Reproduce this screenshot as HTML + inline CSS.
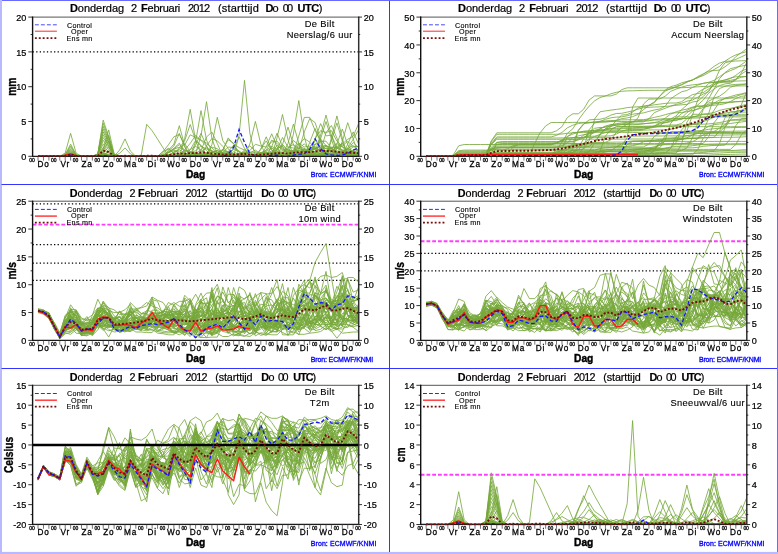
<!DOCTYPE html>
<html lang="nl"><head><meta charset="utf-8">
<title>ECMWF ensemble pluim De Bilt</title>
<style>
html,body{margin:0;padding:0;background:#fff;}
body{width:778px;height:554px;overflow:hidden;}
svg{display:block;font-family:"Liberation Sans", Arial, Helvetica, sans-serif;will-change:transform;}
text{fill:#000;}
.ttl{font-size:10.6px;stroke:#000;stroke-width:0.2px;}
.b{font-weight:bold;}
.sb{font-weight:bold;}
.yt{font-size:9.1px;stroke:#000;stroke-width:0.22px;}
.z{font-size:5px;letter-spacing:-0.15px;stroke:#000;stroke-width:0.3px;}
.dy{font-size:8.2px;letter-spacing:0.9px;stroke:#000;stroke-width:0.28px;}
.xl{font-size:10.2px;font-weight:bold;stroke:#000;stroke-width:0.4px;}
.yl{font-size:10.2px;font-weight:bold;stroke:#000;stroke-width:0.3px;}
.lg{font-size:7.2px;letter-spacing:0.3px;}
text.lg{stroke:#000;stroke-width:0.12px;}
.st{font-size:9.3px;letter-spacing:0.35px;stroke:#000;stroke-width:0.12px;}
.br{font-size:7px;fill:#0000ff;stroke:#0000ff;stroke-width:0.3px;}
.ax{fill:none;stroke:#222;stroke-width:1.2px;}
.tk{fill:none;stroke:#111;stroke-width:0.85px;}
.xtk{fill:none;stroke:#3a3a3a;stroke-width:0.7px;}
.hdot{stroke:#000;stroke-width:1.25px;stroke-dasharray:1.3 2.27;}
.hmag{stroke:#ff3cff;stroke-width:1.9px;stroke-dasharray:3.8 1.95;}
.hzero{stroke:#000;stroke-width:2.5px;}
.mem{fill:none;stroke:#76a83a;stroke-width:0.82px;stroke-linejoin:round;}
.oper{fill:none;stroke:#ff1a1a;stroke-width:1.4px;stroke-linejoin:round;}
.ctrl{fill:none;stroke:#1414ff;stroke-width:1.3px;stroke-dasharray:3.8 2.2;}
.mean{fill:none;stroke:#780c0c;stroke-width:1.9px;stroke-dasharray:1.9 1.87;}
line.ctrl.lg{stroke-dasharray:3.4 2.4;stroke-width:1px;}
line.oper.lg{stroke-width:1.1px;}
line.mean.lg{stroke-dasharray:1.9 2.0;stroke-width:1.75px;}
</style></head><body>
<svg width="778" height="554" viewBox="0 0 778 554">
<rect x="0" y="0" width="778" height="554" fill="#fff"/>
<rect x="1" y="0" width="777" height="1" fill="#6a6aff"/>
<rect x="777" y="0" width="1" height="552" fill="#6a6aff"/>
<rect x="0" y="0" width="2" height="554" fill="#b9b9ff"/>
<rect x="0" y="551.9" width="778" height="2.1" fill="#b9b9ff"/>
<path fill="none" stroke="#3434ff" stroke-width="1" d="M1.5,184.5 H777 M1.5,368.5 H777 M389.5,1 V552"/>
<g>
<text class="ttl" style="font-size:11px" y="12.1"><tspan x="69.9" textLength="54.2" lengthAdjust="spacing"><tspan class="b">D</tspan>onderdag</tspan> <tspan x="131" textLength="5" lengthAdjust="spacing">2</tspan> <tspan x="141.1" textLength="39.2" lengthAdjust="spacing"><tspan class="b">F</tspan>ebruari</tspan> <tspan x="188" textLength="22.2" lengthAdjust="spacing">2012</tspan> <tspan x="217.9" textLength="41" lengthAdjust="spacing">(starttijd</tspan> <tspan x="265.6" textLength="12.9" lengthAdjust="spacing"><tspan class="b">D</tspan>o</tspan> <tspan x="282.8" textLength="10.2" lengthAdjust="spacing">00</tspan> <tspan x="297.6" textLength="24.8" lengthAdjust="spacing"><tspan class="b">UTC</tspan>)</tspan></text>
<clipPath id="c0"><rect x="32.6" y="16.6" width="326.6" height="140.4"/></clipPath>
<line class="hdot" x1="32.6" x2="358.6" y1="51.9" y2="51.9"/>
<g clip-path="url(#c0)">
<path class="mem" d="M38,156.3L43.5,156.3L48.9,156.3L54.3,156.3L59.8,156.3L65.2,156L70.6,154.2L76.1,156L81.5,156.3L86.9,156.3L92.4,156.3L97.8,156.3L103.2,150L108.7,135.4L114.1,154.2L119.5,156.3L125,156.3L130.4,156.3L135.8,156.3L141.3,156.3L146.7,156.3L152.1,156.3L157.6,156.3L163,156.3L168.4,156.3L173.9,156.3L179.3,156.3L184.7,156.3L190.2,156.3L195.6,156.3L201,156.3L206.5,156.3L211.9,156.3L217.3,156.3L222.8,156.3L228.2,156.3L233.6,156.3L239.1,156.3L244.5,156.3L249.9,156.3L255.4,156.3L260.8,156.3L266.2,156.3L271.7,156.3L277.1,156.3L282.5,156.3L288,156.3L293.4,156.3L298.8,156.3L304.3,156.3L309.7,156.3L315.1,156.3L320.6,138.9L326,121.5L331.4,138.9L336.9,156.3L342.3,156.3L347.7,156.3L353.2,156.3L358.6,156.3M38,156.3L43.5,156.3L48.9,156.3L54.3,156.3L59.8,156.3L65.2,156.3L70.6,156.3L76.1,156.3L81.5,156.3L86.9,156.3L92.4,156.3L97.8,156.3L103.2,156.3L108.7,156.3L114.1,156.3L119.5,156.3L125,156.3L130.4,156.3L135.8,156.3L141.3,156.3L146.7,156.3L152.1,156.3L157.6,156.3L163,156.3L168.4,156.3L173.9,155.6L179.3,156.3L184.7,138.4L190.2,109.3L195.6,140.4L201,153.9L206.5,154.8L211.9,154.3L217.3,155.3L222.8,155.4L228.2,155.5L233.6,155.4L239.1,156.2L244.5,156.1L249.9,156.2L255.4,156.3L260.8,153.8L266.2,153.1L271.7,153.2L277.1,152.5L282.5,152.5L288,155.4L293.4,155.5L298.8,154.3L304.3,153.3L309.7,153L315.1,152.1L320.6,152.2L326,151.4L331.4,154L336.9,155.8L342.3,155.8L347.7,154.7L353.2,155.5L358.6,155.8M38,156.3L43.5,156.3L48.9,156.3L54.3,156.3L59.8,156.3L65.2,155.6L70.6,151.4L76.1,155.6L81.5,156.3L86.9,156.3L92.4,156.3L97.8,156.3L103.2,156.3L108.7,156.3L114.1,156.3L119.5,156.3L125,156.3L130.4,156.3L135.8,156.3L141.3,156.3L146.7,156.3L152.1,156.3L157.6,156.3L163,156.3L168.4,156.2L173.9,156.3L179.3,156.3L184.7,156.3L190.2,156.3L195.6,156.3L201,156.3L206.5,156.3L211.9,155.9L217.3,156.2L222.8,156.2L228.2,156.1L233.6,156.2L239.1,153.8L244.5,151.7L249.9,153.8L255.4,154.6L260.8,155.4L266.2,156.2L271.7,156L277.1,155.8L282.5,156.1L288,156.3L293.4,155.8L298.8,156.2L304.3,156.2L309.7,155L315.1,153.8L320.6,155.2L326,155.2L331.4,156.2L336.9,155.5L342.3,141.5L347.7,122.7L353.2,138.8L358.6,155.6M38,156.3L43.5,156.3L48.9,156.3L54.3,156.3L59.8,156.3L65.2,155.8L70.6,152.8L76.1,155.8L81.5,156.3L86.9,156.3L92.4,156.3L97.8,156.3L103.2,156.3L108.7,156.3L114.1,156.3L119.5,156.3L125,156.3L130.4,156.3L135.8,156.3L141.3,156.3L146.7,156.3L152.1,156.3L157.6,156.3L163,156.3L168.4,155L173.9,153.8L179.3,148L184.7,140.7L190.2,124.5L195.6,140.2L201,145.3L206.5,155L211.9,156L217.3,152.8L222.8,149.4L228.2,152.4L233.6,155.7L239.1,153.3L244.5,153.3L249.9,152L255.4,152.5L260.8,155.4L266.2,155.5L271.7,155.7L277.1,155.3L282.5,155.3L288,154.6L293.4,155.1L298.8,155.1L304.3,150.4L309.7,154.4L315.1,144.7L320.6,141.4L326,141.1L331.4,148.1L336.9,153.1L342.3,152.8L347.7,148.5L353.2,145.7L358.6,150.6M38,156.3L43.5,156.3L48.9,156.3L54.3,156.3L59.8,156.3L65.2,156L70.6,153.9L76.1,156L81.5,156.3L86.9,156.3L92.4,156.3L97.8,154.6L103.2,131.9L108.7,142.9L114.1,156.3L119.5,156.3L125,156.3L130.4,156.3L135.8,156.3L141.3,156.3L146.7,156.3L152.1,156.3L157.6,156.3L163,156.3L168.4,156.3L173.9,156.2L179.3,156.3L184.7,156.3L190.2,156.3L195.6,156.2L201,156.3L206.5,156.3L211.9,156.3L217.3,156.3L222.8,156.3L228.2,156.3L233.6,156.3L239.1,156.2L244.5,156.1L249.9,156.2L255.4,156.3L260.8,156.2L266.2,156.3L271.7,156.3L277.1,156.3L282.5,156.3L288,156.1L293.4,156L298.8,155.8L304.3,155.8L309.7,155.9L315.1,155.8L320.6,155.5L326,155.9L331.4,156L336.9,156.1L342.3,156.1L347.7,156.1L353.2,155.8L358.6,155.7M38,156.3L43.5,156.3L48.9,156.3L54.3,156.3L59.8,156.3L65.2,156.1L70.6,154.9L76.1,156.1L81.5,156.3L86.9,156.3L92.4,156.3L97.8,156.3L103.2,156.3L108.7,156.3L114.1,156.3L119.5,156.3L125,156.3L130.4,156.3L135.8,156.3L141.3,156.3L146.7,156.3L152.1,156.3L157.6,156.3L163,156.3L168.4,156.3L173.9,155.8L179.3,156L184.7,155.1L190.2,156.2L195.6,155.8L201,154.7L206.5,153.9L211.9,152.2L217.3,152.8L222.8,155.4L228.2,155.6L233.6,156L239.1,156L244.5,156.3L249.9,156.1L255.4,155.7L260.8,155L266.2,152.7L271.7,153.3L277.1,153.7L282.5,155.1L288,156L293.4,156.2L298.8,154.4L304.3,153.6L309.7,148.2L315.1,146.5L320.6,151.6L326,155L331.4,155.2L336.9,143.9L342.3,129.1L347.7,144.4L353.2,154.1L358.6,155.3M38,156.3L43.5,156.3L48.9,156.3L54.3,156.3L59.8,156.3L65.2,154.8L70.6,145.9L76.1,154.8L81.5,156.3L86.9,156.3L92.4,156.3L97.8,155.8L103.2,153.9L108.7,155.3L114.1,156.3L119.5,156.3L125,156.3L130.4,156.3L135.8,156.3L141.3,156.3L146.7,156.3L152.1,156.3L157.6,156.3L163,156.3L168.4,156.3L173.9,156.3L179.3,156.3L184.7,156.3L190.2,156.3L195.6,156.3L201,156.3L206.5,156.3L211.9,156.3L217.3,156.3L222.8,156.3L228.2,156.3L233.6,156.3L239.1,156.3L244.5,156.3L249.9,156.3L255.4,156.3L260.8,156.3L266.2,156.3L271.7,156.3L277.1,156.3L282.5,156.3L288,156.3L293.4,156.3L298.8,156.3L304.3,156.3L309.7,156.3L315.1,156.3L320.6,156.3L326,156.3L331.4,156.3L336.9,156.3L342.3,156.3L347.7,144.1L353.2,131.9L358.6,144.1M38,156.3L43.5,156.3L48.9,156.3L54.3,156.3L59.8,156.3L65.2,156.3L70.6,156.3L76.1,156.3L81.5,156.3L86.9,156.3L92.4,156.3L97.8,156.3L103.2,156.3L108.7,156.3L114.1,156.3L119.5,156.3L125,156.3L130.4,156.3L135.8,156.3L141.3,156.3L146.7,156.3L152.1,156.3L157.6,156.3L163,156.3L168.4,156.3L173.9,156.3L179.3,156.3L184.7,156.2L190.2,156.3L195.6,156.3L201,156.2L206.5,156.2L211.9,156.3L217.3,156.2L222.8,156L228.2,155.9L233.6,156L239.1,156.1L244.5,156.1L249.9,156.1L255.4,156.3L260.8,156.2L266.2,156.1L271.7,156.3L277.1,156.3L282.5,156.2L288,155.2L293.4,154.5L298.8,155.4L304.3,155.7L309.7,156L315.1,156.2L320.6,156.3L326,155.7L331.4,155.9L336.9,155.6L342.3,155.7L347.7,156.1L353.2,156.1L358.6,156M38,156.3L43.5,156.3L48.9,156.3L54.3,156.3L59.8,156.3L65.2,156.3L70.6,156.3L76.1,156.3L81.5,156.3L86.9,156.3L92.4,156.3L97.8,156.3L103.2,151.7L108.7,141L114.1,154.8L119.5,156.3L125,156.3L130.4,156.3L135.8,156.3L141.3,156.3L146.7,156.3L152.1,156.3L157.6,156.3L163,156.3L168.4,156.1L173.9,156.1L179.3,154.8L184.7,154.1L190.2,152.3L195.6,154.5L201,155.3L206.5,156.1L211.9,155.8L217.3,155.2L222.8,155.4L228.2,156L233.6,156.3L239.1,156.3L244.5,154.9L249.9,155.5L255.4,156.1L260.8,156.2L266.2,156.3L271.7,156.2L277.1,156.3L282.5,156.2L288,154.8L293.4,154L298.8,154.4L304.3,155.8L309.7,155.9L315.1,139L320.6,123.6L326,135.9L331.4,135.1L336.9,147.5L342.3,152.5L347.7,152.1L353.2,153.6L358.6,153M38,156.3L43.5,156.3L48.9,156.3L54.3,156.3L59.8,156.3L65.2,156.3L70.6,156.3L76.1,156.3L81.5,156.3L86.9,156.3L92.4,156.3L97.8,155.9L103.2,154.2L108.7,155.5L114.1,156.3L119.5,156.3L125,156.3L130.4,156.3L135.8,156.3L141.3,156.3L146.7,156.3L152.1,156.3L157.6,156.3L163,156.3L168.4,156.3L173.9,156.3L179.3,156.3L184.7,156.3L190.2,156.3L195.6,156.3L201,156.3L206.5,156.3L211.9,156.3L217.3,156.3L222.8,156.3L228.2,156.3L233.6,156.3L239.1,156.3L244.5,156.3L249.9,156.3L255.4,156.3L260.8,156.3L266.2,156.3L271.7,156.3L277.1,156.3L282.5,156.3L288,156.3L293.4,156.3L298.8,156.3L304.3,156.3L309.7,142.4L315.1,128.5L320.6,142.4L326,156.3L331.4,156.3L336.9,156.3L342.3,156.3L347.7,156.3L353.2,156.3L358.6,156.3M38,156.3L43.5,156.3L48.9,156.3L54.3,156.3L59.8,156.3L65.2,156.3L70.6,156.3L76.1,156.3L81.5,156.3L86.9,156.3L92.4,156.3L97.8,155L103.2,137.5L108.7,146L114.1,156.3L119.5,156.3L125,156.3L130.4,156.3L135.8,156.3L141.3,156.3L146.7,156.3L152.1,156.3L157.6,156.3L163,156.3L168.4,156.2L173.9,156.3L179.3,156.2L184.7,156.1L190.2,155.5L195.6,155.2L201,154.8L206.5,155.9L211.9,156.2L217.3,156.1L222.8,150L228.2,137.9L233.6,144.1L239.1,147.6L244.5,150.1L249.9,153.8L255.4,155.8L260.8,155.6L266.2,156.3L271.7,156.2L277.1,155.7L282.5,155.3L288,155.3L293.4,155.4L298.8,155.6L304.3,153.6L309.7,153.1L315.1,152L320.6,154.6L326,153.9L331.4,150.9L336.9,153.1L342.3,154.3L347.7,153.9L353.2,155.2L358.6,154M38,156.3L43.5,156.3L48.9,156.3L54.3,156.3L59.8,156.3L65.2,156.3L70.6,156.3L76.1,156.3L81.5,156.3L86.9,156.3L92.4,156.3L97.8,156.3L103.2,156.3L108.7,156.3L114.1,156.3L119.5,156.3L125,156.3L130.4,156.3L135.8,156.3L141.3,156.3L146.7,156.3L152.1,156.3L157.6,156.3L163,156.3L168.4,156.2L173.9,151.8L179.3,149.9L184.7,152.6L190.2,155.4L195.6,154L201,135.7L206.5,101.7L211.9,138.3L217.3,154.1L222.8,154.1L228.2,154.7L233.6,154.6L239.1,153.4L244.5,155L249.9,155.7L255.4,155.7L260.8,154.2L266.2,154L271.7,154.4L277.1,154.7L282.5,155.2L288,156.3L293.4,153.4L298.8,146.4L304.3,148.4L309.7,153.2L315.1,154.1L320.6,147.2L326,145.2L331.4,152L336.9,152.7L342.3,154L347.7,153.3L353.2,151.4L358.6,153.8M38,156.3L43.5,156.3L48.9,156.3L54.3,156.3L59.8,156.3L65.2,156.3L70.6,156.3L76.1,156.3L81.5,156.3L86.9,156.3L92.4,156.3L97.8,156.3L103.2,148.4L108.7,129.9L114.1,153.7L119.5,156.3L125,156.3L130.4,156.3L135.8,156.3L141.3,156.3L146.7,156.3L152.1,156.3L157.6,156.3L163,156.3L168.4,156.2L173.9,156.3L179.3,156.3L184.7,156.2L190.2,152.7L195.6,150.7L201,145.8L206.5,150.5L211.9,156.2L217.3,156L222.8,156.1L228.2,156.3L233.6,156.2L239.1,156.1L244.5,156.3L249.9,155.9L255.4,155L260.8,155.8L266.2,156L271.7,156.2L277.1,156.3L282.5,154.5L288,153.9L293.4,151.9L298.8,153.6L304.3,154.6L309.7,153.9L315.1,151.6L320.6,135.1L326,115.1L331.4,135.4L336.9,150.9L342.3,152.7L347.7,155L353.2,155.9L358.6,156.2M38,156.3L43.5,156.3L48.9,156.3L54.3,156.3L59.8,156.3L65.2,156.3L70.6,156.3L76.1,156.3L81.5,156.3L86.9,156.3L92.4,156.3L97.8,156.3L103.2,156.3L108.7,156.3L114.1,156.3L119.5,156.3L125,156.3L130.4,156.3L135.8,156.3L141.3,156.3L146.7,156.3L152.1,156.3L157.6,156.3L163,151.5L168.4,149L173.9,153.4L179.3,153.7L184.7,153L190.2,154.5L195.6,156.2L201,154.3L206.5,145.8L211.9,138.5L217.3,140.8L222.8,146.4L228.2,153.4L233.6,154.1L239.1,155.4L244.5,155.6L249.9,155.8L255.4,156.2L260.8,148.8L266.2,140.9L271.7,150.3L277.1,151.3L282.5,151L288,151.7L293.4,153.8L298.8,151L304.3,153.4L309.7,149.1L315.1,148.3L320.6,150.9L326,132.7L331.4,125.5L336.9,138L342.3,153.2L347.7,154.9L353.2,155.8L358.6,155.8M38,156.3L43.5,156.3L48.9,156.3L54.3,156.3L59.8,156.3L65.2,156.3L70.6,156.3L76.1,156.3L81.5,156.3L86.9,156.3L92.4,156.3L97.8,156.3L103.2,156.3L108.7,156.3L114.1,156.3L119.5,156.3L125,156.3L130.4,156.3L135.8,156.3L141.3,156.3L146.7,156.3L152.1,156.3L157.6,156.3L163,153.8L168.4,147.9L173.9,153.8L179.3,156.3L184.7,156.3L190.2,156.3L195.6,156.3L201,156.3L206.5,156.3L211.9,156.3L217.3,156.3L222.8,156.3L228.2,156.3L233.6,156.3L239.1,156.3L244.5,156.3L249.9,156.3L255.4,156.3L260.8,156.3L266.2,156.3L271.7,156.3L277.1,156.3L282.5,156.3L288,156.3L293.4,156.3L298.8,156.3L304.3,156.3L309.7,156.3L315.1,156.3L320.6,156.3L326,156.3L331.4,156.3L336.9,156.3L342.3,156.3L347.7,156.3L353.2,156.3L358.6,156.3M38,156.3L43.5,156.3L48.9,156.3L54.3,156.3L59.8,156.3L65.2,156.3L70.6,156.3L76.1,156.3L81.5,156.3L86.9,156.3L92.4,156.3L97.8,155.7L103.2,153.5L108.7,155.2L114.1,156.3L119.5,156.3L125,156.3L130.4,156.3L135.8,156.3L141.3,156.3L146.7,156.3L152.1,156.3L157.6,156.3L163,156.3L168.4,156.3L173.9,156L179.3,156.2L184.7,151.7L190.2,149.8L195.6,140.4L201,146.2L206.5,149L211.9,150.9L217.3,152L222.8,153.1L228.2,155.8L233.6,155.4L239.1,156.3L244.5,155.3L249.9,154.7L255.4,155.1L260.8,152.8L266.2,151.6L271.7,148.1L277.1,151.2L282.5,156.3L288,156.1L293.4,149.8L298.8,143L304.3,147L309.7,146.1L315.1,144.3L320.6,139L326,145.6L331.4,147.9L336.9,151.9L342.3,154.9L347.7,147.9L353.2,139.2L358.6,129.8M38,156.3L43.5,156.3L48.9,156.3L54.3,156.3L59.8,156.3L65.2,156.3L70.6,156.3L76.1,156.3L81.5,156.3L86.9,156.3L92.4,156.3L97.8,156L103.2,154.9L108.7,155.7L114.1,156.3L119.5,156.3L125,156.3L130.4,156.3L135.8,156.3L141.3,156.3L146.7,156.3L152.1,156.3L157.6,156.3L163,156.3L168.4,155.7L173.9,155.6L179.3,156.3L184.7,149.9L190.2,143.4L195.6,135.3L201,140.4L206.5,146.1L211.9,154.2L217.3,155.8L222.8,154L228.2,153.4L233.6,155L239.1,155.7L244.5,155.2L249.9,156.2L255.4,155.7L260.8,155.4L266.2,155.2L271.7,156.2L277.1,155.5L282.5,152.4L288,153.9L293.4,155.1L298.8,148.3L304.3,143.8L309.7,149.6L315.1,149.2L320.6,145.3L326,148.5L331.4,151.3L336.9,146.5L342.3,143.4L347.7,152.4L353.2,154L358.6,153.9M38,156.3L43.5,156.3L48.9,156.3L54.3,156.3L59.8,156.3L65.2,155.5L70.6,150.4L76.1,155.5L81.5,156.3L86.9,156.3L92.4,156.3L97.8,156.3L103.2,156.3L108.7,156.3L114.1,156.3L119.5,156.3L125,156.3L130.4,156.3L135.8,156.3L141.3,156.3L146.7,156.3L152.1,156.3L157.6,156.3L163,156.3L168.4,156.3L173.9,156.3L179.3,156.3L184.7,156.3L190.2,156.3L195.6,156.3L201,156.3L206.5,156.3L211.9,156.3L217.3,156.3L222.8,156.3L228.2,156.3L233.6,156.3L239.1,156.3L244.5,156.3L249.9,156.3L255.4,156.3L260.8,156.3L266.2,156.3L271.7,156.3L277.1,156.3L282.5,156.3L288,156.3L293.4,134L298.8,100.6L304.3,136.8L309.7,156.3L315.1,156.3L320.6,156.3L326,156.3L331.4,156.3L336.9,156.3L342.3,156.3L347.7,156.3L353.2,156.3L358.6,156.3M38,156.3L43.5,156.3L48.9,156.3L54.3,156.3L59.8,156.3L65.2,156.3L70.6,156.3L76.1,156.3L81.5,156.3L86.9,156.3L92.4,156.3L97.8,155.2L103.2,140.3L108.7,147.5L114.1,156.3L119.5,156.3L125,156.3L130.4,156.3L135.8,156.3L141.3,156.3L146.7,156.3L152.1,156.3L157.6,156.3L163,156.3L168.4,156.3L173.9,156.3L179.3,156.3L184.7,156.3L190.2,156.3L195.6,156.3L201,156.3L206.5,156.3L211.9,156.3L217.3,156.3L222.8,156.3L228.2,156.3L233.6,156.3L239.1,135.1L244.5,80.4L249.9,133.5L255.4,156.3L260.8,156.3L266.2,156.3L271.7,156.3L277.1,156.3L282.5,156.3L288,156.3L293.4,156.3L298.8,156.3L304.3,156.3L309.7,156.3L315.1,156.3L320.6,156.3L326,156.3L331.4,156.3L336.9,156.3L342.3,156.3L347.7,156.3L353.2,156.3L358.6,156.3M38,156.3L43.5,156.3L48.9,156.3L54.3,156.3L59.8,156.3L65.2,155.1L70.6,147.6L76.1,155.1L81.5,156.3L86.9,156.3L92.4,156.3L97.8,155.9L103.2,150L108.7,152.9L114.1,156.3L119.5,156.3L125,156.3L130.4,156.3L135.8,156.3L141.3,156.3L146.7,156.3L152.1,156.3L157.6,156.3L163,156.3L168.4,156.3L173.9,156.3L179.3,156.3L184.7,156.3L190.2,156.3L195.6,156.3L201,156.3L206.5,156.3L211.9,156.3L217.3,156.3L222.8,156.3L228.2,156.3L233.6,156.3L239.1,156.3L244.5,156.3L249.9,156.3L255.4,156.3L260.8,156.3L266.2,156.3L271.7,156.3L277.1,137.5L282.5,114.5L288,139.6L293.4,156.3L298.8,156.3L304.3,156.3L309.7,156.3L315.1,156.3L320.6,156.3L326,156.3L331.4,156.3L336.9,156.3L342.3,156.3L347.7,156.3L353.2,156.3L358.6,156.3M38,156.3L43.5,156.3L48.9,156.3L54.3,156.3L59.8,156.3L65.2,156.3L70.6,156.3L76.1,156.3L81.5,156.3L86.9,156.3L92.4,156.3L97.8,154.8L103.2,134.7L108.7,144.4L114.1,156.3L119.5,156.3L125,156.3L130.4,156.3L135.8,156.3L141.3,156.3L146.7,156.3L152.1,156.3L157.6,156.3L163,156.3L168.4,156.1L173.9,156.3L179.3,156.1L184.7,155.6L190.2,149.5L195.6,146.4L201,149.8L206.5,153.6L211.9,154.3L217.3,154.8L222.8,152.9L228.2,151.8L233.6,155.3L239.1,155.9L244.5,156L249.9,156.2L255.4,156.3L260.8,156L266.2,156L271.7,155.4L277.1,155.7L282.5,155.3L288,156.3L293.4,152.6L298.8,144.4L304.3,151.6L309.7,153.7L315.1,138.5L320.6,130.7L326,132.5L331.4,130.6L336.9,141.2L342.3,146.3L347.7,153L353.2,153.1L358.6,154M38,156.3L43.5,156.3L48.9,156.3L54.3,156.3L59.8,156.3L65.2,155.9L70.6,153.2L76.1,155.9L81.5,156.3L86.9,156.3L92.4,156.3L97.8,156.2L103.2,155.6L108.7,156L114.1,156.3L119.5,156.3L125,156.3L130.4,156.3L135.8,156.3L141.3,156.3L146.7,156.3L152.1,156.3L157.6,156.3L163,156.3L168.4,156.2L173.9,156.3L179.3,155.9L184.7,156.2L190.2,156.3L195.6,154.7L201,153.6L206.5,155.3L211.9,156.2L217.3,156.1L222.8,156.3L228.2,156.3L233.6,156.3L239.1,156.2L244.5,156.3L249.9,155.7L255.4,155L260.8,154.3L266.2,155.1L271.7,154.6L277.1,154.4L282.5,153.3L288,154.8L293.4,156.1L298.8,156.1L304.3,155.1L309.7,153.9L315.1,154.9L320.6,155.8L326,156.1L331.4,156L336.9,156.1L342.3,156.2L347.7,156.2L353.2,156.3L358.6,156.2M38,156.3L43.5,156.3L48.9,156.3L54.3,156.3L59.8,156.3L65.2,156.3L70.6,156.3L76.1,156.3L81.5,156.3L86.9,156.3L92.4,156.3L97.8,156.3L103.2,156.3L108.7,156.3L114.1,156.3L119.5,156.3L125,156.3L130.4,156.3L135.8,156.3L141.3,156.3L146.7,156.3L152.1,156.3L157.6,156.3L163,155.4L168.4,154.9L173.9,155.6L179.3,156.2L184.7,156.2L190.2,156.1L195.6,156L201,155.3L206.5,155.5L211.9,155.7L217.3,156.2L222.8,156.3L228.2,156.2L233.6,156.1L239.1,156.1L244.5,156L249.9,156.2L255.4,154.9L260.8,152.9L266.2,155.1L271.7,153.4L277.1,152.8L282.5,154.6L288,143.4L293.4,124.2L298.8,143.2L304.3,155.9L309.7,156.2L315.1,155.9L320.6,155.5L326,154.7L331.4,154.7L336.9,153.5L342.3,152.9L347.7,154.8L353.2,155.3L358.6,155.7M38,156.3L43.5,156.3L48.9,156.3L54.3,156.3L59.8,156.3L65.2,156.1L70.6,154.6L76.1,156.1L81.5,156.3L86.9,156.3L92.4,156.3L97.8,156.3L103.2,156.3L108.7,156.3L114.1,156.3L119.5,156.3L125,156.3L130.4,156.3L135.8,156.3L141.3,156.3L146.7,156.3L152.1,156.3L157.6,156.3L163,156.3L168.4,156.3L173.9,156.3L179.3,156.1L184.7,155.6L190.2,156.1L195.6,156.2L201,156.1L206.5,155.9L211.9,155.7L217.3,154.6L222.8,155.8L228.2,156.2L233.6,156.1L239.1,156.3L244.5,155.7L249.9,155L255.4,154L260.8,152.7L266.2,150.3L271.7,146.4L277.1,149.4L282.5,155.7L288,154.6L293.4,153.2L298.8,136L304.3,117.4L309.7,117.4L315.1,130.4L320.6,140.8L326,153.5L331.4,153.8L336.9,153.4L342.3,151.4L347.7,153.2L353.2,155.9L358.6,156.2M38,156.3L43.5,156.3L48.9,156.3L54.3,156.3L59.8,156.3L65.2,156.3L70.6,156.3L76.1,156.3L81.5,156.3L86.9,156.3L92.4,156.3L97.8,156.3L103.2,156.3L108.7,156.3L114.1,156.3L119.5,156.3L125,156.3L130.4,156.3L135.8,156.3L141.3,156.3L146.7,156.3L152.1,156.3L157.6,156.3L163,156L168.4,155.6L173.9,155.1L179.3,155.5L184.7,156L190.2,156L195.6,156.3L201,156.3L206.5,156.2L211.9,156L217.3,155.8L222.8,155.9L228.2,156.2L233.6,155.4L239.1,155.6L244.5,155.4L249.9,155.5L255.4,155.9L260.8,156.1L266.2,156.2L271.7,156L277.1,156.1L282.5,156.1L288,155.3L293.4,152.2L298.8,150.1L304.3,131.9L309.7,118.7L315.1,122.5L320.6,139.3L326,156.1L331.4,156L336.9,155.6L342.3,155.3L347.7,155.4L353.2,155.7L358.6,156M38,156.3L43.5,156.3L48.9,156.3L54.3,156.3L59.8,156.3L65.2,156.3L70.6,156.3L76.1,156.3L81.5,156.3L86.9,156.3L92.4,156.3L97.8,156.3L103.2,156.3L108.7,156.3L114.1,156.3L119.5,156.3L125,156.3L130.4,156.3L135.8,156.3L141.3,156.3L146.7,156.3L152.1,156.3L157.6,156.3L163,156.3L168.4,156.3L173.9,156.3L179.3,156.2L184.7,156.2L190.2,156.2L195.6,156.1L201,156.2L206.5,156.3L211.9,156.3L217.3,156.1L222.8,156.3L228.2,156.2L233.6,156.3L239.1,156.2L244.5,156.3L249.9,156.3L255.4,156.2L260.8,156.3L266.2,156.3L271.7,156.2L277.1,156.2L282.5,156.2L288,156.1L293.4,156L298.8,156.3L304.3,156.2L309.7,156.2L315.1,156.2L320.6,155.8L326,155.5L331.4,155.8L336.9,156.1L342.3,155.9L347.7,156.2L353.2,155.7L358.6,156.3M38,156.3L43.5,156.3L48.9,156.3L54.3,156.3L59.8,156.3L65.2,156.2L70.6,155.6L76.1,156.2L81.5,156.3L86.9,156.3L92.4,156.3L97.8,155.9L103.2,154.2L108.7,155.5L114.1,156.3L119.5,156.3L125,156.3L130.4,156.3L135.8,156.3L141.3,156.3L146.7,156.3L152.1,156.3L157.6,156.3L163,156.3L168.4,156.2L173.9,156.1L179.3,156.2L184.7,156.2L190.2,156.3L195.6,156.3L201,156.3L206.5,156.2L211.9,155.9L217.3,155.7L222.8,156L228.2,156.3L233.6,156.3L239.1,156.2L244.5,156.2L249.9,156.1L255.4,156.2L260.8,156.1L266.2,156L271.7,155.8L277.1,156.1L282.5,144.6L288,127.1L293.4,144.6L298.8,156L304.3,155.8L309.7,155.7L315.1,156L320.6,156.1L326,156.2L331.4,156.2L336.9,156.3L342.3,156.2L347.7,155.9L353.2,156.2L358.6,156.1M38,156.3L43.5,156.3L48.9,156.3L54.3,156.3L59.8,156.3L65.2,156.3L70.6,156.3L76.1,156.3L81.5,156.3L86.9,156.3L92.4,156.3L97.8,156.3L103.2,156.3L108.7,156.3L114.1,156.3L119.5,156.3L125,156.3L130.4,156.3L135.8,156.3L141.3,156.3L146.7,156.3L152.1,156.3L157.6,156.3L163,156.3L168.4,152.3L173.9,148.4L179.3,143.1L184.7,152.3L190.2,156.3L195.6,156.3L201,156.3L206.5,156.3L211.9,156.3L217.3,156.3L222.8,156.3L228.2,156.3L233.6,156.3L239.1,156.3L244.5,156.3L249.9,156.3L255.4,156.3L260.8,156.3L266.2,156.3L271.7,156.3L277.1,156.3L282.5,156.3L288,156.3L293.4,156.3L298.8,156.3L304.3,156.3L309.7,156.3L315.1,156.3L320.6,156.3L326,156.3L331.4,156.3L336.9,156.3L342.3,156.3L347.7,156.3L353.2,156.3L358.6,156.3M38,156.3L43.5,156.3L48.9,156.3L54.3,156.3L59.8,156.3L65.2,155.3L70.6,149.3L76.1,155.3L81.5,156.3L86.9,156.3L92.4,156.3L97.8,155.7L103.2,147.3L108.7,151.3L114.1,156.3L119.5,156.3L125,156.3L130.4,156.3L135.8,156.3L141.3,156.3L146.7,156.3L152.1,156.3L157.6,156.3L163,156.3L168.4,156.3L173.9,156.3L179.3,156.3L184.7,156.3L190.2,156.3L195.6,156.3L201,156.3L206.5,156.3L211.9,156.3L217.3,156.3L222.8,156.3L228.2,156.3L233.6,156.3L239.1,156.3L244.5,156.3L249.9,156.3L255.4,156.3L260.8,149.5L266.2,136.8L271.7,149.5L277.1,156.3L282.5,156.3L288,156.3L293.4,156.3L298.8,156.3L304.3,156.3L309.7,156.3L315.1,156.3L320.6,156.3L326,156.3L331.4,156.3L336.9,156.3L342.3,156.3L347.7,156.3L353.2,156.3L358.6,156.3M38,156.3L43.5,156.3L48.9,156.3L54.3,156.3L59.8,156.3L65.2,154.6L70.6,144.1L76.1,154.6L81.5,156.3L86.9,156.3L92.4,156.3L97.8,156.3L103.2,156.3L108.7,156.3L114.1,156.3L119.5,153.4L125,147.9L130.4,153.8L135.8,156.3L141.3,156.3L146.7,156.3L152.1,156.3L157.6,156.3L163,156.3L168.4,152.2L173.9,149L179.3,147.3L184.7,150.6L190.2,152.2L195.6,153.8L201,155.5L206.5,154.4L211.9,152.6L217.3,150.3L222.8,154.2L228.2,154.8L233.6,155.4L239.1,156.2L244.5,156.2L249.9,155.8L255.4,154.8L260.8,154.7L266.2,154.4L271.7,153.5L277.1,148.2L282.5,146.3L288,150.5L293.4,152.4L298.8,153.6L304.3,151.3L309.7,153.3L315.1,156.2L320.6,152.8L326,152.5L331.4,149.2L336.9,153L342.3,154.4L347.7,152.4L353.2,151.2L358.6,153.4M38,156.3L43.5,156.3L48.9,156.3L54.3,156.3L59.8,156.3L65.2,156.3L70.6,156.3L76.1,156.3L81.5,156.3L86.9,156.3L92.4,156.3L97.8,156.3L103.2,156.3L108.7,156.3L114.1,156.3L119.5,156.3L125,156.3L130.4,156.3L135.8,156.3L141.3,156.3L146.7,156.3L152.1,156.3L157.6,156.3L163,156.3L168.4,156.3L173.9,156.3L179.3,156.3L184.7,156.3L190.2,156.3L195.6,156.3L201,156.3L206.5,156.3L211.9,144.6L217.3,117.3L222.8,140.7L228.2,148.5L233.6,156.3L239.1,156.3L244.5,156.3L249.9,156.3L255.4,156.3L260.8,156.3L266.2,156.3L271.7,156.3L277.1,156.3L282.5,156.3L288,156.3L293.4,156.3L298.8,156.3L304.3,156.3L309.7,156.3L315.1,156.3L320.6,156.3L326,156.3L331.4,156.3L336.9,156.3L342.3,156.3L347.7,156.3L353.2,156.3L358.6,156.3M38,156.3L43.5,156.3L48.9,156.3L54.3,156.3L59.8,156.3L65.2,155.9L70.6,153.5L76.1,155.9L81.5,156.3L86.9,156.3L92.4,156.3L97.8,155.6L103.2,152.8L108.7,154.9L114.1,156.3L119.5,156.3L125,156.3L130.4,156.3L135.8,156.3L141.3,156.3L146.7,156.3L152.1,156.3L157.6,156.3L163,156.3L168.4,156.3L173.9,156.2L179.3,156L184.7,155.8L190.2,155.1L195.6,155.7L201,155L206.5,154L211.9,152.2L217.3,154.9L222.8,155L228.2,154.6L233.6,155.7L239.1,155.8L244.5,154.9L249.9,152.9L255.4,150.1L260.8,154.1L266.2,156L271.7,155.5L277.1,155.5L282.5,156.1L288,155.4L293.4,155.1L298.8,152.7L304.3,149.2L309.7,152.5L315.1,156L320.6,155.9L326,152L331.4,148.1L336.9,147.5L342.3,143.9L347.7,139.3L353.2,136.3L358.6,123.6M38,156.3L43.5,156.3L48.9,156.3L54.3,156.3L59.8,156.3L65.2,156L70.6,154.2L76.1,156L81.5,156.3L86.9,156.3L92.4,156.3L97.8,156.1L103.2,152.8L108.7,154.4L114.1,156.3L119.5,156.3L125,156.3L130.4,156.3L135.8,156.3L141.3,156.3L146.7,156.3L152.1,156.3L157.6,156.3L163,156.3L168.4,156.3L173.9,156.3L179.3,156L184.7,156.2L190.2,156L195.6,155.6L201,155.2L206.5,155.9L211.9,155.9L217.3,155.8L222.8,156L228.2,156.2L233.6,155.6L239.1,153.8L244.5,153.9L249.9,155.8L255.4,156.1L260.8,156.2L266.2,156.2L271.7,146.7L277.1,133.2L282.5,146.5L288,155.9L293.4,155.9L298.8,156L304.3,155.7L309.7,155.3L315.1,155.4L320.6,153.9L326,154.6L331.4,155.1L336.9,155.4L342.3,156L347.7,155.6L353.2,156.1L358.6,156.3M38,156.3L43.5,156.3L48.9,156.3L54.3,156.3L59.8,156.3L65.2,156.3L70.6,156.3L76.1,156.3L81.5,156.3L86.9,156.3L92.4,156.3L97.8,156.3L103.2,156.3L108.7,156.3L114.1,156.3L119.5,150.2L125,138.9L130.4,151.1L135.8,156.3L141.3,156.3L146.7,156.3L152.1,156.3L157.6,156.3L163,156.3L168.4,152.5L173.9,149.5L179.3,154.2L184.7,156.2L190.2,154.2L195.6,152.4L201,154L206.5,156L211.9,156L217.3,156.2L222.8,155.6L228.2,152.2L233.6,149.4L239.1,151.7L244.5,156.3L249.9,155.7L255.4,155.6L260.8,154.6L266.2,153.7L271.7,152.5L277.1,145.3L282.5,150.2L288,149L293.4,140.5L298.8,145.1L304.3,138.6L309.7,142.1L315.1,148.3L320.6,150.4L326,146.2L331.4,153.5L336.9,155.4L342.3,156.3L347.7,155.5L353.2,155.9L358.6,156M38,156.3L43.5,156.3L48.9,156.3L54.3,156.3L59.8,156.3L65.2,156.2L70.6,155.3L76.1,156.2L81.5,156.3L86.9,156.3L92.4,156.3L97.8,155.4L103.2,143.8L108.7,149.4L114.1,156.3L119.5,156.3L125,156.3L130.4,156.3L135.8,156.3L141.3,156.3L146.7,156.3L152.1,156.3L157.6,156.3L163,156.3L168.4,154.9L173.9,152.5L179.3,149.4L184.7,143.9L190.2,151.5L195.6,153.4L201,154.6L206.5,152.8L211.9,147.1L217.3,148.8L222.8,152.9L228.2,155.6L233.6,155.3L239.1,154.6L244.5,155.4L249.9,143.9L255.4,121.4L260.8,144L266.2,156.2L271.7,155.8L277.1,149.7L282.5,144.4L288,150.6L293.4,151.4L298.8,152.6L304.3,154.3L309.7,154.7L315.1,154L320.6,153.8L326,156.2L331.4,156.2L336.9,156.3L342.3,156L347.7,149.8L353.2,142.5L358.6,147.5M38,156.3L43.5,156.3L48.9,156.3L54.3,156.3L59.8,156.3L65.2,156.3L70.6,156.3L76.1,156.3L81.5,156.3L86.9,156.3L92.4,156.3L97.8,156.3L103.2,154.8L108.7,151.4L114.1,155.8L119.5,156.3L125,156.3L130.4,156.3L135.8,156.3L141.3,156.3L146.7,156.3L152.1,156.3L157.6,156.3L163,156.3L168.4,156.2L173.9,156.2L179.3,156.3L184.7,156.1L190.2,155.8L195.6,156.2L201,156.3L206.5,155.9L211.9,156.2L217.3,154.3L222.8,152.6L228.2,147L233.6,147.6L239.1,151L244.5,154.9L249.9,156.3L255.4,156.2L260.8,156.2L266.2,155.3L271.7,153.8L277.1,155.2L282.5,155.9L288,155.9L293.4,154.9L298.8,156.2L304.3,156.1L309.7,155.9L315.1,155.5L320.6,156.3L326,156L331.4,140.8L336.9,122.9L342.3,141.1L347.7,155.9L353.2,153.3L358.6,149.3M38,156.3L43.5,156.3L48.9,156.3L54.3,156.3L59.8,156.3L65.2,156.3L70.6,156.3L76.1,156.3L81.5,156.3L86.9,156.3L92.4,156.3L97.8,156.3L103.2,156.3L108.7,156.3L114.1,156.3L119.5,156.3L125,156.3L130.4,156.3L135.8,156.3L141.3,156.3L146.7,156.3L152.1,156.3L157.6,156.3L163,151.7L168.4,144.8L173.9,136.8L179.3,134.4L184.7,145.1L190.2,134.8L195.6,137.4L201,140L206.5,143.1L211.9,147.9L217.3,152.6L222.8,150.8L228.2,152.4L233.6,153.8L239.1,155.4L244.5,155.9L249.9,155.9L255.4,155.8L260.8,156.1L266.2,156.3L271.7,156.1L277.1,156.3L282.5,153.5L288,149.4L293.4,151.8L298.8,150.4L304.3,150.2L309.7,151.2L315.1,147.7L320.6,147L326,145.7L331.4,148.2L336.9,151.9L342.3,155.6L347.7,152.2L353.2,150.1L358.6,149.8M38,156.3L43.5,156.3L48.9,156.3L54.3,156.3L59.8,156.3L65.2,156.2L70.6,155.3L76.1,156.2L81.5,156.3L86.9,156.3L92.4,156.3L97.8,154L103.2,123.2L108.7,138.1L114.1,156.3L119.5,156.3L125,156.3L130.4,156.3L135.8,156.3L141.3,156.3L146.7,156.3L152.1,156.3L157.6,156.3L163,156.3L168.4,156.2L173.9,155.4L179.3,154.7L184.7,155.4L190.2,154.7L195.6,153.6L201,155.2L206.5,155.4L211.9,155.8L217.3,155.8L222.8,156.2L228.2,155.8L233.6,153.8L239.1,155.9L244.5,155.8L249.9,155.8L255.4,155.2L260.8,155.3L266.2,153L271.7,151.1L277.1,153.4L282.5,153.8L288,147.3L293.4,144.5L298.8,148.6L304.3,149.5L309.7,153.2L315.1,155.8L320.6,155.4L326,154.5L331.4,155L336.9,153.8L342.3,150.8L347.7,148.7L353.2,151L358.6,154.7M38,156.3L43.5,156.3L48.9,156.3L54.3,156.3L59.8,156.3L65.2,156.3L70.6,156.3L76.1,156.3L81.5,156.3L86.9,156.3L92.4,156.3L97.8,156L103.2,154.6L108.7,155.6L114.1,156.3L119.5,156.3L125,156.3L130.4,156.3L135.8,156.3L141.3,156.3L146.7,156.3L152.1,156.3L157.6,156.3L163,156.3L168.4,156.3L173.9,156.3L179.3,156.2L184.7,156.3L190.2,156.2L195.6,156.3L201,156.3L206.5,156.1L211.9,156.3L217.3,156.3L222.8,156L228.2,156.1L233.6,156.3L239.1,156.2L244.5,156.1L249.9,156L255.4,156.3L260.8,156.2L266.2,146.7L271.7,133.8L277.1,147.1L282.5,156.2L288,155.3L293.4,154.4L298.8,153L304.3,154.4L309.7,150.9L315.1,148.8L320.6,147.3L326,152.9L331.4,154.6L336.9,156.3L342.3,155L347.7,154.4L353.2,154.5L358.6,154.5M38,156.3L43.5,156.3L48.9,156.3L54.3,156.3L59.8,156.3L65.2,156.3L70.6,156.3L76.1,156.3L81.5,156.3L86.9,156.3L92.4,156.3L97.8,156.3L103.2,156.3L108.7,156.3L114.1,156.3L119.5,156.3L125,156.3L130.4,156.3L135.8,156.3L141.3,155L146.7,124.3L152.1,130.7L157.6,139.2L163,147.8L168.4,156.3L173.9,156.3L179.3,156.3L184.7,156.2L190.2,156.3L195.6,156.3L201,156L206.5,156L211.9,155.5L217.3,156L222.8,155.9L228.2,156.2L233.6,156.1L239.1,156.2L244.5,156.3L249.9,156.3L255.4,156L260.8,155.1L266.2,153.2L271.7,154.8L277.1,155.4L282.5,156.3L288,156.3L293.4,156.2L298.8,156L304.3,155.5L309.7,155.8L315.1,155.2L320.6,153.5L326,152.9L331.4,153.9L336.9,153.6L342.3,154.4L347.7,155.9L353.2,156.3L358.6,156.3M38,156.3L43.5,156.3L48.9,156.3L54.3,156.3L59.8,156.3L65.2,156.3L70.6,156.3L76.1,156.3L81.5,156.3L86.9,156.3L92.4,156.3L97.8,153.8L103.2,120.1L108.7,136.4L114.1,156.3L119.5,156.3L125,156.3L130.4,156.3L135.8,156.3L141.3,156.3L146.7,156.3L152.1,156.3L157.6,156.3L163,156.3L168.4,151.1L173.9,146L179.3,133.3L184.7,147.1L190.2,156.3L195.6,144.8L201,133.3L206.5,146L211.9,156.3L217.3,156.3L222.8,156.3L228.2,151.8L233.6,145.2L239.1,151.8L244.5,156.3L249.9,156.3L255.4,156.3L260.8,156.3L266.2,156.3L271.7,156.3L277.1,156.3L282.5,156.1L288,156.2L293.4,156.3L298.8,155.9L304.3,155.6L309.7,155.2L315.1,155.5L320.6,155.8L326,156.1L331.4,156.1L336.9,156.2L342.3,156.2L347.7,156.2L353.2,156.1L358.6,156.1M38,156.3L43.5,156.3L48.9,156.3L54.3,156.3L59.8,156.3L65.2,156.3L70.6,156.3L76.1,156.3L81.5,156.3L86.9,156.3L92.4,156.3L97.8,154.2L103.2,126.4L108.7,139.8L114.1,156.3L119.5,156.3L125,156.3L130.4,156.3L135.8,156.3L141.3,156.3L146.7,156.3L152.1,156.3L157.6,156.3L163,156.3L168.4,152.6L173.9,148.7L179.3,144.8L184.7,149.9L190.2,152.2L195.6,154.4L201,156.2L206.5,155L211.9,156.1L217.3,156.2L222.8,154.5L228.2,153.9L233.6,151.9L239.1,154.4L244.5,153.2L249.9,150.5L255.4,144.3L260.8,146L266.2,147.1L271.7,142L277.1,141.1L282.5,148.3L288,152.3L293.4,150.6L298.8,152.6L304.3,153.5L309.7,146.8L315.1,149.9L320.6,149.6L326,154.6L331.4,155.1L336.9,148.3L342.3,145.8L347.7,141.3L353.2,146.5L358.6,146.6M38,156.3L43.5,156.3L48.9,156.3L54.3,156.3L59.8,156.3L65.2,153.1L70.6,133.3L76.1,153.1L81.5,156.3L86.9,156.3L92.4,156.3L97.8,156.3L103.2,156.3L108.7,156.3L114.1,156.3L119.5,156.3L125,156.3L130.4,156.3L135.8,156.3L141.3,156.3L146.7,156.3L152.1,156.3L157.6,156.3L163,154.6L168.4,152.8L173.9,150.7L179.3,151.9L184.7,154.5L190.2,156.2L195.6,154.9L201,152.3L206.5,147.8L211.9,150.8L217.3,155.3L222.8,149.8L228.2,139.7L233.6,143.3L239.1,155.2L244.5,150L249.9,145.7L255.4,151.5L260.8,154.3L266.2,150.3L271.7,140.1L277.1,143.4L282.5,149.4L288,153.1L293.4,150.9L298.8,147.9L304.3,152L309.7,150L315.1,151.6L320.6,148.8L326,148.6L331.4,148.5L336.9,143.5L342.3,147.2L347.7,149.5L353.2,151.9L358.6,152.5M38,156.3L43.5,156.3L48.9,156.3L54.3,156.3L59.8,156.3L65.2,155.7L70.6,152.1L76.1,155.7L81.5,156.3L86.9,156.3L92.4,156.3L97.8,156.3L103.2,156.3L108.7,156.3L114.1,156.3L119.5,156.3L125,156.3L130.4,156.3L135.8,156.3L141.3,156.3L146.7,156.3L152.1,156.3L157.6,156.3L163,156.3L168.4,156.3L173.9,156.3L179.3,156.2L184.7,156.3L190.2,155.5L195.6,141.9L201,110.6L206.5,140L211.9,152L217.3,150.7L222.8,152.7L228.2,154.5L233.6,155.9L239.1,153.4L244.5,152.3L249.9,154.5L255.4,154.8L260.8,152.6L266.2,152.8L271.7,154L277.1,149.4L282.5,137.5L288,147.1L293.4,148L298.8,153.1L304.3,148.7L309.7,150.2L315.1,151.9L320.6,153.7L326,151.5L331.4,147.1L336.9,147L342.3,150.3L347.7,151L353.2,146.9L358.6,146.5M38,156.3L43.5,156.3L48.9,156.3L54.3,156.3L59.8,156.3L65.2,156.3L70.6,156.3L76.1,156.3L81.5,156.3L86.9,156.3L92.4,156.3L97.8,156.3L103.2,156.3L108.7,156.3L114.1,156.3L119.5,156.3L125,156.3L130.4,156.3L135.8,156.3L141.3,156.3L146.7,156.3L152.1,156.3L157.6,156.3L163,156.3L168.4,156.3L173.9,156.3L179.3,156.3L184.7,156.2L190.2,156.3L195.6,156.2L201,156.2L206.5,156.3L211.9,156.2L217.3,156.3L222.8,156.3L228.2,156.3L233.6,156.3L239.1,156.3L244.5,156L249.9,156.2L255.4,156.1L260.8,155.1L266.2,154.2L271.7,155.3L277.1,155.6L282.5,156L288,156.3L293.4,156.3L298.8,156.1L304.3,155.8L309.7,155.1L315.1,155.5L320.6,154.7L326,155L331.4,155L336.9,155.7L342.3,156.1L347.7,155.7L353.2,155.4L358.6,155.8M38,156.3L43.5,156.3L48.9,156.3L54.3,156.3L59.8,156.3L65.2,156.3L70.6,156.3L76.1,156.3L81.5,156.3L86.9,156.3L92.4,156.3L97.8,156.3L103.2,156.3L108.7,156.3L114.1,156.3L119.5,156.3L125,156.3L130.4,156.3L135.8,156.3L141.3,156.3L146.7,156.3L152.1,156.3L157.6,156.3L163,156.3L168.4,150.2L173.9,144.1L179.3,125.7L184.7,145.6L190.2,156.3L195.6,156.3L201,156.3L206.5,156.3L211.9,156.3L217.3,156.3L222.8,156.3L228.2,156.3L233.6,156.3L239.1,156.3L244.5,156.3L249.9,156.3L255.4,156.3L260.8,156.3L266.2,156.3L271.7,156.3L277.1,156.3L282.5,156.3L288,156.3L293.4,156.3L298.8,156.3L304.3,156.3L309.7,156.3L315.1,156.3L320.6,156.3L326,156.3L331.4,156.3L336.9,156.3L342.3,156.3L347.7,156.3L353.2,156.3L358.6,156.3M38,156.3L43.5,156.3L48.9,156.3L54.3,156.3L59.8,156.3L65.2,156.3L70.6,156.3L76.1,156.3L81.5,156.3L86.9,156.3L92.4,156.3L97.8,156L103.2,154.9L108.7,155.7L114.1,156.3L119.5,156.3L125,156.3L130.4,156.3L135.8,156.3L141.3,156.3L146.7,156.3L152.1,156.3L157.6,156.3L163,156.3L168.4,156.3L173.9,156.3L179.3,156.3L184.7,156.3L190.2,156.3L195.6,156.3L201,156.3L206.5,156.3L211.9,156.3L217.3,156.3L222.8,156.3L228.2,156.3L233.6,148.5L239.1,136.8L244.5,148.5L249.9,156.3L255.4,156.3L260.8,156.3L266.2,156.3L271.7,156.3L277.1,156.3L282.5,156.3L288,156.3L293.4,156.3L298.8,156.3L304.3,156.3L309.7,156.3L315.1,156.3L320.6,156.3L326,156.3L331.4,156.3L336.9,156.3L342.3,156.3L347.7,156.3L353.2,156.3L358.6,156.3M38,156.3L43.5,156.3L48.9,156.3L54.3,156.3L59.8,156.3L65.2,156.3L70.6,156.3L76.1,156.3L81.5,156.3L86.9,156.3L92.4,156.3L97.8,156.3L103.2,153.4L108.7,146.6L114.1,155.3L119.5,156.3L125,156.3L130.4,156.3L135.8,156.3L141.3,156.3L146.7,156.3L152.1,156.3L157.6,156.3L163,156.3L168.4,156.3L173.9,156.3L179.3,156.3L184.7,156.3L190.2,156.3L195.6,156.3L201,156.3L206.5,156.3L211.9,156.3L217.3,156.3L222.8,156.3L228.2,156.3L233.6,156.3L239.1,156.3L244.5,156.3L249.9,156.3L255.4,156.3L260.8,156.3L266.2,156.3L271.7,156.3L277.1,156.3L282.5,156.3L288,156.3L293.4,156.3L298.8,156.3L304.3,156.3L309.7,156.3L315.1,156.3L320.6,156.3L326,156.3L331.4,138.1L336.9,115.9L342.3,138.1L347.7,156.3L353.2,156.3L358.6,156.3M38,156.3L43.5,156.3L48.9,156.3L54.3,156.3L59.8,156.3L65.2,156.1L70.6,154.9L76.1,156.1L81.5,156.3L86.9,156.3L92.4,156.3L97.8,154.4L103.2,129.2L108.7,141.4L114.1,156.3L119.5,156.3L125,156.3L130.4,156.3L135.8,156.3L141.3,156.3L146.7,156.3L152.1,156.3L157.6,156.3L163,156.3L168.4,156.3L173.9,156.1L179.3,156L184.7,155.8L190.2,156.1L195.6,156.2L201,156.3L206.5,156.2L211.9,156.3L217.3,156.3L222.8,156.3L228.2,156.3L233.6,155.5L239.1,155L244.5,155.4L249.9,155.9L255.4,156.1L260.8,156.3L266.2,156.3L271.7,156.3L277.1,156.2L282.5,156.3L288,156.2L293.4,156.3L298.8,156.3L304.3,156.2L309.7,156.2L315.1,155.7L320.6,155.9L326,156.2L331.4,155.9L336.9,156.3L342.3,156L347.7,156.1L353.2,156.2L358.6,156.2M38,156.3L43.5,156.3L48.9,156.3L54.3,156.3L59.8,156.3L65.2,156.3L70.6,156.3L76.1,156.3L81.5,156.3L86.9,156.3L92.4,156.3L97.8,156.1L103.2,155.3L108.7,155.9L114.1,156.3L119.5,156.3L125,156.3L130.4,156.3L135.8,156.3L141.3,156.3L146.7,156.3L152.1,156.3L157.6,156.3L163,156.3L168.4,156.3L173.9,156.2L179.3,155.6L184.7,155.4L190.2,156.3L195.6,153L201,150.4L206.5,137L211.9,132L217.3,143.5L222.8,156.2L228.2,156.3L233.6,154.8L239.1,155.6L244.5,156.3L249.9,155.7L255.4,156.1L260.8,155.9L266.2,155.4L271.7,156L277.1,155.6L282.5,155.9L288,154.7L293.4,154.8L298.8,155.6L304.3,153.7L309.7,153.9L315.1,153.4L320.6,151.2L326,150.5L331.4,150.1L336.9,148.3L342.3,149.7L347.7,151.9L353.2,152.4L358.6,153.4"/>
<path class="oper" d="M38.03,156.3L43.47,156.3L48.9,156.3L54.33,156.3L59.77,156.3L65.2,155.26L70.63,153.86L76.07,155.6L81.5,156.3L86.93,156.3L92.37,156.3L97.8,156.3L103.23,155.95L108.67,156.3L114.1,156.3L119.53,156.3L124.97,156.3L130.4,156.3L135.83,156.3L141.27,156.3L146.7,156.3L152.13,156.3L157.57,156.3L163,156.3L168.43,156.3L173.87,156.3L179.3,156.3L184.73,156.3L190.17,156.3L195.6,156.3L201.03,156.3L206.47,156.3L211.9,156.3L217.33,156.3L222.77,156.3L228.2,156.3L233.63,156.3L239.07,156.3L244.5,156.3L249.93,156.3"/>
<path class="ctrl" d="M38.03,156.3L43.47,156.3L48.9,156.3L54.33,156.3L59.77,156.3L65.2,156.3L70.63,155.26L76.07,156.3L81.5,156.3L86.93,156.3L92.37,156.3L97.8,156.3L103.23,155.6L108.67,156.3L114.1,156.3L119.53,156.3L124.97,156.3L130.4,156.3L135.83,156.3L141.27,156.3L146.7,156.3L152.13,156.3L157.57,156.3L163,156.3L168.43,156.3L173.87,156.3L179.3,156.3L184.73,156.3L190.17,156.3L195.6,156.3L201.03,156.3L206.47,156.3L211.9,156.3L217.33,156.3L222.77,156.3L228.2,154.21L233.63,147.25L239.07,129.5L244.5,142.38L249.93,153.86L255.37,155.6L260.8,156.3L266.23,156.3L271.67,155.26L277.1,155.26L282.53,156.3L287.97,156.3L293.4,155.26L298.83,154.21L304.27,153.86L309.7,149.34L315.13,138.9L320.57,148.64L326,153.86L331.43,154.91L336.87,155.26L342.3,154.91L347.73,153.52L353.17,150.04L358.6,147.95"/>
<path class="ax" style="stroke:#1c1c1c;stroke-width:1.3px" d="M32.1,156.3H359.1"/>
<path class="mean" d="M38.03,156.3L43.47,156.3L48.9,156.3L54.33,156.3L59.77,156.3L65.2,156.02L70.63,154.31L76.07,156.02L81.5,156.3L86.93,156.3L92.37,156.3L97.8,155.89L103.23,150.69L108.67,151.98L114.1,156.15L119.53,156.12L124.97,155.78L130.4,156.15L135.83,156.3L141.27,156.27L146.7,155.66L152.13,155.79L157.57,155.96L163,155.83L168.43,155.02L173.87,154.3L179.3,153.35L184.73,153.86L190.17,153.12L195.6,153.15L201.03,152.48L206.47,152.72L211.9,153.73L217.33,153.95L222.77,154.62L228.2,154.44L233.63,154.58L239.07,154.5L244.5,153.75L249.93,154.74L255.37,154.68L260.8,154.79L266.23,154.22L271.67,153.7L277.1,153.23L282.53,153.14L287.97,153.6L293.4,152.91L298.83,152.07L304.27,152.16L309.7,152.11L315.13,151.45L320.57,150.77L326,150.98L331.43,151.3L336.87,151.71L342.3,152.57L347.73,152.76L353.17,152.79L358.6,153.28"/>
</g>
<path class="ax" style="stroke:#555;stroke-width:1px" d="M32.1,17.1H359.1"/>
<path class="ax" style="stroke:#303030;stroke-width:1.5px" d="M358.7,16.6V156.9"/>
<path class="ax" style="stroke:#111;stroke-width:1.4px" d="M32.6,16.6V156.9"/>
<text class="yt" transform="translate(26.4,160.05) scale(1,1.05)" text-anchor="end">0</text>
<text class="yt" transform="translate(363.7,160.05) scale(1,1.05)">0</text>
<text class="yt" transform="translate(26.4,125.25) scale(1,1.05)" text-anchor="end">5</text>
<text class="yt" transform="translate(363.7,125.25) scale(1,1.05)">5</text>
<text class="yt" transform="translate(26.4,90.45) scale(1,1.05)" text-anchor="end">10</text>
<text class="yt" transform="translate(363.7,90.45) scale(1,1.05)">10</text>
<text class="yt" transform="translate(26.4,55.65) scale(1,1.05)" text-anchor="end">15</text>
<text class="yt" transform="translate(363.7,55.65) scale(1,1.05)">15</text>
<text class="yt" transform="translate(26.4,20.85) scale(1,1.05)" text-anchor="end">20</text>
<text class="yt" transform="translate(363.7,20.85) scale(1,1.05)">20</text>
<path class="tk" d="M32.6,156.3h-4.3M358.6,156.3h3.44M32.6,138.9h-2M358.6,138.9h1.6M32.6,121.5h-4.3M358.6,121.5h3.44M32.6,104.1h-2M358.6,104.1h1.6M32.6,86.7h-4.3M358.6,86.7h3.44M32.6,69.3h-2M358.6,69.3h1.6M32.6,51.9h-4.3M358.6,51.9h3.44M32.6,34.5h-2M358.6,34.5h1.6M32.6,17.1h-4.3M358.6,17.1h3.44"/>
<path class="xtk" d="M38.03,156.3v4.3M43.47,156.3v4.3M48.9,156.3v4.3M59.77,156.3v4.3M65.2,156.3v4.3M70.63,156.3v4.3M81.5,156.3v4.3M86.93,156.3v4.3M92.37,156.3v4.3M103.23,156.3v4.3M108.67,156.3v4.3M114.1,156.3v4.3M124.97,156.3v4.3M130.4,156.3v4.3M135.83,156.3v4.3M146.7,156.3v4.3M152.13,156.3v4.3M157.57,156.3v4.3M168.43,156.3v4.3M173.87,156.3v4.3M179.3,156.3v4.3M190.17,156.3v4.3M195.6,156.3v4.3M201.03,156.3v4.3M211.9,156.3v4.3M217.33,156.3v4.3M222.77,156.3v4.3M233.63,156.3v4.3M239.07,156.3v4.3M244.5,156.3v4.3M255.37,156.3v4.3M260.8,156.3v4.3M266.23,156.3v4.3M277.1,156.3v4.3M282.53,156.3v4.3M287.97,156.3v4.3M298.83,156.3v4.3M304.27,156.3v4.3M309.7,156.3v4.3M320.57,156.3v4.3M326,156.3v4.3M331.43,156.3v4.3M342.3,156.3v4.3M347.73,156.3v4.3M353.17,156.3v4.3"/>
<text class="z" x="32" y="161.5" text-anchor="middle">00</text>
<text class="z" x="53.73" y="161.5" text-anchor="middle">00</text>
<text class="z" x="75.47" y="161.5" text-anchor="middle">00</text>
<text class="z" x="97.2" y="161.5" text-anchor="middle">00</text>
<text class="z" x="118.93" y="161.5" text-anchor="middle">00</text>
<text class="z" x="140.67" y="161.5" text-anchor="middle">00</text>
<text class="z" x="162.4" y="161.5" text-anchor="middle">00</text>
<text class="z" x="184.13" y="161.5" text-anchor="middle">00</text>
<text class="z" x="205.87" y="161.5" text-anchor="middle">00</text>
<text class="z" x="227.6" y="161.5" text-anchor="middle">00</text>
<text class="z" x="249.33" y="161.5" text-anchor="middle">00</text>
<text class="z" x="271.07" y="161.5" text-anchor="middle">00</text>
<text class="z" x="292.8" y="161.5" text-anchor="middle">00</text>
<text class="z" x="314.53" y="161.5" text-anchor="middle">00</text>
<text class="z" x="336.27" y="161.5" text-anchor="middle">00</text>
<text class="z" x="358" y="161.5" text-anchor="middle">00</text>
<text class="dy" x="43.67" y="166.7" text-anchor="middle">Do</text>
<text class="dy" x="65.4" y="166.7" text-anchor="middle">Vr</text>
<text class="dy" x="87.13" y="166.7" text-anchor="middle">Za</text>
<text class="dy" x="108.87" y="166.7" text-anchor="middle">Zo</text>
<text class="dy" x="130.6" y="166.7" text-anchor="middle">Ma</text>
<text class="dy" x="152.33" y="166.7" text-anchor="middle">Di</text>
<text class="dy" x="174.07" y="166.7" text-anchor="middle">Wo</text>
<text class="dy" x="195.8" y="166.7" text-anchor="middle">Do</text>
<text class="dy" x="217.53" y="166.7" text-anchor="middle">Vr</text>
<text class="dy" x="239.27" y="166.7" text-anchor="middle">Za</text>
<text class="dy" x="261" y="166.7" text-anchor="middle">Zo</text>
<text class="dy" x="282.73" y="166.7" text-anchor="middle">Ma</text>
<text class="dy" x="304.47" y="166.7" text-anchor="middle">Di</text>
<text class="dy" x="326.2" y="166.7" text-anchor="middle">Wo</text>
<text class="dy" x="347.93" y="166.7" text-anchor="middle">Do</text>
<text class="xl" x="195.6" y="177.6" text-anchor="middle">Dag</text>
<text class="yl" transform="translate(15.7,86.7) scale(1.2,1) rotate(-90)" text-anchor="middle">mm</text>
<line class="ctrl" style="stroke:#4a4aff;stroke-width:1px;stroke-dasharray:3.9 2.1" x1="34.9" x2="56.9" y1="24.8" y2="24.8"/>
<line class="oper" style="stroke:#ff1010;stroke-width:0.9px" x1="34.9" x2="56.9" y1="31.2" y2="31.2"/>
<line class="mean lg" x1="34.9" x2="56.9" y1="38.1" y2="38.1"/>
<text class="lg" x="79.6" y="27.9" text-anchor="middle">Control</text>
<text class="lg" x="79.6" y="34.3" text-anchor="middle">Oper</text>
<text class="lg" x="79.6" y="41" text-anchor="middle">Ens mn</text>
<text class="st" x="319.7" y="27.1" text-anchor="middle">De Bilt</text>
<text class="st" x="319.7" y="37.9" text-anchor="middle">Neerslag/6 uur</text>
<text class="br" x="310.8" y="176.9" textLength="65.6" lengthAdjust="spacing">Bron: ECMWF/KNMI</text>
</g>
<g>
<text class="ttl" style="font-size:11px" y="12.1"><tspan x="458" textLength="54.2" lengthAdjust="spacing"><tspan class="b">D</tspan>onderdag</tspan> <tspan x="519.1" textLength="5" lengthAdjust="spacing">2</tspan> <tspan x="529.2" textLength="39.2" lengthAdjust="spacing"><tspan class="b">F</tspan>ebruari</tspan> <tspan x="576.1" textLength="22.2" lengthAdjust="spacing">2012</tspan> <tspan x="606" textLength="41" lengthAdjust="spacing">(starttijd</tspan> <tspan x="653.7" textLength="12.9" lengthAdjust="spacing"><tspan class="b">D</tspan>o</tspan> <tspan x="670.9" textLength="10.2" lengthAdjust="spacing">00</tspan> <tspan x="685.7" textLength="24.8" lengthAdjust="spacing"><tspan class="b">UTC</tspan>)</tspan></text>
<clipPath id="c1"><rect x="420.7" y="16.6" width="326.6" height="140.4"/></clipPath>
<g clip-path="url(#c1)">
<path class="mem" d="M426.1,156.3L431.6,156.3L437,156.3L442.4,156.3L447.9,156.3L453.3,156.2L458.7,155.3L464.2,155.2L469.6,155.2L475,155.2L480.5,155.2L485.9,155.2L491.3,152.7L496.8,144.4L502.2,143.5L507.6,143.5L513.1,143.5L518.5,143.5L523.9,143.5L529.4,143.5L534.8,143.5L540.2,143.5L545.7,143.5L551.1,143.5L556.5,143.5L562,143.5L567.4,143.5L572.8,143.5L578.3,143.5L583.7,143.5L589.1,143.5L594.6,143.5L600,143.5L605.4,143.5L610.9,143.5L616.3,143.5L621.7,143.5L627.2,143.5L632.6,143.5L638,143.5L643.5,143.5L648.9,143.5L654.3,143.5L659.8,143.5L665.2,143.5L670.6,143.5L676.1,143.5L681.5,143.5L686.9,143.5L692.4,143.5L697.8,143.5L703.2,143.5L708.7,136.6L714.1,122.7L719.5,115.7L725,115.7L730.4,115.7L735.8,115.7L741.3,115.7L746.7,115.7M426.1,156.3L431.6,156.3L437,156.3L442.4,156.3L447.9,156.3L453.3,156.3L458.7,156.3L464.2,156.3L469.6,156.3L475,156.3L480.5,156.3L485.9,156.3L491.3,156.3L496.8,156.3L502.2,156.3L507.6,156.3L513.1,156.3L518.5,156.3L523.9,156.3L529.4,156.3L534.8,156.3L540.2,156.3L545.7,156.3L551.1,156.3L556.5,156.3L562,156L567.4,156L572.8,148.9L578.3,130.1L583.7,123.7L589.1,122.7L594.6,122.1L600,121.3L605.4,120.9L610.9,120.6L616.3,120.3L621.7,119.9L627.2,119.8L632.6,119.8L638,119.7L643.5,119.7L648.9,118.7L654.3,117.4L659.8,116.2L665.2,114.7L670.6,113.2L676.1,112.8L681.5,112.5L686.9,111.7L692.4,110.5L697.8,109.2L703.2,107.5L708.7,105.9L714.1,103.9L719.5,103L725,102.8L730.4,102.6L735.8,101.9L741.3,101.6L746.7,101.4M426.1,156.3L431.6,156.3L437,156.3L442.4,156.3L447.9,156.3L453.3,156L458.7,154.1L464.2,153.8L469.6,153.8L475,153.8L480.5,153.8L485.9,153.8L491.3,153.8L496.8,153.8L502.2,153.8L507.6,153.8L513.1,153.8L518.5,153.8L523.9,153.8L529.4,153.8L534.8,153.8L540.2,153.8L545.7,153.8L551.1,153.8L556.5,153.8L562,153.8L567.4,153.8L572.8,153.8L578.3,153.8L583.7,153.7L589.1,153.7L594.6,153.7L600,153.6L605.4,153.5L610.9,153.5L616.3,153.4L621.7,153.4L627.2,152.4L632.6,150.6L638,149.6L643.5,148.9L648.9,148.5L654.3,148.5L659.8,148.4L665.2,148.2L670.6,148.1L676.1,148.1L681.5,147.9L686.9,147.8L692.4,147.8L697.8,147.3L703.2,146.3L708.7,145.8L714.1,145.4L719.5,145.4L725,145L730.4,139.1L735.8,125.7L741.3,118.7L746.7,118.4M426.1,156.3L431.6,156.3L437,156.3L442.4,156.3L447.9,156.3L453.3,156.1L458.7,154.7L464.2,154.5L469.6,154.5L475,154.5L480.5,154.5L485.9,154.5L491.3,154.5L496.8,154.5L502.2,154.5L507.6,154.5L513.1,154.5L518.5,154.5L523.9,154.5L529.4,154.5L534.8,154.5L540.2,154.5L545.7,154.5L551.1,154.5L556.5,154L562,153L567.4,149.7L572.8,143.5L578.3,130.7L583.7,124.3L589.1,119.9L594.6,119.4L600,119.3L605.4,117.9L610.9,115.1L616.3,113.5L621.7,113.3L627.2,112.1L632.6,110.9L638,109.2L643.5,107.7L648.9,107.3L654.3,107L659.8,106.8L665.2,106.4L670.6,106L676.1,105.3L681.5,104.8L686.9,104.4L692.4,102L697.8,101.2L703.2,96.6L708.7,90.6L714.1,84.5L719.5,81.3L725,80L730.4,78.6L735.8,75.4L741.3,71.2L746.7,68.9M426.1,156.3L431.6,156.3L437,156.3L442.4,156.3L447.9,156.3L453.3,156.2L458.7,155.2L464.2,155.1L469.6,155.1L475,155.1L480.5,155.1L485.9,154.4L491.3,144.6L496.8,139.3L502.2,139.3L507.6,139.3L513.1,139.3L518.5,139.3L523.9,139.3L529.4,139.3L534.8,139.3L540.2,139.3L545.7,139.3L551.1,139.3L556.5,139.3L562,139.2L567.4,139.2L572.8,139.2L578.3,139.2L583.7,139.2L589.1,139.2L594.6,139.2L600,139.2L605.4,139.2L610.9,139.2L616.3,139.2L621.7,139.1L627.2,139.1L632.6,139L638,139L643.5,139L648.9,139L654.3,139L659.8,139L665.2,139L670.6,138.9L676.1,138.9L681.5,138.8L686.9,138.6L692.4,138.4L697.8,138.2L703.2,138L708.7,137.7L714.1,137.5L719.5,137.4L725,137.3L730.4,137.3L735.8,137.2L741.3,137L746.7,136.7M426.1,156.3L431.6,156.3L437,156.3L442.4,156.3L447.9,156.3L453.3,156.2L458.7,155.7L464.2,155.6L469.6,155.6L475,155.6L480.5,155.6L485.9,155.6L491.3,155.6L496.8,155.6L502.2,155.6L507.6,155.6L513.1,155.6L518.5,155.6L523.9,155.6L529.4,155.6L534.8,155.6L540.2,155.6L545.7,155.6L551.1,155.6L556.5,155.6L562,155.4L567.4,155.3L572.8,154.8L578.3,154.7L583.7,154.5L589.1,153.9L594.6,152.9L600,151.3L605.4,149.9L610.9,149.5L616.3,149.3L621.7,149.1L627.2,149L632.6,149L638,148.9L643.5,148.6L648.9,148.1L654.3,146.7L659.8,145.4L665.2,144.4L670.6,143.9L676.1,143.8L681.5,143.8L686.9,143L692.4,141.9L697.8,138.7L703.2,134.8L708.7,132.9L714.1,132.4L719.5,131.9L725,127L730.4,116.1L735.8,111.3L741.3,110.4L746.7,110M426.1,156.3L431.6,156.3L437,156.3L442.4,156.3L447.9,156.3L453.3,155.7L458.7,151.5L464.2,151L469.6,151L475,151L480.5,151L485.9,150.8L491.3,149.8L496.8,149.4L502.2,149.4L507.6,149.4L513.1,149.4L518.5,149.4L523.9,149.4L529.4,149.4L534.8,149.4L540.2,149.4L545.7,149.4L551.1,149.4L556.5,149.4L562,149.4L567.4,149.4L572.8,149.4L578.3,149.4L583.7,149.4L589.1,149.4L594.6,149.4L600,149.4L605.4,149.4L610.9,149.4L616.3,149.4L621.7,149.4L627.2,149.4L632.6,149.4L638,149.4L643.5,149.4L648.9,149.4L654.3,149.4L659.8,149.4L665.2,149.4L670.6,149.4L676.1,149.4L681.5,149.4L686.9,149.4L692.4,149.4L697.8,149.4L703.2,149.4L708.7,149.4L714.1,149.4L719.5,149.4L725,149.4L730.4,149.4L735.8,144.5L741.3,134.8L746.7,129.9M426.1,156.3L431.6,156.3L437,156.3L442.4,156.3L447.9,156.3L453.3,156.3L458.7,156.3L464.2,156.3L469.6,156.3L475,156.3L480.5,156.3L485.9,156.3L491.3,156.3L496.8,156.3L502.2,156.3L507.6,156.3L513.1,156.3L518.5,156.3L523.9,156.3L529.4,156.3L534.8,156.3L540.2,156.3L545.7,156.3L551.1,156.3L556.5,156.3L562,156.3L567.4,156.3L572.8,156.2L578.3,156.2L583.7,156.2L589.1,156.2L594.6,156.1L600,156.1L605.4,156.1L610.9,155.9L616.3,155.8L621.7,155.7L627.2,155.6L632.6,155.5L638,155.4L643.5,155.4L648.9,155.4L654.3,155.3L659.8,155.3L665.2,155.3L670.6,155.3L676.1,154.8L681.5,154.1L686.9,153.8L692.4,153.5L697.8,153.4L703.2,153.4L708.7,153.4L714.1,153.1L719.5,153L725,152.7L730.4,152.4L735.8,152.4L741.3,152.3L746.7,152.2M426.1,156.3L431.6,156.3L437,156.3L442.4,156.3L447.9,156.3L453.3,156.3L458.7,156.3L464.2,156.3L469.6,156.3L475,156.3L480.5,156.3L485.9,156.3L491.3,154.5L496.8,148.3L502.2,147.7L507.6,147.7L513.1,147.7L518.5,147.7L523.9,147.7L529.4,147.7L534.8,147.7L540.2,147.7L545.7,147.7L551.1,147.7L556.5,147.6L562,147.5L567.4,146.9L572.8,146.1L578.3,144.4L583.7,143.7L589.1,143.3L594.6,143.3L600,143.1L605.4,142.6L610.9,142.2L616.3,142.1L621.7,142.1L627.2,142.1L632.6,141.6L638,141.2L643.5,141.1L648.9,141.1L654.3,141.1L659.8,141L665.2,141L670.6,141L676.1,140.4L681.5,139.5L686.9,138.7L692.4,138.5L697.8,138.3L703.2,131.4L708.7,118.4L714.1,110.2L719.5,101.7L725,98.2L730.4,96.6L735.8,95L741.3,93.9L746.7,92.5M426.1,156.3L431.6,156.3L437,156.3L442.4,156.3L447.9,156.3L453.3,156.3L458.7,156.3L464.2,156.3L469.6,156.3L475,156.3L480.5,156.3L485.9,156.1L491.3,155.3L496.8,155L502.2,155L507.6,155L513.1,155L518.5,155L523.9,155L529.4,155L534.8,155L540.2,155L545.7,155L551.1,155L556.5,155L562,155L567.4,155L572.8,155L578.3,155L583.7,155L589.1,155L594.6,155L600,155L605.4,155L610.9,155L616.3,155L621.7,155L627.2,155L632.6,155L638,155L643.5,155L648.9,155L654.3,155L659.8,155L665.2,155L670.6,155L676.1,155L681.5,155L686.9,155L692.4,155L697.8,149.4L703.2,138.3L708.7,132.7L714.1,132.7L719.5,132.7L725,132.7L730.4,132.7L735.8,132.7L741.3,132.7L746.7,132.7M426.1,156.3L431.6,156.3L437,156.3L442.4,156.3L447.9,156.3L453.3,156.3L458.7,156.3L464.2,156.3L469.6,156.3L475,156.3L480.5,156.3L485.9,155.8L491.3,148.3L496.8,144.1L502.2,144.1L507.6,144.1L513.1,144.1L518.5,144.1L523.9,144.1L529.4,144.1L534.8,144.1L540.2,144.1L545.7,144.1L551.1,144.1L556.5,144.1L562,144.1L567.4,144.1L572.8,144L578.3,143.6L583.7,143.2L589.1,142.6L594.6,142.4L600,142.4L605.4,142.3L610.9,139.8L616.3,132.4L621.7,127.5L627.2,124L632.6,121.5L638,120.6L643.5,120.3L648.9,120L654.3,120L659.8,120L665.2,119.7L670.6,119.3L676.1,118.9L681.5,118.5L686.9,118.3L692.4,117.2L697.8,115.9L703.2,114.2L708.7,113.5L714.1,112.5L719.5,110.4L725,109.1L730.4,108.3L735.8,107.3L741.3,106.9L746.7,106M426.1,156.3L431.6,156.3L437,156.3L442.4,156.3L447.9,156.3L453.3,156.3L458.7,156.3L464.2,156.3L469.6,156.3L475,156.3L480.5,156.3L485.9,156.3L491.3,156.3L496.8,156.3L502.2,156.3L507.6,156.3L513.1,156.3L518.5,156.3L523.9,156.3L529.4,156.3L534.8,156.3L540.2,156.3L545.7,156.3L551.1,156.3L556.5,156.3L562,154.5L567.4,151.9L572.8,150.4L578.3,150L583.7,149.1L589.1,140.9L594.6,119L600,111.8L605.4,110.9L610.9,110.1L616.3,109.4L621.7,108.7L627.2,107.6L632.6,107.1L638,106.8L643.5,106.6L648.9,105.7L654.3,104.8L659.8,104.1L665.2,103.4L670.6,103L676.1,103L681.5,101.8L686.9,97.9L692.4,94.7L697.8,93.5L703.2,92.6L708.7,88.9L714.1,84.5L719.5,82.8L725,81.3L730.4,80.4L735.8,79.2L741.3,77.3L746.7,76.3M426.1,156.3L431.6,156.3L437,156.3L442.4,156.3L447.9,156.3L453.3,156.3L458.7,156.3L464.2,156.3L469.6,156.3L475,156.3L480.5,156.3L485.9,156.3L491.3,153.1L496.8,142.5L502.2,141.5L507.6,141.5L513.1,141.5L518.5,141.5L523.9,141.5L529.4,141.5L534.8,141.5L540.2,141.5L545.7,141.5L551.1,141.5L556.5,141.5L562,141.4L567.4,141.4L572.8,141.4L578.3,140L583.7,137.8L589.1,133.6L594.6,131.2L600,131.2L605.4,131.1L610.9,131L616.3,131L621.7,130.9L627.2,130.9L632.6,130.9L638,130.7L643.5,130.2L648.9,130L654.3,129.9L659.8,129.9L665.2,129.9L670.6,129.2L676.1,128.2L681.5,126.5L686.9,125.4L692.4,124.7L697.8,123.7L703.2,121.8L708.7,113.3L714.1,96.9L719.5,88.5L725,86.3L730.4,84.9L735.8,84.4L741.3,84.2L746.7,84.2M426.1,156.3L431.6,156.3L437,156.3L442.4,156.3L447.9,156.3L453.3,156.3L458.7,156.3L464.2,156.3L469.6,156.3L475,156.3L480.5,156.3L485.9,156.3L491.3,156.3L496.8,156.3L502.2,156.3L507.6,156.3L513.1,156.3L518.5,156.3L523.9,156.3L529.4,156.3L534.8,156.3L540.2,156.3L545.7,156.3L551.1,154.4L556.5,151.4L562,150.3L567.4,149.2L572.8,147.9L578.3,147.2L583.7,147.2L589.1,146.4L594.6,142.2L600,135L605.4,128.8L610.9,124.9L616.3,123.7L621.7,122.8L627.2,122.4L632.6,122.1L638,121.9L643.5,121.9L648.9,118.9L654.3,112.7L659.8,110.3L665.2,108.3L670.6,106.2L676.1,104.4L681.5,103.4L686.9,101.2L692.4,100.1L697.8,97.2L703.2,94L708.7,91.8L714.1,82.4L719.5,70.1L725,62.8L730.4,61.5L735.8,61L741.3,60.8L746.7,60.6M426.1,156.3L431.6,156.3L437,156.3L442.4,156.3L447.9,156.3L453.3,156.3L458.7,156.3L464.2,156.3L469.6,156.3L475,156.3L480.5,156.3L485.9,156.3L491.3,156.3L496.8,156.3L502.2,156.3L507.6,156.3L513.1,156.3L518.5,156.3L523.9,156.3L529.4,156.3L534.8,156.3L540.2,156.3L545.7,156.3L551.1,155.3L556.5,152L562,151L567.4,151L572.8,151L578.3,151L583.7,151L589.1,151L594.6,151L600,151L605.4,151L610.9,151L616.3,151L621.7,151L627.2,151L632.6,151L638,151L643.5,151L648.9,151L654.3,151L659.8,151L665.2,151L670.6,151L676.1,151L681.5,151L686.9,151L692.4,151L697.8,151L703.2,151L708.7,151L714.1,151L719.5,151L725,151L730.4,151L735.8,151L741.3,151L746.7,151M426.1,156.3L431.6,156.3L437,156.3L442.4,156.3L447.9,156.3L453.3,156.3L458.7,156.3L464.2,156.3L469.6,156.3L475,156.3L480.5,156.3L485.9,156.1L491.3,155L496.8,154.5L502.2,154.5L507.6,154.5L513.1,154.5L518.5,154.5L523.9,154.5L529.4,154.5L534.8,154.5L540.2,154.5L545.7,154.5L551.1,154.5L556.5,154.5L562,154.4L567.4,154.3L572.8,152.5L578.3,149.9L583.7,143.5L589.1,139.5L594.6,136.5L600,134.4L605.4,132.7L610.9,131.4L616.3,131.2L621.7,130.8L627.2,130.8L632.6,130.4L638,129.8L643.5,129.3L648.9,127.9L654.3,126L659.8,122.8L665.2,120.7L670.6,120.7L676.1,120.6L681.5,118.1L686.9,112.7L692.4,109L697.8,104.9L703.2,100.1L708.7,93.2L714.1,88.9L719.5,85.6L725,83.9L730.4,83.3L735.8,79.9L741.3,73.1L746.7,62.5M426.1,156.3L431.6,156.3L437,156.3L442.4,156.3L447.9,156.3L453.3,156.3L458.7,156.3L464.2,156.3L469.6,156.3L475,156.3L480.5,156.3L485.9,156.2L491.3,155.6L496.8,155.4L502.2,155.4L507.6,155.4L513.1,155.4L518.5,155.4L523.9,155.4L529.4,155.4L534.8,155.4L540.2,155.4L545.7,155.4L551.1,155.4L556.5,155.2L562,154.9L567.4,154.9L572.8,152.3L578.3,147.2L583.7,138.8L589.1,132.4L594.6,128.3L600,127.5L605.4,127.3L610.9,126.3L616.3,125.2L621.7,124.6L627.2,124.4L632.6,123.9L638,123.9L643.5,123.6L648.9,123.3L654.3,122.8L659.8,122.8L665.2,122.5L670.6,120.9L676.1,119.9L681.5,119.5L686.9,116.2L692.4,111.2L697.8,108.6L703.2,105.7L708.7,101.3L714.1,98.2L719.5,96.2L725,92.3L730.4,87.2L735.8,85.6L741.3,84.7L746.7,83.7M426.1,156.3L431.6,156.3L437,156.3L442.4,156.3L447.9,156.3L453.3,156L458.7,153.6L464.2,153.3L469.6,153.3L475,153.3L480.5,153.3L485.9,153.3L491.3,153.3L496.8,153.3L502.2,153.3L507.6,153.3L513.1,153.3L518.5,153.3L523.9,153.3L529.4,153.3L534.8,153.3L540.2,153.3L545.7,153.3L551.1,153.3L556.5,153.3L562,153.3L567.4,153.3L572.8,153.3L578.3,153.3L583.7,153.3L589.1,153.3L594.6,153.3L600,153.3L605.4,153.3L610.9,153.3L616.3,153.3L621.7,153.3L627.2,153.3L632.6,153.3L638,153.3L643.5,153.3L648.9,153.3L654.3,153.3L659.8,153.3L665.2,153.3L670.6,153.3L676.1,153.3L681.5,144.4L686.9,122.1L692.4,114.3L697.8,114.3L703.2,114.3L708.7,114.3L714.1,114.3L719.5,114.3L725,114.3L730.4,114.3L735.8,114.3L741.3,114.3L746.7,114.3M426.1,156.3L431.6,156.3L437,156.3L442.4,156.3L447.9,156.3L453.3,156.3L458.7,156.3L464.2,156.3L469.6,156.3L475,156.3L480.5,156.3L485.9,155.9L491.3,149.4L496.8,145.9L502.2,145.9L507.6,145.9L513.1,145.9L518.5,145.9L523.9,145.9L529.4,145.9L534.8,145.9L540.2,145.9L545.7,145.9L551.1,145.9L556.5,145.9L562,145.9L567.4,145.9L572.8,145.9L578.3,145.9L583.7,145.9L589.1,145.9L594.6,145.9L600,145.9L605.4,145.9L610.9,145.9L616.3,145.9L621.7,145.9L627.2,137.4L632.6,107.1L638,98L643.5,98L648.9,98L654.3,98L659.8,98L665.2,98L670.6,98L676.1,98L681.5,98L686.9,98L692.4,98L697.8,98L703.2,98L708.7,98L714.1,98L719.5,98L725,98L730.4,98L735.8,98L741.3,98L746.7,98M426.1,156.3L431.6,156.3L437,156.3L442.4,156.3L447.9,156.3L453.3,155.8L458.7,152.3L464.2,151.8L469.6,151.8L475,151.8L480.5,151.8L485.9,151.7L491.3,149.2L496.8,147.8L502.2,147.8L507.6,147.8L513.1,147.8L518.5,147.8L523.9,147.8L529.4,147.8L534.8,147.8L540.2,147.8L545.7,147.8L551.1,147.8L556.5,147.8L562,147.8L567.4,147.8L572.8,147.8L578.3,147.8L583.7,147.8L589.1,147.8L594.6,147.8L600,147.8L605.4,147.8L610.9,147.8L616.3,147.8L621.7,147.8L627.2,147.8L632.6,147.8L638,147.8L643.5,147.8L648.9,147.8L654.3,147.8L659.8,147.8L665.2,140.3L670.6,123.6L676.1,116.9L681.5,116.9L686.9,116.9L692.4,116.9L697.8,116.9L703.2,116.9L708.7,116.9L714.1,116.9L719.5,116.9L725,116.9L730.4,116.9L735.8,116.9L741.3,116.9L746.7,116.9M426.1,156.3L431.6,156.3L437,156.3L442.4,156.3L447.9,156.3L453.3,156.3L458.7,156.3L464.2,156.3L469.6,156.3L475,156.3L480.5,156.3L485.9,155.7L491.3,147.1L496.8,142.3L502.2,142.3L507.6,142.3L513.1,142.3L518.5,142.3L523.9,142.3L529.4,142.3L534.8,142.3L540.2,142.3L545.7,142.3L551.1,142.3L556.5,142.2L562,142.2L567.4,142.2L572.8,141.9L578.3,139.2L583.7,135.2L589.1,132.6L594.6,131.5L600,130.7L605.4,130.1L610.9,128.7L616.3,127L621.7,126.6L627.2,126.4L632.6,126.3L638,126.3L643.5,126.3L648.9,126.1L654.3,126L659.8,125.6L665.2,125.4L670.6,125L676.1,125L681.5,123.5L686.9,118.8L692.4,116.9L697.8,115.8L703.2,108.7L708.7,98.5L714.1,89L719.5,78.7L725,72.6L730.4,68.7L735.8,67.3L741.3,66.1L746.7,65.1M426.1,156.3L431.6,156.3L437,156.3L442.4,156.3L447.9,156.3L453.3,156.1L458.7,154.9L464.2,154.7L469.6,154.7L475,154.7L480.5,154.7L485.9,154.6L491.3,154.4L496.8,154.3L502.2,154.3L507.6,154.3L513.1,154.3L518.5,154.3L523.9,154.3L529.4,154.3L534.8,154.3L540.2,154.3L545.7,154.3L551.1,154.3L556.5,154.2L562,154.2L567.4,154.1L572.8,154L578.3,154L583.7,153.4L589.1,152.3L594.6,151.9L600,151.9L605.4,151.8L610.9,151.8L616.3,151.7L621.7,151.7L627.2,151.7L632.6,151.7L638,151.5L643.5,151L648.9,150.2L654.3,149.7L659.8,149L665.2,148.3L670.6,147L676.1,146.4L681.5,146.4L686.9,146.3L692.4,145.8L697.8,144.9L703.2,144.3L708.7,144.1L714.1,144L719.5,143.9L725,143.8L730.4,143.8L735.8,143.7L741.3,143.7L746.7,143.7M426.1,156.3L431.6,156.3L437,156.3L442.4,156.3L447.9,156.3L453.3,156.3L458.7,156.3L464.2,156.3L469.6,156.3L475,156.3L480.5,156.3L485.9,156.3L491.3,156.3L496.8,156.3L502.2,156.3L507.6,156.3L513.1,156.3L518.5,156.3L523.9,156.3L529.4,156.3L534.8,156.3L540.2,156.3L545.7,156.3L551.1,155.9L556.5,155.4L562,155.1L567.4,155.1L572.8,155L578.3,154.9L583.7,154.8L589.1,154.4L594.6,154.1L600,153.9L605.4,153.8L610.9,153.8L616.3,153.8L621.7,153.7L627.2,153.6L632.6,153.5L638,153.4L643.5,152.8L648.9,151.5L654.3,151L659.8,149.9L665.2,148.5L670.6,147.8L676.1,142.6L681.5,129.8L686.9,124.5L692.4,124.4L697.8,124.4L703.2,124.2L708.7,123.9L714.1,123.3L719.5,122.6L725,121.5L730.4,120.1L735.8,119.5L741.3,119.1L746.7,118.8M426.1,156.3L431.6,156.3L437,156.3L442.4,156.3L447.9,156.3L453.3,156.2L458.7,155.5L464.2,155.4L469.6,155.4L475,155.4L480.5,155.4L485.9,155.4L491.3,155.4L496.8,155.4L502.2,155.4L507.6,155.4L513.1,155.4L518.5,155.4L523.9,155.4L529.4,155.4L534.8,155.4L540.2,155.4L545.7,155.4L551.1,155.4L556.5,155.4L562,155.4L567.4,155.3L572.8,155L578.3,154.9L583.7,154.9L589.1,154.8L594.6,154.6L600,154.4L605.4,153.7L610.9,153.5L616.3,153.4L621.7,153.4L627.2,153.4L632.6,153.1L638,152.6L643.5,151.7L648.9,150.3L654.3,147.9L659.8,143.9L665.2,141.2L670.6,140.9L676.1,140.3L681.5,139L686.9,130.9L692.4,115.4L697.8,99.8L703.2,89.5L708.7,83.3L714.1,82.1L719.5,81.1L725,80L730.4,78L735.8,76.8L741.3,76.6L746.7,76.6M426.1,156.3L431.6,156.3L437,156.3L442.4,156.3L447.9,156.3L453.3,156.3L458.7,156.3L464.2,156.3L469.6,156.3L475,156.3L480.5,156.3L485.9,156.3L491.3,156.3L496.8,156.3L502.2,156.3L507.6,156.3L513.1,156.3L518.5,156.3L523.9,156.3L529.4,156.3L534.8,156.3L540.2,156.3L545.7,156.3L551.1,156.2L556.5,155.9L562,155.4L567.4,155.1L572.8,155L578.3,154.8L583.7,154.8L589.1,154.8L594.6,154.8L600,154.6L605.4,154.4L610.9,154.3L616.3,154.2L621.7,153.9L627.2,153.6L632.6,153.2L638,152.9L643.5,152.8L648.9,152.7L654.3,152.7L659.8,152.5L665.2,152.5L670.6,152.4L676.1,152L681.5,150.4L686.9,147.9L692.4,138.1L697.8,123.1L703.2,109.6L708.7,102.8L714.1,102.7L719.5,102.6L725,102.3L730.4,101.9L735.8,101.5L741.3,101.3L746.7,101.2M426.1,156.3L431.6,156.3L437,156.3L442.4,156.3L447.9,156.3L453.3,156.3L458.7,156.3L464.2,156.3L469.6,156.3L475,156.3L480.5,156.3L485.9,156.3L491.3,156.3L496.8,156.3L502.2,156.3L507.6,156.3L513.1,156.3L518.5,156.3L523.9,156.3L529.4,156.3L534.8,156.3L540.2,156.3L545.7,156.3L551.1,156.3L556.5,156.3L562,156.3L567.4,156.2L572.8,156.2L578.3,156.1L583.7,156.1L589.1,156L594.6,156L600,156L605.4,155.9L610.9,155.9L616.3,155.9L621.7,155.9L627.2,155.9L632.6,155.8L638,155.8L643.5,155.8L648.9,155.8L654.3,155.8L659.8,155.8L665.2,155.7L670.6,155.7L676.1,155.6L681.5,155.5L686.9,155.5L692.4,155.4L697.8,155.4L703.2,155.3L708.7,155.1L714.1,154.8L719.5,154.6L725,154.5L730.4,154.4L735.8,154.3L741.3,154.1L746.7,154.1M426.1,156.3L431.6,156.3L437,156.3L442.4,156.3L447.9,156.3L453.3,156.3L458.7,156L464.2,155.9L469.6,155.9L475,155.9L480.5,155.9L485.9,155.8L491.3,154.9L496.8,154.6L502.2,154.6L507.6,154.6L513.1,154.6L518.5,154.6L523.9,154.6L529.4,154.6L534.8,154.6L540.2,154.6L545.7,154.6L551.1,154.6L556.5,154.6L562,154.5L567.4,154.4L572.8,154.4L578.3,154.4L583.7,154.4L589.1,154.4L594.6,154.3L600,154.2L605.4,153.9L610.9,153.8L616.3,153.8L621.7,153.8L627.2,153.8L632.6,153.8L638,153.7L643.5,153.6L648.9,153.6L654.3,153.5L659.8,153.3L665.2,153.2L670.6,148.5L676.1,136.8L681.5,132.2L686.9,132L692.4,131.8L697.8,131.6L703.2,131.5L708.7,131.4L714.1,131.4L719.5,131.4L725,131.4L730.4,131.3L735.8,131.2L741.3,131.1L746.7,131.1M426.1,156.3L431.6,156.3L437,156.3L442.4,156.3L447.9,156.3L453.3,156.3L458.7,156.3L464.2,156.3L469.6,156.3L475,156.3L480.5,156.3L485.9,156.3L491.3,156.3L496.8,156.3L502.2,156.3L507.6,156.3L513.1,156.3L518.5,156.3L523.9,156.3L529.4,156.3L534.8,156.3L540.2,156.3L545.7,156.3L551.1,156.3L556.5,154.7L562,151.5L567.4,146.2L572.8,144.7L578.3,144.7L583.7,144.7L589.1,144.7L594.6,144.7L600,144.7L605.4,144.7L610.9,144.7L616.3,144.7L621.7,144.7L627.2,144.7L632.6,144.7L638,144.7L643.5,144.7L648.9,144.7L654.3,144.7L659.8,144.7L665.2,144.7L670.6,144.7L676.1,144.7L681.5,144.7L686.9,144.7L692.4,144.7L697.8,144.7L703.2,144.7L708.7,144.7L714.1,144.7L719.5,144.7L725,144.7L730.4,144.7L735.8,144.7L741.3,144.7L746.7,144.7M426.1,156.3L431.6,156.3L437,156.3L442.4,156.3L447.9,156.3L453.3,155.9L458.7,153.1L464.2,152.7L469.6,152.7L475,152.7L480.5,152.7L485.9,152.5L491.3,148.9L496.8,146.9L502.2,146.9L507.6,146.9L513.1,146.9L518.5,146.9L523.9,146.9L529.4,146.9L534.8,146.9L540.2,146.9L545.7,146.9L551.1,146.9L556.5,146.9L562,146.9L567.4,146.9L572.8,146.9L578.3,146.9L583.7,146.9L589.1,146.9L594.6,146.9L600,146.9L605.4,146.9L610.9,146.9L616.3,146.9L621.7,146.9L627.2,146.9L632.6,146.9L638,146.9L643.5,146.9L648.9,144.1L654.3,136.3L659.8,133.6L665.2,133.6L670.6,133.6L676.1,133.6L681.5,133.6L686.9,133.6L692.4,133.6L697.8,133.6L703.2,133.6L708.7,133.6L714.1,133.6L719.5,133.6L725,133.6L730.4,133.6L735.8,133.6L741.3,133.6L746.7,133.6M426.1,156.3L431.6,156.3L437,156.3L442.4,156.3L447.9,156.3L453.3,155.6L458.7,150.7L464.2,150.1L469.6,150.1L475,150.1L480.5,150.1L485.9,150.1L491.3,150.1L496.8,150.1L502.2,150.1L507.6,148.9L513.1,145.6L518.5,144.6L523.9,144.6L529.4,144.6L534.8,144.6L540.2,144.6L545.7,144.6L551.1,144.6L556.5,142.9L562,140L567.4,136.4L572.8,134.1L578.3,132.5L583.7,131.5L589.1,131.2L594.6,130.4L600,128.9L605.4,126.5L610.9,125.7L616.3,125.1L621.7,124.7L627.2,124.7L632.6,124.7L638,124.5L643.5,123.9L648.9,123.2L654.3,122.5L659.8,121.3L665.2,118.1L670.6,114.1L676.1,111.8L681.5,110.2L686.9,109.1L692.4,107.1L697.8,105.9L703.2,105.9L708.7,104.5L714.1,103L719.5,100.1L725,98.8L730.4,98L735.8,96.5L741.3,94.5L746.7,93.3M426.1,156.3L431.6,156.3L437,156.3L442.4,156.3L447.9,156.3L453.3,156.3L458.7,156.3L464.2,156.3L469.6,156.3L475,156.3L480.5,156.3L485.9,156.3L491.3,156.3L496.8,156.3L502.2,156.3L507.6,156.3L513.1,156.3L518.5,156.3L523.9,156.3L529.4,156.3L534.8,156.3L540.2,156.3L545.7,156.3L551.1,156.3L556.5,156.3L562,156.3L567.4,156.3L572.8,156.3L578.3,156.3L583.7,156.3L589.1,156.3L594.6,156.3L600,151.6L605.4,136L610.9,129.8L616.3,126.7L621.7,126.7L627.2,126.7L632.6,126.7L638,126.7L643.5,126.7L648.9,126.7L654.3,126.7L659.8,126.7L665.2,126.7L670.6,126.7L676.1,126.7L681.5,126.7L686.9,126.7L692.4,126.7L697.8,126.7L703.2,126.7L708.7,126.7L714.1,126.7L719.5,126.7L725,126.7L730.4,126.7L735.8,126.7L741.3,126.7L746.7,126.7M426.1,156.3L431.6,156.3L437,156.3L442.4,156.3L447.9,156.3L453.3,156.1L458.7,155L464.2,154.9L469.6,154.9L475,154.9L480.5,154.9L485.9,154.6L491.3,153.2L496.8,152.6L502.2,152.6L507.6,152.6L513.1,152.6L518.5,152.6L523.9,152.6L529.4,152.6L534.8,152.6L540.2,152.6L545.7,152.6L551.1,152.6L556.5,152.6L562,152.6L567.4,152.5L572.8,152.3L578.3,151.8L583.7,151.5L589.1,151L594.6,150.1L600,148.5L605.4,147.9L610.9,147.4L616.3,146.7L621.7,146.5L627.2,146.3L632.6,145.7L638,144.3L643.5,141.8L648.9,140.9L654.3,140.8L659.8,140.5L665.2,140.2L670.6,140.1L676.1,139.7L681.5,139.3L686.9,137.8L692.4,135L697.8,133.5L703.2,133.3L708.7,133.2L714.1,131.5L719.5,128.2L725,124.7L730.4,119.7L735.8,112.9L741.3,104.9L746.7,91.8M426.1,156.3L431.6,156.3L437,156.3L442.4,156.3L447.9,156.3L453.3,156.2L458.7,155.3L464.2,155.2L469.6,155.2L475,155.2L480.5,155.2L485.9,155.1L491.3,153.7L496.8,153L502.2,153L507.6,153L513.1,153L518.5,153L523.9,153L529.4,153L534.8,153L540.2,153L545.7,153L551.1,153L556.5,153L562,153L567.4,152.9L572.8,152.8L578.3,152.7L583.7,152.5L589.1,152L594.6,151.9L600,151.7L605.4,151.5L610.9,151.4L616.3,151.4L621.7,151.1L627.2,150.1L632.6,149.1L638,148.9L643.5,148.8L648.9,148.8L654.3,148.7L659.8,144.9L665.2,135.7L670.6,131.7L676.1,131.6L681.5,131.4L686.9,131.3L692.4,131.1L697.8,130.7L703.2,130.3L708.7,129.3L714.1,128.7L719.5,128.2L725,127.8L730.4,127.7L735.8,127.5L741.3,127.4L746.7,127.4M426.1,156.3L431.6,156.3L437,156.3L442.4,156.3L447.9,156.3L453.3,156.3L458.7,156.3L464.2,156.3L469.6,156.3L475,156.3L480.5,156.3L485.9,156.3L491.3,156.3L496.8,156.3L502.2,156.3L507.6,153.9L513.1,146.9L518.5,144.8L523.9,144.8L529.4,144.8L534.8,144.8L540.2,144.8L545.7,144.8L551.1,144.8L556.5,143.3L562,140.6L567.4,139.7L572.8,139.7L578.3,138.8L583.7,137.3L589.1,136.3L594.6,136.2L600,136.1L605.4,136.1L610.9,135.8L616.3,134.1L621.7,131.4L627.2,129.5L632.6,129.5L638,129.3L643.5,129L648.9,128.3L654.3,127.3L659.8,125.8L665.2,121.4L670.6,118.9L676.1,116L681.5,109.7L686.9,105.2L692.4,98.1L697.8,92.4L703.2,89.2L708.7,86.9L714.1,82.9L719.5,81.7L725,81.4L730.4,81.4L735.8,81.1L741.3,80.9L746.7,80.8M426.1,156.3L431.6,156.3L437,156.3L442.4,156.3L447.9,156.3L453.3,156.2L458.7,155.8L464.2,155.8L469.6,155.8L475,155.8L480.5,155.8L485.9,155.4L491.3,150.4L496.8,147.6L502.2,147.6L507.6,147.6L513.1,147.6L518.5,147.6L523.9,147.6L529.4,147.6L534.8,147.6L540.2,147.6L545.7,147.6L551.1,147.6L556.5,147.1L562,145.6L567.4,142.8L572.8,137.8L578.3,135.9L583.7,134.7L589.1,134L594.6,132.6L600,128.9L605.4,126L610.9,124.6L616.3,124.3L621.7,123.9L627.2,123.2L632.6,122.9L638,117.9L643.5,104L648.9,99.1L654.3,99L659.8,98.8L665.2,96.2L670.6,91.4L676.1,89.1L681.5,87.2L686.9,85.7L692.4,84.9L697.8,84.3L703.2,83.4L708.7,82.4L714.1,82.4L719.5,82.3L725,82.3L730.4,82.2L735.8,79.6L741.3,74.1L746.7,70.6M426.1,156.3L431.6,156.3L437,156.3L442.4,156.3L447.9,156.3L453.3,156.3L458.7,156.3L464.2,156.3L469.6,156.3L475,156.3L480.5,156.3L485.9,156.3L491.3,155.7L496.8,153.8L502.2,153.6L507.6,153.6L513.1,153.6L518.5,153.6L523.9,153.6L529.4,153.6L534.8,153.6L540.2,153.6L545.7,153.6L551.1,153.6L556.5,153.5L562,153.5L567.4,153.5L572.8,153.4L578.3,153.2L583.7,153.2L589.1,153.2L594.6,153L600,153L605.4,152.2L610.9,150.7L616.3,147L621.7,143.6L627.2,141.5L632.6,140.9L638,140.9L643.5,140.8L648.9,140.8L654.3,140.4L659.8,139.4L665.2,139L670.6,138.8L676.1,138.7L681.5,138.1L686.9,138.1L692.4,138L697.8,137.8L703.2,137.5L708.7,137.5L714.1,137.3L719.5,131.1L725,117.8L730.4,111.7L735.8,111.5L741.3,110.3L746.7,107.5M426.1,156.3L431.6,156.3L437,156.3L442.4,156.3L447.9,156.3L453.3,156.3L458.7,156.3L464.2,156.3L469.6,156.3L475,156.3L480.5,156.3L485.9,156.3L491.3,156.3L496.8,156.3L502.2,156.3L507.6,156.3L513.1,156.3L518.5,156.3L523.9,156.3L529.4,156.3L534.8,156.3L540.2,156.3L545.7,156.3L551.1,154.5L556.5,149.9L562,142.1L567.4,133.3L572.8,128.8L578.3,120.2L583.7,112.7L589.1,106.2L594.6,100.9L600,97.5L605.4,96L610.9,93.8L616.3,92.3L621.7,91.3L627.2,90.9L632.6,90.8L638,90.6L643.5,90.4L648.9,90.3L654.3,90.3L659.8,90.3L665.2,90.3L670.6,89.2L676.1,86.4L681.5,84.6L686.9,82.3L692.4,79.8L697.8,77.8L703.2,74.3L708.7,70.6L714.1,66.3L719.5,63.1L725,61.3L730.4,61L735.8,59.4L741.3,56.9L746.7,54.3M426.1,156.3L431.6,156.3L437,156.3L442.4,156.3L447.9,156.3L453.3,156.2L458.7,155.8L464.2,155.8L469.6,155.8L475,155.8L480.5,155.8L485.9,154.8L491.3,141.6L496.8,134.3L502.2,134.3L507.6,134.3L513.1,134.3L518.5,134.3L523.9,134.3L529.4,134.3L534.8,134.3L540.2,134.3L545.7,134.3L551.1,134.3L556.5,134.3L562,134L567.4,133.3L572.8,132.9L578.3,132.3L583.7,131.2L589.1,130.8L594.6,130.4L600,130.2L605.4,130L610.9,130L616.3,129.8L621.7,128.8L627.2,128.6L632.6,128.4L638,128.2L643.5,127.8L648.9,127.4L654.3,126.1L659.8,124L665.2,122.8L670.6,121.8L676.1,118.3L681.5,113.6L686.9,110.5L692.4,107.7L697.8,106.5L703.2,106.3L708.7,105.9L714.1,105.2L719.5,104.7L725,103.7L730.4,101.5L735.8,98.5L741.3,96.3L746.7,95.7M426.1,156.3L431.6,156.3L437,156.3L442.4,156.3L447.9,156.3L453.3,156.3L458.7,156.3L464.2,156.3L469.6,156.3L475,156.3L480.5,156.3L485.9,156.2L491.3,155.5L496.8,155.2L502.2,155.2L507.6,155.2L513.1,155.2L518.5,155.2L523.9,155.2L529.4,155.2L534.8,155.2L540.2,155.2L545.7,155.2L551.1,155.2L556.5,155.2L562,155.2L567.4,155.2L572.8,155.2L578.3,155.1L583.7,155.1L589.1,155.1L594.6,155L600,155L605.4,155L610.9,154.9L616.3,154.8L621.7,154.8L627.2,154.8L632.6,154.7L638,154.6L643.5,154.6L648.9,154.6L654.3,150.7L659.8,141.7L665.2,138.1L670.6,138L676.1,137.6L681.5,136.9L686.9,135.6L692.4,134.8L697.8,132.7L703.2,129.7L708.7,126.1L714.1,124.7L719.5,124L725,124L730.4,123.5L735.8,122.7L741.3,122L746.7,121.3M426.1,156.3L431.6,156.3L437,156.3L442.4,156.3L447.9,156.3L453.3,156.3L458.7,156.3L464.2,156.3L469.6,156.3L475,156.3L480.5,156.3L485.9,156.3L491.3,156.3L496.8,156.3L502.2,156.3L507.6,156.3L513.1,156.3L518.5,156.3L523.9,156.3L529.4,155.8L534.8,143L540.2,132.7L545.7,125.9L551.1,122.5L556.5,122.5L562,122.5L567.4,122.5L572.8,122.4L578.3,122.4L583.7,122.4L589.1,122.3L594.6,122.2L600,121.9L605.4,121.7L610.9,121.6L616.3,121.6L621.7,121.5L627.2,121.5L632.6,121.5L638,121.4L643.5,121.3L648.9,120.9L654.3,119.6L659.8,119L665.2,118.7L670.6,118.6L676.1,118.6L681.5,118.6L686.9,118.5L692.4,118.1L697.8,118L703.2,117.5L708.7,116.4L714.1,115.1L719.5,114.1L725,113L730.4,112.2L735.8,112.1L741.3,112.1L746.7,112.1M426.1,156.3L431.6,156.3L437,156.3L442.4,156.3L447.9,156.3L453.3,156.3L458.7,156.3L464.2,156.3L469.6,156.3L475,156.3L480.5,156.3L485.9,155.3L491.3,140.8L496.8,132.8L502.2,132.8L507.6,132.8L513.1,132.8L518.5,132.8L523.9,132.8L529.4,132.8L534.8,132.8L540.2,132.8L545.7,132.8L551.1,132.8L556.5,130.8L562,126.6L567.4,117.5L572.8,113.8L578.3,113.8L583.7,109.2L589.1,100L594.6,95.9L600,95.9L605.4,95.9L610.9,95.9L616.3,94.1L621.7,89.6L627.2,87.8L632.6,87.8L638,87.8L643.5,87.8L648.9,87.8L654.3,87.8L659.8,87.8L665.2,87.8L670.6,87.7L676.1,87.7L681.5,87.7L686.9,87.5L692.4,87.2L697.8,86.8L703.2,86.5L708.7,86.3L714.1,86.2L719.5,86.1L725,86.1L730.4,86.1L735.8,86L741.3,85.9L746.7,85.9M426.1,156.3L431.6,156.3L437,156.3L442.4,156.3L447.9,156.3L453.3,156.3L458.7,156.3L464.2,156.3L469.6,156.3L475,156.3L480.5,156.3L485.9,155.5L491.3,143.5L496.8,136.9L502.2,136.9L507.6,136.9L513.1,136.9L518.5,136.9L523.9,136.9L529.4,136.9L534.8,136.9L540.2,136.9L545.7,136.9L551.1,136.9L556.5,135.4L562,132.4L567.4,127.8L572.8,125.2L578.3,123.6L583.7,122.8L589.1,122.8L594.6,122.3L600,122.2L605.4,122.1L610.9,121.4L616.3,120.5L621.7,118.7L627.2,117.9L632.6,116.7L638,114.4L643.5,109.6L648.9,105.5L654.3,101.8L659.8,96L665.2,90L670.6,86.7L676.1,85.2L681.5,82.9L686.9,81.4L692.4,80.3L697.8,76.5L703.2,73.9L708.7,71.2L714.1,70.5L719.5,70.1L725,66.8L730.4,62.6L735.8,56.6L741.3,52.7L746.7,48.8M426.1,156.3L431.6,156.3L437,156.3L442.4,156.3L447.9,156.3L453.3,155L458.7,145.8L464.2,144.5L469.6,144.5L475,144.5L480.5,144.5L485.9,144.5L491.3,144.5L496.8,144.5L502.2,144.5L507.6,144.5L513.1,144.5L518.5,144.5L523.9,144.5L529.4,144.5L534.8,144.5L540.2,144.5L545.7,144.5L551.1,143.9L556.5,142.5L562,140.2L567.4,138.5L572.8,137.8L578.3,137.7L583.7,137.2L589.1,135.6L594.6,132.2L600,129.9L605.4,129.6L610.9,126.9L616.3,120.3L621.7,115.1L627.2,114.6L632.6,112.1L638,107.9L643.5,106L648.9,105.2L654.3,102.8L659.8,96.3L665.2,91.2L670.6,88.4L676.1,87.2L681.5,85L686.9,81.7L692.4,79.9L697.8,77.4L703.2,75.6L708.7,72.6L714.1,69.5L719.5,66.4L725,61.2L730.4,57.6L735.8,54.9L741.3,53.1L746.7,51.6M426.1,156.3L431.6,156.3L437,156.3L442.4,156.3L447.9,156.3L453.3,156.1L458.7,154.4L464.2,154.2L469.6,154.2L475,154.2L480.5,154.2L485.9,154.2L491.3,154.2L496.8,154.2L502.2,154.2L507.6,154.2L513.1,154.2L518.5,154.2L523.9,154.2L529.4,154.2L534.8,154.2L540.2,154.2L545.7,154.2L551.1,154.2L556.5,154.2L562,154.1L567.4,154.1L572.8,154.1L578.3,153.8L583.7,148L589.1,129.7L594.6,123.2L600,121.5L605.4,119.3L610.9,117.8L616.3,117.1L621.7,116.9L627.2,115.8L632.6,114.2L638,113.5L643.5,112.9L648.9,111.4L654.3,110L659.8,109L665.2,106.3L670.6,98.8L676.1,95.1L681.5,91.8L686.9,90.5L692.4,87.5L697.8,85.1L703.2,83.3L708.7,82.3L714.1,80.4L719.5,76.7L725,73L730.4,70.6L735.8,68.5L741.3,64.7L746.7,60.8M426.1,156.3L431.6,156.3L437,156.3L442.4,156.3L447.9,156.3L453.3,156.3L458.7,156.3L464.2,156.3L469.6,156.3L475,156.3L480.5,156.3L485.9,156.3L491.3,156.3L496.8,156.3L502.2,156.3L507.6,156.3L513.1,156.3L518.5,156.3L523.9,156.3L529.4,156.3L534.8,156.3L540.2,156.3L545.7,156.3L551.1,156.3L556.5,156.3L562,156.3L567.4,156.3L572.8,156.2L578.3,156.2L583.7,156.2L589.1,156.1L594.6,156.1L600,156.1L605.4,156.1L610.9,156.1L616.3,156.1L621.7,156.1L627.2,156L632.6,155.9L638,155.9L643.5,155.8L648.9,155.3L654.3,154.5L659.8,154.1L665.2,153.8L670.6,153.6L676.1,153.6L681.5,153.6L686.9,153.5L692.4,153.3L697.8,152.8L703.2,152.5L708.7,151.9L714.1,151.3L719.5,150.8L725,150.6L730.4,150.5L735.8,150.3L741.3,149.9L746.7,149.7M426.1,156.3L431.6,156.3L437,156.3L442.4,156.3L447.9,156.3L453.3,156.3L458.7,156.3L464.2,156.3L469.6,156.3L475,156.3L480.5,156.3L485.9,156.3L491.3,156.3L496.8,156.3L502.2,156.3L507.6,156.3L513.1,156.3L518.5,156.3L523.9,156.3L529.4,156.3L534.8,156.3L540.2,156.3L545.7,156.3L551.1,156.3L556.5,153.9L562,149L567.4,136.7L572.8,132.4L578.3,132.4L583.7,132.4L589.1,132.4L594.6,132.4L600,132.4L605.4,132.4L610.9,132.4L616.3,132.4L621.7,132.4L627.2,132.4L632.6,132.4L638,132.4L643.5,132.4L648.9,132.4L654.3,132.4L659.8,132.4L665.2,132.4L670.6,132.4L676.1,132.4L681.5,132.4L686.9,132.4L692.4,132.4L697.8,132.4L703.2,132.4L708.7,132.4L714.1,132.4L719.5,132.4L725,132.4L730.4,132.4L735.8,132.4L741.3,132.4L746.7,132.4M426.1,156.3L431.6,156.3L437,156.3L442.4,156.3L447.9,156.3L453.3,156.3L458.7,156.3L464.2,156.3L469.6,156.3L475,156.3L480.5,156.3L485.9,156.2L491.3,155.6L496.8,155.4L502.2,155.4L507.6,155.4L513.1,155.4L518.5,155.4L523.9,155.4L529.4,155.4L534.8,155.4L540.2,155.4L545.7,155.4L551.1,155.4L556.5,155.4L562,155.4L567.4,155.4L572.8,155.4L578.3,155.4L583.7,155.4L589.1,155.4L594.6,155.4L600,155.4L605.4,155.4L610.9,155.4L616.3,155.4L621.7,152.3L627.2,144.5L632.6,141.4L638,141.4L643.5,141.4L648.9,141.4L654.3,141.4L659.8,141.4L665.2,141.4L670.6,141.4L676.1,141.4L681.5,141.4L686.9,141.4L692.4,141.4L697.8,141.4L703.2,141.4L708.7,141.4L714.1,141.4L719.5,141.4L725,141.4L730.4,141.4L735.8,141.4L741.3,141.4L746.7,141.4M426.1,156.3L431.6,156.3L437,156.3L442.4,156.3L447.9,156.3L453.3,156.3L458.7,156.3L464.2,156.3L469.6,156.3L475,156.3L480.5,156.3L485.9,156.3L491.3,155.1L496.8,151.2L502.2,150.8L507.6,150.8L513.1,150.8L518.5,150.8L523.9,150.8L529.4,150.8L534.8,150.8L540.2,150.8L545.7,150.8L551.1,150.8L556.5,150.8L562,150.8L567.4,150.8L572.8,150.8L578.3,150.8L583.7,150.8L589.1,150.8L594.6,150.8L600,150.8L605.4,150.8L610.9,150.8L616.3,150.8L621.7,150.8L627.2,150.8L632.6,150.8L638,150.8L643.5,150.8L648.9,150.8L654.3,150.8L659.8,150.8L665.2,150.8L670.6,150.8L676.1,150.8L681.5,150.8L686.9,150.8L692.4,150.8L697.8,150.8L703.2,150.8L708.7,150.8L714.1,150.8L719.5,143.6L725,127.4L730.4,120.2L735.8,120.2L741.3,120.2L746.7,120.2M426.1,156.3L431.6,156.3L437,156.3L442.4,156.3L447.9,156.3L453.3,156.2L458.7,155.7L464.2,155.6L469.6,155.6L475,155.6L480.5,155.6L485.9,154.8L491.3,144L496.8,138L502.2,138L507.6,138L513.1,138L518.5,138L523.9,138L529.4,138L534.8,138L540.2,138L545.7,138L551.1,138L556.5,138L562,137.9L567.4,137.8L572.8,137.6L578.3,137.5L583.7,137.5L589.1,137.5L594.6,137.4L600,137.4L605.4,137.4L610.9,137.4L616.3,137.4L621.7,137.1L627.2,136.6L632.6,136.2L638,136.1L643.5,136L648.9,136L654.3,136L659.8,136L665.2,135.9L670.6,135.9L676.1,135.9L681.5,135.9L686.9,135.9L692.4,135.8L697.8,135.8L703.2,135.5L708.7,135.3L714.1,135.3L719.5,135.1L725,135.1L730.4,135L735.8,134.9L741.3,134.9L746.7,134.9M426.1,156.3L431.6,156.3L437,156.3L442.4,156.3L447.9,156.3L453.3,156.3L458.7,156.3L464.2,156.3L469.6,156.3L475,156.3L480.5,156.3L485.9,156.2L491.3,155.8L496.8,155.6L502.2,155.6L507.6,155.6L513.1,155.6L518.5,155.6L523.9,155.6L529.4,155.6L534.8,155.6L540.2,155.6L545.7,155.6L551.1,155.6L556.5,155.6L562,155.6L567.4,155.3L572.8,154.9L578.3,154.9L583.7,153.6L589.1,151.2L594.6,143.5L600,133.8L605.4,128.7L610.9,128.6L616.3,128.6L621.7,128L627.2,127.7L632.6,127.7L638,127.5L643.5,127.4L648.9,127.2L654.3,126.9L659.8,126.7L665.2,126.4L670.6,126.3L676.1,125.6L681.5,125L686.9,124.7L692.4,123.7L697.8,122.8L703.2,121.6L708.7,119.6L714.1,117.2L719.5,114.7L725,111.5L730.4,108.9L735.8,107.1L741.3,105.6L746.7,104.4"/>
<path class="oper" d="M426.13,156.3L431.57,156.3L437,156.3L442.43,156.3L447.87,156.3L453.3,155.88L458.73,154.91L464.17,154.63L469.6,154.63L475.03,154.63L480.47,154.63L485.9,154.63L491.33,154.49L496.77,154.49L502.2,154.49L507.63,154.49L513.07,154.49L518.5,154.49L523.93,154.49L529.37,154.49L534.8,154.49L540.23,154.49L545.67,154.49L551.1,154.49L556.53,154.49L561.97,154.49L567.4,154.49L572.83,154.49L578.27,154.49L583.7,154.49L589.13,154.49L594.57,154.49L600,154.49L605.43,154.49L610.87,154.49L616.3,154.49L621.73,154.49L627.17,154.49L632.6,154.49L638.03,154.49"/>
<path class="ctrl" d="M426.13,156.3L431.57,156.3L437,156.3L442.43,156.3L447.87,156.3L453.3,156.3L458.73,155.88L464.17,155.88L469.6,155.88L475.03,155.88L480.47,155.88L485.9,155.88L491.33,155.6L496.77,155.6L502.2,155.6L507.63,155.6L513.07,155.6L518.5,155.6L523.93,155.6L529.37,155.6L534.8,155.6L540.23,155.6L545.67,155.6L551.1,155.6L556.53,155.6L561.97,155.6L567.4,155.6L572.83,155.6L578.27,155.6L583.7,155.6L589.13,155.6L594.57,155.6L600,155.6L605.43,155.6L610.87,155.6L616.3,154.77L621.73,151.15L627.17,140.43L632.6,134.86L638.03,133.89L643.47,133.61L648.9,133.61L654.33,133.61L659.77,133.19L665.2,132.78L670.63,132.78L676.07,132.78L681.5,132.36L686.93,131.52L692.37,130.55L697.8,127.76L703.23,120.8L708.67,117.74L714.1,116.77L719.53,116.21L724.97,115.79L730.4,115.24L735.83,114.12L741.27,111.62L746.7,108.28"/>
<path class="ax" style="stroke:#1c1c1c;stroke-width:1.3px" d="M420.2,156.3H747.2"/>
<path class="mean" d="M426.13,156.3L431.57,156.3L437,156.3L442.43,156.3L447.87,156.3L453.3,156.19L458.73,155.39L464.17,155.28L469.6,155.28L475.03,155.28L480.47,155.28L485.9,155.12L491.33,152.87L496.77,151.14L502.2,151.08L507.63,151.01L513.07,150.8L518.5,150.74L523.93,150.74L529.37,150.73L534.8,150.47L540.23,150.27L545.67,150.13L551.1,149.95L556.53,149.43L561.97,148.64L567.4,147.46L572.83,146.48L578.27,145.21L583.7,143.95L589.13,142.42L594.57,140.99L600,139.96L605.43,139.02L610.87,138.35L616.3,137.6L621.73,136.91L627.17,136.19L632.6,135.17L638.03,134.55L643.47,133.9L648.9,133.3L654.33,132.46L659.77,131.43L665.2,130.2L670.63,128.93L676.07,127.85L681.5,126.5L686.93,124.8L692.37,123.15L697.8,121.47L703.23,119.53L708.67,117.32L714.1,115.19L719.53,113.2L724.97,111.36L730.4,109.87L735.83,108.45L741.27,107.05L746.7,105.84"/>
</g>
<path class="ax" style="stroke:#555;stroke-width:1px" d="M420.2,17.1H747.2"/>
<path class="ax" style="stroke:#303030;stroke-width:1.5px" d="M746.8,16.6V156.9"/>
<path class="ax" style="stroke:#111;stroke-width:1.4px" d="M420.7,16.6V156.9"/>
<text class="yt" transform="translate(414.5,160.05) scale(1,1.05)" text-anchor="end">0</text>
<text class="yt" transform="translate(751.8,160.05) scale(1,1.05)">0</text>
<text class="yt" transform="translate(414.5,132.21) scale(1,1.05)" text-anchor="end">10</text>
<text class="yt" transform="translate(751.8,132.21) scale(1,1.05)">10</text>
<text class="yt" transform="translate(414.5,104.37) scale(1,1.05)" text-anchor="end">20</text>
<text class="yt" transform="translate(751.8,104.37) scale(1,1.05)">20</text>
<text class="yt" transform="translate(414.5,76.53) scale(1,1.05)" text-anchor="end">30</text>
<text class="yt" transform="translate(751.8,76.53) scale(1,1.05)">30</text>
<text class="yt" transform="translate(414.5,48.69) scale(1,1.05)" text-anchor="end">40</text>
<text class="yt" transform="translate(751.8,48.69) scale(1,1.05)">40</text>
<text class="yt" transform="translate(414.5,20.85) scale(1,1.05)" text-anchor="end">50</text>
<text class="yt" transform="translate(751.8,20.85) scale(1,1.05)">50</text>
<path class="tk" d="M420.7,156.3h-4.3M746.7,156.3h3.44M420.7,142.38h-2M746.7,142.38h1.6M420.7,128.46h-4.3M746.7,128.46h3.44M420.7,114.54h-2M746.7,114.54h1.6M420.7,100.62h-4.3M746.7,100.62h3.44M420.7,86.7h-2M746.7,86.7h1.6M420.7,72.78h-4.3M746.7,72.78h3.44M420.7,58.86h-2M746.7,58.86h1.6M420.7,44.94h-4.3M746.7,44.94h3.44M420.7,31.02h-2M746.7,31.02h1.6M420.7,17.1h-4.3M746.7,17.1h3.44"/>
<path class="xtk" d="M426.13,156.3v4.3M431.57,156.3v4.3M437,156.3v4.3M447.87,156.3v4.3M453.3,156.3v4.3M458.73,156.3v4.3M469.6,156.3v4.3M475.03,156.3v4.3M480.47,156.3v4.3M491.33,156.3v4.3M496.77,156.3v4.3M502.2,156.3v4.3M513.07,156.3v4.3M518.5,156.3v4.3M523.93,156.3v4.3M534.8,156.3v4.3M540.23,156.3v4.3M545.67,156.3v4.3M556.53,156.3v4.3M561.97,156.3v4.3M567.4,156.3v4.3M578.27,156.3v4.3M583.7,156.3v4.3M589.13,156.3v4.3M600,156.3v4.3M605.43,156.3v4.3M610.87,156.3v4.3M621.73,156.3v4.3M627.17,156.3v4.3M632.6,156.3v4.3M643.47,156.3v4.3M648.9,156.3v4.3M654.33,156.3v4.3M665.2,156.3v4.3M670.63,156.3v4.3M676.07,156.3v4.3M686.93,156.3v4.3M692.37,156.3v4.3M697.8,156.3v4.3M708.67,156.3v4.3M714.1,156.3v4.3M719.53,156.3v4.3M730.4,156.3v4.3M735.83,156.3v4.3M741.27,156.3v4.3"/>
<text class="z" x="420.1" y="161.5" text-anchor="middle">00</text>
<text class="z" x="441.83" y="161.5" text-anchor="middle">00</text>
<text class="z" x="463.57" y="161.5" text-anchor="middle">00</text>
<text class="z" x="485.3" y="161.5" text-anchor="middle">00</text>
<text class="z" x="507.03" y="161.5" text-anchor="middle">00</text>
<text class="z" x="528.77" y="161.5" text-anchor="middle">00</text>
<text class="z" x="550.5" y="161.5" text-anchor="middle">00</text>
<text class="z" x="572.23" y="161.5" text-anchor="middle">00</text>
<text class="z" x="593.97" y="161.5" text-anchor="middle">00</text>
<text class="z" x="615.7" y="161.5" text-anchor="middle">00</text>
<text class="z" x="637.43" y="161.5" text-anchor="middle">00</text>
<text class="z" x="659.17" y="161.5" text-anchor="middle">00</text>
<text class="z" x="680.9" y="161.5" text-anchor="middle">00</text>
<text class="z" x="702.63" y="161.5" text-anchor="middle">00</text>
<text class="z" x="724.37" y="161.5" text-anchor="middle">00</text>
<text class="z" x="746.1" y="161.5" text-anchor="middle">00</text>
<text class="dy" x="431.77" y="166.7" text-anchor="middle">Do</text>
<text class="dy" x="453.5" y="166.7" text-anchor="middle">Vr</text>
<text class="dy" x="475.23" y="166.7" text-anchor="middle">Za</text>
<text class="dy" x="496.97" y="166.7" text-anchor="middle">Zo</text>
<text class="dy" x="518.7" y="166.7" text-anchor="middle">Ma</text>
<text class="dy" x="540.43" y="166.7" text-anchor="middle">Di</text>
<text class="dy" x="562.17" y="166.7" text-anchor="middle">Wo</text>
<text class="dy" x="583.9" y="166.7" text-anchor="middle">Do</text>
<text class="dy" x="605.63" y="166.7" text-anchor="middle">Vr</text>
<text class="dy" x="627.37" y="166.7" text-anchor="middle">Za</text>
<text class="dy" x="649.1" y="166.7" text-anchor="middle">Zo</text>
<text class="dy" x="670.83" y="166.7" text-anchor="middle">Ma</text>
<text class="dy" x="692.57" y="166.7" text-anchor="middle">Di</text>
<text class="dy" x="714.3" y="166.7" text-anchor="middle">Wo</text>
<text class="dy" x="736.03" y="166.7" text-anchor="middle">Do</text>
<text class="xl" x="583.7" y="177.6" text-anchor="middle">Dag</text>
<text class="yl" transform="translate(403.8,86.7) scale(1.2,1) rotate(-90)" text-anchor="middle">mm</text>
<line class="ctrl" style="stroke:#4a4aff;stroke-width:1px;stroke-dasharray:3.9 2.1" x1="423" x2="445" y1="24.8" y2="24.8"/>
<line class="oper" style="stroke:#ff1010;stroke-width:0.9px" x1="423" x2="445" y1="31.2" y2="31.2"/>
<line class="mean lg" x1="423" x2="445" y1="38.1" y2="38.1"/>
<text class="lg" x="467.7" y="27.9" text-anchor="middle">Control</text>
<text class="lg" x="467.7" y="34.3" text-anchor="middle">Oper</text>
<text class="lg" x="467.7" y="41" text-anchor="middle">Ens mn</text>
<text class="st" x="707.8" y="27.1" text-anchor="middle">De Bilt</text>
<text class="st" x="707.8" y="37.9" text-anchor="middle">Accum Neerslag</text>
<text class="br" x="698.9" y="176.9" textLength="65.6" lengthAdjust="spacing">Bron: ECMWF/KNMI</text>
</g>
<g>
<text class="ttl" style="font-size:10.8px" y="196.8"><tspan x="69.7" textLength="52.8" lengthAdjust="spacing"><tspan class="b">D</tspan>onderdag</tspan> <tspan x="129.4" textLength="4.6" lengthAdjust="spacing">2</tspan> <tspan x="138.1" textLength="39.9" lengthAdjust="spacing"><tspan class="b">F</tspan>ebruari</tspan> <tspan x="185.6" textLength="21.9" lengthAdjust="spacing">2012</tspan> <tspan x="215.2" textLength="37.4" lengthAdjust="spacing">(starttijd</tspan> <tspan x="261.3" textLength="13.2" lengthAdjust="spacing"><tspan class="b">D</tspan>o</tspan> <tspan x="278" textLength="10.4" lengthAdjust="spacing">00</tspan> <tspan x="293.3" textLength="22.9" lengthAdjust="spacing"><tspan class="b">UTC</tspan>)</tspan></text>
<clipPath id="c2"><rect x="32.6" y="200.7" width="326.6" height="140.4"/></clipPath>
<line class="hdot" x1="32.6" x2="358.6" y1="203.98" y2="203.98"/>
<line class="hmag" x1="32.6" x2="358.6" y1="224.59" y2="224.59"/>
<line class="hdot" x1="32.6" x2="358.6" y1="244.63" y2="244.63"/>
<line class="hdot" x1="32.6" x2="358.6" y1="263" y2="263"/>
<line class="hdot" x1="32.6" x2="358.6" y1="280.27" y2="280.27"/>
<g clip-path="url(#c2)">
<path class="mem" d="M38,310.2L43.5,311.2L48.9,313.6L54.3,324.5L59.8,334.5L65.2,322.7L70.6,307.7L76.1,318.8L81.5,326.3L86.9,324.7L92.4,331L97.8,313.9L103.2,317.8L108.7,319.3L114.1,317.2L119.5,319.9L125,322.5L130.4,308.4L135.8,321.6L141.3,323.2L146.7,318L152.1,312.4L157.6,314L163,312.2L168.4,306L173.9,302.5L179.3,306.3L184.7,305.9L190.2,315.9L195.6,330.7L201,320.1L206.5,330.8L211.9,321.7L217.3,300.7L222.8,313.6L228.2,317.5L233.6,321.6L239.1,310.6L244.5,320L249.9,317.4L255.4,316.4L260.8,317.7L266.2,308.2L271.7,316.3L277.1,311.9L282.5,296.9L288,297.9L293.4,314.5L298.8,293.2L304.3,289.6L309.7,282.6L315.1,285.5L320.6,306.8L326,308.2L331.4,307L336.9,304.3L342.3,296.7L347.7,277.5L353.2,277.5L358.6,281.9M38,309.1L43.5,312.1L48.9,317.6L54.3,327L59.8,336.9L65.2,327L70.6,317.1L76.1,321.1L81.5,324.5L86.9,324.8L92.4,331.2L97.8,321L103.2,317.7L108.7,311.4L114.1,324.9L119.5,323.9L125,325.5L130.4,325.1L135.8,315.3L141.3,317.2L146.7,319L152.1,317L157.6,316.4L163,322.6L168.4,325L173.9,314.2L179.3,313.5L184.7,311.1L190.2,319.1L195.6,320.2L201,333.2L206.5,324.3L211.9,319.9L217.3,318.4L222.8,326.4L228.2,329.4L233.6,325.6L239.1,322.8L244.5,326.7L249.9,319.8L255.4,311.3L260.8,320.1L266.2,325.9L271.7,327.8L277.1,330.4L282.5,321.9L288,316.4L293.4,316L298.8,325.4L304.3,325L309.7,323.6L315.1,323.6L320.6,319.3L326,322.8L331.4,318.9L336.9,304.1L342.3,279.6L347.7,278.3L353.2,301.5L358.6,298.9M38,311L43.5,311.6L48.9,315.9L54.3,326.9L59.8,337.1L65.2,327.4L70.6,319L76.1,320.8L81.5,331.7L86.9,329.8L92.4,333.4L97.8,316.9L103.2,316.4L108.7,317.3L114.1,325L119.5,330.1L125,332L130.4,328.7L135.8,321.8L141.3,327.2L146.7,327.6L152.1,324.4L157.6,329.8L163,331.1L168.4,331.9L173.9,330.4L179.3,329.2L184.7,318.6L190.2,320.8L195.6,317.6L201,301.7L206.5,297.8L211.9,319L217.3,323.5L222.8,311.5L228.2,325.8L233.6,331.3L239.1,334.2L244.5,335.6L249.9,336.5L255.4,332.7L260.8,321.6L266.2,311.8L271.7,315.1L277.1,328.1L282.5,325L288,327.6L293.4,323.1L298.8,322.4L304.3,327.4L309.7,323.1L315.1,330.6L320.6,329.3L326,325.1L331.4,323L336.9,308.5L342.3,325.7L347.7,318.6L353.2,315.7L358.6,319.9M38,310.2L43.5,312.3L48.9,315.6L54.3,325.7L59.8,336.8L65.2,330L70.6,325.3L76.1,327L81.5,328.4L86.9,327.6L92.4,319.7L97.8,307.9L103.2,308.8L108.7,316.2L114.1,326.8L119.5,329.9L125,330.8L130.4,327.4L135.8,329.6L141.3,328.9L146.7,326.2L152.1,325.8L157.6,327L163,319.7L168.4,313.8L173.9,320.9L179.3,324.8L184.7,329.5L190.2,329.5L195.6,317.6L201,316.5L206.5,313.7L211.9,294L217.3,315.8L222.8,320.1L228.2,323.5L233.6,316.6L239.1,324.2L244.5,322.7L249.9,315.2L255.4,309.2L260.8,312.9L266.2,327L271.7,332.2L277.1,326.6L282.5,323.4L288,331.8L293.4,331.8L298.8,334.3L304.3,334.3L309.7,333.2L315.1,332.6L320.6,331.5L326,327.8L331.4,329.5L336.9,326.9L342.3,323.6L347.7,321.3L353.2,324.1L358.6,317.6M38,310.9L43.5,311L48.9,315.8L54.3,325.5L59.8,335.5L65.2,328L70.6,330.6L76.1,324.2L81.5,332.9L86.9,333.4L92.4,331.5L97.8,321.7L103.2,318.1L108.7,321.7L114.1,328.5L119.5,325.8L125,328L130.4,325.4L135.8,322.1L141.3,317L146.7,317.8L152.1,318.3L157.6,321.9L163,327.7L168.4,330L173.9,331.8L179.3,332L184.7,332.7L190.2,330.1L195.6,314.5L201,299L206.5,326.6L211.9,325.6L217.3,328.6L222.8,321.2L228.2,318.6L233.6,312L239.1,311.8L244.5,312L249.9,315.2L255.4,332.2L260.8,333.6L266.2,335.4L271.7,331L277.1,331.9L282.5,314.9L288,320.1L293.4,310.2L298.8,311.1L304.3,292L309.7,308.9L315.1,306.7L320.6,318.9L326,312.4L331.4,306.4L336.9,320.4L342.3,322.4L347.7,315.9L353.2,318.3L358.6,324.7M38,309.7L43.5,311.2L48.9,313.6L54.3,324.7L59.8,336.2L65.2,328.6L70.6,314.3L76.1,325.2L81.5,331.7L86.9,327.9L92.4,320.9L97.8,309.9L103.2,319.8L108.7,311.2L114.1,321.3L119.5,320.5L125,321.4L130.4,322.5L135.8,326.9L141.3,327.2L146.7,318.1L152.1,324.1L157.6,331.4L163,326.9L168.4,326.1L173.9,319.2L179.3,312.5L184.7,316.9L190.2,316.5L195.6,312.5L201,301.7L206.5,305.1L211.9,316.7L217.3,327.9L222.8,325.6L228.2,332.6L233.6,325.2L239.1,327L244.5,328L249.9,330.2L255.4,314.9L260.8,313.7L266.2,321.7L271.7,316.7L277.1,316.3L282.5,306.6L288,302.6L293.4,312.7L298.8,305.6L304.3,302.4L309.7,294.8L315.1,295L320.6,303.7L326,309.4L331.4,310.9L336.9,322.6L342.3,313.6L347.7,311.6L353.2,310.4L358.6,318.2M38,311.2L43.5,313L48.9,315.9L54.3,326.7L59.8,336.7L65.2,331.9L70.6,326.6L76.1,333.2L81.5,333.8L86.9,332.3L92.4,331L97.8,325.4L103.2,328.5L108.7,326.3L114.1,327.2L119.5,325.7L125,319L130.4,312.3L135.8,327.2L141.3,329.7L146.7,330.9L152.1,329.1L157.6,333.2L163,333.7L168.4,334.8L173.9,334.8L179.3,329.4L184.7,332.4L190.2,318.6L195.6,332.7L201,337.6L206.5,331.1L211.9,332.8L217.3,332.1L222.8,324.1L228.2,315.5L233.6,305.3L239.1,315.4L244.5,319L249.9,317.2L255.4,315.9L260.8,311.3L266.2,317L271.7,317.2L277.1,330.2L282.5,322.3L288,309.9L293.4,314.6L298.8,302.1L304.3,320.1L309.7,321.7L315.1,328L320.6,322.5L326,317.1L331.4,327.7L336.9,329.2L342.3,327.1L347.7,305.4L353.2,310.7L358.6,313.1M38,310.4L43.5,311.6L48.9,315.7L54.3,327.5L59.8,337.5L65.2,325L70.6,316.3L76.1,322.1L81.5,332.6L86.9,330.9L92.4,329.6L97.8,322.6L103.2,314.9L108.7,321.8L114.1,326L119.5,321L125,320.5L130.4,310.1L135.8,318.1L141.3,321.3L146.7,318L152.1,315L157.6,313L163,312.1L168.4,316.1L173.9,313.8L179.3,314L184.7,320.7L190.2,321.2L195.6,323.9L201,311.3L206.5,319.7L211.9,308.8L217.3,324L222.8,321.1L228.2,312.4L233.6,315.6L239.1,304.3L244.5,327.9L249.9,324.8L255.4,319.6L260.8,320.5L266.2,330.9L271.7,322.4L277.1,331.7L282.5,321.5L288,317.6L293.4,311.3L298.8,310.6L304.3,290.3L309.7,280.8L315.1,262.4L320.6,252.4L326,243.5L331.4,277.5L336.9,308.2L342.3,286.8L347.7,314.9L353.2,318.4L358.6,312.5M38,310.1L43.5,311.9L48.9,316.1L54.3,326.6L59.8,336.2L65.2,328.6L70.6,325L76.1,327.6L81.5,333.3L86.9,326.1L92.4,329.9L97.8,314.9L103.2,301.5L108.7,310.8L114.1,312.5L119.5,312.3L125,309.8L130.4,304.3L135.8,320.8L141.3,319.4L146.7,310.5L152.1,311.7L157.6,314.7L163,320.5L168.4,326.1L173.9,319.7L179.3,322.1L184.7,315.5L190.2,299.9L195.6,318.8L201,326.4L206.5,324.2L211.9,292.8L217.3,309.9L222.8,314.7L228.2,312.6L233.6,287.5L239.1,304.4L244.5,316.3L249.9,314.4L255.4,306.1L260.8,292.5L266.2,312.4L271.7,324.9L277.1,319.3L282.5,307.5L288,329.6L293.4,328.1L298.8,313.4L304.3,315.3L309.7,307.1L315.1,306.8L320.6,302.7L326,297.9L331.4,306.3L336.9,295.4L342.3,297.9L347.7,301.3L353.2,301.3L358.6,308.3M38,310.9L43.5,312.5L48.9,317.1L54.3,325.2L59.8,334.9L65.2,318.2L70.6,304.8L76.1,312.4L81.5,323.4L86.9,323.4L92.4,322L97.8,309.9L103.2,315.2L108.7,316.6L114.1,322.2L119.5,322.4L125,323.2L130.4,318.3L135.8,317.5L141.3,319.9L146.7,318.9L152.1,321.3L157.6,319.3L163,320L168.4,328.4L173.9,328L179.3,323.6L184.7,320.3L190.2,327.5L195.6,319.3L201,315.7L206.5,315.9L211.9,296.2L217.3,313L222.8,308.1L228.2,315.7L233.6,309.3L239.1,298.6L244.5,309.8L249.9,304.3L255.4,315.6L260.8,313.1L266.2,327.3L271.7,310.3L277.1,299.6L282.5,318.7L288,335.4L293.4,325.4L298.8,329.3L304.3,319.6L309.7,327.7L315.1,324.4L320.6,325.1L326,320L331.4,324.5L336.9,310L342.3,319.4L347.7,306.8L353.2,313.3L358.6,312.9M38,311.6L43.5,313.8L48.9,316.8L54.3,328.3L59.8,337.7L65.2,330.7L70.6,328L76.1,326.2L81.5,335L86.9,335.2L92.4,330.9L97.8,323.9L103.2,318.8L108.7,316.4L114.1,318.8L119.5,316.2L125,326.9L130.4,327.5L135.8,328L141.3,321.1L146.7,318.7L152.1,321.2L157.6,320L163,322.5L168.4,320.6L173.9,319L179.3,315.9L184.7,311.2L190.2,302.8L195.6,310.4L201,308.2L206.5,318.3L211.9,313.4L217.3,315.6L222.8,317.1L228.2,323L233.6,326.3L239.1,322.4L244.5,333.9L249.9,325.4L255.4,335.9L260.8,332.8L266.2,333.4L271.7,325.6L277.1,322.7L282.5,320.9L288,322.8L293.4,315.3L298.8,284.2L304.3,293.9L309.7,321.3L315.1,323.2L320.6,317.9L326,287.5L331.4,309.3L336.9,316L342.3,308.3L347.7,307.7L353.2,322.2L358.6,317.8M38,311.5L43.5,312.9L48.9,315.5L54.3,327.5L59.8,337.2L65.2,324.2L70.6,318.6L76.1,325.5L81.5,332.4L86.9,327.6L92.4,332.8L97.8,324.5L103.2,328.8L108.7,337.1L114.1,326.7L119.5,327L125,327.3L130.4,324.2L135.8,326.8L141.3,330.1L146.7,321.8L152.1,314.7L157.6,323.3L163,318.7L168.4,312.4L173.9,311.8L179.3,314L184.7,323.7L190.2,324.2L195.6,334.7L201,325.9L206.5,326.3L211.9,313.5L217.3,323.2L222.8,314L228.2,327.8L233.6,330L239.1,324.7L244.5,322.3L249.9,321.7L255.4,331.2L260.8,319L266.2,315.7L271.7,310L277.1,298.7L282.5,302.6L288,310.8L293.4,287.5L298.8,303L304.3,302L309.7,309.1L315.1,295.5L320.6,303.3L326,314.7L331.4,322.9L336.9,328.8L342.3,333.2L347.7,332.6L353.2,332L358.6,332M38,310.6L43.5,312.4L48.9,316.1L54.3,324.7L59.8,336.3L65.2,330.2L70.6,319.7L76.1,310L81.5,324.6L86.9,331.4L92.4,331.1L97.8,322.7L103.2,316.1L108.7,325.4L114.1,327L119.5,327.8L125,331.1L130.4,331.5L135.8,328.5L141.3,324.9L146.7,326.2L152.1,313.2L157.6,313.1L163,311.6L168.4,311.4L173.9,311.2L179.3,311.6L184.7,295.3L190.2,300.8L195.6,327.7L201,327.5L206.5,329.4L211.9,335L217.3,325.6L222.8,329.7L228.2,323.6L233.6,327.4L239.1,331.4L244.5,331.9L249.9,310.7L255.4,293.6L260.8,308.6L266.2,303.5L271.7,287.5L277.1,303.8L282.5,301.7L288,302.2L293.4,304.7L298.8,306.1L304.3,284.7L309.7,288L315.1,282.4L320.6,276.4L326,275L331.4,277.5L336.9,276.4L342.3,272.5L347.7,290.8L353.2,298.3L358.6,295.5M38,310.4L43.5,312.7L48.9,317.4L54.3,327.9L59.8,336.6L65.2,323L70.6,326.9L76.1,326.4L81.5,332.7L86.9,331.1L92.4,328.9L97.8,322.9L103.2,326.8L108.7,321.5L114.1,322.9L119.5,324.2L125,323.7L130.4,326L135.8,329.5L141.3,325.7L146.7,326.2L152.1,326.9L157.6,328.1L163,318.2L168.4,317.6L173.9,315.9L179.3,318L184.7,306.4L190.2,299.9L195.6,320.2L201,323.9L206.5,327.5L211.9,325.2L217.3,322.5L222.8,329.6L228.2,320.9L233.6,316.7L239.1,330.6L244.5,319.2L249.9,317.2L255.4,312.1L260.8,313.2L266.2,315.1L271.7,318.1L277.1,328.3L282.5,327.2L288,325.1L293.4,321.9L298.8,311L304.3,308.4L309.7,327.2L315.1,318.1L320.6,320.4L326,326.4L331.4,326.2L336.9,329.5L342.3,321.6L347.7,320.7L353.2,308.3L358.6,311.9M38,311.1L43.5,312.8L48.9,318.3L54.3,329.3L59.8,338.7L65.2,332.7L70.6,334.3L76.1,329.9L81.5,331.2L86.9,331.4L92.4,330.8L97.8,320.3L103.2,323.1L108.7,327.5L114.1,325.3L119.5,324.2L125,328.9L130.4,331.4L135.8,322.3L141.3,320.5L146.7,327.9L152.1,324.3L157.6,322.3L163,321.5L168.4,330.4L173.9,319.2L179.3,318.8L184.7,320.5L190.2,316.1L195.6,320.3L201,327.2L206.5,319.5L211.9,335.5L217.3,325.4L222.8,320.7L228.2,316L233.6,311.4L239.1,295.9L244.5,299.1L249.9,294.8L255.4,310L260.8,310.6L266.2,318.9L271.7,327L277.1,323.1L282.5,317.6L288,312.1L293.4,329.6L298.8,324.9L304.3,315L309.7,314.8L315.1,304.1L320.6,316.4L326,314.5L331.4,322.6L336.9,322.6L342.3,325.6L347.7,321.5L353.2,319.8L358.6,321M38,310.4L43.5,312.2L48.9,314.3L54.3,326.1L59.8,336L65.2,324.7L70.6,318.7L76.1,317.4L81.5,324.5L86.9,319L92.4,314.8L97.8,308L103.2,313.7L108.7,315.1L114.1,319.6L119.5,317.1L125,323.3L130.4,325.6L135.8,326.2L141.3,325.3L146.7,329.1L152.1,315.6L157.6,319.8L163,319.7L168.4,324.5L173.9,323.5L179.3,313.8L184.7,320.5L190.2,326L195.6,332.1L201,333.9L206.5,319.8L211.9,328.2L217.3,327.9L222.8,331.5L228.2,332.6L233.6,331.1L239.1,331.3L244.5,331.2L249.9,324.9L255.4,317.1L260.8,321.7L266.2,329.1L271.7,331.9L277.1,320.1L282.5,328.6L288,325.4L293.4,325.5L298.8,329L304.3,317L309.7,323.3L315.1,310.2L320.6,321.2L326,317L331.4,309.7L336.9,321.9L342.3,299.1L347.7,299.8L353.2,322.7L358.6,314.7M38,309L43.5,311L48.9,314.8L54.3,325.3L59.8,337.3L65.2,328.8L70.6,317L76.1,323.3L81.5,323.5L86.9,316.5L92.4,325.4L97.8,324.3L103.2,325.5L108.7,322.3L114.1,324.5L119.5,327.4L125,329.4L130.4,328.6L135.8,319.7L141.3,325L146.7,325.2L152.1,316.2L157.6,320L163,324.4L168.4,316.5L173.9,314.4L179.3,320L184.7,322L190.2,310.8L195.6,316.3L201,314.9L206.5,311.5L211.9,295.3L217.3,323.2L222.8,322.9L228.2,323.8L233.6,321L239.1,312.4L244.5,306.8L249.9,311.9L255.4,320.5L260.8,314.2L266.2,322.7L271.7,307L277.1,301.8L282.5,291.3L288,295.8L293.4,310.7L298.8,309.6L304.3,307.4L309.7,301L315.1,285.6L320.6,293L326,285.1L331.4,304L336.9,300.2L342.3,297.5L347.7,289.5L353.2,307L358.6,308.9M38,310.5L43.5,311.2L48.9,315.7L54.3,326.5L59.8,337L65.2,331.3L70.6,320.8L76.1,319.5L81.5,331.9L86.9,332.5L92.4,328.3L97.8,321.7L103.2,324L108.7,316.1L114.1,325L119.5,325.3L125,320.8L130.4,323.8L135.8,322.7L141.3,320.5L146.7,315.6L152.1,317.6L157.6,314L163,312.2L168.4,302.5L173.9,305.6L179.3,314.5L184.7,314.9L190.2,324.7L195.6,320.1L201,319.5L206.5,313.5L211.9,309.8L217.3,318.3L222.8,305L228.2,313.2L233.6,310.1L239.1,286.9L244.5,290.3L249.9,303.3L255.4,305.9L260.8,299L266.2,294.1L271.7,293.3L277.1,279.7L282.5,309.8L288,314.9L293.4,324.5L298.8,323.9L304.3,317.7L309.7,307.1L315.1,293L320.6,294.5L326,290.1L331.4,305.6L336.9,291.8L342.3,276.9L347.7,307L353.2,309.5L358.6,306.6M38,311.3L43.5,312.4L48.9,314.7L54.3,326L59.8,336.1L65.2,327.4L70.6,325.2L76.1,326.5L81.5,334.3L86.9,332.8L92.4,333.9L97.8,320.8L103.2,319.8L108.7,316.2L114.1,327.2L119.5,327.5L125,323.3L130.4,318L135.8,324.7L141.3,324.7L146.7,322.2L152.1,322.6L157.6,325.2L163,321.4L168.4,328L173.9,333.2L179.3,331.2L184.7,331.6L190.2,336.5L195.6,328.9L201,327.7L206.5,322.1L211.9,329.7L217.3,326.2L222.8,307.2L228.2,294.1L233.6,294.6L239.1,307.5L244.5,317.2L249.9,304.3L255.4,314.8L260.8,324.6L266.2,326.2L271.7,317.1L277.1,324.9L282.5,318L288,316.1L293.4,316.6L298.8,317.1L304.3,305.4L309.7,302.9L315.1,320.5L320.6,304.7L326,301.7L331.4,308.8L336.9,312.1L342.3,315.6L347.7,325.2L353.2,325.3L358.6,322M38,310.3L43.5,312.2L48.9,318L54.3,329.2L59.8,338.3L65.2,328.8L70.6,328.7L76.1,327.3L81.5,330.8L86.9,327.5L92.4,327.5L97.8,327.7L103.2,325L108.7,326.2L114.1,325.9L119.5,329.4L125,329.4L130.4,320.6L135.8,323.7L141.3,323.8L146.7,326.1L152.1,316.7L157.6,327.3L163,327.2L168.4,326.5L173.9,325.6L179.3,320.1L184.7,317.5L190.2,303L195.6,313.6L201,319.3L206.5,319.7L211.9,334.5L217.3,320.4L222.8,325.8L228.2,316.8L233.6,306.4L239.1,298.7L244.5,312.8L249.9,318.1L255.4,333.1L260.8,327L266.2,329L271.7,315L277.1,316.7L282.5,308.8L288,320.3L293.4,316.7L298.8,321L304.3,318.5L309.7,330.1L315.1,329.1L320.6,326.1L326,315.1L331.4,317.5L336.9,326L342.3,308.1L347.7,307.4L353.2,307.6L358.6,318.4M38,312.6L43.5,314.2L48.9,318.7L54.3,328.5L59.8,338.7L65.2,333.7L70.6,332.4L76.1,328.5L81.5,335.5L86.9,328.6L92.4,322.4L97.8,310.5L103.2,311.4L108.7,314.7L114.1,319.6L119.5,322.8L125,317.2L130.4,314.8L135.8,310.8L141.3,307L146.7,302.5L152.1,306.1L157.6,307.9L163,312.1L168.4,318L173.9,318.2L179.3,325.8L184.7,322.5L190.2,326.4L195.6,312.2L201,311L206.5,331.7L211.9,335.6L217.3,332.8L222.8,329.6L228.2,330.9L233.6,327.7L239.1,325.8L244.5,329.6L249.9,322.9L255.4,311L260.8,312.3L266.2,305.9L271.7,304.9L277.1,310.2L282.5,308.6L288,313.4L293.4,309.9L298.8,302.9L304.3,290.5L309.7,281.5L315.1,302.1L320.6,312.1L326,308.4L331.4,309.1L336.9,301.8L342.3,285.4L347.7,289.2L353.2,308.2L358.6,306.7M38,311.1L43.5,312.1L48.9,315L54.3,326.6L59.8,336.6L65.2,320L70.6,316.2L76.1,323L81.5,332.3L86.9,334.2L92.4,329.5L97.8,322.8L103.2,324L108.7,329.5L114.1,332L119.5,331.3L125,330.6L130.4,327.9L135.8,321.1L141.3,322.2L146.7,319.8L152.1,317.9L157.6,314.4L163,323.1L168.4,326.5L173.9,333.3L179.3,329.7L184.7,327.4L190.2,327.8L195.6,305.8L201,299.7L206.5,293.1L211.9,292.7L217.3,284.2L222.8,301.5L228.2,306.8L233.6,309.7L239.1,317.2L244.5,307.4L249.9,292.5L255.4,309.7L260.8,309L266.2,313L271.7,314.3L277.1,308.2L282.5,311.1L288,314.5L293.4,314.3L298.8,318L304.3,318.3L309.7,307.4L315.1,309.4L320.6,293.5L326,271.4L331.4,304.3L336.9,303.3L342.3,320.7L347.7,319.7L353.2,324.1L358.6,325.9M38,311.9L43.5,313L48.9,316.7L54.3,327.8L59.8,337.2L65.2,326.5L70.6,309.9L76.1,323.2L81.5,321.7L86.9,330.1L92.4,331.8L97.8,323.1L103.2,311.2L108.7,313.3L114.1,319.7L119.5,311.4L125,314.9L130.4,314.9L135.8,309.8L141.3,316.9L146.7,322.7L152.1,327.1L157.6,325.8L163,314.1L168.4,312.4L173.9,313.6L179.3,310.3L184.7,320.1L190.2,315.4L195.6,320.2L201,305.5L206.5,319.7L211.9,311.4L217.3,312.9L222.8,312.2L228.2,308.7L233.6,312L239.1,293L244.5,311.9L249.9,327.9L255.4,311.7L260.8,304.2L266.2,305.2L271.7,294.1L277.1,286.6L282.5,295.8L288,326.5L293.4,328.2L298.8,326.4L304.3,313.5L309.7,323.5L315.1,324.7L320.6,306.2L326,312.1L331.4,320.8L336.9,323.9L342.3,301.8L347.7,297L353.2,300.9L358.6,287.1M38,309.9L43.5,310.6L48.9,313.7L54.3,324.2L59.8,334.1L65.2,320L70.6,318.3L76.1,322.2L81.5,329.2L86.9,330.5L92.4,329.3L97.8,309.4L103.2,303.1L108.7,311.7L114.1,319.5L119.5,311.7L125,320.6L130.4,315.4L135.8,308.5L141.3,307.8L146.7,306L152.1,297L157.6,319.1L163,322.3L168.4,322.9L173.9,317.8L179.3,317.1L184.7,331.8L190.2,329.7L195.6,325L201,329.3L206.5,326.9L211.9,318.9L217.3,315.6L222.8,311.8L228.2,307L233.6,294.1L239.1,302.9L244.5,319L249.9,322.6L255.4,322.3L260.8,319.2L266.2,329.4L271.7,327.6L277.1,324.6L282.5,298.9L288,303.7L293.4,309.1L298.8,289.9L304.3,292.1L309.7,293.4L315.1,279.4L320.6,293.5L326,290.6L331.4,299.4L336.9,302.3L342.3,293.8L347.7,315.4L353.2,316.6L358.6,303.7M38,311L43.5,312.2L48.9,316.4L54.3,327.8L59.8,336.7L65.2,328.2L70.6,315.3L76.1,324.1L81.5,328.6L86.9,329.4L92.4,330.5L97.8,315L103.2,318.8L108.7,324.8L114.1,318L119.5,317.5L125,320.1L130.4,314.7L135.8,324.6L141.3,321.1L146.7,325.8L152.1,324.4L157.6,326.3L163,317.7L168.4,315.9L173.9,304.7L179.3,301.4L184.7,301.3L190.2,298.6L195.6,310.7L201,319.8L206.5,312.7L211.9,290L217.3,303.9L222.8,301.5L228.2,306.7L233.6,306L239.1,304.5L244.5,320.6L249.9,313.9L255.4,316.4L260.8,326.6L266.2,326.3L271.7,320.3L277.1,311L282.5,297.9L288,307.7L293.4,315.7L298.8,308.1L304.3,304.2L309.7,302.5L315.1,310.2L320.6,298.5L326,291.2L331.4,301.4L336.9,300.7L342.3,299.9L347.7,294.6L353.2,310.8L358.6,316.8M38,310.9L43.5,311.8L48.9,316L54.3,325L59.8,337L65.2,323.9L70.6,314.6L76.1,314.3L81.5,325.6L86.9,322.2L92.4,322.6L97.8,314.2L103.2,322.3L108.7,319.8L114.1,324.8L119.5,330.8L125,328.8L130.4,327.4L135.8,323.6L141.3,326L146.7,322.6L152.1,312L157.6,322L163,310.8L168.4,313.7L173.9,316.3L179.3,325.9L184.7,335.4L190.2,326L195.6,328.2L201,331.2L206.5,319.7L211.9,314.1L217.3,315.6L222.8,325.5L228.2,333.6L233.6,327.2L239.1,325.8L244.5,326.6L249.9,307.5L255.4,313.6L260.8,312.6L266.2,298.7L271.7,299.8L277.1,308.9L282.5,314.6L288,308L293.4,321.6L298.8,309.9L304.3,290.8L309.7,300L315.1,294.9L320.6,302.8L326,290.4L331.4,304.4L336.9,309.2L342.3,304.2L347.7,305.2L353.2,314.4L358.6,317.6M38,311.4L43.5,313.1L48.9,316.4L54.3,328.5L59.8,337.3L65.2,329.2L70.6,325.4L76.1,318.9L81.5,323.1L86.9,326.5L92.4,323.8L97.8,311L103.2,320.7L108.7,320.1L114.1,325.7L119.5,322.6L125,313.7L130.4,314.7L135.8,320.8L141.3,326.6L146.7,322.5L152.1,316.1L157.6,328.7L163,319.7L168.4,311.4L173.9,328L179.3,330.8L184.7,329.1L190.2,325L195.6,310.2L201,316.7L206.5,309L211.9,323.4L217.3,316.8L222.8,317.9L228.2,322L233.6,332.5L239.1,330.4L244.5,318.1L249.9,321.4L255.4,319.5L260.8,315.3L266.2,325.8L271.7,318.1L277.1,312.3L282.5,308.9L288,328L293.4,312.5L298.8,307.4L304.3,305.3L309.7,306.6L315.1,312.3L320.6,322.4L326,318.6L331.4,317L336.9,306.3L342.3,275.6L347.7,300.4L353.2,296.9L358.6,299.4M38,310.2L43.5,312.2L48.9,315.8L54.3,327.2L59.8,336.1L65.2,329.9L70.6,324L76.1,325.6L81.5,329L86.9,327.1L92.4,324.6L97.8,320.1L103.2,311.8L108.7,313.7L114.1,325L119.5,320.2L125,323.7L130.4,322.7L135.8,323.8L141.3,323.4L146.7,317.6L152.1,325.3L157.6,319.1L163,326.6L168.4,320.6L173.9,316.5L179.3,326.5L184.7,324.1L190.2,325.2L195.6,331.7L201,319.2L206.5,313.5L211.9,309.2L217.3,295.8L222.8,299.4L228.2,311.9L233.6,299.8L239.1,315L244.5,313.4L249.9,301.4L255.4,304.5L260.8,310.5L266.2,311.4L271.7,312.6L277.1,316.7L282.5,334.8L288,334.9L293.4,334.8L298.8,327.6L304.3,323.1L309.7,319.1L315.1,309.9L320.6,303.6L326,313L331.4,303.6L336.9,297.5L342.3,285.5L347.7,306.7L353.2,300.5L358.6,300.1M38,309.6L43.5,311.3L48.9,312.9L54.3,323L59.8,333.9L65.2,315.3L70.6,310.9L76.1,311.9L81.5,319.2L86.9,319L92.4,320.8L97.8,315.8L103.2,307.7L108.7,309.9L114.1,319.7L119.5,319.9L125,322.8L130.4,310.9L135.8,317.8L141.3,321.6L146.7,329L152.1,330.2L157.6,331.5L163,332.6L168.4,333L173.9,332.1L179.3,331.8L184.7,335.1L190.2,330.8L195.6,337.6L201,331.5L206.5,337.6L211.9,327.7L217.3,331.5L222.8,326.7L228.2,328L233.6,325L239.1,328.8L244.5,324.3L249.9,331.1L255.4,323.1L260.8,324.2L266.2,321.2L271.7,313.9L277.1,323.2L282.5,324.1L288,328.9L293.4,326.3L298.8,322.6L304.3,308.7L309.7,307.9L315.1,311.7L320.6,306.5L326,299.3L331.4,304.6L336.9,286.3L342.3,294.6L347.7,301.2L353.2,318L358.6,322.3M38,310.2L43.5,310.8L48.9,315L54.3,325.4L59.8,335.5L65.2,323.8L70.6,315.2L76.1,322.1L81.5,335L86.9,335.9L92.4,333.1L97.8,323.3L103.2,308.6L108.7,314.6L114.1,319.7L119.5,325.4L125,329.5L130.4,326.5L135.8,317.2L141.3,318L146.7,319.1L152.1,315.6L157.6,316.5L163,315.1L168.4,318.3L173.9,324.8L179.3,328.8L184.7,332.6L190.2,329.6L195.6,335.2L201,320.4L206.5,318.7L211.9,325.5L217.3,317L222.8,286.9L228.2,302.3L233.6,306.2L239.1,297.1L244.5,323.2L249.9,326L255.4,328.9L260.8,321.3L266.2,332.8L271.7,326.8L277.1,327.2L282.5,325.6L288,329.2L293.4,315.9L298.8,323.5L304.3,325.2L309.7,321.7L315.1,323.7L320.6,317.1L326,317.2L331.4,320.1L336.9,319.3L342.3,326.5L347.7,327.6L353.2,318.4L358.6,324.7M38,310.3L43.5,312.4L48.9,316.3L54.3,327L59.8,335.2L65.2,325.6L70.6,325.8L76.1,328.7L81.5,332.6L86.9,327.6L92.4,315.3L97.8,299.2L103.2,310.3L108.7,315.9L114.1,327L119.5,325.8L125,320.9L130.4,328L135.8,324.2L141.3,319.8L146.7,319.9L152.1,322.4L157.6,315L163,317.1L168.4,325.5L173.9,323L179.3,317.7L184.7,309.1L190.2,328.8L195.6,334.7L201,334.6L206.5,329.4L211.9,328.6L217.3,331L222.8,321.7L228.2,317L233.6,330.8L239.1,332.5L244.5,330.3L249.9,334L255.4,330.9L260.8,326.7L266.2,329.1L271.7,322.1L277.1,304.1L282.5,310.3L288,312.5L293.4,316.9L298.8,299.3L304.3,288.4L309.7,298.5L315.1,309.3L320.6,304.6L326,304.2L331.4,322.6L336.9,326.4L342.3,322.7L347.7,301.7L353.2,303.6L358.6,296.1M38,309.9L43.5,310.6L48.9,312.6L54.3,325.4L59.8,335L65.2,322.3L70.6,311.7L76.1,315.3L81.5,333.4L86.9,330.9L92.4,333.9L97.8,320.7L103.2,321.5L108.7,324.6L114.1,326.5L119.5,332.6L125,330.5L130.4,330.7L135.8,326.6L141.3,327.8L146.7,329.6L152.1,320.6L157.6,323.5L163,326.1L168.4,327L173.9,326.4L179.3,324.4L184.7,331.2L190.2,320.1L195.6,317.4L201,301L206.5,309.7L211.9,321.5L217.3,312.7L222.8,316.1L228.2,316.7L233.6,334.9L239.1,335.9L244.5,326.8L249.9,316L255.4,329.4L260.8,324.8L266.2,322.8L271.7,313.6L277.1,322.5L282.5,329.7L288,327.7L293.4,328.3L298.8,329.6L304.3,326.8L309.7,315.1L315.1,322.6L320.6,309.8L326,304.4L331.4,319.4L336.9,309.3L342.3,295.2L347.7,301L353.2,310L358.6,309.5M38,311.2L43.5,312.1L48.9,314.2L54.3,326.8L59.8,337.9L65.2,328.9L70.6,326.1L76.1,326.7L81.5,331.2L86.9,331.5L92.4,329.8L97.8,323.6L103.2,324.4L108.7,325.9L114.1,325.4L119.5,326.6L125,323.3L130.4,318.1L135.8,317.9L141.3,320.2L146.7,313.9L152.1,317.2L157.6,315L163,310.4L168.4,309.1L173.9,315.3L179.3,313.5L184.7,304.5L190.2,320.8L195.6,323.5L201,332.8L206.5,327L211.9,313L217.3,307.8L222.8,317.9L228.2,326.5L233.6,327.3L239.1,326.6L244.5,319.1L249.9,321.8L255.4,310.2L260.8,316.7L266.2,312.5L271.7,324.6L277.1,325.6L282.5,321.4L288,314.7L293.4,313L298.8,319.6L304.3,323.6L309.7,321.6L315.1,320.2L320.6,319.6L326,317.8L331.4,327.1L336.9,321.2L342.3,307L347.7,315.5L353.2,321.5L358.6,312.5M38,309.7L43.5,311.8L48.9,316.3L54.3,328.3L59.8,337L65.2,328.3L70.6,322.2L76.1,311.7L81.5,322.8L86.9,324.6L92.4,321.7L97.8,316L103.2,307.5L108.7,314.8L114.1,322.4L119.5,310.9L125,317.9L130.4,324.5L135.8,323.6L141.3,325.8L146.7,326.2L152.1,322.2L157.6,318.6L163,325.6L168.4,326.8L173.9,332.9L179.3,326.4L184.7,332.6L190.2,325.3L195.6,304.5L201,293.1L206.5,307.3L211.9,328.7L217.3,309.7L222.8,315.4L228.2,311.5L233.6,316.9L239.1,322.6L244.5,311.7L249.9,326L255.4,331L260.8,329.2L266.2,321L271.7,332.2L277.1,323.1L282.5,323L288,316.3L293.4,295.3L298.8,288.4L304.3,284.2L309.7,279.2L315.1,296.1L320.6,303.4L326,304.2L331.4,310L336.9,315.6L342.3,318.5L347.7,318.6L353.2,314.7L358.6,323.8M38,310.7L43.5,311L48.9,316.2L54.3,328.3L59.8,336.9L65.2,330.2L70.6,326.9L76.1,324.5L81.5,328L86.9,330.2L92.4,330.3L97.8,325.1L103.2,326.1L108.7,327.5L114.1,325.9L119.5,322.2L125,315.2L130.4,312.5L135.8,311.8L141.3,316L146.7,320L152.1,316.8L157.6,318.1L163,314.8L168.4,314.9L173.9,315L179.3,322.8L184.7,325.1L190.2,320.3L195.6,313.4L201,307.4L206.5,313.4L211.9,305.4L217.3,296.6L222.8,299L228.2,313.7L233.6,327.4L239.1,325.3L244.5,319L249.9,321.8L255.4,306.4L260.8,317.6L266.2,323.1L271.7,321.6L277.1,327.3L282.5,313.4L288,324L293.4,328.3L298.8,334.8L304.3,321L309.7,306.5L315.1,318.9L320.6,324.6L326,324.7L331.4,324.1L336.9,324.7L342.3,316.9L347.7,319.6L353.2,307.6L358.6,308.5M38,309.8L43.5,311.6L48.9,314.4L54.3,323.9L59.8,335.3L65.2,324.6L70.6,311.5L76.1,315.2L81.5,327.5L86.9,329.4L92.4,324.4L97.8,315L103.2,318.6L108.7,317.5L114.1,329.1L119.5,329.4L125,323.1L130.4,315.2L135.8,322L141.3,320.5L146.7,318.5L152.1,318L157.6,324.4L163,327.7L168.4,329.7L173.9,332.4L179.3,334.8L184.7,332L190.2,334.3L195.6,336.4L201,337.4L206.5,337.6L211.9,337.1L217.3,337.1L222.8,325L228.2,332.2L233.6,335.9L239.1,333.3L244.5,331.7L249.9,330L255.4,320.2L260.8,311.5L266.2,296.6L271.7,315.1L277.1,303.8L282.5,283.6L288,309.9L293.4,322.8L298.8,289.3L304.3,280.3L309.7,308.8L315.1,295.1L320.6,299.9L326,297.9L331.4,304.1L336.9,308.3L342.3,306.8L347.7,299.8L353.2,314.7L358.6,323.2M38,311.6L43.5,312.4L48.9,317.1L54.3,327.6L59.8,337.4L65.2,328L70.6,319.2L76.1,325L81.5,323.7L86.9,323L92.4,319.5L97.8,315.6L103.2,316.3L108.7,320.2L114.1,325.1L119.5,321.7L125,319.9L130.4,320.2L135.8,322.4L141.3,318.8L146.7,313L152.1,300.8L157.6,312.4L163,320.5L168.4,320.6L173.9,318.3L179.3,319.3L184.7,312.9L190.2,319.4L195.6,317.5L201,335.3L206.5,318.9L211.9,318.1L217.3,320.7L222.8,314.3L228.2,317L233.6,325L239.1,315.6L244.5,318.2L249.9,322.7L255.4,313.6L260.8,311.9L266.2,312.8L271.7,316.5L277.1,305L282.5,312.4L288,309.4L293.4,298.2L298.8,308.3L304.3,304.8L309.7,322.2L315.1,319.2L320.6,325.8L326,329.8L331.4,325.9L336.9,313.1L342.3,305.5L347.7,307.4L353.2,317.5L358.6,317.3M38,308.7L43.5,309.8L48.9,314.5L54.3,326.2L59.8,337.4L65.2,328.2L70.6,323.2L76.1,327.8L81.5,332.9L86.9,332.1L92.4,333.7L97.8,324.1L103.2,317.4L108.7,325.1L114.1,327L119.5,331.1L125,329.7L130.4,320L135.8,317.9L141.3,322.6L146.7,323.6L152.1,312.2L157.6,317.6L163,319.9L168.4,314L173.9,316.5L179.3,321.7L184.7,315.7L190.2,326.4L195.6,326.7L201,329.9L206.5,324.9L211.9,323.5L217.3,301.8L222.8,292L228.2,302.9L233.6,297.3L239.1,303L244.5,309.5L249.9,300.2L255.4,296.4L260.8,292.6L266.2,293.6L271.7,306.6L277.1,300.4L282.5,308.2L288,287.5L293.4,315.2L298.8,310L304.3,300L309.7,307.7L315.1,309.7L320.6,300.7L326,305L331.4,305.9L336.9,305.2L342.3,302.2L347.7,279.4L353.2,292.1L358.6,289.8M38,310.9L43.5,312L48.9,316L54.3,324.6L59.8,334.8L65.2,326.3L70.6,322.6L76.1,321.5L81.5,331.8L86.9,332.2L92.4,335.4L97.8,329.8L103.2,319.9L108.7,322.9L114.1,320L119.5,316.7L125,318L130.4,324.4L135.8,324.6L141.3,323.1L146.7,326L152.1,319.8L157.6,315.6L163,314.3L168.4,316.8L173.9,327.1L179.3,311.7L184.7,299.4L190.2,320L195.6,330.1L201,333.2L206.5,333.2L211.9,333.6L217.3,332.3L222.8,327.4L228.2,329.5L233.6,331L239.1,334L244.5,330.8L249.9,327.6L255.4,330.6L260.8,335.4L266.2,333.8L271.7,334.8L277.1,334.8L282.5,329.5L288,322.3L293.4,324.7L298.8,321.4L304.3,306.3L309.7,320.5L315.1,323.4L320.6,319.8L326,305L331.4,324.9L336.9,330L342.3,321.3L347.7,308.1L353.2,320.3L358.6,321.8M38,309.8L43.5,311.5L48.9,316.9L54.3,327L59.8,335.6L65.2,329.3L70.6,315.5L76.1,320.9L81.5,333.3L86.9,330.4L92.4,333.8L97.8,317.4L103.2,311.9L108.7,308.9L114.1,324.9L119.5,322.6L125,316.1L130.4,302.5L135.8,308.1L141.3,313.5L146.7,311.1L152.1,299.6L157.6,301.2L163,315.6L168.4,323.5L173.9,324.3L179.3,321.4L184.7,315.8L190.2,318.8L195.6,317.7L201,309.4L206.5,304.6L211.9,313.6L217.3,316.7L222.8,313.9L228.2,287.5L233.6,303.5L239.1,301.1L244.5,311.5L249.9,314L255.4,302.4L260.8,309.4L266.2,315.1L271.7,314.8L277.1,309.3L282.5,310.3L288,319.8L293.4,309L298.8,310L304.3,296.4L309.7,300.8L315.1,309.5L320.6,317.4L326,325.5L331.4,318.1L336.9,308.4L342.3,307.4L347.7,314.9L353.2,318L358.6,313.1M38,309.7L43.5,311.7L48.9,317.1L54.3,327.3L59.8,337.2L65.2,331.1L70.6,331.6L76.1,327.5L81.5,327.4L86.9,331.3L92.4,334.8L97.8,325.8L103.2,326.4L108.7,325.2L114.1,326.6L119.5,332.2L125,329.2L130.4,326.4L135.8,327.9L141.3,326.4L146.7,330L152.1,327.3L157.6,330.9L163,328.3L168.4,326.4L173.9,333L179.3,330L184.7,328.2L190.2,325.2L195.6,308.7L201,316.7L206.5,303L211.9,305.5L217.3,324.2L222.8,323.4L228.2,327.9L233.6,316.8L239.1,302.6L244.5,298.5L249.9,294.8L255.4,306.5L260.8,315.3L266.2,328.7L271.7,321.7L277.1,328.1L282.5,326.4L288,325.6L293.4,320.8L298.8,329.4L304.3,328.4L309.7,332.6L315.1,323.4L320.6,326.5L326,329.4L331.4,324.7L336.9,316.1L342.3,292.8L347.7,303.3L353.2,305.7L358.6,321.3M38,310.2L43.5,311.1L48.9,313.8L54.3,325.6L59.8,334.4L65.2,318.1L70.6,309.4L76.1,315.9L81.5,326.1L86.9,327.9L92.4,326.9L97.8,323.7L103.2,328.1L108.7,330.8L114.1,328.9L119.5,326.5L125,326.4L130.4,328.2L135.8,332L141.3,332L146.7,332.6L152.1,332.6L157.6,325.3L163,329.6L168.4,324.1L173.9,304.2L179.3,312.3L184.7,315.1L190.2,310.7L195.6,324.2L201,324.1L206.5,318.9L211.9,331.2L217.3,316.2L222.8,316.5L228.2,316.5L233.6,307.6L239.1,326.2L244.5,331.8L249.9,328.5L255.4,324.4L260.8,325.7L266.2,327.7L271.7,326.8L277.1,329.8L282.5,332.5L288,335L293.4,330.5L298.8,327L304.3,327.8L309.7,312.1L315.1,292.4L320.6,303.3L326,314.3L331.4,321.4L336.9,315.2L342.3,317.1L347.7,301.4L353.2,310.8L358.6,311M38,310.3L43.5,310.3L48.9,313.4L54.3,324.4L59.8,335.7L65.2,327L70.6,326L76.1,310.6L81.5,321.3L86.9,324L92.4,322.4L97.8,313.2L103.2,308.8L108.7,325.3L114.1,322.6L119.5,321.4L125,322L130.4,306.6L135.8,313.3L141.3,320.8L146.7,324.4L152.1,317.1L157.6,319.5L163,318.9L168.4,327L173.9,324.2L179.3,326.7L184.7,331.8L190.2,318.3L195.6,315.7L201,320.1L206.5,315.3L211.9,287.5L217.3,318.4L222.8,309.4L228.2,312L233.6,314.7L239.1,299.5L244.5,305.3L249.9,312.7L255.4,300.3L260.8,310.9L266.2,314.9L271.7,325.5L277.1,322.7L282.5,312.1L288,319.6L293.4,318.2L298.8,303.1L304.3,306.2L309.7,312.5L315.1,297.5L320.6,307.1L326,327.5L331.4,331.5L336.9,328.9L342.3,329L347.7,325.9L353.2,326.5L358.6,325.5M38,310.9L43.5,312.1L48.9,314.7L54.3,322.6L59.8,332.6L65.2,316.5L70.6,310.9L76.1,316.2L81.5,329.1L86.9,328.3L92.4,331.6L97.8,316.3L103.2,301.4L108.7,308L114.1,309.8L119.5,314.4L125,314.1L130.4,311.2L135.8,316.1L141.3,324L146.7,321.9L152.1,320.8L157.6,324.9L163,317.4L168.4,315.1L173.9,308.6L179.3,317.1L184.7,320.5L190.2,328.7L195.6,319L201,310.1L206.5,317.2L211.9,324.7L217.3,320.8L222.8,314.8L228.2,312.5L233.6,315.8L239.1,304.9L244.5,302.3L249.9,314.5L255.4,311.4L260.8,312.9L266.2,326.6L271.7,326.4L277.1,321.6L282.5,300.8L288,316.4L293.4,321L298.8,320L304.3,318.2L309.7,326.4L315.1,316.7L320.6,315.4L326,305.3L331.4,308.8L336.9,310.3L342.3,319.4L347.7,318.8L353.2,321.5L358.6,324.3M38,310.9L43.5,313L48.9,317.1L54.3,327.9L59.8,337L65.2,327.4L70.6,309.4L76.1,309.8L81.5,318.1L86.9,320.8L92.4,318.6L97.8,310.1L103.2,310.7L108.7,315L114.1,325.5L119.5,322L125,325.8L130.4,325.8L135.8,326.6L141.3,313.7L146.7,313.5L152.1,302.7L157.6,318.6L163,314.9L168.4,318.6L173.9,311.8L179.3,317.3L184.7,324.6L190.2,313.5L195.6,312.7L201,327.2L206.5,324.8L211.9,329.9L217.3,318L222.8,314.9L228.2,312.3L233.6,320.5L239.1,303.4L244.5,316.9L249.9,311.5L255.4,312.2L260.8,312.1L266.2,323.5L271.7,317.9L277.1,312L282.5,319.3L288,309.3L293.4,316.8L298.8,317.9L304.3,316.7L309.7,301.1L315.1,307.1L320.6,307L326,302.2L331.4,307.9L336.9,297.1L342.3,295.4L347.7,304.7L353.2,310.9L358.6,317.9M38,310L43.5,311.1L48.9,315.2L54.3,326L59.8,337.9L65.2,328.5L70.6,319.7L76.1,328.1L81.5,334.2L86.9,332.1L92.4,323.2L97.8,314.5L103.2,305.5L108.7,307.5L114.1,315.9L119.5,319.8L125,326.9L130.4,326.3L135.8,322.2L141.3,320L146.7,325.8L152.1,319.2L157.6,325.2L163,325.2L168.4,320.4L173.9,318.7L179.3,323.9L184.7,329.5L190.2,326.5L195.6,322.4L201,325.6L206.5,329.1L211.9,326.3L217.3,316.8L222.8,324.8L228.2,318.8L233.6,326.4L239.1,327.2L244.5,319L249.9,328.2L255.4,326.8L260.8,312L266.2,306L271.7,315.8L277.1,324.2L282.5,307.1L288,313.8L293.4,314.8L298.8,327.2L304.3,320.5L309.7,329.2L315.1,326.5L320.6,307.2L326,300L331.4,302.2L336.9,304.7L342.3,300.6L347.7,308L353.2,303.2L358.6,311.7M38,311.5L43.5,312.9L48.9,315.8L54.3,326.8L59.8,336.2L65.2,330.4L70.6,326.6L76.1,328.7L81.5,335.9L86.9,333.5L92.4,330L97.8,309.5L103.2,305.6L108.7,317.6L114.1,327.1L119.5,331.5L125,329.2L130.4,329.2L135.8,328.5L141.3,330.9L146.7,319.7L152.1,320.5L157.6,317.7L163,319.4L168.4,306.5L173.9,318.4L179.3,317.3L184.7,297.9L190.2,303.6L195.6,294.2L201,304.1L206.5,303L211.9,302.2L217.3,287.8L222.8,313.3L228.2,308L233.6,314L239.1,317.8L244.5,315.7L249.9,317.8L255.4,321.9L260.8,313.5L266.2,325.2L271.7,323.2L277.1,310.8L282.5,314.2L288,305.6L293.4,316.7L298.8,310.8L304.3,306.6L309.7,319.7L315.1,308.9L320.6,319.9L326,302.4L331.4,301.8L336.9,306.6L342.3,302.3L347.7,305.8L353.2,319.7L358.6,322.9M38,310.8L43.5,311.9L48.9,314.2L54.3,325.8L59.8,336.3L65.2,324.8L70.6,312.4L76.1,318.5L81.5,324.6L86.9,327.3L92.4,326.3L97.8,325.3L103.2,330.4L108.7,326.1L114.1,327.7L119.5,330.9L125,326.5L130.4,308.9L135.8,309.1L141.3,313.7L146.7,314.2L152.1,297L157.6,300.3L163,302.5L168.4,310.6L173.9,311.6L179.3,312.4L184.7,308.5L190.2,315.9L195.6,320.4L201,332L206.5,328.9L211.9,325.7L217.3,329.5L222.8,328.4L228.2,319.6L233.6,326.7L239.1,321.2L244.5,328.4L249.9,334.1L255.4,328.6L260.8,320.9L266.2,317L271.7,318L277.1,303.9L282.5,303.6L288,319.5L293.4,316.4L298.8,302.8L304.3,301.1L309.7,293.6L315.1,276.9L320.6,303.2L326,303.3L331.4,310.3L336.9,308.2L342.3,320.8L347.7,307.5L353.2,321L358.6,318.3M38,310.9L43.5,312.5L48.9,315.9L54.3,327.6L59.8,336.6L65.2,328.9L70.6,327.8L76.1,324.3L81.5,333.4L86.9,329.9L92.4,330.7L97.8,322.7L103.2,312.8L108.7,315.8L114.1,324.9L119.5,320.1L125,323.6L130.4,311.8L135.8,322.3L141.3,320.3L146.7,323.3L152.1,317.9L157.6,325.2L163,324.8L168.4,323L173.9,328.9L179.3,328.3L184.7,328.2L190.2,329.4L195.6,331.6L201,327.3L206.5,320.6L211.9,334.3L217.3,333.3L222.8,336.5L228.2,336.5L233.6,333.9L239.1,335.1L244.5,336.5L249.9,333L255.4,334.1L260.8,319.5L266.2,313.3L271.7,328.8L277.1,324.7L282.5,318.7L288,316.4L293.4,322.4L298.8,332L304.3,325.6L309.7,329.1L315.1,316.7L320.6,313L326,304L331.4,324.1L336.9,324.9L342.3,324.6L347.7,324.6L353.2,327.3L358.6,331.4M38,310.8L43.5,312.6L48.9,316.5L54.3,326.8L59.8,336.9L65.2,330.5L70.6,322.9L76.1,321L81.5,330.4L86.9,325.9L92.4,335.4L97.8,324.7L103.2,322.4L108.7,325.3L114.1,329.8L119.5,331.2L125,326.5L130.4,325L135.8,329.4L141.3,328.8L146.7,318.5L152.1,310.1L157.6,310.3L163,314.4L168.4,314.5L173.9,316.9L179.3,320.2L184.7,330.1L190.2,328L195.6,318.9L201,320.3L206.5,332.7L211.9,330.8L217.3,332.1L222.8,326L228.2,330.4L233.6,318.1L239.1,324.4L244.5,318.1L249.9,329L255.4,328.7L260.8,326.6L266.2,334.6L271.7,331.8L277.1,331.9L282.5,328.6L288,329.1L293.4,333.4L298.8,326.5L304.3,317.5L309.7,323.3L315.1,316L320.6,318.4L326,323.3L331.4,330.9L336.9,338.2L342.3,331.3L347.7,320.5L353.2,319.6L358.6,318.4"/>
<path class="oper" d="M38.03,311.45L43.47,313.12L48.9,317.29L54.33,326.48L59.77,336.5L65.2,326.48L70.63,328.15L76.07,324.53L81.5,330.93L86.93,329.26L92.37,330.93L97.8,319.24L103.23,317.01L108.67,317.57L114.1,325.37L119.53,325.37L124.97,324.53L130.4,325.37L135.83,327.59L141.27,323.14L146.7,319.8L152.13,312.56L157.57,320.91L163,324.53L168.43,328.15L173.87,319.8L179.3,326.48L184.73,330.38L190.17,330.93L195.6,322.03L201.03,331.21L206.47,328.99L211.9,328.15L217.33,325.92L222.77,330.1L228.2,329.82L233.63,328.99L239.07,326.48L244.5,327.87L249.93,328.71"/>
<path class="ctrl" d="M38.03,310.72L43.47,312L48.9,315.9L54.33,326.48L59.77,337.62L65.2,327.59L70.63,319.24L76.07,323.42L81.5,330.93L86.93,329.26L92.37,329.26L97.8,323.42L103.23,318.13L108.67,317.57L114.1,328.71L119.53,331.77L124.97,328.71L130.4,326.48L135.83,328.71L141.27,325.37L146.7,324.81L152.13,323.42L157.57,324.53L163,323.42L168.43,322.03L173.87,318.68L179.3,324.53L184.73,329.82L190.17,333.16L195.6,337.62L201.03,333.72L206.47,327.87L211.9,325.92L217.33,324.25L222.77,327.87L228.2,322.03L233.63,315.9L239.07,322.58L244.5,329.26L249.93,319.24L255.37,324.81L260.8,315.9L266.23,321.47L271.67,320.36L277.1,320.91L282.53,321.47L287.97,329.54L293.4,323.7L298.83,306.99L304.27,293.63L309.7,298.08L315.13,304.21L320.57,302.54L326,303.09L331.43,310.33L336.87,304.76L342.3,303.65L347.73,295.86L353.17,296.97L358.6,299.75"/>
<path class="ax" style="stroke:#1c1c1c;stroke-width:1.3px" d="M32.1,340.4H359.1"/>
<path class="mean" d="M38.03,310.72L43.47,312L48.9,315.9L54.33,326.48L59.77,336.5L65.2,327.32L70.63,322.03L76.07,323.7L81.5,329.82L86.93,328.99L92.37,328.99L97.8,320.08L103.23,317.85L108.67,317.85L114.1,324.48L119.53,324.25L124.97,323.7L130.4,323.14L135.83,322.58L141.27,321.47L146.7,320.36L152.13,318.68L157.57,320.36L163,320.91L168.43,320.91L173.87,319.8L179.3,320.36L184.73,320.91L190.17,321.3L195.6,320.91L201.03,320.36L206.47,319.8L211.9,319.24L217.33,318.68L222.77,318.13L228.2,317.57L233.63,317.01L239.07,318.13L244.5,319.24L249.93,318.13L255.37,316.46L260.8,314.23L266.23,317.01L271.67,318.13L277.1,317.01L282.53,315.34L287.97,316.46L293.4,317.01L298.83,313.67L304.27,309.22L309.7,309.78L315.13,310.33L320.57,307.55L326,305.32L331.43,310.33L336.87,310.33L342.3,308.66L347.73,308.11L353.17,310.89L358.6,313.12"/>
</g>
<path class="ax" style="stroke:#555;stroke-width:1px" d="M32.1,201.2H359.1"/>
<path class="ax" style="stroke:#303030;stroke-width:1.5px" d="M358.7,200.7V341"/>
<path class="ax" style="stroke:#111;stroke-width:1.4px" d="M32.6,200.7V341"/>
<text class="yt" transform="translate(26.4,344.15) scale(1,1.05)" text-anchor="end">0</text>
<text class="yt" transform="translate(363.7,344.15) scale(1,1.05)">0</text>
<text class="yt" transform="translate(26.4,316.31) scale(1,1.05)" text-anchor="end">5</text>
<text class="yt" transform="translate(363.7,316.31) scale(1,1.05)">5</text>
<text class="yt" transform="translate(26.4,288.47) scale(1,1.05)" text-anchor="end">10</text>
<text class="yt" transform="translate(363.7,288.47) scale(1,1.05)">10</text>
<text class="yt" transform="translate(26.4,260.63) scale(1,1.05)" text-anchor="end">15</text>
<text class="yt" transform="translate(363.7,260.63) scale(1,1.05)">15</text>
<text class="yt" transform="translate(26.4,232.79) scale(1,1.05)" text-anchor="end">20</text>
<text class="yt" transform="translate(363.7,232.79) scale(1,1.05)">20</text>
<text class="yt" transform="translate(26.4,204.95) scale(1,1.05)" text-anchor="end">25</text>
<text class="yt" transform="translate(363.7,204.95) scale(1,1.05)">25</text>
<path class="tk" d="M32.6,340.4h-4.3M358.6,340.4h3.44M32.6,326.48h-2M358.6,326.48h1.6M32.6,312.56h-4.3M358.6,312.56h3.44M32.6,298.64h-2M358.6,298.64h1.6M32.6,284.72h-4.3M358.6,284.72h3.44M32.6,270.8h-2M358.6,270.8h1.6M32.6,256.88h-4.3M358.6,256.88h3.44M32.6,242.96h-2M358.6,242.96h1.6M32.6,229.04h-4.3M358.6,229.04h3.44M32.6,215.12h-2M358.6,215.12h1.6M32.6,201.2h-4.3M358.6,201.2h3.44"/>
<path class="xtk" d="M38.03,340.4v4.3M43.47,340.4v4.3M48.9,340.4v4.3M59.77,340.4v4.3M65.2,340.4v4.3M70.63,340.4v4.3M81.5,340.4v4.3M86.93,340.4v4.3M92.37,340.4v4.3M103.23,340.4v4.3M108.67,340.4v4.3M114.1,340.4v4.3M124.97,340.4v4.3M130.4,340.4v4.3M135.83,340.4v4.3M146.7,340.4v4.3M152.13,340.4v4.3M157.57,340.4v4.3M168.43,340.4v4.3M173.87,340.4v4.3M179.3,340.4v4.3M190.17,340.4v4.3M195.6,340.4v4.3M201.03,340.4v4.3M211.9,340.4v4.3M217.33,340.4v4.3M222.77,340.4v4.3M233.63,340.4v4.3M239.07,340.4v4.3M244.5,340.4v4.3M255.37,340.4v4.3M260.8,340.4v4.3M266.23,340.4v4.3M277.1,340.4v4.3M282.53,340.4v4.3M287.97,340.4v4.3M298.83,340.4v4.3M304.27,340.4v4.3M309.7,340.4v4.3M320.57,340.4v4.3M326,340.4v4.3M331.43,340.4v4.3M342.3,340.4v4.3M347.73,340.4v4.3M353.17,340.4v4.3"/>
<text class="z" x="32" y="345.6" text-anchor="middle">00</text>
<text class="z" x="53.73" y="345.6" text-anchor="middle">00</text>
<text class="z" x="75.47" y="345.6" text-anchor="middle">00</text>
<text class="z" x="97.2" y="345.6" text-anchor="middle">00</text>
<text class="z" x="118.93" y="345.6" text-anchor="middle">00</text>
<text class="z" x="140.67" y="345.6" text-anchor="middle">00</text>
<text class="z" x="162.4" y="345.6" text-anchor="middle">00</text>
<text class="z" x="184.13" y="345.6" text-anchor="middle">00</text>
<text class="z" x="205.87" y="345.6" text-anchor="middle">00</text>
<text class="z" x="227.6" y="345.6" text-anchor="middle">00</text>
<text class="z" x="249.33" y="345.6" text-anchor="middle">00</text>
<text class="z" x="271.07" y="345.6" text-anchor="middle">00</text>
<text class="z" x="292.8" y="345.6" text-anchor="middle">00</text>
<text class="z" x="314.53" y="345.6" text-anchor="middle">00</text>
<text class="z" x="336.27" y="345.6" text-anchor="middle">00</text>
<text class="z" x="358" y="345.6" text-anchor="middle">00</text>
<text class="dy" x="43.67" y="350.8" text-anchor="middle">Do</text>
<text class="dy" x="65.4" y="350.8" text-anchor="middle">Vr</text>
<text class="dy" x="87.13" y="350.8" text-anchor="middle">Za</text>
<text class="dy" x="108.87" y="350.8" text-anchor="middle">Zo</text>
<text class="dy" x="130.6" y="350.8" text-anchor="middle">Ma</text>
<text class="dy" x="152.33" y="350.8" text-anchor="middle">Di</text>
<text class="dy" x="174.07" y="350.8" text-anchor="middle">Wo</text>
<text class="dy" x="195.8" y="350.8" text-anchor="middle">Do</text>
<text class="dy" x="217.53" y="350.8" text-anchor="middle">Vr</text>
<text class="dy" x="239.27" y="350.8" text-anchor="middle">Za</text>
<text class="dy" x="261" y="350.8" text-anchor="middle">Zo</text>
<text class="dy" x="282.73" y="350.8" text-anchor="middle">Ma</text>
<text class="dy" x="304.47" y="350.8" text-anchor="middle">Di</text>
<text class="dy" x="326.2" y="350.8" text-anchor="middle">Wo</text>
<text class="dy" x="347.93" y="350.8" text-anchor="middle">Do</text>
<text class="xl" x="195.6" y="361.7" text-anchor="middle">Dag</text>
<text class="yl" transform="translate(15.8,270.8) scale(1.2,1) rotate(-90)" text-anchor="middle">m/s</text>
<line class="ctrl" style="stroke:#1010ff;stroke-width:0.9px;stroke-dasharray:3.9 2.1" x1="34.9" x2="56.9" y1="209.4" y2="209.4"/>
<line class="oper" style="stroke:#ff3c3c;stroke-width:1.5px" x1="34.9" x2="56.9" y1="216.1" y2="216.1"/>
<line class="mean lg" x1="34.9" x2="56.9" y1="222.5" y2="222.5"/>
<text class="lg" x="79.6" y="212" text-anchor="middle">Control</text>
<text class="lg" x="79.6" y="218.4" text-anchor="middle">Oper</text>
<text class="lg" x="79.6" y="225.1" text-anchor="middle">Ens mn</text>
<text class="st" x="319.7" y="211.2" text-anchor="middle">De Bilt</text>
<text class="st" x="319.7" y="222" text-anchor="middle">10m wind</text>
<text class="br" x="310.8" y="362.1" textLength="62.4" lengthAdjust="spacing">Bron: ECMWF/KNMI</text>
</g>
<g>
<text class="ttl" style="font-size:10.8px" y="196.8"><tspan x="457.8" textLength="52.8" lengthAdjust="spacing"><tspan class="b">D</tspan>onderdag</tspan> <tspan x="517.5" textLength="4.6" lengthAdjust="spacing">2</tspan> <tspan x="526.2" textLength="39.9" lengthAdjust="spacing"><tspan class="b">F</tspan>ebruari</tspan> <tspan x="573.7" textLength="21.9" lengthAdjust="spacing">2012</tspan> <tspan x="603.3" textLength="37.4" lengthAdjust="spacing">(starttijd</tspan> <tspan x="649.4" textLength="13.2" lengthAdjust="spacing"><tspan class="b">D</tspan>o</tspan> <tspan x="666.1" textLength="10.4" lengthAdjust="spacing">00</tspan> <tspan x="681.4" textLength="22.9" lengthAdjust="spacing"><tspan class="b">UTC</tspan>)</tspan></text>
<clipPath id="c3"><rect x="420.7" y="200.7" width="326.6" height="140.4"/></clipPath>
<line class="hmag" x1="420.7" x2="746.7" y1="241.22" y2="241.22"/>
<line class="hdot" x1="420.7" x2="746.7" y1="253.4" y2="253.4"/>
<line class="hdot" x1="420.7" x2="746.7" y1="270.8" y2="270.8"/>
<g clip-path="url(#c3)">
<path class="mem" d="M426.1,304.4L431.6,303L437,305.5L442.4,314.9L447.9,323.1L453.3,325.9L458.7,319.8L464.2,322.9L469.6,324.5L475,319.7L480.5,318.3L485.9,317.2L491.3,308.6L496.8,308.7L502.2,312.5L507.6,315.6L513.1,314.1L518.5,295.2L523.9,304.4L529.4,311.2L534.8,310.1L540.2,295.3L545.7,295.1L551.1,290.6L556.5,295L562,307.5L567.4,310.2L572.8,315.9L578.3,317.3L583.7,318.1L589.1,318.3L594.6,307.4L600,300.9L605.4,273.2L610.9,295.6L616.3,314.3L621.7,286.8L627.2,297.1L632.6,292.2L638,314.1L643.5,306.8L648.9,307L654.3,306.6L659.8,297.6L665.2,303.5L670.6,299.4L676.1,319.9L681.5,310.4L686.9,318.9L692.4,296.5L697.8,307.9L703.2,288.3L708.7,298L714.1,309L719.5,303.1L725,303L730.4,312.2L735.8,316.4L741.3,327.5L746.7,323.8M426.1,303.9L431.6,304.1L437,306.6L442.4,314.5L447.9,325.6L453.3,320.6L458.7,314.3L464.2,314.5L469.6,319.8L475,324.4L480.5,321.4L485.9,304.8L491.3,307.8L496.8,310.5L502.2,320.9L507.6,317.8L513.1,311.5L518.5,310.9L523.9,311.5L529.4,316.5L534.8,308.7L540.2,316.1L545.7,305.7L551.1,326.5L556.5,321.6L562,323.4L567.4,310.1L572.8,312.7L578.3,319.6L583.7,321.6L589.1,326.3L594.6,311.5L600,303.5L605.4,310.5L610.9,321.6L616.3,316.5L621.7,312.9L627.2,317.5L632.6,317.2L638,314.6L643.5,311L648.9,307.3L654.3,307.2L659.8,308.6L665.2,311.3L670.6,300.1L676.1,305L681.5,309.8L686.9,305.9L692.4,302.8L697.8,306.3L703.2,299.5L708.7,294.1L714.1,306.9L719.5,307.7L725,310.3L730.4,317.8L735.8,309.4L741.3,310.2L746.7,316.4M426.1,305.8L431.6,304.8L437,307.2L442.4,315L447.9,323.6L453.3,328.2L458.7,318.9L464.2,313L469.6,316.8L475,320.9L480.5,317.6L485.9,308.4L491.3,316.3L496.8,316.2L502.2,313.6L507.6,324.7L513.1,318.4L518.5,317.5L523.9,312.2L529.4,318.2L534.8,314.2L540.2,305.4L545.7,322.1L551.1,322.7L556.5,317.8L562,319L567.4,307.6L572.8,304.4L578.3,315.5L583.7,312.5L589.1,309.4L594.6,318.3L600,304L605.4,296.6L610.9,300.3L616.3,315.5L621.7,321.2L627.2,321.8L632.6,318.2L638,325.6L643.5,318.2L648.9,302.1L654.3,314.2L659.8,320.8L665.2,306.4L670.6,304.4L676.1,317.4L681.5,319L686.9,316.2L692.4,302.5L697.8,315.9L703.2,315.4L708.7,313.1L714.1,304.5L719.5,308.1L725,320.9L730.4,326L735.8,313.6L741.3,317.3L746.7,317.4M426.1,304.2L431.6,302.8L437,304.8L442.4,314.1L447.9,320.4L453.3,314.3L458.7,308.6L464.2,313L469.6,321.9L475,319.3L480.5,319.7L485.9,315.6L491.3,313.9L496.8,319.3L502.2,319L507.6,323.2L513.1,325.1L518.5,325L523.9,320.7L529.4,316.2L534.8,315.7L540.2,317.8L545.7,303.1L551.1,305.7L556.5,322.1L562,324.3L567.4,327.4L572.8,332L578.3,327.3L583.7,309.2L589.1,325.1L594.6,319.2L600,320.1L605.4,311.9L610.9,301.5L616.3,294.9L621.7,301.6L627.2,310.6L632.6,306.4L638,302.1L643.5,310L648.9,317.5L654.3,317.2L659.8,321.8L665.2,320.7L670.6,304.7L676.1,304.1L681.5,308.2L686.9,305.2L692.4,308.7L697.8,299.4L703.2,301L708.7,311.4L714.1,308L719.5,305.2L725,293.7L730.4,294.7L735.8,298.6L741.3,270.9L746.7,293M426.1,303.1L431.6,302.1L437,304.9L442.4,315.7L447.9,322.9L453.3,321.6L458.7,326.3L464.2,318.4L469.6,323.5L475,322.9L480.5,318.7L485.9,324.4L491.3,318.6L496.8,325.8L502.2,325.8L507.6,328.3L513.1,327.9L518.5,330.7L523.9,330.4L529.4,329.8L534.8,319.6L540.2,307.2L545.7,306.8L551.1,324.1L556.5,324.4L562,319.5L567.4,311.3L572.8,312.4L578.3,313.1L583.7,309.7L589.1,315.1L594.6,320.2L600,315.8L605.4,304.5L610.9,317.6L616.3,322.2L621.7,319.6L627.2,311.8L632.6,314.1L638,302.1L643.5,297.4L648.9,307.7L654.3,307.6L659.8,314.5L665.2,313.9L670.6,306.4L676.1,295.5L681.5,290.1L686.9,291.2L692.4,299.9L697.8,297.4L703.2,301.1L708.7,299.2L714.1,295.2L719.5,295.9L725,276.7L730.4,282.1L735.8,291.7L741.3,296.3L746.7,296.7M426.1,305.8L431.6,304.3L437,307.5L442.4,318.3L447.9,329.6L453.3,330L458.7,324.3L464.2,326.5L469.6,321.1L475,324.5L480.5,324.3L485.9,325.1L491.3,318.6L496.8,313.6L502.2,313L507.6,317.9L513.1,321.3L518.5,309.4L523.9,311.1L529.4,322.6L534.8,322.3L540.2,319.2L545.7,326.4L551.1,329.1L556.5,320L562,313.8L567.4,309.1L572.8,298.3L578.3,292.4L583.7,311.4L589.1,306.5L594.6,317.1L600,310.6L605.4,304.6L610.9,292.7L616.3,314.2L621.7,325.5L627.2,320.2L632.6,316.9L638,321.4L643.5,325.7L648.9,324.6L654.3,326.6L659.8,319.4L665.2,327.5L670.6,327.1L676.1,319.4L681.5,320.9L686.9,322L692.4,321L697.8,316.4L703.2,306.9L708.7,319.1L714.1,295.9L719.5,296.8L725,307.2L730.4,318.8L735.8,319.9L741.3,315.1L746.7,315.1M426.1,306L431.6,304.6L437,307.3L442.4,318.7L447.9,323.4L453.3,316.5L458.7,316.2L464.2,325.9L469.6,325.1L475,325L480.5,325.2L485.9,325.7L491.3,318.2L496.8,316.6L502.2,310.3L507.6,316.1L513.1,319.3L518.5,315.7L523.9,321.7L529.4,323.4L534.8,325L540.2,317.1L545.7,330.1L551.1,324.8L556.5,324.3L562,317L567.4,322.5L572.8,323.8L578.3,321.8L583.7,318.7L589.1,318.2L594.6,319.9L600,323.4L605.4,324.2L610.9,328.4L616.3,326.4L621.7,322.4L627.2,309.9L632.6,319.6L638,313L643.5,301.3L648.9,325.8L654.3,324.5L659.8,310.3L665.2,309.5L670.6,302.1L676.1,300.5L681.5,310.4L686.9,306.2L692.4,305.6L697.8,298L703.2,320.5L708.7,317.9L714.1,316.6L719.5,316.3L725,315.6L730.4,313L735.8,311.5L741.3,299.7L746.7,315.9M426.1,303.5L431.6,302.6L437,306.4L442.4,316.1L447.9,323.4L453.3,319.8L458.7,325.3L464.2,320.9L469.6,316.5L475,314.6L480.5,318.1L485.9,313.4L491.3,315.5L496.8,322.9L502.2,323.9L507.6,327.8L513.1,321.9L518.5,313.9L523.9,308.1L529.4,303.4L534.8,312.9L540.2,310.3L545.7,324.1L551.1,325L556.5,323.1L562,312.2L567.4,322L572.8,327L578.3,330.5L583.7,326.7L589.1,331L594.6,327.6L600,327.6L605.4,328L610.9,327.9L616.3,328.3L621.7,327.5L627.2,323.6L632.6,319.2L638,323.6L643.5,322.7L648.9,320.9L654.3,331.5L659.8,335.2L665.2,328.9L670.6,331.2L676.1,327.9L681.5,330.7L686.9,281.2L692.4,267.3L697.8,253.1L703.2,257.6L708.7,244.7L714.1,232.5L719.5,232.5L725,253.4L730.4,267.3L735.8,316.7L741.3,298.7L746.7,321.4M426.1,304.2L431.6,303.8L437,307.9L442.4,317.7L447.9,329.3L453.3,329.6L458.7,324.6L464.2,319L469.6,324.5L475,320.6L480.5,322.3L485.9,321.4L491.3,309.6L496.8,308.5L502.2,315.3L507.6,326.6L513.1,327L518.5,318.6L523.9,322.8L529.4,324.3L534.8,313.9L540.2,300L545.7,313.2L551.1,307.7L556.5,327.4L562,323L567.4,327.8L572.8,329.4L578.3,333.9L583.7,330.7L589.1,327.8L594.6,328.9L600,316.4L605.4,319L610.9,324.8L616.3,324.7L621.7,325.4L627.2,321.9L632.6,324.9L638,326.7L643.5,327.5L648.9,316.3L654.3,306.4L659.8,306.4L665.2,308.7L670.6,319.2L676.1,325.7L681.5,314.4L686.9,319L692.4,319.3L697.8,317.8L703.2,308.9L708.7,295.9L714.1,294.9L719.5,310.9L725,312.4L730.4,316L735.8,318L741.3,311.3L746.7,317.6M426.1,304.4L431.6,302.7L437,305.3L442.4,314.2L447.9,321.5L453.3,319.4L458.7,320.2L464.2,315.8L469.6,321.2L475,319.2L480.5,323.4L485.9,317.9L491.3,325.1L496.8,314.2L502.2,310.2L507.6,320.9L513.1,322.4L518.5,318.7L523.9,323.3L529.4,323.2L534.8,314.9L540.2,317.9L545.7,312.1L551.1,321.6L556.5,308.8L562,321.6L567.4,320.5L572.8,320.6L578.3,318.4L583.7,319.3L589.1,313.2L594.6,316.3L600,310.8L605.4,319.7L610.9,319.1L616.3,306.2L621.7,287.3L627.2,283L632.6,298.7L638,285.1L643.5,278.5L648.9,285.1L654.3,287.5L659.8,295.6L665.2,271.4L670.6,280.6L676.1,292.4L681.5,303.7L686.9,299.3L692.4,294.2L697.8,299.4L703.2,291L708.7,296.7L714.1,296.6L719.5,305.7L725,300.5L730.4,299.1L735.8,312.1L741.3,314.8L746.7,304.9M426.1,304.2L431.6,303L437,306.3L442.4,316.1L447.9,323.9L453.3,317.7L458.7,315L464.2,304.7L469.6,317.3L475,318L480.5,313.1L485.9,312.3L491.3,312.6L496.8,304L502.2,309.7L507.6,319.4L513.1,313.1L518.5,303L523.9,302.6L529.4,313.3L534.8,310.1L540.2,308.9L545.7,289.2L551.1,311.9L556.5,322.9L562,328.4L567.4,324.8L572.8,318L578.3,321.8L583.7,308.7L589.1,307L594.6,306.4L600,308.5L605.4,307.9L610.9,312.3L616.3,309.3L621.7,303.5L627.2,300.9L632.6,301.7L638,309.4L643.5,309.9L648.9,306.7L654.3,319.5L659.8,327.2L665.2,316.9L670.6,317.8L676.1,311.3L681.5,312.8L686.9,306.8L692.4,324.3L697.8,323.8L703.2,317.6L708.7,317.6L714.1,309.8L719.5,313.8L725,315.7L730.4,311.6L735.8,313L741.3,324.5L746.7,319.7M426.1,304L431.6,303.1L437,306L442.4,317.1L447.9,324.3L453.3,320L458.7,313.4L464.2,311.6L469.6,326.8L475,327.7L480.5,326.3L485.9,311.1L491.3,311.9L496.8,306.4L502.2,310.3L507.6,317L513.1,316.8L518.5,318.6L523.9,317.2L529.4,311.1L534.8,319.6L540.2,315.2L545.7,308.5L551.1,311.8L556.5,310.4L562,318.5L567.4,304L572.8,302.9L578.3,289.6L583.7,288.5L589.1,298.9L594.6,292.2L600,309.1L605.4,307.9L610.9,298.1L616.3,287L621.7,296.7L627.2,308.4L632.6,311.7L638,307L643.5,301.7L648.9,323.3L654.3,307.2L659.8,302.7L665.2,309.8L670.6,322.7L676.1,321.5L681.5,310.4L686.9,314.9L692.4,323.1L697.8,307.5L703.2,283.9L708.7,296.6L714.1,294.2L719.5,296L725,302.1L730.4,308.9L735.8,303.5L741.3,292.2L746.7,298.7M426.1,306.2L431.6,305L437,307.7L442.4,317.5L447.9,324.1L453.3,315.3L458.7,305.6L464.2,317L469.6,324.5L475,320.8L480.5,317.9L485.9,316.8L491.3,309L496.8,305.2L502.2,310.4L507.6,322.3L513.1,317.3L518.5,319.6L523.9,320.9L529.4,313.8L534.8,315.7L540.2,323L545.7,320.3L551.1,325.9L556.5,326L562,325.7L567.4,317.2L572.8,313.3L578.3,324.2L583.7,325.4L589.1,324.4L594.6,307.3L600,302.7L605.4,317.6L610.9,316.3L616.3,321.6L621.7,316.4L627.2,314.3L632.6,313.5L638,313.5L643.5,281L648.9,305.8L654.3,316.6L659.8,309.7L665.2,313.2L670.6,301.2L676.1,317.5L681.5,325.4L686.9,324.9L692.4,325.2L697.8,324.8L703.2,311.3L708.7,316.4L714.1,313L719.5,303.2L725,311.7L730.4,308.3L735.8,298.4L741.3,292L746.7,302.3M426.1,304.8L431.6,304.4L437,306.9L442.4,316.1L447.9,322.7L453.3,326.2L458.7,324.1L464.2,315.9L469.6,322.2L475,327.2L480.5,328.2L485.9,329.9L491.3,320.8L496.8,307.9L502.2,311.9L507.6,326.9L513.1,327.7L518.5,320.2L523.9,320.8L529.4,315.8L534.8,323.4L540.2,314L545.7,317.4L551.1,316L556.5,310.2L562,308.2L567.4,300.7L572.8,306.5L578.3,307.2L583.7,321.7L589.1,318L594.6,327L600,321.4L605.4,322.2L610.9,312L616.3,315.4L621.7,317.8L627.2,320.6L632.6,322.1L638,312.1L643.5,307.6L648.9,305.8L654.3,298.2L659.8,276.4L665.2,265.6L670.6,302.2L676.1,322.1L681.5,308.7L686.9,314.1L692.4,300.3L697.8,292.4L703.2,282.8L708.7,270.5L714.1,271.9L719.5,284.5L725,296.8L730.4,302.3L735.8,318.2L741.3,307.8L746.7,309.4M426.1,303.5L431.6,303.1L437,306.3L442.4,317.3L447.9,324.9L453.3,326.2L458.7,321.4L464.2,308.6L469.6,316.8L475,320.8L480.5,320L485.9,318L491.3,315.1L496.8,305.4L502.2,310.5L507.6,324.4L513.1,327.5L518.5,319.2L523.9,320.8L529.4,321.7L534.8,324.5L540.2,324.2L545.7,330.9L551.1,322.2L556.5,325.7L562,312.7L567.4,316.2L572.8,316L578.3,321.9L583.7,323.9L589.1,319.4L594.6,320.5L600,324.9L605.4,317.9L610.9,310.8L616.3,323.2L621.7,305.2L627.2,309.3L632.6,324.2L638,321.2L643.5,321.7L648.9,326.5L654.3,330.5L659.8,321.7L665.2,309.4L670.6,324.5L676.1,322.8L681.5,329L686.9,315.3L692.4,322.8L697.8,328L703.2,321.4L708.7,307.6L714.1,303.2L719.5,298.1L725,310.4L730.4,314.7L735.8,309.2L741.3,313L746.7,314.3M426.1,305.2L431.6,303.5L437,306L442.4,315.1L447.9,322.9L453.3,325.4L458.7,324.7L464.2,325.6L469.6,325.3L475,323.6L480.5,323.3L485.9,311.1L491.3,303.1L496.8,306.3L502.2,310.2L507.6,327.4L513.1,324.4L518.5,322.6L523.9,313.7L529.4,302.9L534.8,313.1L540.2,309.9L545.7,318.3L551.1,324.5L556.5,316.8L562,316.9L567.4,319.4L572.8,322.4L578.3,314.9L583.7,306.6L589.1,325L594.6,322.7L600,324.7L605.4,314L610.9,316.5L616.3,315.4L621.7,320.3L627.2,312.9L632.6,324.6L638,323.7L643.5,333.1L648.9,332L654.3,324.7L659.8,330.2L665.2,330.8L670.6,332L676.1,328.9L681.5,322L686.9,298.1L692.4,298.9L697.8,291.9L703.2,308.9L708.7,310.3L714.1,314.4L719.5,326.8L725,327.3L730.4,329.6L735.8,318.4L741.3,298.4L746.7,304.8M426.1,303.2L431.6,302.5L437,305.5L442.4,313.7L447.9,324.5L453.3,313.1L458.7,308.7L464.2,320.4L469.6,322.3L475,324.2L480.5,324.9L485.9,323.8L491.3,320.6L496.8,322.2L502.2,319.4L507.6,326.7L513.1,331L518.5,324.7L523.9,322.3L529.4,326.6L534.8,326.4L540.2,329.6L545.7,319.1L551.1,322.7L556.5,313.9L562,306.8L567.4,308.6L572.8,317.3L578.3,326.5L583.7,330.7L589.1,326.8L594.6,329.5L600,327.1L605.4,323.9L610.9,329.4L616.3,315.6L621.7,315.8L627.2,312.6L632.6,324L638,324.1L643.5,326.2L648.9,325.9L654.3,324.2L659.8,312.2L665.2,293L670.6,318.1L676.1,308.5L681.5,287L686.9,279.5L692.4,282.1L697.8,299.5L703.2,292.3L708.7,295.9L714.1,297.5L719.5,280.2L725,283.2L730.4,284.9L735.8,267.7L741.3,294.2L746.7,304.9M426.1,304.3L431.6,302.5L437,305.2L442.4,316.9L447.9,325L453.3,320.5L458.7,329.4L464.2,326.8L469.6,324.1L475,322L480.5,326.2L485.9,326.7L491.3,320.8L496.8,322L502.2,318.3L507.6,319.2L513.1,311.9L518.5,297.3L523.9,303.8L529.4,316.4L534.8,318.5L540.2,302.3L545.7,316.6L551.1,330.5L556.5,328.8L562,328.3L567.4,327.8L572.8,327.6L578.3,320.8L583.7,311L589.1,317.6L594.6,329.8L600,325.1L605.4,324.1L610.9,308.4L616.3,304.2L621.7,308.9L627.2,322.1L632.6,321.2L638,319.9L643.5,328.7L648.9,307.4L654.3,312.3L659.8,325.7L665.2,333.1L670.6,316.1L676.1,322.4L681.5,310.4L686.9,323.3L692.4,301.2L697.8,288.9L703.2,299.6L708.7,312.9L714.1,297L719.5,298.6L725,306.7L730.4,318.2L735.8,312.5L741.3,318.4L746.7,304.7M426.1,305.7L431.6,304.5L437,306.3L442.4,316.6L447.9,326.4L453.3,325.2L458.7,325.5L464.2,323.5L469.6,320.7L475,320.2L480.5,320.6L485.9,320.3L491.3,303.5L496.8,302.7L502.2,308.5L507.6,317.1L513.1,317.2L518.5,313L523.9,311.4L529.4,314.7L534.8,315L540.2,306.8L545.7,308L551.1,314.9L556.5,313.8L562,312.4L567.4,319.2L572.8,316.8L578.3,314.6L583.7,320L589.1,318.8L594.6,316.4L600,322.1L605.4,312.7L610.9,329.9L616.3,330.5L621.7,332L627.2,330L632.6,326.9L638,314L643.5,328.7L648.9,325.9L654.3,317.7L659.8,331.1L665.2,326.6L670.6,318.3L676.1,331.7L681.5,326.1L686.9,316L692.4,313.3L697.8,299.8L703.2,308.9L708.7,309L714.1,298.7L719.5,301.8L725,303.1L730.4,315.4L735.8,318.5L741.3,325.9L746.7,322.9M426.1,303.2L431.6,301.1L437,303.5L442.4,314L447.9,321L453.3,310.5L458.7,311.6L464.2,305.4L469.6,320.6L475,320.8L480.5,317.7L485.9,300.3L491.3,301.6L496.8,306.4L502.2,318.4L507.6,328.7L513.1,322.4L518.5,317.5L523.9,318.5L529.4,316.6L534.8,311.5L540.2,288.5L545.7,285.8L551.1,291.5L556.5,294.4L562,300.6L567.4,313.8L572.8,317.4L578.3,328.3L583.7,329L589.1,319.5L594.6,326.5L600,330.6L605.4,332.4L610.9,328.9L616.3,332.4L621.7,324.1L627.2,318.6L632.6,316.4L638,314.5L643.5,324.6L648.9,312L654.3,320.2L659.8,325L665.2,330.2L670.6,329.4L676.1,330.4L681.5,325L686.9,317.5L692.4,323.6L697.8,329.9L703.2,321.1L708.7,320.7L714.1,312.2L719.5,310.7L725,312.5L730.4,313.3L735.8,312.7L741.3,315.3L746.7,320.1M426.1,304.6L431.6,303.7L437,306.4L442.4,314.7L447.9,321.2L453.3,321.5L458.7,321.2L464.2,316.8L469.6,330L475,328.8L480.5,324.8L485.9,320.8L491.3,306.3L496.8,309.8L502.2,309L507.6,318L513.1,324.1L518.5,319.8L523.9,314.1L529.4,317L534.8,317.4L540.2,308.2L545.7,318.2L551.1,321.7L556.5,324.9L562,317.6L567.4,324.4L572.8,324L578.3,330L583.7,334.5L589.1,329.8L594.6,332L600,328.6L605.4,323L610.9,306.7L616.3,320.5L621.7,316.9L627.2,301.8L632.6,292.4L638,312.6L643.5,299.5L648.9,299.1L654.3,297.7L659.8,304.6L665.2,287.6L670.6,292.9L676.1,304.8L681.5,304.8L686.9,301.7L692.4,299.5L697.8,297.3L703.2,287.7L708.7,304.9L714.1,309.8L719.5,296.2L725,290.1L730.4,288.9L735.8,309.4L741.3,296.7L746.7,303.5M426.1,303.5L431.6,302.5L437,305.7L442.4,313.5L447.9,321L453.3,314.2L458.7,319.2L464.2,312.6L469.6,314.3L475,316.5L480.5,313.8L485.9,296.2L491.3,290.6L496.8,297.8L502.2,308.5L507.6,312.6L513.1,318L518.5,318.5L523.9,307.4L529.4,317.7L534.8,319.6L540.2,309.5L545.7,320.4L551.1,323.6L556.5,319.8L562,323.6L567.4,326.8L572.8,328.9L578.3,324.9L583.7,319.4L589.1,313.7L594.6,310.9L600,312.5L605.4,311.3L610.9,309.2L616.3,320.7L621.7,308.1L627.2,306.1L632.6,319.4L638,326.8L643.5,326.9L648.9,316.4L654.3,321.8L659.8,318.2L665.2,305.3L670.6,276.6L676.1,303.8L681.5,305.9L686.9,306.8L692.4,302.4L697.8,304.9L703.2,289.8L708.7,296.8L714.1,296.6L719.5,303.4L725,301.9L730.4,279.6L735.8,284.9L741.3,294.3L746.7,291.9M426.1,304.4L431.6,301.7L437,305.2L442.4,314.3L447.9,321.8L453.3,319.3L458.7,316.6L464.2,313.6L469.6,321.1L475,320.7L480.5,318.9L485.9,315.8L491.3,310.9L496.8,305.8L502.2,305.3L507.6,309.7L513.1,322.3L518.5,312.2L523.9,312.7L529.4,317.5L534.8,322.8L540.2,330.5L545.7,320.6L551.1,315.7L556.5,308.5L562,313.1L567.4,311.2L572.8,320.4L578.3,325.6L583.7,289.7L589.1,301.9L594.6,298.3L600,303.4L605.4,314.7L610.9,317.5L616.3,311.7L621.7,314.7L627.2,310.8L632.6,307.4L638,312.5L643.5,306.1L648.9,306.9L654.3,307.5L659.8,321.4L665.2,309.7L670.6,291.9L676.1,302.9L681.5,307L686.9,303L692.4,301.3L697.8,320.8L703.2,321.4L708.7,322.9L714.1,310L719.5,293.8L725,299.8L730.4,273.6L735.8,281L741.3,286.9L746.7,300.8M426.1,305.3L431.6,303.6L437,305.9L442.4,315.9L447.9,319.6L453.3,317.8L458.7,314L464.2,315.8L469.6,323.4L475,325.2L480.5,327L485.9,325L491.3,321.1L496.8,320.5L502.2,317.3L507.6,322.3L513.1,328.2L518.5,318.7L523.9,319.7L529.4,332L534.8,328.3L540.2,329.2L545.7,316.2L551.1,308.7L556.5,314L562,320.7L567.4,321.9L572.8,329.7L578.3,333.4L583.7,320.1L589.1,308.1L594.6,315.3L600,312.1L605.4,308.7L610.9,308.7L616.3,323.9L621.7,318.4L627.2,322L632.6,323.6L638,313.1L643.5,309.1L648.9,304.9L654.3,299.4L659.8,304.3L665.2,298.2L670.6,297.3L676.1,290.8L681.5,294.5L686.9,295.9L692.4,285.9L697.8,293.3L703.2,286L708.7,264.5L714.1,283.9L719.5,284.6L725,278.2L730.4,260L735.8,255.5L741.3,249.9L746.7,279.2M426.1,303.8L431.6,302.6L437,306L442.4,315.7L447.9,324.9L453.3,320.9L458.7,327.3L464.2,327.4L469.6,318.3L475,318.4L480.5,317.9L485.9,302.7L491.3,296.4L496.8,304.9L502.2,307.2L507.6,319.4L513.1,322.1L518.5,311.8L523.9,316L529.4,322.6L534.8,312.5L540.2,304.1L545.7,313.3L551.1,308.6L556.5,306L562,292.7L567.4,310.2L572.8,313.7L578.3,317.9L583.7,310.1L589.1,318L594.6,321.4L600,320.1L605.4,311.3L610.9,311.8L616.3,293.5L621.7,306.8L627.2,309.5L632.6,302.3L638,312.6L643.5,309.1L648.9,322.9L654.3,307L659.8,322L665.2,314.4L670.6,319.7L676.1,324.8L681.5,323.3L686.9,320.8L692.4,318.6L697.8,313.6L703.2,316.4L708.7,314.1L714.1,297.4L719.5,290.6L725,303.1L730.4,299.4L735.8,294.8L741.3,299.8L746.7,301.9M426.1,303.2L431.6,301.5L437,303.6L442.4,313L447.9,319.5L453.3,321.8L458.7,310.9L464.2,310.6L469.6,323.2L475,323.1L480.5,320.8L485.9,318.3L491.3,308L496.8,316L502.2,320.5L507.6,329.8L513.1,326.5L518.5,320.7L523.9,314.7L529.4,305.4L534.8,302.4L540.2,297.6L545.7,290.1L551.1,295.8L556.5,314.9L562,309.7L567.4,310.5L572.8,316.9L578.3,315L583.7,318.8L589.1,315.2L594.6,311.5L600,318.2L605.4,327.5L610.9,328.8L616.3,329L621.7,311.7L627.2,307.7L632.6,313.6L638,314.6L643.5,324.9L648.9,311L654.3,314.4L659.8,321.6L665.2,315L670.6,320.4L676.1,308.1L681.5,304.6L686.9,296.2L692.4,301.2L697.8,315.2L703.2,316.1L708.7,319.5L714.1,301L719.5,314.1L725,327.4L730.4,329.2L735.8,327.9L741.3,327.5L746.7,323.6M426.1,304.3L431.6,303.4L437,305.5L442.4,315.2L447.9,320.8L453.3,316.4L458.7,318.3L464.2,306.9L469.6,319.8L475,320.8L480.5,312.6L485.9,302.8L491.3,307.5L496.8,308.7L502.2,310.8L507.6,321.3L513.1,325.1L518.5,322.3L523.9,316.7L529.4,318.1L534.8,315.5L540.2,296.7L545.7,302.9L551.1,304.3L556.5,298.3L562,300.8L567.4,308.8L572.8,308.9L578.3,295.9L583.7,311.8L589.1,291.3L594.6,287.5L600,275.3L605.4,273.8L610.9,274L616.3,294.1L621.7,298.8L627.2,303.8L632.6,314.5L638,311.7L643.5,310.6L648.9,308.3L654.3,307.3L659.8,318.2L665.2,320.4L670.6,298.8L676.1,301.1L681.5,316.7L686.9,320.8L692.4,315.1L697.8,326.8L703.2,318L708.7,309.4L714.1,309L719.5,308.6L725,317.7L730.4,320.2L735.8,311.6L741.3,315.5L746.7,321.7M426.1,304L431.6,302.4L437,305.8L442.4,315.4L447.9,321.3L453.3,314.4L458.7,327.6L464.2,316.9L469.6,316.6L475,316.3L480.5,316.8L485.9,300.1L491.3,311.7L496.8,308L502.2,310.4L507.6,315.8L513.1,324.8L518.5,322.1L523.9,324.3L529.4,320.2L534.8,318.7L540.2,311.2L545.7,311.2L551.1,312.6L556.5,303L562,306.2L567.4,311.2L572.8,320.9L578.3,314.8L583.7,303.5L589.1,309.3L594.6,307.4L600,321.2L605.4,308.9L610.9,302L616.3,321.2L621.7,318.3L627.2,313.2L632.6,322.3L638,312.4L643.5,304.9L648.9,319.6L654.3,331.6L659.8,324.1L665.2,321.7L670.6,314.9L676.1,314.2L681.5,326.9L686.9,309.4L692.4,298L697.8,279.2L703.2,265.6L708.7,269.3L714.1,266.6L719.5,265.6L725,276.1L730.4,285.5L735.8,275.5L741.3,286.5L746.7,290.3M426.1,303.5L431.6,302.4L437,305.1L442.4,315.6L447.9,322.2L453.3,319.8L458.7,315.5L464.2,317.6L469.6,318.6L475,320.5L480.5,316.4L485.9,317L491.3,320L496.8,319.9L502.2,320.5L507.6,323.1L513.1,324.4L518.5,323L523.9,320.9L529.4,317.1L534.8,306.5L540.2,305.9L545.7,309.7L551.1,331L556.5,326.2L562,327L567.4,315.7L572.8,314.3L578.3,307.2L583.7,314.7L589.1,318.6L594.6,320.5L600,314.6L605.4,312.3L610.9,312.2L616.3,312.3L621.7,311.1L627.2,315.6L632.6,305.4L638,316.9L643.5,315.6L648.9,315.5L654.3,303.2L659.8,317.7L665.2,309.5L670.6,304.9L676.1,309.1L681.5,312.2L686.9,310.4L692.4,300.5L697.8,315.1L703.2,313.5L708.7,323.2L714.1,320.1L719.5,311.3L725,299.5L730.4,312.1L735.8,320.6L741.3,325.4L746.7,322.3M426.1,302.4L431.6,302.4L437,305.5L442.4,314.4L447.9,321.5L453.3,318.3L458.7,315L464.2,304.2L469.6,316.1L475,318.6L480.5,320L485.9,315.1L491.3,315.8L496.8,312.7L502.2,310.8L507.6,314.1L513.1,317.8L518.5,307L523.9,303.9L529.4,316.5L534.8,317.4L540.2,325.3L545.7,303.1L551.1,322.8L556.5,322.4L562,312.8L567.4,308L572.8,308.8L578.3,306L583.7,322.2L589.1,317L594.6,304.9L600,301L605.4,290L610.9,308.7L616.3,327.6L621.7,328.8L627.2,327L632.6,331L638,332L643.5,333.1L648.9,321.9L654.3,315.4L659.8,304L665.2,322.7L670.6,307.7L676.1,302.9L681.5,323.7L686.9,314.5L692.4,311.3L697.8,322.2L703.2,310.7L708.7,304L714.1,294.2L719.5,298.5L725,300L730.4,320.9L735.8,307.7L741.3,314.9L746.7,301.5M426.1,303.3L431.6,303.1L437,305L442.4,314.5L447.9,324.2L453.3,324L458.7,319.6L464.2,326.4L469.6,329.5L475,327.4L480.5,327L485.9,322.9L491.3,320L496.8,306.7L502.2,309.9L507.6,323.8L513.1,323.2L518.5,310.1L523.9,304.1L529.4,311.6L534.8,311.8L540.2,320.6L545.7,321.9L551.1,325.9L556.5,326.7L562,313.8L567.4,307.4L572.8,320.7L578.3,325.8L583.7,315L589.1,314.5L594.6,322.3L600,313L605.4,298.8L610.9,298.7L616.3,314.6L621.7,311.3L627.2,309.2L632.6,322.3L638,318.7L643.5,308.5L648.9,308.3L654.3,303L659.8,307.8L665.2,308.1L670.6,308.3L676.1,314.4L681.5,304.2L686.9,293L692.4,271.9L697.8,268.7L703.2,267.7L708.7,269.8L714.1,262.4L719.5,268.6L725,277.1L730.4,286.9L735.8,277.6L741.3,261.9L746.7,268.7M426.1,304.6L431.6,302.9L437,305.6L442.4,316.1L447.9,326.2L453.3,322.9L458.7,329.3L464.2,331L469.6,324.6L475,320.6L480.5,319.5L485.9,306.8L491.3,305.4L496.8,301.7L502.2,309.5L507.6,324.3L513.1,314.1L518.5,305.7L523.9,288.5L529.4,298.6L534.8,298.6L540.2,292.4L545.7,281.9L551.1,310.8L556.5,310.1L562,291.7L567.4,308.6L572.8,308L578.3,318.1L583.7,309.2L589.1,313.4L594.6,325.6L600,310.5L605.4,315.1L610.9,312.3L616.3,323.7L621.7,298.4L627.2,304.5L632.6,306.6L638,313.9L643.5,306.9L648.9,304.8L654.3,305.7L659.8,306.7L665.2,322.9L670.6,311.8L676.1,320.8L681.5,324L686.9,323.1L692.4,312.8L697.8,301.7L703.2,319.2L708.7,294.2L714.1,305L719.5,301.5L725,308.7L730.4,321.8L735.8,307.1L741.3,306.9L746.7,318.5M426.1,303.9L431.6,304.8L437,307.5L442.4,317.7L447.9,325.3L453.3,318.5L458.7,312L464.2,323.8L469.6,322.8L475,325.1L480.5,325.6L485.9,314.9L491.3,305.4L496.8,299L502.2,306.7L507.6,308.2L513.1,312.5L518.5,306.8L523.9,306.6L529.4,314L534.8,322.8L540.2,323.5L545.7,305.6L551.1,309.4L556.5,297.8L562,308.9L567.4,311.7L572.8,317.2L578.3,316.5L583.7,312.2L589.1,302.3L594.6,317L600,307.2L605.4,306.6L610.9,298.7L616.3,315.6L621.7,310.5L627.2,306.6L632.6,316.3L638,308.7L643.5,309.4L648.9,306.7L654.3,307.6L659.8,306.8L665.2,275.5L670.6,310.1L676.1,317.3L681.5,308.5L686.9,305.5L692.4,301.3L697.8,295.5L703.2,280.2L708.7,285.9L714.1,292.5L719.5,281.5L725,252.4L730.4,269.2L735.8,279.9L741.3,269.2L746.7,295.3M426.1,304.5L431.6,303.8L437,306.8L442.4,315.9L447.9,322.8L453.3,318.7L458.7,312.7L464.2,309.1L469.6,319.7L475,317.7L480.5,318.6L485.9,306.9L491.3,312.5L496.8,314.3L502.2,313.6L507.6,321.9L513.1,314.6L518.5,302L523.9,311.7L529.4,312.8L534.8,303.2L540.2,303.1L545.7,305.2L551.1,320.1L556.5,293.8L562,300.2L567.4,306.1L572.8,316.6L578.3,317.9L583.7,319.2L589.1,315.3L594.6,323.1L600,323.4L605.4,313.5L610.9,309.9L616.3,313.3L621.7,302.5L627.2,310.9L632.6,311.4L638,306.4L643.5,303.9L648.9,303.8L654.3,300.2L659.8,294.4L665.2,267.9L670.6,272.2L676.1,300.3L681.5,303.4L686.9,301.2L692.4,267.3L697.8,275.3L703.2,285.9L708.7,297.8L714.1,303.8L719.5,312.3L725,312.6L730.4,302.4L735.8,307.8L741.3,314.5L746.7,310.9M426.1,302.1L431.6,301.8L437,303.7L442.4,312.6L447.9,319.9L453.3,316L458.7,315.5L464.2,310.4L469.6,323.4L475,326.6L480.5,324L485.9,326.4L491.3,327.9L496.8,313.8L502.2,316.8L507.6,330L513.1,327.9L518.5,327.9L523.9,327.9L529.4,329L534.8,328.2L540.2,332L545.7,322.9L551.1,307.3L556.5,316.2L562,325.3L567.4,329.6L572.8,323.4L578.3,324.1L583.7,311.5L589.1,293L594.6,295.1L600,300.4L605.4,305.1L610.9,304.9L616.3,314.5L621.7,308.1L627.2,299.2L632.6,314.2L638,313.5L643.5,316.3L648.9,323.9L654.3,319.8L659.8,324.4L665.2,321.8L670.6,308.3L676.1,317.7L681.5,310.3L686.9,323.6L692.4,308.7L697.8,314.5L703.2,286.9L708.7,285.8L714.1,293.8L719.5,291.8L725,297.6L730.4,303.4L735.8,290.4L741.3,296.9L746.7,312.7M426.1,304.6L431.6,302.4L437,306.4L442.4,317.9L447.9,325.3L453.3,322.7L458.7,316.3L464.2,321.6L469.6,321L475,323.1L480.5,324.8L485.9,316.6L491.3,319.3L496.8,310.1L502.2,313.6L507.6,319.7L513.1,326.3L518.5,320L523.9,321.3L529.4,327.8L534.8,319.9L540.2,324.8L545.7,330.9L551.1,328.4L556.5,327.7L562,330.3L567.4,325L572.8,323.3L578.3,328.7L583.7,333L589.1,325.1L594.6,325.1L600,327.3L605.4,322.7L610.9,328.1L616.3,326.9L621.7,318.1L627.2,318.7L632.6,317.4L638,326.3L643.5,329.9L648.9,318L654.3,319.7L659.8,322.1L665.2,319.8L670.6,312.4L676.1,293.8L681.5,301.4L686.9,316L692.4,302.4L697.8,317.2L703.2,328.2L708.7,317.3L714.1,295.6L719.5,305.8L725,311.8L730.4,316.4L735.8,300.1L741.3,308.1L746.7,320.8M426.1,304.5L431.6,302.7L437,305.9L442.4,316.6L447.9,325.7L453.3,318.9L458.7,319L464.2,310.7L469.6,318.7L475,318.4L480.5,316.7L485.9,314L491.3,308.5L496.8,316.2L502.2,313.3L507.6,317.3L513.1,316.6L518.5,322.1L523.9,323.4L529.4,325.6L534.8,316.8L540.2,316.2L545.7,303.2L551.1,312.7L556.5,306.2L562,317.6L567.4,310.6L572.8,329.1L578.3,317.5L583.7,326L589.1,325.3L594.6,323.2L600,326.1L605.4,331.4L610.9,312.2L616.3,314.2L621.7,317.2L627.2,315.4L632.6,318.2L638,324.8L643.5,329.8L648.9,325.2L654.3,323.7L659.8,324.8L665.2,318.3L670.6,308.1L676.1,309L681.5,316.3L686.9,306.8L692.4,324.3L697.8,326.8L703.2,328.1L708.7,326.8L714.1,326.1L719.5,326.1L725,327.9L730.4,327.9L735.8,301L741.3,309L746.7,317.1M426.1,304.1L431.6,303.1L437,305.3L442.4,314.4L447.9,321.7L453.3,318.4L458.7,308.2L464.2,313.6L469.6,319.2L475,315.6L480.5,314.2L485.9,316.8L491.3,309.5L496.8,299.9L502.2,306.2L507.6,316.3L513.1,312.1L518.5,318L523.9,318.3L529.4,324L534.8,313.4L540.2,306.3L545.7,324.8L551.1,316.4L556.5,311.5L562,302.7L567.4,319.4L572.8,314.6L578.3,314.2L583.7,323.8L589.1,321L594.6,316.6L600,313.6L605.4,312.5L610.9,305.9L616.3,313.2L621.7,309.1L627.2,299.9L632.6,279.2L638,313.8L643.5,325.8L648.9,312.6L654.3,315.8L659.8,316.7L665.2,313.1L670.6,312.9L676.1,301.5L681.5,313.9L686.9,301.4L692.4,300.3L697.8,301.8L703.2,305.7L708.7,299.2L714.1,315.6L719.5,316.6L725,308.3L730.4,293.2L735.8,290.4L741.3,293.5L746.7,315.1M426.1,305.2L431.6,303.4L437,305.6L442.4,315L447.9,323.2L453.3,326.2L458.7,330.3L464.2,317.4L469.6,324L475,319.9L480.5,321.4L485.9,309.4L491.3,309.3L496.8,309.3L502.2,313.1L507.6,316.3L513.1,325.4L518.5,323.7L523.9,324.6L529.4,329.9L534.8,332.4L540.2,326.5L545.7,331L551.1,329.9L556.5,330.7L562,328.4L567.4,329L572.8,329.5L578.3,335.5L583.7,322L589.1,321.2L594.6,304.9L600,298.3L605.4,289.9L610.9,299L616.3,274.3L621.7,289.6L627.2,293.5L632.6,306.2L638,318.9L643.5,314.2L648.9,319.2L654.3,306.7L659.8,299.9L665.2,280.7L670.6,287.8L676.1,301.6L681.5,304.2L686.9,316.5L692.4,294L697.8,289.3L703.2,288.9L708.7,287.9L714.1,285.9L719.5,292.8L725,301.9L730.4,271.9L735.8,269.2L741.3,277.5L746.7,296.3M426.1,306L431.6,303.4L437,306L442.4,316L447.9,322.2L453.3,312.3L458.7,299L464.2,301.4L469.6,319.5L475,325.3L480.5,325.3L485.9,331L491.3,326.7L496.8,322L502.2,310.7L507.6,318.5L513.1,324.9L518.5,315.1L523.9,326L529.4,326.3L534.8,321.2L540.2,323.2L545.7,331L551.1,318.4L556.5,318.6L562,312.7L567.4,314.2L572.8,313.7L578.3,304L583.7,303.5L589.1,314L594.6,327.1L600,326.2L605.4,312.7L610.9,311.5L616.3,311.6L621.7,321.4L627.2,310.9L632.6,306.2L638,305.7L643.5,285.2L648.9,302.9L654.3,304.9L659.8,315.4L665.2,280.8L670.6,280.7L676.1,287.9L681.5,290.7L686.9,286.9L692.4,294.2L697.8,302.8L703.2,300.9L708.7,311.8L714.1,302.7L719.5,304.4L725,315L730.4,318.8L735.8,325.9L741.3,321.1L746.7,318.8M426.1,304L431.6,303.6L437,305.9L442.4,316.7L447.9,323.6L453.3,318.6L458.7,315.4L464.2,320.8L469.6,327.9L475,324.2L480.5,321.6L485.9,317.2L491.3,321.7L496.8,322L502.2,319.4L507.6,325.2L513.1,322.6L518.5,312.7L523.9,311.2L529.4,314.1L534.8,321.5L540.2,319L545.7,322.2L551.1,316.9L556.5,323.2L562,311.9L567.4,311.4L572.8,321.4L578.3,320.5L583.7,314.8L589.1,308.3L594.6,320.8L600,328.1L605.4,331.2L610.9,321.1L616.3,319L621.7,321.9L627.2,315.4L632.6,318.3L638,314L643.5,329.2L648.9,321.5L654.3,333.1L659.8,312.2L665.2,326.6L670.6,322.9L676.1,319.8L681.5,323.7L686.9,321.4L692.4,315.1L697.8,300L703.2,300.9L708.7,289.8L714.1,291.2L719.5,298.6L725,313.5L730.4,315.3L735.8,311.4L741.3,320.7L746.7,324.2M426.1,305L431.6,303.2L437,305.1L442.4,315.9L447.9,322.8L453.3,322.4L458.7,317.9L464.2,323L469.6,322.2L475,327L480.5,326L485.9,321.2L491.3,317.2L496.8,307.7L502.2,317.8L507.6,319.6L513.1,326.5L518.5,319.7L523.9,324.2L529.4,327.5L534.8,315.3L540.2,305.2L545.7,298.8L551.1,303.4L556.5,318L562,313.2L567.4,312L572.8,309.2L578.3,304.8L583.7,311.8L589.1,314.8L594.6,315.5L600,324.9L605.4,325L610.9,322.5L616.3,326.8L621.7,322.9L627.2,311L632.6,314L638,320.2L643.5,327L648.9,319.5L654.3,314.7L659.8,311.8L665.2,286.4L670.6,272.8L676.1,278.5L681.5,284L686.9,301.2L692.4,288.8L697.8,308.6L703.2,298.6L708.7,299.3L714.1,308.9L719.5,312.9L725,317.3L730.4,270.5L735.8,274.2L741.3,287.2L746.7,297.8M426.1,304.3L431.6,302.4L437,305.6L442.4,314L447.9,323.1L453.3,318.7L458.7,313.5L464.2,311.9L469.6,322.1L475,321.3L480.5,318.3L485.9,300.3L491.3,304L496.8,297.2L502.2,302.5L507.6,307L513.1,309.1L518.5,311.9L523.9,315.3L529.4,322.3L534.8,321.6L540.2,311L545.7,310L551.1,313.1L556.5,318L562,301.4L567.4,295.2L572.8,290.6L578.3,291.9L583.7,295.6L589.1,309.1L594.6,311.9L600,308.4L605.4,323.3L610.9,322.5L616.3,328.8L621.7,312.8L627.2,306.1L632.6,317.7L638,325.3L643.5,326.7L648.9,307.1L654.3,299L659.8,306.4L665.2,300.8L670.6,307.4L676.1,307.8L681.5,314L686.9,303.2L692.4,302.2L697.8,307.3L703.2,300.9L708.7,294.9L714.1,306.9L719.5,309.3L725,314.3L730.4,316.7L735.8,308.6L741.3,299.7L746.7,301.9M426.1,304L431.6,302.9L437,305.5L442.4,314L447.9,324.1L453.3,316.5L458.7,310.9L464.2,314.2L469.6,324.8L475,326.8L480.5,324L485.9,307.9L491.3,313.3L496.8,325L502.2,318.7L507.6,311.7L513.1,320.8L518.5,314.6L523.9,324.9L529.4,325.4L534.8,323.8L540.2,308.8L545.7,316.4L551.1,321.9L556.5,319.9L562,316.7L567.4,317.3L572.8,317.4L578.3,325.1L583.7,314.2L589.1,315.1L594.6,305.5L600,320.3L605.4,319L610.9,301.6L616.3,304.5L621.7,313.7L627.2,318.3L632.6,322.5L638,309.7L643.5,312.2L648.9,321.9L654.3,331.3L659.8,325.5L665.2,314.1L670.6,311.4L676.1,324.5L681.5,320.3L686.9,327.1L692.4,315.3L697.8,322.8L703.2,324L708.7,315.8L714.1,308.6L719.5,298.1L725,302.7L730.4,288.5L735.8,284.8L741.3,272L746.7,278.1M426.1,306.3L431.6,305.3L437,308L442.4,318.4L447.9,326.8L453.3,326.8L458.7,323.5L464.2,325.5L469.6,327.4L475,324L480.5,320.5L485.9,312L491.3,308.6L496.8,316.2L502.2,319.1L507.6,323.4L513.1,324.2L518.5,328.7L523.9,326.6L529.4,320.4L534.8,315.2L540.2,316.8L545.7,302.5L551.1,320.8L556.5,315.4L562,317.9L567.4,322.9L572.8,329.3L578.3,326.1L583.7,326.1L589.1,321L594.6,324.5L600,327.4L605.4,322.8L610.9,325.7L616.3,324L621.7,315.9L627.2,316.4L632.6,323.6L638,329.7L643.5,322.4L648.9,315.5L654.3,313.3L659.8,315L665.2,312.9L670.6,321L676.1,319.6L681.5,322.2L686.9,323.1L692.4,320.3L697.8,326.4L703.2,323.3L708.7,318.7L714.1,296L719.5,307.4L725,298.3L730.4,299L735.8,286.3L741.3,298.7L746.7,309.2M426.1,303.7L431.6,303.6L437,305.7L442.4,315L447.9,322.3L453.3,323.2L458.7,313.6L464.2,309L469.6,323.4L475,321.2L480.5,318.6L485.9,318.4L491.3,310.6L496.8,317.4L502.2,311.5L507.6,317.2L513.1,316.9L518.5,310.1L523.9,323.5L529.4,328L534.8,328.9L540.2,328.8L545.7,330.4L551.1,330.8L556.5,326.6L562,321.4L567.4,314.2L572.8,324.1L578.3,312.6L583.7,299.2L589.1,290.6L594.6,317.1L600,314.8L605.4,310.8L610.9,310.6L616.3,311.8L621.7,325.8L627.2,325.6L632.6,318L638,326.6L643.5,321.7L648.9,323.2L654.3,331.2L659.8,318.2L665.2,322L670.6,327.6L676.1,326L681.5,332L686.9,322.6L692.4,321.6L697.8,316.6L703.2,314.1L708.7,303.7L714.1,304.7L719.5,298.4L725,298.9L730.4,310.3L735.8,294.8L741.3,318.9L746.7,300M426.1,303.9L431.6,304.4L437,306.3L442.4,313.4L447.9,322.3L453.3,312.6L458.7,312.6L464.2,303.5L469.6,312.6L475,315.9L480.5,319.3L485.9,322.1L491.3,312.7L496.8,307L502.2,311.3L507.6,313L513.1,313.9L518.5,317.9L523.9,319.2L529.4,321.5L534.8,324.1L540.2,306.1L545.7,285.1L551.1,301.4L556.5,324.9L562,324.6L567.4,319.5L572.8,322.1L578.3,330.4L583.7,327.5L589.1,322.4L594.6,323.1L600,332L605.4,332.1L610.9,332.4L616.3,323.6L621.7,322.5L627.2,308.8L632.6,307.4L638,311.7L643.5,309.3L648.9,307.7L654.3,300.4L659.8,308.5L665.2,295.3L670.6,297.3L676.1,298.7L681.5,310.4L686.9,306.9L692.4,301L697.8,289.6L703.2,305.4L708.7,296.5L714.1,296.5L719.5,298.5L725,301.9L730.4,307.1L735.8,296.4L741.3,295.3L746.7,280.1M426.1,305.1L431.6,302.6L437,305.2L442.4,318.3L447.9,325.5L453.3,329.3L458.7,329.2L464.2,317L469.6,321.4L475,322.7L480.5,324.5L485.9,313.3L491.3,323.6L496.8,321L502.2,310.4L507.6,317L513.1,319.9L518.5,319.8L523.9,314.4L529.4,311.2L534.8,314.6L540.2,299L545.7,304.9L551.1,312.6L556.5,317.9L562,298.9L567.4,301.6L572.8,306L578.3,303.1L583.7,314L589.1,326.7L594.6,321.4L600,298.2L605.4,306.2L610.9,316.5L616.3,301.1L621.7,291.9L627.2,296.2L632.6,309.4L638,308L643.5,292.9L648.9,299.2L654.3,300.1L659.8,306.3L665.2,283.7L670.6,301.4L676.1,305.9L681.5,309.7L686.9,310.7L692.4,311.3L697.8,293.4L703.2,294.8L708.7,294L714.1,295.6L719.5,294L725,283.3L730.4,274.6L735.8,280.2L741.3,291.9L746.7,303.1M426.1,304.7L431.6,303.5L437,307.6L442.4,319.5L447.9,326.2L453.3,326.8L458.7,329.9L464.2,326.2L469.6,325.4L475,329.6L480.5,329.6L485.9,327.1L491.3,326.1L496.8,324.3L502.2,319.4L507.6,328.3L513.1,325.6L518.5,320.6L523.9,328.4L529.4,330L534.8,323.5L540.2,302.8L545.7,305L551.1,322.5L556.5,315L562,314.5L567.4,310.6L572.8,320.2L578.3,318.1L583.7,311L589.1,306L594.6,322.7L600,322.6L605.4,309L610.9,300.5L616.3,293.4L621.7,282.3L627.2,284.1L632.6,287.7L638,313.9L643.5,309.6L648.9,323.9L654.3,306.3L659.8,322.8L665.2,321.7L670.6,321.5L676.1,314.7L681.5,325.1L686.9,318L692.4,329.1L697.8,330L703.2,317.4L708.7,313.2L714.1,316.7L719.5,314.4L725,323.4L730.4,325.7L735.8,319.5L741.3,323.7L746.7,326.5M426.1,304.7L431.6,303.7L437,306.5L442.4,316.5L447.9,322.1L453.3,322.9L458.7,314.1L464.2,318.4L469.6,325.6L475,322.2L480.5,324.6L485.9,317.6L491.3,308.3L496.8,314.8L502.2,316.5L507.6,324.8L513.1,323.3L518.5,324.4L523.9,331L529.4,328.3L534.8,326.2L540.2,318.8L545.7,312L551.1,314.8L556.5,318.2L562,320.7L567.4,303.5L572.8,308.9L578.3,313.8L583.7,306.4L589.1,305.4L594.6,297.1L600,296.9L605.4,299.9L610.9,272.2L616.3,298.1L621.7,306.8L627.2,320.3L632.6,326.1L638,321.7L643.5,325.7L648.9,307.1L654.3,306.6L659.8,325.4L665.2,308.8L670.6,318.8L676.1,318.9L681.5,329.7L686.9,329.9L692.4,331L697.8,326.1L703.2,315.1L708.7,307.4L714.1,295.7L719.5,292.1L725,285.2L730.4,278.2L735.8,273.2L741.3,291.8L746.7,303.1"/>
<path class="oper" d="M426.13,304.38L431.57,303.3L437,305.95L442.43,315.69L447.87,324.39L453.3,321.96L458.73,320.22L464.17,312.56L469.6,322.3L475.03,323.35L480.47,323.35L485.9,317.08L491.33,313.6L496.77,309.78L502.2,311.17L507.63,322.3L513.07,322.3L518.5,317.78L523.93,317.78L529.37,320.22L534.8,317.78L540.23,305.6L545.67,305.6L551.1,317.08L556.53,319.52L561.97,314.65L567.4,312.21L572.83,324.39L578.27,327.7L583.7,316.39L589.13,316.04L594.57,326.13L600,325.44L605.43,319.52L610.87,319.52L616.3,326.83L621.73,326.13L627.17,319.52L632.6,319.52L638.03,324.39"/>
<path class="ctrl" d="M426.13,304.38L431.57,303.3L437,305.95L442.43,315.69L447.87,323.35L453.3,321.61L458.73,318.82L464.17,314.65L469.6,321.96L475.03,323L480.47,323L485.9,321.26L491.33,316.04L496.77,311.17L502.2,313.6L507.63,326.83L513.07,325.61L518.5,320.22L523.93,321.26L529.37,323.7L534.8,323.35L540.23,316.39L545.67,315.69L551.1,320.91L556.53,321.26L561.97,313.6L567.4,311.17L572.83,322.3L578.27,329.61L583.7,326.83L589.13,328.22L594.57,331L600,324.39L605.43,319.52L610.87,319.52L616.3,321.26L621.73,311.17L627.17,312.56L632.6,318.82L638.03,316.39L643.47,314.3L648.9,313.6L654.33,311.86L659.77,317.78L665.2,316.74L670.63,316.39L676.07,317.78L681.5,325.09L686.93,308.04L692.37,288.9L697.8,289.59L703.23,293.77L708.67,297.25L714.1,298.99L719.53,300.38L724.97,302.12L730.4,301.08L735.83,293.77L741.27,287.85L746.7,292.72"/>
<path class="ax" style="stroke:#1c1c1c;stroke-width:1.3px" d="M420.2,340.4H747.2"/>
<path class="mean" d="M426.13,304.38L431.57,303.3L437,305.95L442.43,315.69L447.87,323.35L453.3,320.22L458.73,317.78L464.17,314.65L469.6,321.26L475.03,321.96L480.47,321.26L485.9,317.08L491.33,313.6L496.77,310.12L502.2,311.86L507.63,320.22L513.07,320.91L518.5,316.39L523.93,317.08L529.37,318.82L534.8,317.78L540.23,311.86L545.67,312.21L551.1,317.08L556.53,318.48L561.97,314.65L567.4,312.21L572.83,317.78L578.27,318.48L583.7,315L589.13,315.34L594.57,317.08L600,316.74L605.43,312.91L610.87,312.56L616.3,315.69L621.73,311.86L627.17,311.17L632.6,315L638.03,314.65L643.47,311.17L648.9,308.38L654.33,307.69L659.77,312.21L665.2,310.12L670.63,308.38L676.07,309.08L681.5,310.47L686.93,306.99L692.37,302.82L697.8,301.77L703.23,301.42L708.67,299.34L714.1,297.6L719.53,298.64L724.97,303.51L730.4,304.21L735.83,301.08L741.27,300.38L746.7,304.9"/>
</g>
<path class="ax" style="stroke:#555;stroke-width:1px" d="M420.2,201.2H747.2"/>
<path class="ax" style="stroke:#303030;stroke-width:1.5px" d="M746.8,200.7V341"/>
<path class="ax" style="stroke:#111;stroke-width:1.4px" d="M420.7,200.7V341"/>
<text class="yt" transform="translate(414.5,344.15) scale(1,1.05)" text-anchor="end">0</text>
<text class="yt" transform="translate(751.8,344.15) scale(1,1.05)">0</text>
<text class="yt" transform="translate(414.5,326.75) scale(1,1.05)" text-anchor="end">5</text>
<text class="yt" transform="translate(751.8,326.75) scale(1,1.05)">5</text>
<text class="yt" transform="translate(414.5,309.35) scale(1,1.05)" text-anchor="end">10</text>
<text class="yt" transform="translate(751.8,309.35) scale(1,1.05)">10</text>
<text class="yt" transform="translate(414.5,291.95) scale(1,1.05)" text-anchor="end">15</text>
<text class="yt" transform="translate(751.8,291.95) scale(1,1.05)">15</text>
<text class="yt" transform="translate(414.5,274.55) scale(1,1.05)" text-anchor="end">20</text>
<text class="yt" transform="translate(751.8,274.55) scale(1,1.05)">20</text>
<text class="yt" transform="translate(414.5,257.15) scale(1,1.05)" text-anchor="end">25</text>
<text class="yt" transform="translate(751.8,257.15) scale(1,1.05)">25</text>
<text class="yt" transform="translate(414.5,239.75) scale(1,1.05)" text-anchor="end">30</text>
<text class="yt" transform="translate(751.8,239.75) scale(1,1.05)">30</text>
<text class="yt" transform="translate(414.5,222.35) scale(1,1.05)" text-anchor="end">35</text>
<text class="yt" transform="translate(751.8,222.35) scale(1,1.05)">35</text>
<text class="yt" transform="translate(414.5,204.95) scale(1,1.05)" text-anchor="end">40</text>
<text class="yt" transform="translate(751.8,204.95) scale(1,1.05)">40</text>
<path class="tk" d="M420.7,340.4h-4.3M746.7,340.4h3.44M420.7,331.7h-2M746.7,331.7h1.6M420.7,323h-4.3M746.7,323h3.44M420.7,314.3h-2M746.7,314.3h1.6M420.7,305.6h-4.3M746.7,305.6h3.44M420.7,296.9h-2M746.7,296.9h1.6M420.7,288.2h-4.3M746.7,288.2h3.44M420.7,279.5h-2M746.7,279.5h1.6M420.7,270.8h-4.3M746.7,270.8h3.44M420.7,262.1h-2M746.7,262.1h1.6M420.7,253.4h-4.3M746.7,253.4h3.44M420.7,244.7h-2M746.7,244.7h1.6M420.7,236h-4.3M746.7,236h3.44M420.7,227.3h-2M746.7,227.3h1.6M420.7,218.6h-4.3M746.7,218.6h3.44M420.7,209.9h-2M746.7,209.9h1.6M420.7,201.2h-4.3M746.7,201.2h3.44"/>
<path class="xtk" d="M426.13,340.4v4.3M431.57,340.4v4.3M437,340.4v4.3M447.87,340.4v4.3M453.3,340.4v4.3M458.73,340.4v4.3M469.6,340.4v4.3M475.03,340.4v4.3M480.47,340.4v4.3M491.33,340.4v4.3M496.77,340.4v4.3M502.2,340.4v4.3M513.07,340.4v4.3M518.5,340.4v4.3M523.93,340.4v4.3M534.8,340.4v4.3M540.23,340.4v4.3M545.67,340.4v4.3M556.53,340.4v4.3M561.97,340.4v4.3M567.4,340.4v4.3M578.27,340.4v4.3M583.7,340.4v4.3M589.13,340.4v4.3M600,340.4v4.3M605.43,340.4v4.3M610.87,340.4v4.3M621.73,340.4v4.3M627.17,340.4v4.3M632.6,340.4v4.3M643.47,340.4v4.3M648.9,340.4v4.3M654.33,340.4v4.3M665.2,340.4v4.3M670.63,340.4v4.3M676.07,340.4v4.3M686.93,340.4v4.3M692.37,340.4v4.3M697.8,340.4v4.3M708.67,340.4v4.3M714.1,340.4v4.3M719.53,340.4v4.3M730.4,340.4v4.3M735.83,340.4v4.3M741.27,340.4v4.3"/>
<text class="z" x="420.1" y="345.6" text-anchor="middle">00</text>
<text class="z" x="441.83" y="345.6" text-anchor="middle">00</text>
<text class="z" x="463.57" y="345.6" text-anchor="middle">00</text>
<text class="z" x="485.3" y="345.6" text-anchor="middle">00</text>
<text class="z" x="507.03" y="345.6" text-anchor="middle">00</text>
<text class="z" x="528.77" y="345.6" text-anchor="middle">00</text>
<text class="z" x="550.5" y="345.6" text-anchor="middle">00</text>
<text class="z" x="572.23" y="345.6" text-anchor="middle">00</text>
<text class="z" x="593.97" y="345.6" text-anchor="middle">00</text>
<text class="z" x="615.7" y="345.6" text-anchor="middle">00</text>
<text class="z" x="637.43" y="345.6" text-anchor="middle">00</text>
<text class="z" x="659.17" y="345.6" text-anchor="middle">00</text>
<text class="z" x="680.9" y="345.6" text-anchor="middle">00</text>
<text class="z" x="702.63" y="345.6" text-anchor="middle">00</text>
<text class="z" x="724.37" y="345.6" text-anchor="middle">00</text>
<text class="z" x="746.1" y="345.6" text-anchor="middle">00</text>
<text class="dy" x="431.77" y="350.8" text-anchor="middle">Do</text>
<text class="dy" x="453.5" y="350.8" text-anchor="middle">Vr</text>
<text class="dy" x="475.23" y="350.8" text-anchor="middle">Za</text>
<text class="dy" x="496.97" y="350.8" text-anchor="middle">Zo</text>
<text class="dy" x="518.7" y="350.8" text-anchor="middle">Ma</text>
<text class="dy" x="540.43" y="350.8" text-anchor="middle">Di</text>
<text class="dy" x="562.17" y="350.8" text-anchor="middle">Wo</text>
<text class="dy" x="583.9" y="350.8" text-anchor="middle">Do</text>
<text class="dy" x="605.63" y="350.8" text-anchor="middle">Vr</text>
<text class="dy" x="627.37" y="350.8" text-anchor="middle">Za</text>
<text class="dy" x="649.1" y="350.8" text-anchor="middle">Zo</text>
<text class="dy" x="670.83" y="350.8" text-anchor="middle">Ma</text>
<text class="dy" x="692.57" y="350.8" text-anchor="middle">Di</text>
<text class="dy" x="714.3" y="350.8" text-anchor="middle">Wo</text>
<text class="dy" x="736.03" y="350.8" text-anchor="middle">Do</text>
<text class="xl" x="583.7" y="361.7" text-anchor="middle">Dag</text>
<text class="yl" transform="translate(403.9,270.8) scale(1.2,1) rotate(-90)" text-anchor="middle">m/s</text>
<line class="ctrl" style="stroke:#1010ff;stroke-width:0.9px;stroke-dasharray:3.9 2.1" x1="423" x2="445" y1="209.4" y2="209.4"/>
<line class="oper" style="stroke:#ff3c3c;stroke-width:1.5px" x1="423" x2="445" y1="216.1" y2="216.1"/>
<line class="mean lg" x1="423" x2="445" y1="222.5" y2="222.5"/>
<text class="lg" x="467.7" y="212" text-anchor="middle">Control</text>
<text class="lg" x="467.7" y="218.4" text-anchor="middle">Oper</text>
<text class="lg" x="467.7" y="225.1" text-anchor="middle">Ens mn</text>
<text class="st" x="707.8" y="211.2" text-anchor="middle">De Bilt</text>
<text class="st" x="707.8" y="222" text-anchor="middle">Windstoten</text>
<text class="br" x="698.9" y="362.1" textLength="62.4" lengthAdjust="spacing">Bron: ECMWF/KNMI</text>
</g>
<g>
<text class="ttl" style="font-size:10.8px" y="380.9"><tspan x="69.7" textLength="52.8" lengthAdjust="spacing"><tspan class="b">D</tspan>onderdag</tspan> <tspan x="129.4" textLength="4.6" lengthAdjust="spacing">2</tspan> <tspan x="138.1" textLength="39.9" lengthAdjust="spacing"><tspan class="b">F</tspan>ebruari</tspan> <tspan x="185.6" textLength="21.9" lengthAdjust="spacing">2012</tspan> <tspan x="215.2" textLength="37.4" lengthAdjust="spacing">(starttijd</tspan> <tspan x="261.3" textLength="13.2" lengthAdjust="spacing"><tspan class="b">D</tspan>o</tspan> <tspan x="278" textLength="10.4" lengthAdjust="spacing">00</tspan> <tspan x="293.3" textLength="22.9" lengthAdjust="spacing"><tspan class="b">UTC</tspan>)</tspan></text>
<clipPath id="c4"><rect x="32.6" y="384.8" width="326.6" height="140.4"/></clipPath>
<g clip-path="url(#c4)">
<path class="mem" d="M38,479.7L43.5,467.1L48.9,473.9L54.3,476.2L59.8,480.4L65.2,457.7L70.6,458.9L76.1,468.7L81.5,478.5L86.9,460.1L92.4,471.9L97.8,476L103.2,471L108.7,461L114.1,469L119.5,467.1L125,470L130.4,460.9L135.8,478.1L141.3,475.8L146.7,478.5L152.1,466.5L157.6,480.9L163,488.7L168.4,481.1L173.9,445.3L179.3,463.8L184.7,471.5L190.2,452.7L195.6,448.1L201,447.8L206.5,460.4L211.9,462.6L217.3,444.9L222.8,445L228.2,441.9L233.6,439.7L239.1,423.5L244.5,437.8L249.9,456.1L255.4,434.2L260.8,429.4L266.2,445.8L271.7,449.4L277.1,454L282.5,440.2L288,450.3L293.4,450L298.8,439.9L304.3,442.6L309.7,441.9L315.1,436.5L320.6,442.1L326,421.6L331.4,429.9L336.9,427.6L342.3,435L347.7,431.5L353.2,432.5L358.6,434.9M38,477.6L43.5,465.5L48.9,471.9L54.3,474.2L59.8,477.5L65.2,456.9L70.6,459.2L76.1,471.8L81.5,477.5L86.9,462L92.4,470.7L97.8,476.2L103.2,463.9L108.7,450.5L114.1,456.6L119.5,442.6L125,463.9L130.4,460.9L135.8,460.1L141.3,460.8L146.7,457.6L152.1,452.1L157.6,452.8L163,449.6L168.4,448L173.9,445.6L179.3,461.4L184.7,448.4L190.2,434.6L195.6,444.4L201,458.6L206.5,474.1L211.9,479.7L217.3,463.8L222.8,469L228.2,470.2L233.6,457.8L239.1,454.7L244.5,490.7L249.9,493.5L255.4,493.9L260.8,480.8L266.2,454.4L271.7,461.2L277.1,459.5L282.5,439.4L288,446.6L293.4,446.4L298.8,449.9L304.3,439.7L309.7,457L315.1,462.6L320.6,459.6L326,432.1L331.4,430.8L336.9,424.3L342.3,424.5L347.7,420.3L353.2,430.4L358.6,438.7M38,478.6L43.5,466.2L48.9,472.5L54.3,475L59.8,479.5L65.2,458.3L70.6,461L76.1,484L81.5,480.8L86.9,462.3L92.4,474.1L97.8,485L103.2,477.9L108.7,463L114.1,470L119.5,481.2L125,482.7L130.4,462.8L135.8,467.1L141.3,471.9L146.7,464.5L152.1,456.7L157.6,462.2L163,466.6L168.4,478.7L173.9,446.1L179.3,439.5L184.7,451.8L190.2,455.4L195.6,443.1L201,462.2L206.5,466.6L211.9,462.4L217.3,457.5L222.8,454.8L228.2,460.9L233.6,471.4L239.1,447.8L244.5,449.9L249.9,449.2L255.4,452.4L260.8,445.7L266.2,446.8L271.7,458.4L277.1,456.7L282.5,434.5L288,434.2L293.4,428.9L298.8,441.3L304.3,440.6L309.7,451.5L315.1,453.2L320.6,445.5L326,440.4L331.4,463.5L336.9,441.6L342.3,439.5L347.7,436.2L353.2,442.1L358.6,440.4M38,478.5L43.5,466.6L48.9,473.7L54.3,476.4L59.8,479.5L65.2,459.3L70.6,458.1L76.1,470.7L81.5,479.3L86.9,464L92.4,473.6L97.8,479.1L103.2,472.8L108.7,459.6L114.1,457.8L119.5,461.5L125,472.1L130.4,463.8L135.8,477.2L141.3,478.2L146.7,475.2L152.1,456.4L157.6,459.5L163,469.8L168.4,482.2L173.9,463.8L179.3,458.5L184.7,441.2L190.2,445.1L195.6,449.9L201,458.6L206.5,455.9L211.9,450.8L217.3,444.7L222.8,456.6L228.2,456.5L233.6,453.1L239.1,441.6L244.5,466.9L249.9,456.8L255.4,453.5L260.8,446.8L266.2,456.9L271.7,457L277.1,465L282.5,454.5L288,463.1L293.4,470.4L298.8,472.5L304.3,454.1L309.7,437L315.1,445.5L320.6,451.2L326,436.5L331.4,430L336.9,454L342.3,446L347.7,434.2L353.2,449.3L358.6,458.9M38,479.3L43.5,466.1L48.9,472.8L54.3,474.6L59.8,478.1L65.2,456.4L70.6,457.8L76.1,472L81.5,479.8L86.9,463.1L92.4,472.3L97.8,485.4L103.2,483.9L108.7,467.3L114.1,478.8L119.5,484.3L125,489.4L130.4,469.6L135.8,486.3L141.3,479.1L146.7,482.9L152.1,459.6L157.6,461.3L163,479.1L168.4,481L173.9,472.8L179.3,483.1L184.7,473.9L190.2,475.2L195.6,453L201,441.7L206.5,454.3L211.9,443.3L217.3,422.8L222.8,432.7L228.2,438.5L233.6,438L239.1,423L244.5,418.3L249.9,419.5L255.4,421.5L260.8,441L266.2,446.6L271.7,448L277.1,453.9L282.5,433.7L288,449.2L293.4,455.9L298.8,452.7L304.3,443.1L309.7,453.1L315.1,468.1L320.6,445L326,436.1L331.4,430.3L336.9,437L342.3,421.6L347.7,412.1L353.2,417.5L358.6,422.7M38,477.8L43.5,465.9L48.9,472.5L54.3,474.9L59.8,477.2L65.2,446.2L70.6,452.1L76.1,468.6L81.5,476.7L86.9,461.9L92.4,469.8L97.8,469L103.2,451.5L108.7,460.3L114.1,468.3L119.5,476.8L125,471.8L130.4,463.2L135.8,474.4L141.3,472.7L146.7,458.9L152.1,461.6L157.6,472.8L163,462.9L168.4,464.5L173.9,450L179.3,438.9L184.7,438.5L190.2,420.7L195.6,417.1L201,420.7L206.5,436.8L211.9,435.5L217.3,422.5L222.8,425.6L228.2,494.7L233.6,504.6L239.1,494.7L244.5,435.6L249.9,432.7L255.4,439.7L260.8,451.3L266.2,443.5L271.7,437.3L277.1,438.7L282.5,422.6L288,419.8L293.4,434.3L298.8,452.5L304.3,437.6L309.7,456.7L315.1,450.5L320.6,449.3L326,450.5L331.4,436L336.9,444.2L342.3,437.7L347.7,423.6L353.2,423.4L358.6,441M38,478.5L43.5,466.3L48.9,473.8L54.3,475.6L59.8,479.4L65.2,461.6L70.6,457.2L76.1,471.2L81.5,477.9L86.9,463.4L92.4,472.1L97.8,474.4L103.2,474.7L108.7,464.9L114.1,472.1L119.5,478.9L125,475.7L130.4,460.1L135.8,467.6L141.3,467.8L146.7,448.6L152.1,456.3L157.6,457.1L163,455L168.4,449L173.9,440.9L179.3,446.7L184.7,465.7L190.2,467.9L195.6,432.5L201,450.1L206.5,447.8L211.9,446.9L217.3,433.4L222.8,437.9L228.2,441.4L233.6,442.2L239.1,441.2L244.5,434.6L249.9,437.2L255.4,433.4L260.8,434.5L266.2,448.4L271.7,463.3L277.1,486L282.5,467.1L288,479.2L293.4,449.8L298.8,431.3L304.3,424.5L309.7,431.4L315.1,438.6L320.6,447.1L326,430.2L331.4,432L336.9,458.4L342.3,441.9L347.7,425L353.2,421.4L358.6,420.7M38,477.8L43.5,465.7L48.9,473.2L54.3,475.4L59.8,477.6L65.2,447.8L70.6,455L76.1,469.6L81.5,478.1L86.9,461.8L92.4,474.1L97.8,474.9L103.2,472.5L108.7,461L114.1,464.5L119.5,453.3L125,458.5L130.4,459.1L135.8,467.3L141.3,465.8L146.7,462.3L152.1,456.2L157.6,461L163,463.2L168.4,478L173.9,465.9L179.3,478.3L184.7,470.2L190.2,469.9L195.6,447.6L201,460.3L206.5,459.1L211.9,452.3L217.3,443.8L222.8,448.4L228.2,460.7L233.6,459.9L239.1,431.3L244.5,449.7L249.9,449.6L255.4,443.5L260.8,435.9L266.2,448.5L271.7,468L277.1,474.8L282.5,459.4L288,467.4L293.4,451.6L298.8,457.3L304.3,448.5L309.7,449.4L315.1,451.5L320.6,448.3L326,428.7L331.4,445.8L336.9,454L342.3,462.1L347.7,439.4L353.2,469.2L358.6,458.9M38,478.1L43.5,466.4L48.9,472.8L54.3,475.8L59.8,479.5L65.2,460.5L70.6,464.8L76.1,486.3L81.5,480.4L86.9,463.6L92.4,472.5L97.8,475.4L103.2,473.4L108.7,460.3L114.1,467.4L119.5,473.6L125,476.1L130.4,448L135.8,464.1L141.3,454.1L146.7,470.8L152.1,450.2L157.6,455.4L163,457.4L168.4,451.7L173.9,444.8L179.3,452.7L184.7,465.6L190.2,453.5L195.6,446.8L201,455.1L206.5,464.5L211.9,449.5L217.3,427.6L222.8,440.4L228.2,446.6L233.6,457.8L239.1,443.1L244.5,450.1L249.9,448.7L255.4,448.8L260.8,437.2L266.2,428.2L271.7,450.3L277.1,445.3L282.5,431.3L288,446.1L293.4,442.9L298.8,452.1L304.3,441L309.7,443.2L315.1,447.2L320.6,446.7L326,448L331.4,434.2L336.9,430.6L342.3,430L347.7,425.3L353.2,424.9L358.6,442.8M38,478.8L43.5,466.7L48.9,472.9L54.3,475.2L59.8,478.1L65.2,456.7L70.6,460.1L76.1,475.3L81.5,479.8L86.9,462L92.4,475L97.8,490.8L103.2,482.2L108.7,465.6L114.1,473.6L119.5,476.8L125,484.7L130.4,465.7L135.8,466.8L141.3,472.5L146.7,466.3L152.1,454.4L157.6,461.2L163,465.3L168.4,467.7L173.9,465.9L179.3,469.2L184.7,461.6L190.2,443.1L195.6,448.5L201,471.3L206.5,484.1L211.9,467.1L217.3,451.5L222.8,459.8L228.2,471.3L233.6,496.7L239.1,484.3L244.5,485.7L249.9,458.2L255.4,501.8L260.8,482.7L266.2,502.2L271.7,510.6L277.1,515.8L282.5,482.7L288,443L293.4,439.5L298.8,440.3L304.3,436.6L309.7,449.5L315.1,463.2L320.6,451.8L326,437.5L331.4,444.1L336.9,445.3L342.3,450L347.7,431.5L353.2,429.1L358.6,432.3M38,478.9L43.5,466.3L48.9,472.5L54.3,475.1L59.8,478.5L65.2,456.5L70.6,457.6L76.1,470.3L81.5,479.4L86.9,460.8L92.4,468.3L97.8,473.2L103.2,472.2L108.7,462.7L114.1,467.9L119.5,478.2L125,477.2L130.4,444.2L135.8,457.5L141.3,466.5L146.7,461L152.1,461.5L157.6,466.8L163,464.8L168.4,458.9L173.9,448.3L179.3,451.5L184.7,452.1L190.2,465.1L195.6,445.9L201,455.7L206.5,457.3L211.9,447.8L217.3,444.2L222.8,452.2L228.2,443.7L233.6,436.3L239.1,418.5L244.5,419.5L249.9,428.6L255.4,418.3L260.8,420.1L266.2,426.2L271.7,450.5L277.1,441L282.5,422.7L288,425.5L293.4,429.5L298.8,441.4L304.3,446.6L309.7,446.1L315.1,435.1L320.6,439.1L326,431L331.4,439.2L336.9,427.7L342.3,426.3L347.7,430.8L353.2,434.1L358.6,440.7M38,478.4L43.5,466.6L48.9,473.9L54.3,476L59.8,478.4L65.2,456.4L70.6,452L76.1,469.5L81.5,478.3L86.9,462L92.4,470.3L97.8,482.2L103.2,473.1L108.7,457.8L114.1,464.1L119.5,469.4L125,452.1L130.4,436.7L135.8,439L141.3,440.2L146.7,436.6L152.1,429L157.6,448.3L163,455.7L168.4,462.1L173.9,447.3L179.3,442.3L184.7,434.9L190.2,458.2L195.6,443.6L201,447.5L206.5,458L211.9,449.6L217.3,444.8L222.8,450.3L228.2,456.3L233.6,448.3L239.1,428.8L244.5,420.6L249.9,433.9L255.4,441.9L260.8,437.2L266.2,448.7L271.7,456.1L277.1,453.3L282.5,437.5L288,442.2L293.4,464.3L298.8,463.6L304.3,439.9L309.7,436.9L315.1,434.2L320.6,435.6L326,438.9L331.4,455L336.9,447.3L342.3,441.4L347.7,425.3L353.2,424.7L358.6,436.7M38,478.3L43.5,466.2L48.9,472.6L54.3,475.1L59.8,478.1L65.2,452.6L70.6,451.7L76.1,468.6L81.5,478.1L86.9,461.9L92.4,473.2L97.8,475.4L103.2,477L108.7,455.5L114.1,467.7L119.5,472.9L125,483.3L130.4,470.4L135.8,487.5L141.3,484.2L146.7,468.8L152.1,447.3L157.6,460.6L163,465.9L168.4,477.8L173.9,461.4L179.3,460.4L184.7,463.6L190.2,445.4L195.6,443.9L201,444.2L206.5,442.6L211.9,437.8L217.3,430.8L222.8,440.5L228.2,441.6L233.6,442.8L239.1,432.8L244.5,452L249.9,464.8L255.4,456.9L260.8,451.5L266.2,458L271.7,461L277.1,455.8L282.5,441.3L288,432.1L293.4,440.1L298.8,436.1L304.3,420.5L309.7,419.5L315.1,419.5L320.6,418.3L326,415.9L331.4,419.5L336.9,420.8L342.3,417.1L347.7,407.6L353.2,412.1L358.6,411.9M38,477.9L43.5,465.9L48.9,471.6L54.3,473.6L59.8,477.4L65.2,454.7L70.6,456L76.1,467.5L81.5,479.1L86.9,461.4L92.4,472.4L97.8,474.1L103.2,475L108.7,458.6L114.1,468.5L119.5,469.7L125,478.5L130.4,461.3L135.8,466.7L141.3,472.7L146.7,466.1L152.1,447.1L157.6,455.1L163,443.2L168.4,439.4L173.9,425.4L179.3,438.7L184.7,462.7L190.2,467.4L195.6,450.9L201,451.2L206.5,436.6L211.9,431.9L217.3,421.4L222.8,435.5L228.2,450.6L233.6,454L239.1,445L244.5,450.4L249.9,456.4L255.4,456.8L260.8,442.1L266.2,445.4L271.7,447.6L277.1,454.4L282.5,430.4L288,423.8L293.4,445.5L298.8,457L304.3,435.6L309.7,456.3L315.1,487.5L320.6,494.9L326,470.8L331.4,434.9L336.9,436.9L342.3,438.2L347.7,431.9L353.2,422.2L358.6,426.1M38,478.6L43.5,466.5L48.9,472.5L54.3,474.8L59.8,477.7L65.2,452.7L70.6,457.2L76.1,467.4L81.5,474.5L86.9,459.2L92.4,467.7L97.8,468.1L103.2,472.2L108.7,464.4L114.1,474.4L119.5,476.3L125,477.4L130.4,462L135.8,466.5L141.3,474.9L146.7,490.2L152.1,459.5L157.6,477.2L163,485.4L168.4,474.3L173.9,457.6L179.3,476.3L184.7,475.6L190.2,471.2L195.6,456.4L201,462.3L206.5,468.9L211.9,457.5L217.3,444.6L222.8,467.9L228.2,468.2L233.6,459.1L239.1,454.8L244.5,463.7L249.9,457.1L255.4,454L260.8,451.5L266.2,464.3L271.7,454.7L277.1,457L282.5,455.5L288,449.4L293.4,440.7L298.8,445.5L304.3,439.3L309.7,446L315.1,448L320.6,449.2L326,439.7L331.4,468.6L336.9,453.9L342.3,441L347.7,423.9L353.2,416.1L358.6,422M38,479.2L43.5,466.8L48.9,472.7L54.3,475.8L59.8,478.7L65.2,459.8L70.6,465.6L76.1,485.1L81.5,482.7L86.9,464.5L92.4,473.6L97.8,474.4L103.2,473.7L108.7,463L114.1,472.3L119.5,475.8L125,479.3L130.4,465L135.8,467.6L141.3,472.2L146.7,451.8L152.1,446.1L157.6,451L163,439L168.4,429L173.9,424.3L179.3,428.4L184.7,444.3L190.2,440.3L195.6,433.2L201,450.5L206.5,467.1L211.9,467.1L217.3,454.9L222.8,458.9L228.2,475.1L233.6,467.2L239.1,452.2L244.5,471.3L249.9,470.3L255.4,465.6L260.8,461.1L266.2,488.7L271.7,479.8L277.1,488.7L282.5,475.4L288,474.9L293.4,459.8L298.8,452.2L304.3,434.1L309.7,443.5L315.1,447.7L320.6,453.9L326,437.9L331.4,439.4L336.9,442.8L342.3,449L347.7,436.1L353.2,436.2L358.6,447.1M38,478.4L43.5,466.5L48.9,472.6L54.3,475.9L59.8,478.1L65.2,455.2L70.6,455.3L76.1,466L81.5,474.8L86.9,462.1L92.4,473.5L97.8,479.2L103.2,480.7L108.7,463.4L114.1,463.4L119.5,474.8L125,473.9L130.4,463.2L135.8,470L141.3,472.2L146.7,482.4L152.1,462.2L157.6,467.7L163,464.3L168.4,472.7L173.9,460.2L179.3,440.8L184.7,457L190.2,451.4L195.6,447.6L201,454.4L206.5,446.1L211.9,444.3L217.3,427.8L222.8,434.6L228.2,446.9L233.6,441.5L239.1,436.7L244.5,447.8L249.9,455.9L255.4,456.3L260.8,450.4L266.2,455.1L271.7,465.5L277.1,457.7L282.5,433.2L288,427.1L293.4,421.9L298.8,424.5L304.3,419.6L309.7,428.7L315.1,433L320.6,439.8L326,425.5L331.4,433.8L336.9,433.9L342.3,421.4L347.7,415.8L353.2,415.9L358.6,417.1M38,477.7L43.5,465.7L48.9,472.5L54.3,473.8L59.8,478L65.2,457.6L70.6,454.3L76.1,468.8L81.5,477.6L86.9,459.6L92.4,469.6L97.8,487.6L103.2,480.5L108.7,464.9L114.1,472.6L119.5,476.4L125,487.9L130.4,462.5L135.8,476.9L141.3,478.7L146.7,479.9L152.1,458.4L157.6,464.3L163,472.5L168.4,467L173.9,459.9L179.3,467.8L184.7,476L190.2,478.7L195.6,452.4L201,453.5L206.5,452.7L211.9,453.9L217.3,443.4L222.8,447.6L228.2,463L233.6,460.1L239.1,427.2L244.5,431.4L249.9,436.5L255.4,421.7L260.8,411.9L266.2,416.1L271.7,418.3L277.1,418.3L282.5,415.9L288,420.6L293.4,422.3L298.8,434.6L304.3,423.9L309.7,434.6L315.1,437.6L320.6,441.2L326,437.3L331.4,428.9L336.9,421.5L342.3,419.7L347.7,422.5L353.2,421.6L358.6,431.4M38,478.7L43.5,466.3L48.9,472.5L54.3,474L59.8,477.4L65.2,457.8L70.6,462.5L76.1,476.7L81.5,479L86.9,461.7L92.4,469.2L97.8,466.7L103.2,462.4L108.7,452.8L114.1,461.2L119.5,455.5L125,447.4L130.4,454.9L135.8,468L141.3,469.2L146.7,474.3L152.1,466L157.6,463.9L163,480.3L168.4,488.9L173.9,447.4L179.3,449.6L184.7,446.9L190.2,425.6L195.6,439.2L201,446.5L206.5,461.9L211.9,452.3L217.3,444.2L222.8,450.9L228.2,459.1L233.6,444.5L239.1,441.5L244.5,438.9L249.9,464.6L255.4,440.6L260.8,431.5L266.2,444.5L271.7,440.2L277.1,444.9L282.5,443.9L288,446L293.4,451.8L298.8,463.1L304.3,441.1L309.7,451.2L315.1,448.4L320.6,457.3L326,442.8L331.4,473.7L336.9,450.3L342.3,432.2L347.7,418.8L353.2,414.2L358.6,434.8M38,479L43.5,466.7L48.9,473.5L54.3,475.1L59.8,477.4L65.2,447.5L70.6,450.8L76.1,475.6L81.5,479.6L86.9,462.2L92.4,473.8L97.8,492.5L103.2,474.6L108.7,461.6L114.1,467.2L119.5,472.8L125,473.2L130.4,429L135.8,467.9L141.3,472.2L146.7,486.9L152.1,468.1L157.6,481.2L163,466.8L168.4,480.5L173.9,458L179.3,445.4L184.7,457.9L190.2,460.6L195.6,443.1L201,454.9L206.5,457.6L211.9,457.2L217.3,446.3L222.8,453.4L228.2,459.8L233.6,463.3L239.1,446.2L244.5,471.6L249.9,474.4L255.4,453.7L260.8,441L266.2,450.2L271.7,451.1L277.1,438.4L282.5,418.5L288,429.1L293.4,441.8L298.8,452.5L304.3,441.9L309.7,440.1L315.1,434.6L320.6,427.7L326,420.4L331.4,438.7L336.9,443.5L342.3,441.9L347.7,427.8L353.2,437.6L358.6,444.9M38,478.8L43.5,465.7L48.9,472.4L54.3,474.6L59.8,477.5L65.2,450.9L70.6,452L76.1,467.7L81.5,479.3L86.9,463.3L92.4,472.5L97.8,472.1L103.2,463.9L108.7,458.6L114.1,465.8L119.5,463.4L125,473.5L130.4,459.2L135.8,467.8L141.3,470.3L146.7,466.3L152.1,455.8L157.6,462.9L163,476L168.4,467.1L173.9,450.4L179.3,453.9L184.7,434.3L190.2,421.8L195.6,427.2L201,459.2L206.5,472.8L211.9,457.2L217.3,449.1L222.8,456.7L228.2,460.5L233.6,477.9L239.1,459L244.5,470.1L249.9,465.1L255.4,459L260.8,446L266.2,455.5L271.7,470.9L277.1,458.4L282.5,466.3L288,460.1L293.4,449.4L298.8,439.4L304.3,435.8L309.7,442.8L315.1,442.8L320.6,445.2L326,437.7L331.4,436.9L336.9,436.8L342.3,448.5L347.7,435L353.2,438.8L358.6,442.8M38,479.2L43.5,466.4L48.9,472.6L54.3,475.5L59.8,478.6L65.2,460.8L70.6,461.4L76.1,477L81.5,479.9L86.9,465.8L92.4,475.6L97.8,492.6L103.2,461.5L108.7,456.7L114.1,464.8L119.5,465.6L125,481.3L130.4,465.9L135.8,478.4L141.3,486L146.7,494.9L152.1,474.4L157.6,466.6L163,477.3L168.4,477L173.9,466.7L179.3,469.4L184.7,465.3L190.2,468.6L195.6,450.6L201,454.5L206.5,459.4L211.9,459.3L217.3,449L222.8,457.5L228.2,460.4L233.6,458.2L239.1,458.1L244.5,467.3L249.9,458.1L255.4,465.3L260.8,451.3L266.2,451.3L271.7,457.9L277.1,448.7L282.5,453.9L288,448.4L293.4,454.1L298.8,485.1L304.3,457.6L309.7,468.6L315.1,449.1L320.6,452.5L326,429L331.4,440.9L336.9,439.2L342.3,449.7L347.7,429.7L353.2,431.8L358.6,422.8M38,479.3L43.5,467L48.9,474.7L54.3,475L59.8,479.4L65.2,462.1L70.6,457.2L76.1,470.5L81.5,477.9L86.9,460.7L92.4,469.5L97.8,474.6L103.2,478.2L108.7,463.7L114.1,454.5L119.5,479.3L125,485.7L130.4,464.4L135.8,467.7L141.3,475.7L146.7,471.7L152.1,447.3L157.6,463.9L163,466.6L168.4,480.8L173.9,468.8L179.3,452.9L184.7,444.5L190.2,442L195.6,445.3L201,436.3L206.5,442.6L211.9,439.7L217.3,426.6L222.8,418.6L228.2,420.7L233.6,419.5L239.1,426L244.5,443.4L249.9,455.9L255.4,448.7L260.8,437.7L266.2,455.4L271.7,456.7L277.1,457.2L282.5,431.3L288,445.7L293.4,449.7L298.8,452.5L304.3,442L309.7,427.6L315.1,436.9L320.6,441.8L326,435.9L331.4,443.8L336.9,463.9L342.3,461.3L347.7,435.4L353.2,438.1L358.6,446.8M38,477.9L43.5,466.1L48.9,474.4L54.3,476.1L59.8,479.8L65.2,458.4L70.6,454.9L76.1,469.9L81.5,476L86.9,460.2L92.4,472L97.8,472.6L103.2,468.2L108.7,456.8L114.1,466.7L119.5,467.5L125,474.2L130.4,460.5L135.8,481.1L141.3,478.9L146.7,491.6L152.1,464.3L157.6,464.7L163,477.2L168.4,471.6L173.9,469L179.3,487.5L184.7,471.6L190.2,483.5L195.6,459.6L201,465.3L206.5,467.7L211.9,462.6L217.3,455.4L222.8,455.4L228.2,456.3L233.6,455.6L239.1,446.9L244.5,479.1L249.9,458.2L255.4,465.4L260.8,464.6L266.2,460.3L271.7,457.5L277.1,462.6L282.5,460.3L288,455.7L293.4,464.8L298.8,481.2L304.3,468L309.7,468.9L315.1,465.9L320.6,452.4L326,442.1L331.4,448.5L336.9,444.9L342.3,442L347.7,433.2L353.2,441.8L358.6,441.3M38,477.8L43.5,465.6L48.9,472.1L54.3,475L59.8,476.4L65.2,451.5L70.6,447.3L76.1,464.4L81.5,474L86.9,457.1L92.4,466L97.8,462.9L103.2,462.6L108.7,447.1L114.1,457.7L119.5,470.8L125,448.3L130.4,442.1L135.8,459.4L141.3,460.3L146.7,438.9L152.1,450.6L157.6,456.2L163,451.1L168.4,468.7L173.9,443.8L179.3,453.2L184.7,462.1L190.2,472L195.6,457.2L201,480L206.5,473.5L211.9,455.6L217.3,467.2L222.8,483.9L228.2,468.5L233.6,467.1L239.1,456.2L244.5,468.1L249.9,465.4L255.4,448.2L260.8,427.9L266.2,438.2L271.7,441.8L277.1,442.9L282.5,439.9L288,462.2L293.4,474.9L298.8,453.9L304.3,439.6L309.7,461.4L315.1,473.6L320.6,457.1L326,443.5L331.4,444.1L336.9,456.5L342.3,468.4L347.7,452L353.2,446.8L358.6,455.1M38,478.9L43.5,466.2L48.9,472.5L54.3,475.7L59.8,478.3L65.2,457.1L70.6,457.8L76.1,470.1L81.5,477.9L86.9,461.8L92.4,470.8L97.8,460.9L103.2,451.6L108.7,428.2L114.1,449.5L119.5,467.5L125,470.6L130.4,463.8L135.8,474.4L141.3,483.6L146.7,484.9L152.1,474.1L157.6,487.8L163,465.9L168.4,476.3L173.9,455.8L179.3,461L184.7,463L190.2,466L195.6,438.8L201,441.6L206.5,447.6L211.9,440.2L217.3,421.1L222.8,436.7L228.2,450.1L233.6,435.1L239.1,430.1L244.5,446.4L249.9,442.5L255.4,453.8L260.8,447.5L266.2,462.6L271.7,446.6L277.1,448.5L282.5,427.1L288,427.6L293.4,434.4L298.8,452.1L304.3,426L309.7,429.3L315.1,425.8L320.6,431.6L326,427.9L331.4,429.3L336.9,432.7L342.3,428.8L347.7,424.3L353.2,438.4L358.6,452M38,479.1L43.5,466.4L48.9,473.2L54.3,475.4L59.8,477.3L65.2,450.9L70.6,454L76.1,469.7L81.5,475.3L86.9,460.8L92.4,465.6L97.8,472L103.2,476.2L108.7,461.2L114.1,465L119.5,465.7L125,474.9L130.4,431.4L135.8,458.5L141.3,467.1L146.7,463.3L152.1,454.6L157.6,460.6L163,454.8L168.4,443.3L173.9,451.9L179.3,460.5L184.7,450L190.2,445.9L195.6,428L201,445L206.5,447.5L211.9,446.7L217.3,444.7L222.8,444.7L228.2,461L233.6,456.3L239.1,431.4L244.5,433.4L249.9,444.9L255.4,450.6L260.8,442.5L266.2,445.2L271.7,448.7L277.1,441.4L282.5,434.4L288,435.5L293.4,432.2L298.8,449.1L304.3,433.4L309.7,433.7L315.1,435.2L320.6,437L326,427.9L331.4,427.9L336.9,419.5L342.3,425.5L347.7,421.6L353.2,435.5L358.6,441.5M38,478.1L43.5,466.5L48.9,474.5L54.3,476.8L59.8,479.7L65.2,461.1L70.6,462.4L76.1,477.5L81.5,480.4L86.9,468L92.4,476.6L97.8,491.4L103.2,477.8L108.7,461.3L114.1,465.8L119.5,475.5L125,476.9L130.4,462.6L135.8,467.2L141.3,476.8L146.7,485.9L152.1,465.2L157.6,475.1L163,483.4L168.4,476.8L173.9,460.5L179.3,458.8L184.7,467.6L190.2,487.5L195.6,468L201,485.1L206.5,487.5L211.9,474.1L217.3,476.8L222.8,477.4L228.2,459.6L233.6,466L239.1,444.5L244.5,471.5L249.9,471.2L255.4,462L260.8,452.1L266.2,448L271.7,442.3L277.1,455.4L282.5,450.2L288,462.8L293.4,471.2L298.8,464.6L304.3,461.7L309.7,475.4L315.1,487.5L320.6,458.8L326,442.9L331.4,460.2L336.9,447.1L342.3,441.8L347.7,435.5L353.2,436.4L358.6,457M38,479.3L43.5,467.3L48.9,475.1L54.3,476.4L59.8,479.5L65.2,460.3L70.6,459.5L76.1,476.4L81.5,480L86.9,463.1L92.4,475.1L97.8,494.9L103.2,480.3L108.7,465.9L114.1,477.6L119.5,480.1L125,471.8L130.4,451.1L135.8,470.4L141.3,481.9L146.7,488.4L152.1,474.4L157.6,483.3L163,467.6L168.4,468.5L173.9,456.7L179.3,471.9L184.7,467L190.2,451.9L195.6,430.5L201,440.6L206.5,455.6L211.9,446.5L217.3,447.1L222.8,479.8L228.2,492.3L233.6,471.5L239.1,457.4L244.5,457.2L249.9,460.7L255.4,452.7L260.8,452.3L266.2,454.7L271.7,468.3L277.1,464.9L282.5,447.3L288,463.9L293.4,467.7L298.8,460.5L304.3,444.7L309.7,456.4L315.1,458.3L320.6,445.6L326,436.1L331.4,433.1L336.9,436.3L342.3,436.8L347.7,427L353.2,438.1L358.6,433.8M38,480.4L43.5,467.3L48.9,474.3L54.3,476.2L59.8,478.5L65.2,458.7L70.6,461.4L76.1,479.1L81.5,481.7L86.9,468L92.4,479.2L97.8,490.9L103.2,478.4L108.7,465L114.1,468.7L119.5,479.5L125,481.5L130.4,451L135.8,465.4L141.3,477.5L146.7,480.4L152.1,456.1L157.6,459L163,463.9L168.4,463L173.9,451.6L179.3,453.4L184.7,445.4L190.2,460.1L195.6,434L201,437.7L206.5,448.1L211.9,443.4L217.3,430.6L222.8,428L228.2,440.4L233.6,443.3L239.1,432L244.5,438.6L249.9,447.6L255.4,437.7L260.8,427.3L266.2,415.9L271.7,422.5L277.1,430.4L282.5,430.7L288,429.8L293.4,428.5L298.8,433.6L304.3,425.9L309.7,431.2L315.1,428.8L320.6,427.6L326,425.8L331.4,428.1L336.9,432.3L342.3,431.3L347.7,422.6L353.2,418.6L358.6,422.3M38,479L43.5,466.1L48.9,472.1L54.3,473.8L59.8,477.2L65.2,453.6L70.6,457.3L76.1,470.3L81.5,479.8L86.9,463.1L92.4,473.2L97.8,478.6L103.2,467.2L108.7,461.4L114.1,467.1L119.5,471.8L125,473.5L130.4,463.6L135.8,468L141.3,477.9L146.7,472.7L152.1,457.8L157.6,477.2L163,473.3L168.4,482.3L173.9,466L179.3,471.2L184.7,471.4L190.2,465.1L195.6,448.8L201,451.9L206.5,452.4L211.9,444.5L217.3,435.4L222.8,450.1L228.2,450.5L233.6,436.5L239.1,433.7L244.5,440.4L249.9,455.8L255.4,451.3L260.8,444.3L266.2,470.3L271.7,474.4L277.1,466.3L282.5,441.1L288,436.8L293.4,438.3L298.8,449L304.3,439.1L309.7,446.8L315.1,447L320.6,448.8L326,435.4L331.4,437L336.9,438.5L342.3,452.1L347.7,431.4L353.2,419.7L358.6,421M38,478.9L43.5,466.6L48.9,475L54.3,476.5L59.8,479.2L65.2,461.6L70.6,461.2L76.1,472.6L81.5,480.1L86.9,464.4L92.4,473.9L97.8,482.4L103.2,473.4L108.7,462.4L114.1,458.5L119.5,473.7L125,474.7L130.4,455.4L135.8,455.8L141.3,459.1L146.7,476.6L152.1,470.5L157.6,475.8L163,477.9L168.4,477.7L173.9,458.7L179.3,460.7L184.7,463.9L190.2,448.1L195.6,437.6L201,449.5L206.5,456.7L211.9,453.5L217.3,452.8L222.8,439.8L228.2,479L233.6,470.7L239.1,456L244.5,453.1L249.9,463.6L255.4,460.2L260.8,437.2L266.2,460L271.7,458.1L277.1,468.3L282.5,454.9L288,449.9L293.4,449.5L298.8,451.3L304.3,431.2L309.7,442.6L315.1,440.5L320.6,438.9L326,439.2L331.4,455.6L336.9,469.8L342.3,475.3L347.7,465.6L353.2,463.6L358.6,451.4M38,478.7L43.5,467.4L48.9,475.2L54.3,476.5L59.8,478.1L65.2,458L70.6,458.4L76.1,467.3L81.5,479.2L86.9,463.4L92.4,475.2L97.8,483.2L103.2,475.7L108.7,465.8L114.1,474.2L119.5,475.4L125,465.8L130.4,437.5L135.8,455.4L141.3,464.8L146.7,479.7L152.1,452.3L157.6,458.6L163,466.7L168.4,464.1L173.9,451.2L179.3,462.4L184.7,462.4L190.2,469.7L195.6,449.1L201,454.4L206.5,466.1L211.9,461.9L217.3,472.2L222.8,463.1L228.2,455.9L233.6,471.6L239.1,450.9L244.5,455L249.9,438.1L255.4,423.7L260.8,415.9L266.2,426.3L271.7,438.6L277.1,438L282.5,420.9L288,425.3L293.4,432.7L298.8,441.1L304.3,432.6L309.7,442L315.1,446.3L320.6,446.6L326,446.5L331.4,446.2L336.9,437.9L342.3,441.7L347.7,442.1L353.2,433.9L358.6,434.5M38,478.9L43.5,466.7L48.9,473.2L54.3,475.6L59.8,478.2L65.2,455L70.6,458.7L76.1,468.8L81.5,476.7L86.9,461.4L92.4,472.3L97.8,477.9L103.2,470.8L108.7,463.1L114.1,463.9L119.5,461L125,446.7L130.4,447.3L135.8,466.9L141.3,464.1L146.7,448.8L152.1,460L157.6,479.1L163,467.7L168.4,461.2L173.9,456.1L179.3,463L184.7,457.4L190.2,450.7L195.6,432.9L201,454.6L206.5,458.9L211.9,462.5L217.3,451.6L222.8,463.2L228.2,471.9L233.6,469.5L239.1,452.2L244.5,473.2L249.9,472.8L255.4,464.5L260.8,443.8L266.2,459.3L271.7,459.7L277.1,464.7L282.5,440.5L288,459L293.4,461.4L298.8,455L304.3,439.4L309.7,460.3L315.1,474.8L320.6,490.7L326,468L331.4,482.7L336.9,486.7L342.3,485.1L347.7,452.5L353.2,450.9L358.6,450M38,479.9L43.5,466.9L48.9,474L54.3,475.2L59.8,479.7L65.2,457.6L70.6,458.3L76.1,471.9L81.5,478.9L86.9,461L92.4,473.3L97.8,475.4L103.2,473.4L108.7,463.9L114.1,472.1L119.5,473.1L125,478.9L130.4,463.6L135.8,479L141.3,472.4L146.7,468.5L152.1,463.9L157.6,478.9L163,481.2L168.4,482.5L173.9,461.2L179.3,465.9L184.7,462.5L190.2,462.8L195.6,447.6L201,460.4L206.5,474.5L211.9,487.5L217.3,449.7L222.8,456L228.2,456.4L233.6,433.5L239.1,413.9L244.5,426.4L249.9,433.4L255.4,438.6L260.8,429.1L266.2,437.9L271.7,439.5L277.1,453.6L282.5,444.5L288,453.1L293.4,461.3L298.8,460.2L304.3,440.3L309.7,442.6L315.1,447L320.6,463.4L326,459.6L331.4,445.9L336.9,450L342.3,448.6L347.7,429.9L353.2,435L358.6,437M38,477.9L43.5,465.9L48.9,472.6L54.3,475.3L59.8,478.4L65.2,455.5L70.6,450.3L76.1,479L81.5,480.8L86.9,466.8L92.4,476.5L97.8,494.4L103.2,486.3L108.7,469.2L114.1,480.4L119.5,476L125,486L130.4,463.8L135.8,481.9L141.3,501L146.7,497.7L152.1,468L157.6,475.1L163,466.8L168.4,457.1L173.9,446.4L179.3,443.6L184.7,451.7L190.2,464.8L195.6,441L201,454.8L206.5,460.7L211.9,447.3L217.3,437.3L222.8,421.2L228.2,433.4L233.6,433L239.1,417.8L244.5,429.4L249.9,439.1L255.4,435.7L260.8,442.4L266.2,451.5L271.7,453.4L277.1,451.2L282.5,436.9L288,432L293.4,425.6L298.8,441L304.3,430.6L309.7,431.2L315.1,430.5L320.6,435.8L326,425.9L331.4,425L336.9,420.1L342.3,431.4L347.7,425L353.2,411.9L358.6,419.2M38,478.5L43.5,467L48.9,475L54.3,476.3L59.8,479.2L65.2,456.3L70.6,456L76.1,470.2L81.5,480.2L86.9,465.2L92.4,473.3L97.8,471.7L103.2,447.3L108.7,427.2L114.1,436.6L119.5,448.7L125,451.4L130.4,444.4L135.8,454.4L141.3,460.5L146.7,456.7L152.1,446.6L157.6,444.7L163,458L168.4,459.8L173.9,450.2L179.3,455.5L184.7,462.1L190.2,459.9L195.6,436.8L201,441.7L206.5,449.6L211.9,447.6L217.3,438.5L222.8,445.5L228.2,453.2L233.6,456.8L239.1,462.5L244.5,489L249.9,480.9L255.4,466.8L260.8,443.6L266.2,450.3L271.7,456.9L277.1,463L282.5,455.8L288,470.8L293.4,471.8L298.8,444.6L304.3,430.4L309.7,437.9L315.1,431.7L320.6,434.4L326,422.5L331.4,436.1L336.9,437.7L342.3,441.5L347.7,433.8L353.2,437L358.6,448.5M38,478.6L43.5,466.5L48.9,472.8L54.3,474.9L59.8,478.4L65.2,461.3L70.6,462.7L76.1,477.1L81.5,479.4L86.9,461L92.4,472.3L97.8,474.1L103.2,466.9L108.7,454.2L114.1,464.8L119.5,469.5L125,466.5L130.4,455.5L135.8,466.8L141.3,465.6L146.7,448.2L152.1,449.1L157.6,440.2L163,443.4L168.4,441.6L173.9,437.1L179.3,444.1L184.7,440.9L190.2,447.3L195.6,453.5L201,465.9L206.5,468.3L211.9,452.5L217.3,431.9L222.8,449.7L228.2,447.4L233.6,454.8L239.1,441.9L244.5,448.5L249.9,455.2L255.4,444.7L260.8,434.1L266.2,447.5L271.7,454.5L277.1,453.7L282.5,425.3L288,430.3L293.4,426.6L298.8,428.2L304.3,417.1L309.7,421.6L315.1,420.2L320.6,423.7L326,419.4L331.4,426.3L336.9,426.8L342.3,424.2L347.7,420.5L353.2,422.6L358.6,434.6M38,478.2L43.5,466.2L48.9,472.8L54.3,475.4L59.8,478.9L65.2,461.3L70.6,458.2L76.1,477.5L81.5,479.5L86.9,464.3L92.4,473.8L97.8,486.8L103.2,480.4L108.7,460.9L114.1,459.1L119.5,467.5L125,467.7L130.4,460.7L135.8,468.6L141.3,486.7L146.7,489.7L152.1,471.7L157.6,466.7L163,462L168.4,473.5L173.9,460.4L179.3,465L184.7,472.6L190.2,476.3L195.6,450.6L201,459.3L206.5,447.8L211.9,443.7L217.3,443.7L222.8,477.8L228.2,458.5L233.6,456.5L239.1,441.7L244.5,460.3L249.9,455.8L255.4,448.3L260.8,440.2L266.2,458.6L271.7,490.7L277.1,463.7L282.5,438.2L288,461.5L293.4,475.8L298.8,466.3L304.3,445.2L309.7,447L315.1,450.9L320.6,434.6L326,435.6L331.4,458.8L336.9,446L342.3,438.2L347.7,430.5L353.2,434.3L358.6,445M38,479.7L43.5,467L48.9,474.5L54.3,476.3L59.8,479.5L65.2,458.9L70.6,455.8L76.1,472.4L81.5,479.1L86.9,462.7L92.4,473.6L97.8,479.3L103.2,472.6L108.7,463.1L114.1,468.7L119.5,474.2L125,480.1L130.4,466L135.8,487.2L141.3,477.2L146.7,474.2L152.1,466.8L157.6,471.1L163,476.9L168.4,469.5L173.9,458L179.3,467.1L184.7,467.4L190.2,480.2L195.6,449.7L201,460.3L206.5,470.5L211.9,459.5L217.3,438.7L222.8,451.8L228.2,448.8L233.6,446.7L239.1,441.4L244.5,446.4L249.9,427.9L255.4,441.8L260.8,433.1L266.2,431.5L271.7,433.4L277.1,438.2L282.5,425.1L288,435L293.4,480.4L298.8,468.7L304.3,446.2L309.7,470.6L315.1,444.1L320.6,445.6L326,445.7L331.4,447.6L336.9,471.5L342.3,450.2L347.7,436.8L353.2,445.5L358.6,448.1M38,479.2L43.5,466.6L48.9,472.8L54.3,475.1L59.8,478.8L65.2,459.2L70.6,458.1L76.1,469.5L81.5,479.1L86.9,460.8L92.4,472.3L97.8,471.1L103.2,467.7L108.7,462.3L114.1,468.4L119.5,480.2L125,483.6L130.4,466.6L135.8,473.1L141.3,473.6L146.7,468.6L152.1,468.4L157.6,474.2L163,479.6L168.4,477.1L173.9,459.1L179.3,479L184.7,483.9L190.2,483L195.6,455.1L201,453.6L206.5,444.6L211.9,452.2L217.3,449.2L222.8,457.9L228.2,465.9L233.6,455L239.1,433L244.5,445.6L249.9,460.6L255.4,452.9L260.8,429.8L266.2,429L271.7,438.6L277.1,454.7L282.5,421.2L288,421.9L293.4,433.4L298.8,435.7L304.3,425.9L309.7,424.2L315.1,428.6L320.6,431.4L326,424L331.4,421.3L336.9,423.5L342.3,428.9L347.7,428.3L353.2,438.8L358.6,444.6M38,478.6L43.5,466.1L48.9,472.7L54.3,475.4L59.8,479.9L65.2,460.1L70.6,461L76.1,471.9L81.5,480.5L86.9,462.1L92.4,472.2L97.8,468.7L103.2,465.1L108.7,457.9L114.1,465.9L119.5,470.2L125,472.8L130.4,460.4L135.8,465.1L141.3,464.4L146.7,440.2L152.1,447.4L157.6,456.4L163,468.1L168.4,484.6L173.9,452.9L179.3,448.9L184.7,448.9L190.2,445.5L195.6,438.5L201,431.8L206.5,441.8L211.9,452.6L217.3,451.8L222.8,450.4L228.2,471.5L233.6,454.7L239.1,424.5L244.5,445.9L249.9,451.4L255.4,441.1L260.8,438L266.2,452.4L271.7,482L277.1,460.2L282.5,453L288,452.5L293.4,458.8L298.8,463.1L304.3,439.7L309.7,443.5L315.1,446.8L320.6,445.6L326,435.6L331.4,456.2L336.9,467.7L342.3,460.5L347.7,431.5L353.2,419.1L358.6,425.2M38,477.7L43.5,465.2L48.9,472.5L54.3,474.4L59.8,477L65.2,453L70.6,453.8L76.1,465.6L81.5,479L86.9,462L92.4,472L97.8,484.4L103.2,475L108.7,462.9L114.1,467.6L119.5,462.1L125,454.9L130.4,448.4L135.8,468.5L141.3,476.2L146.7,480.5L152.1,478L157.6,488.7L163,493.7L168.4,480.7L173.9,451.1L179.3,426.7L184.7,419.5L190.2,433.5L195.6,439.5L201,445.5L206.5,448.1L211.9,436.1L217.3,422.9L222.8,428.6L228.2,429.9L233.6,426.9L239.1,424.4L244.5,442.8L249.9,436.6L255.4,436L260.8,426.3L266.2,432.8L271.7,451.9L277.1,457.5L282.5,439.5L288,448.5L293.4,454.6L298.8,465.3L304.3,450.9L309.7,454.6L315.1,446.4L320.6,446.7L326,437L331.4,456.5L336.9,458.5L342.3,457.8L347.7,434.3L353.2,465.2L358.6,474.2M38,479L43.5,467L48.9,472.8L54.3,475.5L59.8,478L65.2,457.2L70.6,457.2L76.1,473.6L81.5,479.5L86.9,461.6L92.4,468.8L97.8,474.8L103.2,472.6L108.7,458.2L114.1,468.3L119.5,472.9L125,456.6L130.4,452.8L135.8,468L141.3,483.8L146.7,475.9L152.1,457.7L157.6,472.2L163,484.2L168.4,482.8L173.9,453.5L179.3,465.6L184.7,456.6L190.2,453.3L195.6,423.8L201,451.5L206.5,451.8L211.9,453.2L217.3,445.5L222.8,435.7L228.2,443.7L233.6,446.6L239.1,437.6L244.5,455.6L249.9,461.3L255.4,445.5L260.8,440.4L266.2,453.2L271.7,445.9L277.1,447.4L282.5,443.8L288,466.2L293.4,478.4L298.8,449.5L304.3,434.3L309.7,446.7L315.1,450.1L320.6,440.2L326,446.6L331.4,452.7L336.9,444L342.3,450.7L347.7,446.4L353.2,447.2L358.6,443.3M38,479.1L43.5,466.4L48.9,473L54.3,475L59.8,477.7L65.2,454.7L70.6,457.4L76.1,473.1L81.5,480.2L86.9,462.6L92.4,472.1L97.8,478.1L103.2,464.7L108.7,457.3L114.1,457.6L119.5,455.3L125,475.3L130.4,465.4L135.8,475.1L141.3,489.2L146.7,501.8L152.1,462.9L157.6,471.9L163,479.9L168.4,488.9L173.9,467.8L179.3,470.3L184.7,467.1L190.2,463.7L195.6,448.9L201,454.4L206.5,445.7L211.9,447.8L217.3,426.6L222.8,461.4L228.2,459.7L233.6,453.1L239.1,438.3L244.5,445.4L249.9,457.5L255.4,451.6L260.8,431.3L266.2,429.3L271.7,444.3L277.1,444.2L282.5,416.6L288,421.9L293.4,427.4L298.8,419.5L304.3,420.2L309.7,424.1L315.1,432.9L320.6,432.2L326,425.6L331.4,423.2L336.9,423.5L342.3,422.7L347.7,409.2L353.2,409.2L358.6,414.2M38,478.1L43.5,465.9L48.9,472.6L54.3,474.8L59.8,478.1L65.2,453.7L70.6,448.5L76.1,468.7L81.5,480.2L86.9,465.5L92.4,474L97.8,483L103.2,478.7L108.7,459.6L114.1,469.1L119.5,472.4L125,473.2L130.4,457.1L135.8,463.3L141.3,485L146.7,484L152.1,457.8L157.6,473.8L163,470.6L168.4,494.9L173.9,461L179.3,464.7L184.7,479.4L190.2,480.1L195.6,455.9L201,464.5L206.5,462.9L211.9,482.7L217.3,468.9L222.8,462.5L228.2,470L233.6,455.8L239.1,441.8L244.5,489L249.9,469.3L255.4,471.2L260.8,464.6L266.2,467.4L271.7,470.6L277.1,459.9L282.5,429.3L288,430.8L293.4,431L298.8,442.1L304.3,436.2L309.7,444.7L315.1,447.6L320.6,441.1L326,425.3L331.4,426.8L336.9,435.3L342.3,427L347.7,423.1L353.2,421.1L358.6,430M38,479.4L43.5,467.6L48.9,474.9L54.3,476.3L59.8,478.9L65.2,455.6L70.6,454.4L76.1,470.1L81.5,477L86.9,460.7L92.4,472.2L97.8,474.7L103.2,479.7L108.7,462.2L114.1,447.9L119.5,448.9L125,437.8L130.4,444.2L135.8,467L141.3,482L146.7,470.4L152.1,456.4L157.6,463L163,456.2L168.4,456.1L173.9,441.5L179.3,455.1L184.7,461.8L190.2,461.3L195.6,441.2L201,433.4L206.5,421.9L211.9,419.5L217.3,413.1L222.8,425.2L228.2,429.9L233.6,425L239.1,424.3L244.5,443L249.9,444.8L255.4,435L260.8,426.2L266.2,435.3L271.7,446L277.1,447.9L282.5,444L288,452.7L293.4,449.3L298.8,441.3L304.3,431.5L309.7,426.7L315.1,427.8L320.6,432.7L326,425.1L331.4,425.3L336.9,437.3L342.3,441.6L347.7,431.3L353.2,431.4L358.6,429.6M38,478.7L43.5,467.1L48.9,472.8L54.3,474.8L59.8,478L65.2,457L70.6,459.1L76.1,476.3L81.5,481.6L86.9,463.2L92.4,471.3L97.8,475.4L103.2,475.1L108.7,466L114.1,477.6L119.5,486.3L125,490.5L130.4,467.5L135.8,479.6L141.3,474.6L146.7,479.5L152.1,469L157.6,478.5L163,475.9L168.4,469.6L173.9,465.4L179.3,464.4L184.7,469.3L190.2,471.7L195.6,455.6L201,457.8L206.5,465.7L211.9,472.1L217.3,452.3L222.8,466.8L228.2,467.2L233.6,460.3L239.1,451.5L244.5,451.4L249.9,454.7L255.4,442.8L260.8,432.3L266.2,428.2L271.7,440.8L277.1,451.5L282.5,435.6L288,450.4L293.4,436.9L298.8,447.9L304.3,425.9L309.7,431.7L315.1,435.1L320.6,430.3L326,429.7L331.4,427.3L336.9,450.4L342.3,462.2L347.7,439.7L353.2,435.3L358.6,442.5M38,478.2L43.5,466.2L48.9,472.7L54.3,475.4L59.8,477.9L65.2,455.4L70.6,454.1L76.1,470.2L81.5,478.8L86.9,463.4L92.4,471.9L97.8,475.1L103.2,485.9L108.7,467.4L114.1,475.2L119.5,482.9L125,477.9L130.4,460.5L135.8,476L141.3,484.4L146.7,474.4L152.1,455.3L157.6,469.5L163,466.4L168.4,458.7L173.9,443.5L179.3,459.4L184.7,464.5L190.2,459.9L195.6,429.1L201,440.8L206.5,437.7L211.9,444.1L217.3,433.9L222.8,447.4L228.2,449.2L233.6,444.7L239.1,430.2L244.5,433.3L249.9,436.8L255.4,440.7L260.8,420.8L266.2,424L271.7,429.3L277.1,442.2L282.5,437.3L288,446L293.4,451.1L298.8,452.1L304.3,440.8L309.7,446.6L315.1,437L320.6,437.4L326,432.6L331.4,439L336.9,438.8L342.3,435.3L347.7,423.6L353.2,442.2L358.6,451.9M38,478.4L43.5,466.7L48.9,474.7L54.3,476.1L59.8,479L65.2,457.3L70.6,460.5L76.1,477.6L81.5,480.8L86.9,465.3L92.4,477.3L97.8,494.1L103.2,482.7L108.7,463L114.1,473L119.5,478L125,475.6L130.4,463.3L135.8,468.9L141.3,480.5L146.7,476.3L152.1,474.6L157.6,482.6L163,466.1L168.4,464.2L173.9,438.5L179.3,439.1L184.7,462.1L190.2,438.5L195.6,431.8L201,445.5L206.5,450.3L211.9,436.6L217.3,428.4L222.8,418.3L228.2,433.8L233.6,434.1L239.1,414.4L244.5,421.9L249.9,439.4L255.4,443.3L260.8,429.9L266.2,432.2L271.7,431.4L277.1,434.7L282.5,417.2L288,419.5L293.4,433.2L298.8,436.6L304.3,430.3L309.7,432.7L315.1,439.2L320.6,445L326,435.5L331.4,436.1L336.9,462.2L342.3,464.5L347.7,430.5L353.2,443.4L358.6,452.2"/>
<line class="hzero" x1="32.6" x2="358.6" y1="444.96" y2="444.96"/>
<path class="oper" d="M38.03,479.76L43.47,466.83L48.9,474.79L54.33,475.38L59.77,479.16L65.2,460.27L70.63,461.26L76.07,472.4L81.5,479.16L86.93,463.25L92.37,473.59L97.8,473.59L103.23,471.6L108.67,460.27L114.1,466.83L119.53,469.22L124.97,475.38L130.4,461.26L135.83,469.22L141.27,477.97L146.7,487.11L152.13,464.45L157.57,468.02L163,471.01L168.43,475.38L173.87,454.7L179.3,463.25L184.73,470.41L190.17,476.77L195.6,454.7L201.03,464.45L206.47,469.22L211.9,472.8L217.33,458.88L222.77,471.01L228.2,475.98L233.63,480.75L239.07,457.13L244.5,466.83L249.93,474.19"/>
<path class="ctrl" d="M38.03,478.56L43.47,466.43L48.9,472.8L54.33,475.38L59.77,478.37L65.2,455.89L70.63,457.13L76.07,471.6L81.5,479.16L86.93,463.25L92.37,474.19L97.8,475.98L103.23,474.19L108.67,463.25L114.1,470.41L119.53,476.77L124.97,477.97L130.4,464.45L135.83,471.6L141.27,479.16L146.7,486.32L152.13,465.64L157.57,469.22L163,471.6L168.43,475.98L173.87,454.7L179.3,464.45L184.73,472.8L190.17,482.74L195.6,459.67L201.03,468.02L206.47,472.4L211.9,450.92L217.33,430.24L222.77,441.38L228.2,441.38L233.63,438.99L239.07,436.61L244.5,440.18L249.93,431.43L255.37,442.57L260.8,424.67L266.23,438.99L271.67,443.76L277.1,440.18L282.53,432.79L287.97,440.18L293.4,440.18L298.83,435.21L304.27,424.28L309.7,423.88L315.13,422.29L320.57,423.08L326,417.51L331.43,423.08L336.87,423.08L342.3,423.08L347.73,415.13L353.17,417.51L358.6,419.9"/>
<path class="ax" style="stroke:#1c1c1c;stroke-width:1.3px" d="M32.1,524.5H359.1"/>
<path class="mean" d="M38.03,478.56L43.47,466.43L48.9,472.8L54.33,475.38L59.77,478.37L65.2,457.13L70.63,457.88L76.07,470.41L81.5,479.16L86.93,462.06L92.37,472.4L97.8,475.38L103.23,473.59L108.67,462.06L114.1,468.02L119.53,472.4L124.97,473.59L130.4,460.87L135.83,468.02L141.27,472.8L146.7,475.38L152.13,457.88L157.57,464.45L163,466.83L168.43,469.22L173.87,453.31L179.3,458.88L184.73,462.06L190.17,461.26L195.6,447.34L201.03,453.31L206.47,457.13L211.9,452.12L217.33,443.76L222.77,450.92L228.2,455.89L233.63,454.7L239.07,441.38L244.5,449.73L249.93,454.7L255.37,450.92L260.8,440.18L266.23,447.34L271.67,453.31L277.1,453.31L282.53,438.99L287.97,444.96L293.4,449.73L298.83,452.12L304.27,437.8L309.7,442.57L315.13,446.15L320.57,444.96L326,435.21L331.43,438.99L336.87,442.57L342.3,441.38L347.73,431.43L353.17,434.02L358.6,440.18"/>
</g>
<path class="ax" style="stroke:#555;stroke-width:1px" d="M32.1,385.3H359.1"/>
<path class="ax" style="stroke:#303030;stroke-width:1.5px" d="M358.7,384.8V525.1"/>
<path class="ax" style="stroke:#111;stroke-width:1.4px" d="M32.6,384.8V525.1"/>
<text class="yt" transform="translate(26.4,528.25) scale(1,1.05)" text-anchor="end">-20</text>
<text class="yt" transform="translate(363.7,528.25) scale(1,1.05)">-20</text>
<text class="yt" transform="translate(26.4,508.36) scale(1,1.05)" text-anchor="end">-15</text>
<text class="yt" transform="translate(363.7,508.36) scale(1,1.05)">-15</text>
<text class="yt" transform="translate(26.4,488.48) scale(1,1.05)" text-anchor="end">-10</text>
<text class="yt" transform="translate(363.7,488.48) scale(1,1.05)">-10</text>
<text class="yt" transform="translate(26.4,468.59) scale(1,1.05)" text-anchor="end">-5</text>
<text class="yt" transform="translate(363.7,468.59) scale(1,1.05)">-5</text>
<text class="yt" transform="translate(26.4,448.71) scale(1,1.05)" text-anchor="end">0</text>
<text class="yt" transform="translate(363.7,448.71) scale(1,1.05)">0</text>
<text class="yt" transform="translate(26.4,428.82) scale(1,1.05)" text-anchor="end">5</text>
<text class="yt" transform="translate(363.7,428.82) scale(1,1.05)">5</text>
<text class="yt" transform="translate(26.4,408.94) scale(1,1.05)" text-anchor="end">10</text>
<text class="yt" transform="translate(363.7,408.94) scale(1,1.05)">10</text>
<text class="yt" transform="translate(26.4,389.05) scale(1,1.05)" text-anchor="end">15</text>
<text class="yt" transform="translate(363.7,389.05) scale(1,1.05)">15</text>
<path class="tk" d="M32.6,524.5h-4.3M358.6,524.5h3.44M32.6,514.56h-2M358.6,514.56h1.6M32.6,504.61h-4.3M358.6,504.61h3.44M32.6,494.67h-2M358.6,494.67h1.6M32.6,484.73h-4.3M358.6,484.73h3.44M32.6,474.79h-2M358.6,474.79h1.6M32.6,464.84h-4.3M358.6,464.84h3.44M32.6,454.9h-2M358.6,454.9h1.6M32.6,444.96h-4.3M358.6,444.96h3.44M32.6,435.01h-2M358.6,435.01h1.6M32.6,425.07h-4.3M358.6,425.07h3.44M32.6,415.13h-2M358.6,415.13h1.6M32.6,405.19h-4.3M358.6,405.19h3.44M32.6,395.24h-2M358.6,395.24h1.6M32.6,385.3h-4.3M358.6,385.3h3.44"/>
<path class="xtk" d="M38.03,524.5v4.3M43.47,524.5v4.3M48.9,524.5v4.3M59.77,524.5v4.3M65.2,524.5v4.3M70.63,524.5v4.3M81.5,524.5v4.3M86.93,524.5v4.3M92.37,524.5v4.3M103.23,524.5v4.3M108.67,524.5v4.3M114.1,524.5v4.3M124.97,524.5v4.3M130.4,524.5v4.3M135.83,524.5v4.3M146.7,524.5v4.3M152.13,524.5v4.3M157.57,524.5v4.3M168.43,524.5v4.3M173.87,524.5v4.3M179.3,524.5v4.3M190.17,524.5v4.3M195.6,524.5v4.3M201.03,524.5v4.3M211.9,524.5v4.3M217.33,524.5v4.3M222.77,524.5v4.3M233.63,524.5v4.3M239.07,524.5v4.3M244.5,524.5v4.3M255.37,524.5v4.3M260.8,524.5v4.3M266.23,524.5v4.3M277.1,524.5v4.3M282.53,524.5v4.3M287.97,524.5v4.3M298.83,524.5v4.3M304.27,524.5v4.3M309.7,524.5v4.3M320.57,524.5v4.3M326,524.5v4.3M331.43,524.5v4.3M342.3,524.5v4.3M347.73,524.5v4.3M353.17,524.5v4.3"/>
<text class="z" x="32" y="529.7" text-anchor="middle">00</text>
<text class="z" x="53.73" y="529.7" text-anchor="middle">00</text>
<text class="z" x="75.47" y="529.7" text-anchor="middle">00</text>
<text class="z" x="97.2" y="529.7" text-anchor="middle">00</text>
<text class="z" x="118.93" y="529.7" text-anchor="middle">00</text>
<text class="z" x="140.67" y="529.7" text-anchor="middle">00</text>
<text class="z" x="162.4" y="529.7" text-anchor="middle">00</text>
<text class="z" x="184.13" y="529.7" text-anchor="middle">00</text>
<text class="z" x="205.87" y="529.7" text-anchor="middle">00</text>
<text class="z" x="227.6" y="529.7" text-anchor="middle">00</text>
<text class="z" x="249.33" y="529.7" text-anchor="middle">00</text>
<text class="z" x="271.07" y="529.7" text-anchor="middle">00</text>
<text class="z" x="292.8" y="529.7" text-anchor="middle">00</text>
<text class="z" x="314.53" y="529.7" text-anchor="middle">00</text>
<text class="z" x="336.27" y="529.7" text-anchor="middle">00</text>
<text class="z" x="358" y="529.7" text-anchor="middle">00</text>
<text class="dy" x="43.67" y="534.9" text-anchor="middle">Do</text>
<text class="dy" x="65.4" y="534.9" text-anchor="middle">Vr</text>
<text class="dy" x="87.13" y="534.9" text-anchor="middle">Za</text>
<text class="dy" x="108.87" y="534.9" text-anchor="middle">Zo</text>
<text class="dy" x="130.6" y="534.9" text-anchor="middle">Ma</text>
<text class="dy" x="152.33" y="534.9" text-anchor="middle">Di</text>
<text class="dy" x="174.07" y="534.9" text-anchor="middle">Wo</text>
<text class="dy" x="195.8" y="534.9" text-anchor="middle">Do</text>
<text class="dy" x="217.53" y="534.9" text-anchor="middle">Vr</text>
<text class="dy" x="239.27" y="534.9" text-anchor="middle">Za</text>
<text class="dy" x="261" y="534.9" text-anchor="middle">Zo</text>
<text class="dy" x="282.73" y="534.9" text-anchor="middle">Ma</text>
<text class="dy" x="304.47" y="534.9" text-anchor="middle">Di</text>
<text class="dy" x="326.2" y="534.9" text-anchor="middle">Wo</text>
<text class="dy" x="347.93" y="534.9" text-anchor="middle">Do</text>
<text class="xl" x="195.6" y="545.8" text-anchor="middle">Dag</text>
<text class="yl" transform="translate(13.3,454.9) scale(1.2,1) rotate(-90)" text-anchor="middle">Celsius</text>
<line class="ctrl" style="stroke:#1010ff;stroke-width:0.9px;stroke-dasharray:3.9 2.1" x1="34.9" x2="56.9" y1="393.5" y2="393.5"/>
<line class="oper" style="stroke:#ff3c3c;stroke-width:1.5px" x1="34.9" x2="56.9" y1="400.2" y2="400.2"/>
<line class="mean lg" x1="34.9" x2="56.9" y1="406.6" y2="406.6"/>
<text class="lg" x="79.6" y="396.1" text-anchor="middle">Control</text>
<text class="lg" x="79.6" y="402.5" text-anchor="middle">Oper</text>
<text class="lg" x="79.6" y="409.2" text-anchor="middle">Ens mn</text>
<text class="st" x="319.7" y="395.3" text-anchor="middle">De Bilt</text>
<text class="st" x="319.7" y="406.1" text-anchor="middle">T2m</text>
<text class="br" x="310.8" y="546.1" textLength="65.6" lengthAdjust="spacing">Bron: ECMWF/KNMI</text>
</g>
<g>
<text class="ttl" style="font-size:10.8px" y="380.9"><tspan x="457.8" textLength="52.8" lengthAdjust="spacing"><tspan class="b">D</tspan>onderdag</tspan> <tspan x="517.5" textLength="4.6" lengthAdjust="spacing">2</tspan> <tspan x="526.2" textLength="39.9" lengthAdjust="spacing"><tspan class="b">F</tspan>ebruari</tspan> <tspan x="573.7" textLength="21.9" lengthAdjust="spacing">2012</tspan> <tspan x="603.3" textLength="37.4" lengthAdjust="spacing">(starttijd</tspan> <tspan x="649.4" textLength="13.2" lengthAdjust="spacing"><tspan class="b">D</tspan>o</tspan> <tspan x="666.1" textLength="10.4" lengthAdjust="spacing">00</tspan> <tspan x="681.4" textLength="22.9" lengthAdjust="spacing"><tspan class="b">UTC</tspan>)</tspan></text>
<clipPath id="c5"><rect x="420.7" y="384.8" width="326.6" height="140.4"/></clipPath>
<line class="hmag" x1="420.7" x2="746.7" y1="474.79" y2="474.79"/>
<g clip-path="url(#c5)">
<path class="mem" d="M426.1,524.5L431.6,524.5L437,524.5L442.4,524.5L447.9,524.5L453.3,524.1L458.7,521.5L464.2,524.1L469.6,524.5L475,524.5L480.5,524.5L485.9,524.5L491.3,515.6L496.8,494.7L502.2,521.5L507.6,524.5L513.1,524.5L518.5,524.5L523.9,524.5L529.4,524.5L534.8,524.5L540.2,524.5L545.7,524.5L551.1,524.5L556.5,524.5L562,524.5L567.4,524.1L572.8,523.7L578.3,523L583.7,523.7L589.1,524.5L594.6,524.5L600,524.5L605.4,524L610.9,523.4L616.3,522.6L621.7,523.4L627.2,524L632.6,524.5L638,524.5L643.5,524.5L648.9,524.5L654.3,524.5L659.8,524.5L665.2,524.5L670.6,524.5L676.1,524.5L681.5,524.5L686.9,518.5L692.4,512.6L697.8,518.5L703.2,521.5L708.7,524.2L714.1,523.9L719.5,523.4L725,523.9L730.4,524.2L735.8,524.5L741.3,524.5L746.7,524.5M426.1,524.5L431.6,524.5L437,524.5L442.4,524.5L447.9,524.5L453.3,524.5L458.7,524.5L464.2,524.5L469.6,524.5L475,524.5L480.5,524.5L485.9,524.5L491.3,524.5L496.8,524.5L502.2,524.5L507.6,524.5L513.1,524.5L518.5,524.5L523.9,524.5L529.4,524.5L534.8,524.5L540.2,524.5L545.7,524.5L551.1,524.5L556.5,524.5L562,524.5L567.4,524.5L572.8,524.5L578.3,524.5L583.7,524.5L589.1,524.5L594.6,524.5L600,524.5L605.4,524.5L610.9,524.5L616.3,523.9L621.7,523.3L627.2,522.4L632.6,523.3L638,524.5L643.5,524.5L648.9,524.5L654.3,524.5L659.8,524.5L665.2,524.5L670.6,524.5L676.1,524.5L681.5,524.5L686.9,524.5L692.4,523.8L697.8,523.1L703.2,522L708.7,523.1L714.1,523.8L719.5,524.5L725,524.5L730.4,524.5L735.8,524.5L741.3,524.5L746.7,524.5M426.1,524.5L431.6,524.5L437,524.5L442.4,524.5L447.9,524.5L453.3,523.5L458.7,517.5L464.2,523.5L469.6,524.5L475,524.5L480.5,524.5L485.9,524.5L491.3,524.5L496.8,524.5L502.2,524.5L507.6,524.5L513.1,524.5L518.5,524.5L523.9,524.5L529.4,524.5L534.8,524.5L540.2,524.5L545.7,524.5L551.1,524.5L556.5,524.5L562,524.5L567.4,524.5L572.8,524.5L578.3,524.5L583.7,524.5L589.1,524.5L594.6,524.5L600,524.5L605.4,524.5L610.9,524.5L616.3,524.5L621.7,524.5L627.2,524.5L632.6,524.5L638,524.5L643.5,524.5L648.9,524.5L654.3,524.5L659.8,524.5L665.2,524.5L670.6,524.5L676.1,524.5L681.5,524.5L686.9,524.5L692.4,524.5L697.8,524.5L703.2,515L708.7,505.4L714.1,492.7L719.5,508.6L725,524.5L730.4,524.5L735.8,524.5L741.3,524.5L746.7,524.5M426.1,524.5L431.6,524.5L437,524.5L442.4,524.5L447.9,524.5L453.3,523.8L458.7,519.5L464.2,523.8L469.6,524.5L475,524.5L480.5,524.5L485.9,524.5L491.3,524.5L496.8,524.5L502.2,524.5L507.6,524.5L513.1,524.5L518.5,524.5L523.9,524.5L529.4,524.5L534.8,524.5L540.2,524.5L545.7,524.5L551.1,524.5L556.5,524.5L562,524.5L567.4,524.5L572.8,524.5L578.3,524.5L583.7,524.5L589.1,524.5L594.6,524.5L600,524.5L605.4,524.5L610.9,524.5L616.3,521.7L621.7,519.4L627.2,521.7L632.6,523.1L638,524.5L643.5,524.5L648.9,524.5L654.3,524.5L659.8,521.8L665.2,519.5L670.6,521.8L676.1,523.1L681.5,524.5L686.9,524.5L692.4,524.5L697.8,524.5L703.2,524.5L708.7,524.5L714.1,524.5L719.5,524.5L725,524.5L730.4,522.3L735.8,520.4L741.3,522.3L746.7,523.4M426.1,524.5L431.6,524.5L437,524.5L442.4,524.5L447.9,524.5L453.3,524L458.7,521L464.2,524L469.6,524.5L475,524.5L480.5,524.5L485.9,522.1L491.3,489.7L496.8,505.4L502.2,524.5L507.6,524.5L513.1,524.5L518.5,524.5L523.9,524.5L529.4,524.5L534.8,524.5L540.2,524.5L545.7,524.5L551.1,524.5L556.5,524.5L562,524.5L567.4,524.5L572.8,524.5L578.3,524.5L583.7,522L589.1,519.5L594.6,514.6L600,519.5L605.4,522L610.9,524.5L616.3,524.5L621.7,524.5L627.2,524.5L632.6,524.5L638,521.9L643.5,516.9L648.9,516.5L654.3,519.8L659.8,520L665.2,522.8L670.6,524.5L676.1,524.5L681.5,524.5L686.9,524.5L692.4,524.5L697.8,524.5L703.2,524.5L708.7,524.5L714.1,523.9L719.5,523.3L725,522.3L730.4,523.3L735.8,524.5L741.3,524.5L746.7,524.5M426.1,524.5L431.6,524.5L437,524.5L442.4,524.5L447.9,524.5L453.3,524.2L458.7,522.5L464.2,524.2L469.6,524.5L475,524.5L480.5,524.5L485.9,524.5L491.3,524.5L496.8,524.5L502.2,524.5L507.6,524.5L513.1,524.5L518.5,524.5L523.9,524.5L529.4,524.5L534.8,524.5L540.2,524.5L545.7,524.5L551.1,524.5L556.5,524.5L562,524.5L567.4,524.5L572.8,524.5L578.3,524.5L583.7,524.5L589.1,524.5L594.6,523.1L600,521.7L605.4,519.4L610.9,521.7L616.3,524.5L621.7,524.5L627.2,524.5L632.6,524.5L638,524.5L643.5,524.5L648.9,524.5L654.3,524.5L659.8,524.5L665.2,524.5L670.6,524.5L676.1,524.5L681.5,524.5L686.9,524.5L692.4,524.5L697.8,524.5L703.2,524.5L708.7,516.1L714.1,507.8L719.5,496.7L725,513.4L730.4,524.5L735.8,524.5L741.3,524.5L746.7,524.5M426.1,524.5L431.6,524.5L437,524.5L442.4,524.5L447.9,524.5L453.3,522.4L458.7,509.6L464.2,522.4L469.6,524.5L475,524.5L480.5,524.5L485.9,523.8L491.3,521L496.8,523.1L502.2,524.5L507.6,524.5L513.1,524.5L518.5,524.5L523.9,524.5L529.4,524.5L534.8,524.5L540.2,524.5L545.7,524.5L551.1,524.5L556.5,524.5L562,524.5L567.4,524.5L572.8,524.5L578.3,524.5L583.7,524.5L589.1,524.5L594.6,524.5L600,524.5L605.4,524.5L610.9,524.5L616.3,524.5L621.7,524.5L627.2,524.5L632.6,524.5L638,522.7L643.5,521.1L648.9,522.7L654.3,523.6L659.8,524.5L665.2,524.5L670.6,524.5L676.1,524.5L681.5,524.5L686.9,524.5L692.4,524.5L697.8,524.5L703.2,520L708.7,515.6L714.1,509.6L719.5,515.6L725,520L730.4,524.5L735.8,524.5L741.3,524.5L746.7,524.5M426.1,524.5L431.6,524.5L437,524.5L442.4,524.5L447.9,524.5L453.3,524.5L458.7,524.5L464.2,524.5L469.6,524.5L475,524.5L480.5,524.5L485.9,524.5L491.3,524.5L496.8,524.5L502.2,524.5L507.6,524.5L513.1,524.5L518.5,524.5L523.9,524.5L529.4,524.5L534.8,524.5L540.2,524.5L545.7,524.5L551.1,524.5L556.5,524.5L562,524.5L567.4,523.8L572.8,523.2L578.3,523.8L583.7,524.1L589.1,524.5L594.6,524.5L600,524.5L605.4,524.5L610.9,524.5L616.3,524.5L621.7,524.5L627.2,524.5L632.6,524.5L638,524.5L643.5,524.5L648.9,523.4L654.3,522.4L659.8,523.4L665.2,524.5L670.6,524.5L676.1,524.5L681.5,524.5L686.9,524.5L692.4,524.5L697.8,524.5L703.2,524.5L708.7,524.5L714.1,524.5L719.5,524.5L725,524.5L730.4,524.5L735.8,524.5L741.3,524.5L746.7,524.5M426.1,524.5L431.6,524.5L437,524.5L442.4,524.5L447.9,524.5L453.3,524.5L458.7,524.5L464.2,524.5L469.6,524.5L475,524.5L480.5,524.5L485.9,524.5L491.3,517.9L496.8,502.6L502.2,522.3L507.6,524.5L513.1,524.5L518.5,524.5L523.9,524.5L529.4,524.5L534.8,524.5L540.2,524.5L545.7,524.5L551.1,524.5L556.5,524.5L562,524.5L567.4,524.5L572.8,524.5L578.3,524.5L583.7,524.5L589.1,524.5L594.6,524.5L600,524.5L605.4,524.5L610.9,524.5L616.3,524.5L621.7,524.5L627.2,524.5L632.6,524.5L638,524.5L643.5,524.5L648.9,524.5L654.3,524.5L659.8,524.5L665.2,524.5L670.6,524.5L676.1,524.5L681.5,524.5L686.9,524.5L692.4,524.5L697.8,524.5L703.2,524.5L708.7,499.9L714.1,473.3L719.5,498.6L725,521.6L730.4,521.9L735.8,521.6L741.3,522.9L746.7,523.7M426.1,524.5L431.6,524.5L437,524.5L442.4,524.5L447.9,524.5L453.3,524.5L458.7,524.5L464.2,524.5L469.6,524.5L475,524.5L480.5,524.5L485.9,523.9L491.3,521.5L496.8,523.3L502.2,524.5L507.6,524.5L513.1,524.5L518.5,524.5L523.9,524.5L529.4,524.5L534.8,524.5L540.2,524.5L545.7,524.5L551.1,524.5L556.5,524.5L562,524.5L567.4,524.5L572.8,524.5L578.3,524.5L583.7,524.5L589.1,524.5L594.6,524.5L600,524.5L605.4,521.9L610.9,519.9L616.3,521.9L621.7,524.5L627.2,524.5L632.6,524.5L638,524.5L643.5,524.5L648.9,524.5L654.3,524.5L659.8,524.5L665.2,524.5L670.6,524.5L676.1,524.5L681.5,524.5L686.9,524.5L692.4,524.5L697.8,524.5L703.2,524.5L708.7,521.4L714.1,518.4L719.5,512.5L725,518.4L730.4,524.5L735.8,524.5L741.3,524.5L746.7,524.5M426.1,524.5L431.6,524.5L437,524.5L442.4,524.5L447.9,524.5L453.3,524.5L458.7,524.5L464.2,524.5L469.6,524.5L475,524.5L480.5,524.5L485.9,522.6L491.3,497.7L496.8,509.7L502.2,524.5L507.6,524.5L513.1,524.5L518.5,524.5L523.9,524.5L529.4,524.5L534.8,524.5L540.2,524.5L545.7,524.5L551.1,524.5L556.5,524.5L562,524.5L567.4,524.5L572.8,524.5L578.3,524.5L583.7,524.5L589.1,524.5L594.6,524.5L600,524.5L605.4,524.5L610.9,524.5L616.3,524.5L621.7,524.5L627.2,524.5L632.6,524.5L638,524.5L643.5,524.5L648.9,524.5L654.3,524.5L659.8,524.5L665.2,524.5L670.6,524.5L676.1,524.5L681.5,524.5L686.9,524.5L692.4,524.5L697.8,524.5L703.2,524.5L708.7,524.5L714.1,524.5L719.5,524.5L725,524.5L730.4,524.5L735.8,524.5L741.3,524.5L746.7,524.5M426.1,524.5L431.6,524.5L437,524.5L442.4,524.5L447.9,524.5L453.3,524.5L458.7,524.5L464.2,524.5L469.6,524.5L475,524.5L480.5,524.5L485.9,524.5L491.3,524.5L496.8,524.5L502.2,524.5L507.6,524.5L513.1,524.5L518.5,524.5L523.9,524.5L529.4,524.5L534.8,524.5L540.2,524.5L545.7,524.5L551.1,524.5L556.5,524.5L562,524.5L567.4,524.5L572.8,524.5L578.3,524.5L583.7,524.5L589.1,524.5L594.6,524.5L600,524.5L605.4,524.5L610.9,524.5L616.3,524.5L621.7,524.5L627.2,524.5L632.6,524.5L638,524.5L643.5,524.5L648.9,524.5L654.3,524.5L659.8,524.5L665.2,524.5L670.6,524.5L676.1,524.5L681.5,524.5L686.9,524.5L692.4,523.7L697.8,523L703.2,523.7L708.7,524.1L714.1,524.5L719.5,524.5L725,524.5L730.4,524.5L735.8,522L741.3,520L746.7,522M426.1,524.5L431.6,524.5L437,524.5L442.4,524.5L447.9,524.5L453.3,524.5L458.7,524.5L464.2,524.5L469.6,524.5L475,524.5L480.5,524.5L485.9,524.5L491.3,513.2L496.8,486.7L502.2,520.7L507.6,524.5L513.1,524.5L518.5,524.5L523.9,524.5L529.4,524.5L534.8,524.5L540.2,524.5L545.7,524.5L551.1,524.5L556.5,524.5L562,524.5L567.4,524.5L572.8,524.5L578.3,524.5L583.7,524.5L589.1,524.5L594.6,524.5L600,524.5L605.4,524.5L610.9,524.5L616.3,524.5L621.7,524.5L627.2,522.2L632.6,520.4L638,522.2L643.5,524.5L648.9,524.5L654.3,524.5L659.8,524.5L665.2,524.5L670.6,524.5L676.1,524.5L681.5,516L686.9,507.6L692.4,516L697.8,520.3L703.2,524.5L708.7,524.5L714.1,524.5L719.5,524.5L725,524.5L730.4,524.5L735.8,524.5L741.3,524.5L746.7,524.5M426.1,524.5L431.6,524.5L437,524.5L442.4,524.5L447.9,524.5L453.3,524.5L458.7,524.5L464.2,524.5L469.6,524.5L475,524.5L480.5,524.5L485.9,524.5L491.3,524.5L496.8,524.5L502.2,524.5L507.6,524.5L513.1,524.5L518.5,524.5L523.9,524.5L529.4,524.5L534.8,524.5L540.2,524.5L545.7,524.5L551.1,524.5L556.5,524.5L562,524.5L567.4,524.5L572.8,524.5L578.3,524.5L583.7,524.5L589.1,524.5L594.6,524.5L600,524.5L605.4,524.5L610.9,524.5L616.3,524.5L621.7,524.5L627.2,524.5L632.6,524.5L638,524.5L643.5,524.5L648.9,524.5L654.3,524.5L659.8,524.5L665.2,524.5L670.6,524.5L676.1,524.5L681.5,524.5L686.9,524.5L692.4,524.5L697.8,524.5L703.2,506.6L708.7,488.7L714.1,503L719.5,513.8L725,524.5L730.4,524.5L735.8,523.6L741.3,522.6L746.7,521.1M426.1,524.5L431.6,524.5L437,524.5L442.4,524.5L447.9,524.5L453.3,524.5L458.7,524.5L464.2,524.5L469.6,524.5L475,524.5L480.5,524.5L485.9,524.5L491.3,524.5L496.8,524.5L502.2,524.5L507.6,524.5L513.1,524.5L518.5,524.5L523.9,524.5L529.4,524.5L534.8,524.5L540.2,524.5L545.7,524.5L551.1,520.9L556.5,512.6L562,520.9L567.4,524.5L572.8,524.5L578.3,524.5L583.7,524.5L589.1,522L594.6,519.9L600,522L605.4,523.2L610.9,524.5L616.3,524.5L621.7,523.1L627.2,521.7L632.6,519.4L638,521.7L643.5,524.5L648.9,524.5L654.3,524.5L659.8,524.5L665.2,524.5L670.6,524.5L676.1,524.5L681.5,524.5L686.9,524.5L692.4,524.5L697.8,524.5L703.2,524.5L708.7,524.5L714.1,524.5L719.5,524.5L725,524.5L730.4,524.5L735.8,524.5L741.3,524.5L746.7,524.5M426.1,524.5L431.6,524.5L437,524.5L442.4,524.5L447.9,524.5L453.3,524.5L458.7,524.5L464.2,524.5L469.6,524.5L475,524.5L480.5,524.5L485.9,523.7L491.3,520.5L496.8,522.9L502.2,524.5L507.6,524.5L513.1,524.5L518.5,524.5L523.9,524.5L529.4,524.5L534.8,524.5L540.2,524.5L545.7,524.5L551.1,524.5L556.5,524.5L562,524.5L567.4,524.5L572.8,524.5L578.3,524.5L583.7,524.5L589.1,524.5L594.6,522.4L600,520.7L605.4,522.4L610.9,524.5L616.3,524.5L621.7,524.5L627.2,524.5L632.6,524.5L638,524.5L643.5,524.5L648.9,524.5L654.3,524.5L659.8,524.5L665.2,524.5L670.6,524.5L676.1,524.5L681.5,524.5L686.9,524.5L692.4,524.5L697.8,524.5L703.2,514.6L708.7,504.6L714.1,512.6L719.5,518.5L725,524.5L730.4,524L735.8,523.6L741.3,524L746.7,524.2M426.1,524.5L431.6,524.5L437,524.5L442.4,524.5L447.9,524.5L453.3,524.5L458.7,524.5L464.2,524.5L469.6,524.5L475,524.5L480.5,524.5L485.9,524.1L491.3,522.5L496.8,523.7L502.2,524.5L507.6,524.5L513.1,524.5L518.5,524.5L523.9,524.5L529.4,524.5L534.8,524.5L540.2,524.5L545.7,524.5L551.1,524.5L556.5,524.5L562,524.5L567.4,524.5L572.8,524.5L578.3,524.5L583.7,524.5L589.1,524.5L594.6,524.5L600,524.5L605.4,523L610.9,521.5L616.3,519.5L621.7,521.5L627.2,523L632.6,524.5L638,524.5L643.5,524.5L648.9,524.5L654.3,524.5L659.8,524.5L665.2,524.5L670.6,524.5L676.1,524.5L681.5,524.5L686.9,524.5L692.4,524.5L697.8,524.5L703.2,524.5L708.7,524.5L714.1,524.5L719.5,524.5L725,524.5L730.4,524.5L735.8,524.5L741.3,524.5L746.7,524.5M426.1,524.5L431.6,524.5L437,524.5L442.4,524.5L447.9,524.5L453.3,523.3L458.7,516L464.2,523.3L469.6,524.5L475,524.5L480.5,524.5L485.9,524.5L491.3,524.5L496.8,524.5L502.2,524.5L507.6,524.5L513.1,524.5L518.5,524.5L523.9,524.5L529.4,524.5L534.8,524.5L540.2,524.5L545.7,524.5L551.1,524.5L556.5,524.5L562,524.5L567.4,524.5L572.8,524.5L578.3,524.5L583.7,524.5L589.1,524.5L594.6,524.5L600,524.5L605.4,524.5L610.9,524.5L616.3,524.5L621.7,524.5L627.2,524.5L632.6,524.5L638,524.5L643.5,524.5L648.9,524.5L654.3,518L659.8,511.6L665.2,516.7L670.6,520.6L676.1,524.5L681.5,524.5L686.9,524.5L692.4,524.5L697.8,524.5L703.2,524.5L708.7,524.5L714.1,524.5L719.5,524.5L725,524.5L730.4,524.5L735.8,524.5L741.3,524.5L746.7,524.5M426.1,524.5L431.6,524.5L437,524.5L442.4,524.5L447.9,524.5L453.3,524.5L458.7,524.5L464.2,524.5L469.6,524.5L475,524.5L480.5,524.5L485.9,522.9L491.3,501.6L496.8,511.9L502.2,524.5L507.6,524.5L513.1,524.5L518.5,524.5L523.9,524.5L529.4,524.5L534.8,524.5L540.2,524.5L545.7,524.5L551.1,524.5L556.5,524.5L562,524.5L567.4,524.5L572.8,521.6L578.3,519.3L583.7,521.6L589.1,523.1L594.6,524.5L600,524.5L605.4,524.5L610.9,524.5L616.3,524.5L621.7,524.5L627.2,503.7L632.6,420.6L638,516.2L643.5,524.5L648.9,524.5L654.3,524.5L659.8,524.5L665.2,524.5L670.6,524.5L676.1,524.5L681.5,524.5L686.9,524.5L692.4,524.5L697.8,524.5L703.2,524.5L708.7,524.5L714.1,524.5L719.5,524.5L725,524.5L730.4,524.5L735.8,524.5L741.3,524.5L746.7,524.5M426.1,524.5L431.6,524.5L437,524.5L442.4,524.5L447.9,524.5L453.3,522.8L458.7,512.1L464.2,522.8L469.6,524.5L475,524.5L480.5,524.5L485.9,523.9L491.3,515.6L496.8,519.6L502.2,524.5L507.6,524.5L513.1,524.5L518.5,524.5L523.9,524.5L529.4,524.5L534.8,524.5L540.2,524.5L545.7,524.5L551.1,524.5L556.5,524.5L562,524.5L567.4,524.5L572.8,524.5L578.3,524.1L583.7,523.7L589.1,523L594.6,523.7L600,523.2L605.4,522.1L610.9,523.2L616.3,523.8L621.7,524.5L627.2,524.5L632.6,524.5L638,524.5L643.5,524.5L648.9,524.5L654.3,524.5L659.8,515L665.2,500.6L670.6,512.6L676.1,524.5L681.5,524.5L686.9,524.5L692.4,524.5L697.8,524.5L703.2,524.5L708.7,524.5L714.1,524.5L719.5,524.5L725,524.5L730.4,524.5L735.8,524.5L741.3,524.5L746.7,524.5M426.1,524.5L431.6,524.5L437,524.5L442.4,524.5L447.9,524.5L453.3,524.5L458.7,524.5L464.2,524.5L469.6,524.5L475,524.5L480.5,524.5L485.9,522.3L491.3,493.7L496.8,507.5L502.2,524.5L507.6,524.5L513.1,524.5L518.5,524.5L523.9,524.5L529.4,524.5L534.8,524.5L540.2,524.5L545.7,524.5L551.1,524.5L556.5,524.5L562,524.5L567.4,524.5L572.8,524.5L578.3,521L583.7,517.5L589.1,519.6L594.6,521.3L600,522.9L605.4,524.5L610.9,524.5L616.3,524.5L621.7,524.5L627.2,524.5L632.6,524.5L638,524.5L643.5,524.5L648.9,524.5L654.3,524.5L659.8,524.5L665.2,524.5L670.6,524.5L676.1,524.5L681.5,524.5L686.9,524.5L692.4,524.5L697.8,524.5L703.2,524.5L708.7,524.5L714.1,524.5L719.5,524.5L725,524.5L730.4,524.5L735.8,524.5L741.3,521.9L746.7,519.7M426.1,524.5L431.6,524.5L437,524.5L442.4,524.5L447.9,524.5L453.3,523.9L458.7,520L464.2,523.9L469.6,524.5L475,524.5L480.5,524.5L485.9,524.3L491.3,523.5L496.8,524.1L502.2,524.5L507.6,524.5L513.1,524.5L518.5,524.5L523.9,524.5L529.4,524.5L534.8,524.5L540.2,524.5L545.7,524.5L551.1,524.5L556.5,524.5L562,524.5L567.4,524.5L572.8,524.5L578.3,524.5L583.7,524.5L589.1,524.5L594.6,524.5L600,524.5L605.4,524.5L610.9,524.5L616.3,524.5L621.7,523.2L627.2,522.1L632.6,523.2L638,524.5L643.5,524.5L648.9,524.5L654.3,524.5L659.8,524.1L665.2,523.7L670.6,523.1L676.1,523.7L681.5,524.5L686.9,524.5L692.4,524.5L697.8,524.5L703.2,524.5L708.7,524.5L714.1,524.5L719.5,522.7L725,520.9L730.4,518.5L735.8,520.9L741.3,522.7L746.7,524.5M426.1,524.5L431.6,524.5L437,524.5L442.4,524.5L447.9,524.5L453.3,524.5L458.7,524.5L464.2,524.5L469.6,524.5L475,524.5L480.5,524.5L485.9,524.5L491.3,524.5L496.8,524.5L502.2,524.5L507.6,524.5L513.1,524.5L518.5,524.5L523.9,524.5L529.4,524.5L534.8,524.5L540.2,524.5L545.7,524.5L551.1,524.5L556.5,524.5L562,524.5L567.4,524.5L572.8,524.5L578.3,524.5L583.7,524.5L589.1,524.5L594.6,524.5L600,524.5L605.4,524.5L610.9,524.5L616.3,524.5L621.7,524.5L627.2,524.5L632.6,524.5L638,522.7L643.5,521.3L648.9,522.7L654.3,523.6L659.8,522L665.2,519.5L670.6,514.6L676.1,519.5L681.5,524.5L686.9,524.5L692.4,524.5L697.8,524.5L703.2,524.5L708.7,524.5L714.1,524.5L719.5,524.5L725,524.5L730.4,524.5L735.8,524.5L741.3,524.5L746.7,524.5M426.1,524.5L431.6,524.5L437,524.5L442.4,524.5L447.9,524.5L453.3,524.2L458.7,522L464.2,524.2L469.6,524.5L475,524.5L480.5,524.5L485.9,524.5L491.3,524.5L496.8,524.5L502.2,524.5L507.6,524.5L513.1,524.5L518.5,524.5L523.9,524.5L529.4,524.5L534.8,524.5L540.2,524.5L545.7,524.5L551.1,524.5L556.5,524.5L562,524.5L567.4,524.5L572.8,524.5L578.3,524.5L583.7,524.5L589.1,524.5L594.6,524.5L600,524.5L605.4,524.5L610.9,524.5L616.3,524.5L621.7,524.5L627.2,524.5L632.6,524.5L638,524L643.5,523.5L648.9,522.7L654.3,523.5L659.8,524L665.2,524.5L670.6,524.5L676.1,524.5L681.5,508.8L686.9,485.1L692.4,508.8L697.8,524.5L703.2,524.5L708.7,524.5L714.1,524.5L719.5,524.5L725,522L730.4,519.5L735.8,515.5L741.3,519.5L746.7,523.5M426.1,524.5L431.6,524.5L437,524.5L442.4,524.5L447.9,524.5L453.3,524.5L458.7,524.5L464.2,524.5L469.6,524.5L475,524.5L480.5,524.5L485.9,524.5L491.3,524.5L496.8,524.5L502.2,524.5L507.6,524.5L513.1,524.5L518.5,524.5L523.9,524.5L529.4,524.5L534.8,524.5L540.2,524.5L545.7,524.5L551.1,524.5L556.5,524.5L562,524.5L567.4,524.5L572.8,524.5L578.3,524.5L583.7,524.5L589.1,524.5L594.6,524.5L600,524.5L605.4,524.5L610.9,524.5L616.3,524.5L621.7,524.5L627.2,524.5L632.6,524.5L638,524.5L643.5,524.5L648.9,524.5L654.3,524.5L659.8,522.3L665.2,520.6L670.6,522.3L676.1,523.4L681.5,512.6L686.9,494.7L692.4,509.6L697.8,517L703.2,524.5L708.7,524.5L714.1,524.5L719.5,524.5L725,524.2L730.4,523.8L735.8,523.3L741.3,523.8L746.7,524.2M426.1,524.5L431.6,524.5L437,524.5L442.4,524.5L447.9,524.5L453.3,524.5L458.7,524.5L464.2,524.5L469.6,524.5L475,524.5L480.5,524.5L485.9,524.5L491.3,524.5L496.8,524.5L502.2,524.5L507.6,524.5L513.1,524.5L518.5,524.5L523.9,524.5L529.4,524.5L534.8,524.5L540.2,524.5L545.7,524.5L551.1,524.5L556.5,524.5L562,524.5L567.4,524.5L572.8,524.5L578.3,524.5L583.7,524.5L589.1,524.5L594.6,523L600,521.7L605.4,523L610.9,524.5L616.3,524.5L621.7,524.5L627.2,524.5L632.6,524.5L638,524.5L643.5,524.5L648.9,524.5L654.3,524.5L659.8,524.5L665.2,523.7L670.6,519.5L676.1,514.8L681.5,518.8L686.9,522.4L692.4,524.5L697.8,524.5L703.2,524.5L708.7,524.5L714.1,524.5L719.5,524.5L725,524.5L730.4,524.5L735.8,524.5L741.3,524.5L746.7,524.5M426.1,524.5L431.6,524.5L437,524.5L442.4,524.5L447.9,524.5L453.3,524.4L458.7,523.5L464.2,524.4L469.6,524.5L475,524.5L480.5,524.5L485.9,523.9L491.3,521.5L496.8,523.3L502.2,524.5L507.6,524.5L513.1,524.5L518.5,524.5L523.9,524.5L529.4,524.5L534.8,524.5L540.2,524.5L545.7,524.5L551.1,524.5L556.5,524.5L562,524.5L567.4,523.6L572.8,522.6L578.3,521.1L583.7,522.6L589.1,523.6L594.6,524.5L600,524.5L605.4,524.5L610.9,524.5L616.3,524.5L621.7,524.5L627.2,524.5L632.6,524.5L638,524.5L643.5,524.5L648.9,524.5L654.3,524.5L659.8,524.5L665.2,524.5L670.6,524.5L676.1,524.5L681.5,524.5L686.9,524.5L692.4,524.5L697.8,524.5L703.2,524.5L708.7,524.5L714.1,524.5L719.5,524.5L725,524.5L730.4,524.5L735.8,516.9L741.3,505.6L746.7,516.9M426.1,524.5L431.6,524.5L437,524.5L442.4,524.5L447.9,524.5L453.3,524.5L458.7,524.5L464.2,524.5L469.6,524.5L475,524.5L480.5,524.5L485.9,524.5L491.3,524.5L496.8,524.5L502.2,524.5L507.6,524.5L513.1,524.5L518.5,524.5L523.9,524.5L529.4,524.5L534.8,524.5L540.2,524.5L545.7,524.5L551.1,524.5L556.5,518.8L562,513.2L567.4,505.6L572.8,518.8L578.3,524.5L583.7,524.5L589.1,524.5L594.6,524.5L600,524.5L605.4,524.5L610.9,524.5L616.3,524.5L621.7,524.5L627.2,524.5L632.6,524.5L638,524.5L643.5,524.5L648.9,524.5L654.3,524.5L659.8,524.5L665.2,524.5L670.6,524.5L676.1,524.5L681.5,524.5L686.9,524.5L692.4,524.5L697.8,524.5L703.2,524.5L708.7,524.5L714.1,524.5L719.5,523.7L725,523L730.4,523.7L735.8,524.1L741.3,524.5L746.7,524.5M426.1,524.5L431.6,524.5L437,524.5L442.4,524.5L447.9,524.5L453.3,523.1L458.7,514.6L464.2,523.1L469.6,524.5L475,524.5L480.5,524.5L485.9,523.6L491.3,511.6L496.8,517.4L502.2,524.5L507.6,524.5L513.1,524.5L518.5,524.5L523.9,524.5L529.4,524.5L534.8,524.5L540.2,524.5L545.7,524.5L551.1,524.5L556.5,524.5L562,524.5L567.4,524.5L572.8,523.1L578.3,521.9L583.7,523.1L589.1,524.5L594.6,524.5L600,524.5L605.4,524.5L610.9,524.5L616.3,524.5L621.7,524.5L627.2,524.5L632.6,524.5L638,524.5L643.5,524.5L648.9,524.5L654.3,514.6L659.8,499.6L665.2,512.1L670.6,524.5L676.1,524.5L681.5,524.5L686.9,524.5L692.4,524.5L697.8,524.5L703.2,524.5L708.7,524.5L714.1,524.5L719.5,524.5L725,524.5L730.4,524.5L735.8,524.5L741.3,524.5L746.7,524.5M426.1,524.5L431.6,524.5L437,524.5L442.4,524.5L447.9,524.5L453.3,522.1L458.7,507.1L464.2,522.1L469.6,524.5L475,524.5L480.5,524.5L485.9,524.5L491.3,524.5L496.8,524.5L502.2,524.5L507.6,520.3L513.1,512.6L518.5,520.9L523.9,524.5L529.4,524.5L534.8,524.5L540.2,524.5L545.7,524.5L551.1,524.5L556.5,524.5L562,524.5L567.4,524.5L572.8,524.5L578.3,524.5L583.7,524.5L589.1,524.5L594.6,524.5L600,524.5L605.4,524.5L610.9,524.5L616.3,524.5L621.7,524.5L627.2,524.5L632.6,524.5L638,524.5L643.5,524.5L648.9,524.5L654.3,524.5L659.8,524.5L665.2,524.5L670.6,524.5L676.1,524.5L681.5,524.5L686.9,524.5L692.4,524.5L697.8,524.5L703.2,524.5L708.7,524.5L714.1,524.5L719.5,524.5L725,524.5L730.4,524.5L735.8,524.5L741.3,524.5L746.7,524.5M426.1,524.5L431.6,524.5L437,524.5L442.4,524.5L447.9,524.5L453.3,524.5L458.7,524.5L464.2,524.5L469.6,524.5L475,524.5L480.5,524.5L485.9,524.5L491.3,524.5L496.8,524.5L502.2,524.5L507.6,524.5L513.1,524.5L518.5,524.5L523.9,524.5L529.4,524.5L534.8,524.5L540.2,524.5L545.7,524.5L551.1,524.5L556.5,524.5L562,524.5L567.4,524.5L572.8,524.5L578.3,524.5L583.7,524.5L589.1,524.5L594.6,524.5L600,524.5L605.4,524.5L610.9,524.5L616.3,524.5L621.7,524.5L627.2,524.5L632.6,524.5L638,524.5L643.5,524.5L648.9,524.5L654.3,524.5L659.8,524.5L665.2,524.5L670.6,524.5L676.1,524.5L681.5,524.5L686.9,524.5L692.4,524.5L697.8,524.5L703.2,524.5L708.7,524.5L714.1,524.5L719.5,524.5L725,524.5L730.4,524.5L735.8,524.5L741.3,524.5L746.7,524.5M426.1,524.5L431.6,524.5L437,524.5L442.4,524.5L447.9,524.5L453.3,523.9L458.7,520.5L464.2,523.9L469.6,524.5L475,524.5L480.5,524.5L485.9,523.5L491.3,519.5L496.8,522.5L502.2,524.5L507.6,524.5L513.1,524.5L518.5,524.5L523.9,524.5L529.4,524.5L534.8,524.5L540.2,524.5L545.7,524.5L551.1,524.5L556.5,524.5L562,524.5L567.4,524.5L572.8,524.5L578.3,524.5L583.7,524.5L589.1,524.5L594.6,524.5L600,524.5L605.4,524.5L610.9,524.5L616.3,524.5L621.7,524.5L627.2,524.5L632.6,524.5L638,524.5L643.5,524.5L648.9,524.5L654.3,524.5L659.8,524.5L665.2,524.5L670.6,524.5L676.1,524.5L681.5,524.5L686.9,524.5L692.4,524.5L697.8,524.5L703.2,524.5L708.7,512.6L714.1,500.6L719.5,512.6L725,524.5L730.4,524.5L735.8,524.5L741.3,524.5L746.7,524.5M426.1,524.5L431.6,524.5L437,524.5L442.4,524.5L447.9,524.5L453.3,524.1L458.7,521.5L464.2,524.1L469.6,524.5L475,524.5L480.5,524.5L485.9,524.2L491.3,519.5L496.8,521.8L502.2,524.5L507.6,524.5L513.1,524.5L518.5,524.5L523.9,524.5L529.4,524.5L534.8,524.5L540.2,524.5L545.7,524.5L551.1,524.5L556.5,524.5L562,524.5L567.4,524.5L572.8,524.5L578.3,524.5L583.7,524.5L589.1,524.5L594.6,524.5L600,524.5L605.4,524.5L610.9,524.5L616.3,524.5L621.7,524.5L627.2,524.5L632.6,524.5L638,524.5L643.5,524.5L648.9,524.5L654.3,524.5L659.8,524.5L665.2,516.5L670.6,504.6L676.1,516.5L681.5,524.5L686.9,524.5L692.4,524.5L697.8,524.5L703.2,524.5L708.7,524.5L714.1,524.5L719.5,524.5L725,524.5L730.4,524.5L735.8,524.5L741.3,524.5L746.7,524.5M426.1,524.5L431.6,524.5L437,524.5L442.4,524.5L447.9,524.5L453.3,524.5L458.7,524.5L464.2,524.5L469.6,524.5L475,524.5L480.5,524.5L485.9,524.5L491.3,524.5L496.8,524.5L502.2,524.5L507.6,515.8L513.1,499.6L518.5,517L523.9,524.5L529.4,524.5L534.8,524.5L540.2,524.5L545.7,524.5L551.1,524.5L556.5,524.5L562,524.5L567.4,524.5L572.8,524.5L578.3,524.5L583.7,524.5L589.1,524.5L594.6,524.5L600,524.5L605.4,524.5L610.9,524.5L616.3,524.5L621.7,524.5L627.2,524.5L632.6,524.5L638,524.5L643.5,524.5L648.9,524.5L654.3,524.5L659.8,524.5L665.2,524.5L670.6,524.5L676.1,524.5L681.5,524.5L686.9,522.7L692.4,520.9L697.8,518.5L703.2,520.9L708.7,522.7L714.1,524.5L719.5,524.5L725,524.5L730.4,524.5L735.8,524.5L741.3,524.5L746.7,524.5M426.1,524.5L431.6,524.5L437,524.5L442.4,524.5L447.9,524.5L453.3,524.3L458.7,523L464.2,524.3L469.6,524.5L475,524.5L480.5,524.5L485.9,523.2L491.3,506.6L496.8,514.7L502.2,524.5L507.6,524.5L513.1,524.5L518.5,524.5L523.9,524.5L529.4,524.5L534.8,524.5L540.2,524.5L545.7,524.5L551.1,524.5L556.5,524.5L562,524.5L567.4,524.5L572.8,524.5L578.3,524.5L583.7,524.5L589.1,524.5L594.6,524.5L600,524.5L605.4,524.5L610.9,524.5L616.3,524.5L621.7,524.5L627.2,524.5L632.6,524.5L638,510.3L643.5,477.3L648.9,510.3L654.3,524.5L659.8,524.5L665.2,523L670.6,521.7L676.1,523L681.5,524.5L686.9,524.5L692.4,522.4L697.8,520.3L703.2,516.9L708.7,520.3L714.1,523.7L719.5,524.5L725,524.5L730.4,524.5L735.8,524.5L741.3,524.5L746.7,524.5M426.1,524.5L431.6,524.5L437,524.5L442.4,524.5L447.9,524.5L453.3,524.5L458.7,524.5L464.2,524.5L469.6,524.5L475,524.5L480.5,524.5L485.9,524.5L491.3,522.4L496.8,517.5L502.2,523.8L507.6,524.5L513.1,524.5L518.5,524.5L523.9,524.5L529.4,524.5L534.8,524.5L540.2,524.5L545.7,524.5L551.1,524.5L556.5,524.5L562,524.5L567.4,524.5L572.8,524.5L578.3,524.5L583.7,524.5L589.1,524.5L594.6,524.5L600,524.5L605.4,524.5L610.9,524.5L616.3,524.5L621.7,524.5L627.2,524.5L632.6,524.5L638,524.5L643.5,524.5L648.9,524.5L654.3,524.5L659.8,524.5L665.2,524.5L670.6,524.5L676.1,524.5L681.5,524.5L686.9,524.5L692.4,524.5L697.8,524.5L703.2,524.5L708.7,504.1L714.1,483.7L719.5,504.1L725,524.5L730.4,524.5L735.8,524.5L741.3,524.5L746.7,524.5M426.1,524.5L431.6,524.5L437,524.5L442.4,524.5L447.9,524.5L453.3,524.5L458.7,524.5L464.2,524.5L469.6,524.5L475,524.5L480.5,524.5L485.9,524.5L491.3,524.5L496.8,524.5L502.2,524.5L507.6,524.5L513.1,524.5L518.5,524.5L523.9,524.5L529.4,524.5L534.8,524.5L540.2,524.5L545.7,524.5L551.1,524.5L556.5,524.5L562,524.5L567.4,524.5L572.8,524.5L578.3,524.5L583.7,524.5L589.1,524.5L594.6,524.5L600,524.5L605.4,524.5L610.9,524.5L616.3,524.5L621.7,524.5L627.2,524.5L632.6,524L638,523.6L643.5,522.8L648.9,523.6L654.3,524L659.8,524.5L665.2,524.5L670.6,524.5L676.1,524.5L681.5,524.5L686.9,524.5L692.4,524.5L697.8,524.5L703.2,524.5L708.7,524.5L714.1,524.5L719.5,524.5L725,524.5L730.4,524.5L735.8,524.5L741.3,524.5L746.7,524.5M426.1,524.5L431.6,524.5L437,524.5L442.4,524.5L447.9,524.5L453.3,524.3L458.7,523L464.2,524.3L469.6,524.5L475,524.5L480.5,524.5L485.9,521.2L491.3,477.3L496.8,498.5L502.2,524.5L507.6,524.5L513.1,524.5L518.5,524.5L523.9,524.5L529.4,524.5L534.8,524.5L540.2,524.5L545.7,524.5L551.1,524.5L556.5,524.5L562,524.5L567.4,524.5L572.8,524.5L578.3,510.1L583.7,495.7L589.1,507.2L594.6,515.8L600,524.5L605.4,524.5L610.9,524.5L616.3,524.5L621.7,524.5L627.2,524.5L632.6,524.5L638,524.5L643.5,524.5L648.9,524.5L654.3,524.5L659.8,524.5L665.2,524.5L670.6,524.5L676.1,524.5L681.5,524.5L686.9,524.5L692.4,524.5L697.8,524.5L703.2,524.5L708.7,524.5L714.1,524.5L719.5,524.5L725,524.5L730.4,524.5L735.8,524.5L741.3,522.2L746.7,520.4M426.1,524.5L431.6,524.5L437,524.5L442.4,524.5L447.9,524.5L453.3,524.5L458.7,524.5L464.2,524.5L469.6,524.5L475,524.5L480.5,524.5L485.9,524L491.3,522L496.8,523.5L502.2,524.5L507.6,524.5L513.1,524.5L518.5,524.5L523.9,524.5L529.4,524.5L534.8,524.5L540.2,524.5L545.7,524.5L551.1,524.5L556.5,524.5L562,524.5L567.4,524.5L572.8,524.5L578.3,524.5L583.7,524.5L589.1,524.5L594.6,524.5L600,524.5L605.4,524.5L610.9,524.5L616.3,524.5L621.7,524.5L627.2,524.5L632.6,524.5L638,524.5L643.5,524.5L648.9,524.5L654.3,524.5L659.8,524.5L665.2,524.5L670.6,524.5L676.1,524.5L681.5,524.5L686.9,524.5L692.4,524.5L697.8,524.5L703.2,524.5L708.7,524.5L714.1,524.5L719.5,524.5L725,524.5L730.4,524.5L735.8,517.8L741.3,511.1L746.7,497.7M426.1,524.5L431.6,524.5L437,524.5L442.4,524.5L447.9,524.5L453.3,524.5L458.7,524.5L464.2,524.5L469.6,524.5L475,524.5L480.5,524.5L485.9,524.5L491.3,524.5L496.8,524.5L502.2,524.5L507.6,524.5L513.1,524.5L518.5,524.5L523.9,524.5L529.4,522.7L534.8,478.8L540.2,487.9L545.7,500.1L551.1,512.3L556.5,524.5L562,524.5L567.4,524.5L572.8,524.5L578.3,524.5L583.7,524.5L589.1,524.5L594.6,521.6L600,519.3L605.4,521.6L610.9,524.5L616.3,522.2L621.7,520.4L627.2,522.2L632.6,524.5L638,524.5L643.5,524.5L648.9,524.5L654.3,524.5L659.8,524.5L665.2,524.5L670.6,524.5L676.1,524.5L681.5,524.5L686.9,524.5L692.4,524.5L697.8,524.5L703.2,524.5L708.7,524.5L714.1,524.5L719.5,524.5L725,524.5L730.4,524.5L735.8,524.5L741.3,524.5L746.7,524.5M426.1,524.5L431.6,524.5L437,524.5L442.4,524.5L447.9,524.5L453.3,524.5L458.7,524.5L464.2,524.5L469.6,524.5L475,524.5L480.5,524.5L485.9,520.9L491.3,472.8L496.8,496.1L502.2,524.5L507.6,524.5L513.1,524.5L518.5,524.5L523.9,524.5L529.4,524.5L534.8,524.5L540.2,524.5L545.7,524.5L551.1,524.5L556.5,524.5L562,524.5L567.4,523.4L572.8,522.3L578.3,508.9L583.7,499.3L589.1,485.1L594.6,495.8L600,505.4L605.4,514.9L610.9,524.5L616.3,524.5L621.7,524.5L627.2,524.5L632.6,524.5L638,524.5L643.5,524.5L648.9,524.5L654.3,524.5L659.8,524.5L665.2,524.5L670.6,524.5L676.1,524.5L681.5,524.5L686.9,524.5L692.4,524.5L697.8,524.5L703.2,524.5L708.7,524.5L714.1,524.5L719.5,524.5L725,524.5L730.4,524.5L735.8,524.5L741.3,524.5L746.7,524.5M426.1,524.5L431.6,524.5L437,524.5L442.4,524.5L447.9,524.5L453.3,524.5L458.7,524.5L464.2,524.5L469.6,524.5L475,524.5L480.5,524.5L485.9,521.5L491.3,481.7L496.8,501L502.2,524.5L507.6,524.5L513.1,524.5L518.5,524.5L523.9,524.5L529.4,524.5L534.8,524.5L540.2,524.5L545.7,524.5L551.1,524.5L556.5,524.5L562,524.5L567.4,524.5L572.8,524.5L578.3,517.9L583.7,511.4L589.1,502.6L594.6,511.4L600,515.1L605.4,519.4L610.9,521.7L616.3,524.5L621.7,524.5L627.2,524.5L632.6,524.5L638,524.5L643.5,524.5L648.9,524.5L654.3,524.5L659.8,524.5L665.2,524.5L670.6,524.5L676.1,524.5L681.5,524.5L686.9,524.5L692.4,524.5L697.8,524.5L703.2,524.5L708.7,524.5L714.1,524.5L719.5,524.5L725,524.5L730.4,524.5L735.8,524.5L741.3,524.5L746.7,524.5M426.1,524.5L431.6,524.5L437,524.5L442.4,524.5L447.9,524.5L453.3,519.9L458.7,491.7L464.2,519.9L469.6,524.5L475,524.5L480.5,524.5L485.9,524.5L491.3,524.5L496.8,524.5L502.2,524.5L507.6,524.5L513.1,524.5L518.5,524.5L523.9,524.5L529.4,524.5L534.8,524.5L540.2,524.5L545.7,524.5L551.1,522.1L556.5,519.7L562,516.5L567.4,519.7L572.8,522.1L578.3,524.5L583.7,524.5L589.1,524.5L594.6,524.5L600,522L605.4,519.9L610.9,522L616.3,524.5L621.7,524.5L627.2,524.5L632.6,524.5L638,524.5L643.5,524.5L648.9,524.5L654.3,524.5L659.8,524.5L665.2,524.5L670.6,524.5L676.1,524.5L681.5,524.5L686.9,524.5L692.4,524.5L697.8,524.5L703.2,524.5L708.7,524.5L714.1,524.5L719.5,524.5L725,524.5L730.4,524.5L735.8,524.5L741.3,524.5L746.7,524.5M426.1,524.5L431.6,524.5L437,524.5L442.4,524.5L447.9,524.5L453.3,523.7L458.7,518.5L464.2,523.7L469.6,524.5L475,524.5L480.5,524.5L485.9,524.5L491.3,524.5L496.8,524.5L502.2,524.5L507.6,524.5L513.1,524.5L518.5,524.5L523.9,524.5L529.4,524.5L534.8,524.5L540.2,524.5L545.7,524.5L551.1,524.5L556.5,524.5L562,524.5L567.4,524.5L572.8,524.5L578.3,524.5L583.7,524.5L589.1,523.6L594.6,522.7L600,521.2L605.4,522.7L610.9,523.6L616.3,524.5L621.7,524.5L627.2,524.5L632.6,524.5L638,524.5L643.5,524.5L648.9,524.5L654.3,521.8L659.8,517.7L665.2,518.4L670.6,521.3L676.1,524.5L681.5,524.5L686.9,524.5L692.4,524.5L697.8,524.5L703.2,524.5L708.7,524.5L714.1,524.5L719.5,524.5L725,524.5L730.4,524.5L735.8,524.5L741.3,524.5L746.7,524.5M426.1,524.5L431.6,524.5L437,524.5L442.4,524.5L447.9,524.5L453.3,524.5L458.7,524.5L464.2,524.5L469.6,524.5L475,524.5L480.5,524.5L485.9,524.5L491.3,524.5L496.8,524.5L502.2,524.5L507.6,524.5L513.1,524.5L518.5,524.5L523.9,524.5L529.4,524.5L534.8,524.5L540.2,524.5L545.7,524.5L551.1,524.5L556.5,524.5L562,524.5L567.4,524.5L572.8,524.5L578.3,524.5L583.7,524.5L589.1,524.5L594.6,524.5L600,524.5L605.4,524.5L610.9,524.5L616.3,524.5L621.7,524.5L627.2,524.5L632.6,524.5L638,524.5L643.5,524.5L648.9,524.5L654.3,524.5L659.8,524.5L665.2,522.7L670.6,521.2L676.1,522.7L681.5,524.5L686.9,524.5L692.4,524.5L697.8,524.5L703.2,524.5L708.7,524.5L714.1,524.5L719.5,524.5L725,524.5L730.4,524.5L735.8,523.6L741.3,522.7L746.7,521.2M426.1,524.5L431.6,524.5L437,524.5L442.4,524.5L447.9,524.5L453.3,524.5L458.7,524.5L464.2,524.5L469.6,524.5L475,524.5L480.5,524.5L485.9,524.5L491.3,524.5L496.8,524.5L502.2,524.5L507.6,524.5L513.1,524.5L518.5,524.5L523.9,524.5L529.4,524.5L534.8,524.5L540.2,524.5L545.7,524.5L551.1,524.5L556.5,523.6L562,522.7L567.4,521.1L572.8,522.7L578.3,523.6L583.7,524.5L589.1,524.5L594.6,524.5L600,524.5L605.4,524.5L610.9,524.5L616.3,524.5L621.7,524.5L627.2,524.5L632.6,524.5L638,524.5L643.5,524.5L648.9,524.5L654.3,524.5L659.8,524.5L665.2,524.5L670.6,524.5L676.1,524.5L681.5,524.5L686.9,524.5L692.4,524.5L697.8,524.5L703.2,524.5L708.7,524.5L714.1,524.5L719.5,524.5L725,524.5L730.4,524.5L735.8,524.5L741.3,524.5L746.7,524.5M426.1,524.5L431.6,524.5L437,524.5L442.4,524.5L447.9,524.5L453.3,524.5L458.7,524.5L464.2,524.5L469.6,524.5L475,524.5L480.5,524.5L485.9,524.1L491.3,522.5L496.8,523.7L502.2,524.5L507.6,524.5L513.1,524.5L518.5,524.5L523.9,524.5L529.4,524.5L534.8,524.5L540.2,524.5L545.7,524.5L551.1,524.5L556.5,524.5L562,524.5L567.4,524.5L572.8,524.5L578.3,524.5L583.7,524.5L589.1,524.5L594.6,524.5L600,524.5L605.4,524.5L610.9,524.5L616.3,524.5L621.7,524.5L627.2,524.5L632.6,524.5L638,524.5L643.5,524.5L648.9,524.5L654.3,524.5L659.8,524.5L665.2,524.5L670.6,524.5L676.1,524.5L681.5,524.5L686.9,524.5L692.4,524.5L697.8,523.5L703.2,522.6L708.7,523.5L714.1,524L719.5,524.5L725,524.5L730.4,524.5L735.8,520.5L741.3,516.5L746.7,508.6M426.1,524.5L431.6,524.5L437,524.5L442.4,524.5L447.9,524.5L453.3,524.5L458.7,524.5L464.2,524.5L469.6,524.5L475,524.5L480.5,524.5L485.9,524.5L491.3,520.3L496.8,510.6L502.2,523.1L507.6,524.5L513.1,524.5L518.5,524.5L523.9,524.5L529.4,524.5L534.8,524.5L540.2,524.5L545.7,524.5L551.1,524.5L556.5,524.5L562,524.5L567.4,524.5L572.8,524.2L578.3,523.9L583.7,523.3L589.1,523.9L594.6,524.5L600,524.5L605.4,524.5L610.9,524.5L616.3,524.5L621.7,524.5L627.2,524.5L632.6,524.5L638,524.5L643.5,524.5L648.9,524.5L654.3,524.5L659.8,524.5L665.2,524.5L670.6,524.5L676.1,524.5L681.5,524.5L686.9,524.5L692.4,524L697.8,523.5L703.2,509.2L708.7,496.6L714.1,479.2L719.5,506L725,523.4L730.4,521.2L735.8,519.7L741.3,517.5L746.7,518M426.1,524.5L431.6,524.5L437,524.5L442.4,524.5L447.9,524.5L453.3,524.2L458.7,522.5L464.2,524.2L469.6,524.5L475,524.5L480.5,524.5L485.9,521.8L491.3,485.7L496.8,503.2L502.2,524.5L507.6,524.5L513.1,524.5L518.5,524.5L523.9,524.5L529.4,524.5L534.8,524.5L540.2,524.5L545.7,524.5L551.1,524.5L556.5,524.5L562,524.5L567.4,521.6L572.8,519.2L578.3,517.9L583.7,517L589.1,509.6L594.6,517L600,520.8L605.4,524.5L610.9,524.5L616.3,524.5L621.7,524.5L627.2,524.5L632.6,524.5L638,524.5L643.5,524.5L648.9,524.5L654.3,524.5L659.8,524.5L665.2,524.5L670.6,524.5L676.1,523.5L681.5,522.5L686.9,520.9L692.4,522.5L697.8,523.5L703.2,524.5L708.7,524.5L714.1,524.5L719.5,524.5L725,524.5L730.4,524.5L735.8,524.5L741.3,524.5L746.7,524.5M426.1,524.5L431.6,524.5L437,524.5L442.4,524.5L447.9,524.5L453.3,524.5L458.7,524.5L464.2,524.5L469.6,524.5L475,524.5L480.5,524.5L485.9,524.2L491.3,523L496.8,523.9L502.2,524.5L507.6,524.5L513.1,524.5L518.5,524.5L523.9,524.5L529.4,524.5L534.8,524.5L540.2,524.5L545.7,524.5L551.1,524.5L556.5,524.5L562,524.5L567.4,524.5L572.8,524.5L578.3,524.5L583.7,524.5L589.1,524.5L594.6,524.5L600,522.9L605.4,521.5L610.9,522.9L616.3,523.7L621.7,524.5L627.2,524.5L632.6,524.5L638,524.5L643.5,520.5L648.9,516.5L654.3,520.5L659.8,522.5L665.2,524.5L670.6,524.5L676.1,524.5L681.5,524.5L686.9,524.5L692.4,524.5L697.8,524.5L703.2,524.5L708.7,524.5L714.1,524.5L719.5,524.5L725,524.5L730.4,524.5L735.8,524.5L741.3,524.5L746.7,524.5"/>
<path class="oper" d="M426.13,524.5L431.57,524.5L437,524.5L442.43,524.5L447.87,524.5L453.3,523.01L458.73,521.02L464.17,523.51L469.6,524.5L475.03,524.5L480.47,524.5L485.9,524.5L491.33,524L496.77,524.5L502.2,524.5L507.63,524.5L513.07,524.5L518.5,524.5L523.93,524.5L529.37,524.5L534.8,524.5L540.23,524.5L545.67,524.5L551.1,524.5L556.53,524.5L561.97,524.5L567.4,524.5L572.83,524.5L578.27,524.5L583.7,524.5L589.13,524.5L594.57,524.5L600,524.5L605.43,524.5L610.87,524.5L616.3,524.5L621.73,524.5L627.17,524.5L632.6,524.5L638.03,524.5"/>
<path class="ctrl" d="M426.13,524.5L431.57,524.5L437,524.5L442.43,524.5L447.87,524.5L453.3,524.5L458.73,523.01L464.17,524.5L469.6,524.5L475.03,524.5L480.47,524.5L485.9,524.5L491.33,523.51L496.77,524.5L502.2,524.5L507.63,524.5L513.07,524.5L518.5,524.5L523.93,524.5L529.37,524.5L534.8,524.5L540.23,524.5L545.67,524.5L551.1,524.5L556.53,524.5L561.97,524.5L567.4,524.5L572.83,524.5L578.27,524.5L583.7,524.5L589.13,524.5L594.57,524.5L600,524.5L605.43,524.5L610.87,524.5L616.3,524.5L621.73,524.5L627.17,524.5L632.6,524.5L638.03,523.51L643.47,520.03L648.9,524L654.33,524.5L659.77,524.5L665.2,524.5L670.63,524.5L676.07,524.5L681.5,524.5L686.93,524.5L692.37,524.5L697.8,524.5L703.23,524.5L708.67,524.5L714.1,524.5L719.53,524.5L724.97,524.5L730.4,524.5L735.83,524.5L741.27,524.5L746.7,524.5"/>
<path class="ax" style="stroke:#1c1c1c;stroke-width:1.3px" d="M420.2,524.5H747.2"/>
<path class="mean" d="M426.13,524.5L431.57,524.5L437,524.5L442.43,524.5L447.87,524.5L453.3,524.1L458.73,521.66L464.17,524.1L469.6,524.5L475.03,524.5L480.47,524.5L485.9,523.91L491.33,516.48L496.77,518.33L502.2,524.28L507.63,524.24L513.07,523.76L518.5,524.28L523.93,524.5L529.37,524.46L534.8,523.59L540.23,523.77L545.67,524.01L551.1,524.14L556.53,524.03L561.97,524.01L567.4,523.84L572.83,523.98L578.27,523.26L583.7,522.63L589.13,522.27L594.57,522.77L600,523.2L605.43,523.57L610.87,524.09L616.3,524.17L621.73,524.16L627.17,523.75L632.6,522.15L638.03,523.8L643.47,523.14L648.9,523.75L654.33,523.84L659.77,523.1L665.2,522.93L670.63,523.17L676.07,523.9L681.5,523.62L686.93,522.51L692.37,523.29L697.8,523.83L703.23,522.97L708.67,520.72L714.1,519.15L719.53,521.24L724.97,523.77L730.4,524.05L735.83,523.51L741.27,523.06L746.7,522.93"/>
</g>
<path class="ax" style="stroke:#555;stroke-width:1px" d="M420.2,385.3H747.2"/>
<path class="ax" style="stroke:#303030;stroke-width:1.5px" d="M746.8,384.8V525.1"/>
<path class="ax" style="stroke:#111;stroke-width:1.4px" d="M420.7,384.8V525.1"/>
<text class="yt" transform="translate(414.5,528.25) scale(1,1.05)" text-anchor="end">0</text>
<text class="yt" transform="translate(751.8,528.25) scale(1,1.05)">0</text>
<text class="yt" transform="translate(414.5,508.36) scale(1,1.05)" text-anchor="end">2</text>
<text class="yt" transform="translate(751.8,508.36) scale(1,1.05)">2</text>
<text class="yt" transform="translate(414.5,488.48) scale(1,1.05)" text-anchor="end">4</text>
<text class="yt" transform="translate(751.8,488.48) scale(1,1.05)">4</text>
<text class="yt" transform="translate(414.5,468.59) scale(1,1.05)" text-anchor="end">6</text>
<text class="yt" transform="translate(751.8,468.59) scale(1,1.05)">6</text>
<text class="yt" transform="translate(414.5,448.71) scale(1,1.05)" text-anchor="end">8</text>
<text class="yt" transform="translate(751.8,448.71) scale(1,1.05)">8</text>
<text class="yt" transform="translate(414.5,428.82) scale(1,1.05)" text-anchor="end">10</text>
<text class="yt" transform="translate(751.8,428.82) scale(1,1.05)">10</text>
<text class="yt" transform="translate(414.5,408.94) scale(1,1.05)" text-anchor="end">12</text>
<text class="yt" transform="translate(751.8,408.94) scale(1,1.05)">12</text>
<text class="yt" transform="translate(414.5,389.05) scale(1,1.05)" text-anchor="end">14</text>
<text class="yt" transform="translate(751.8,389.05) scale(1,1.05)">14</text>
<path class="tk" d="M420.7,524.5h-4.3M746.7,524.5h3.44M420.7,514.56h-2M746.7,514.56h1.6M420.7,504.61h-4.3M746.7,504.61h3.44M420.7,494.67h-2M746.7,494.67h1.6M420.7,484.73h-4.3M746.7,484.73h3.44M420.7,474.79h-2M746.7,474.79h1.6M420.7,464.84h-4.3M746.7,464.84h3.44M420.7,454.9h-2M746.7,454.9h1.6M420.7,444.96h-4.3M746.7,444.96h3.44M420.7,435.01h-2M746.7,435.01h1.6M420.7,425.07h-4.3M746.7,425.07h3.44M420.7,415.13h-2M746.7,415.13h1.6M420.7,405.19h-4.3M746.7,405.19h3.44M420.7,395.24h-2M746.7,395.24h1.6M420.7,385.3h-4.3M746.7,385.3h3.44"/>
<path class="xtk" d="M426.13,524.5v4.3M431.57,524.5v4.3M437,524.5v4.3M447.87,524.5v4.3M453.3,524.5v4.3M458.73,524.5v4.3M469.6,524.5v4.3M475.03,524.5v4.3M480.47,524.5v4.3M491.33,524.5v4.3M496.77,524.5v4.3M502.2,524.5v4.3M513.07,524.5v4.3M518.5,524.5v4.3M523.93,524.5v4.3M534.8,524.5v4.3M540.23,524.5v4.3M545.67,524.5v4.3M556.53,524.5v4.3M561.97,524.5v4.3M567.4,524.5v4.3M578.27,524.5v4.3M583.7,524.5v4.3M589.13,524.5v4.3M600,524.5v4.3M605.43,524.5v4.3M610.87,524.5v4.3M621.73,524.5v4.3M627.17,524.5v4.3M632.6,524.5v4.3M643.47,524.5v4.3M648.9,524.5v4.3M654.33,524.5v4.3M665.2,524.5v4.3M670.63,524.5v4.3M676.07,524.5v4.3M686.93,524.5v4.3M692.37,524.5v4.3M697.8,524.5v4.3M708.67,524.5v4.3M714.1,524.5v4.3M719.53,524.5v4.3M730.4,524.5v4.3M735.83,524.5v4.3M741.27,524.5v4.3"/>
<text class="z" x="420.1" y="529.7" text-anchor="middle">00</text>
<text class="z" x="441.83" y="529.7" text-anchor="middle">00</text>
<text class="z" x="463.57" y="529.7" text-anchor="middle">00</text>
<text class="z" x="485.3" y="529.7" text-anchor="middle">00</text>
<text class="z" x="507.03" y="529.7" text-anchor="middle">00</text>
<text class="z" x="528.77" y="529.7" text-anchor="middle">00</text>
<text class="z" x="550.5" y="529.7" text-anchor="middle">00</text>
<text class="z" x="572.23" y="529.7" text-anchor="middle">00</text>
<text class="z" x="593.97" y="529.7" text-anchor="middle">00</text>
<text class="z" x="615.7" y="529.7" text-anchor="middle">00</text>
<text class="z" x="637.43" y="529.7" text-anchor="middle">00</text>
<text class="z" x="659.17" y="529.7" text-anchor="middle">00</text>
<text class="z" x="680.9" y="529.7" text-anchor="middle">00</text>
<text class="z" x="702.63" y="529.7" text-anchor="middle">00</text>
<text class="z" x="724.37" y="529.7" text-anchor="middle">00</text>
<text class="z" x="746.1" y="529.7" text-anchor="middle">00</text>
<text class="dy" x="431.77" y="534.9" text-anchor="middle">Do</text>
<text class="dy" x="453.5" y="534.9" text-anchor="middle">Vr</text>
<text class="dy" x="475.23" y="534.9" text-anchor="middle">Za</text>
<text class="dy" x="496.97" y="534.9" text-anchor="middle">Zo</text>
<text class="dy" x="518.7" y="534.9" text-anchor="middle">Ma</text>
<text class="dy" x="540.43" y="534.9" text-anchor="middle">Di</text>
<text class="dy" x="562.17" y="534.9" text-anchor="middle">Wo</text>
<text class="dy" x="583.9" y="534.9" text-anchor="middle">Do</text>
<text class="dy" x="605.63" y="534.9" text-anchor="middle">Vr</text>
<text class="dy" x="627.37" y="534.9" text-anchor="middle">Za</text>
<text class="dy" x="649.1" y="534.9" text-anchor="middle">Zo</text>
<text class="dy" x="670.83" y="534.9" text-anchor="middle">Ma</text>
<text class="dy" x="692.57" y="534.9" text-anchor="middle">Di</text>
<text class="dy" x="714.3" y="534.9" text-anchor="middle">Wo</text>
<text class="dy" x="736.03" y="534.9" text-anchor="middle">Do</text>
<text class="xl" x="583.7" y="545.8" text-anchor="middle">Dag</text>
<text class="yl" transform="translate(404.7,454.9) scale(1.2,1) rotate(-90)" text-anchor="middle">cm</text>
<line class="ctrl" style="stroke:#1010ff;stroke-width:0.9px;stroke-dasharray:3.9 2.1" x1="423" x2="445" y1="393.5" y2="393.5"/>
<line class="oper" style="stroke:#ff3c3c;stroke-width:1.5px" x1="423" x2="445" y1="400.2" y2="400.2"/>
<line class="mean lg" x1="423" x2="445" y1="406.6" y2="406.6"/>
<text class="lg" x="467.7" y="396.1" text-anchor="middle">Control</text>
<text class="lg" x="467.7" y="402.5" text-anchor="middle">Oper</text>
<text class="lg" x="467.7" y="409.2" text-anchor="middle">Ens mn</text>
<text class="st" x="707.8" y="395.3" text-anchor="middle">De Bilt</text>
<text class="st" x="707.8" y="406.1" text-anchor="middle">Sneeuwval/6 uur</text>
<text class="br" x="698.9" y="546.1" textLength="65.6" lengthAdjust="spacing">Bron: ECMWF/KNMI</text>
</g>
</svg></body></html>
